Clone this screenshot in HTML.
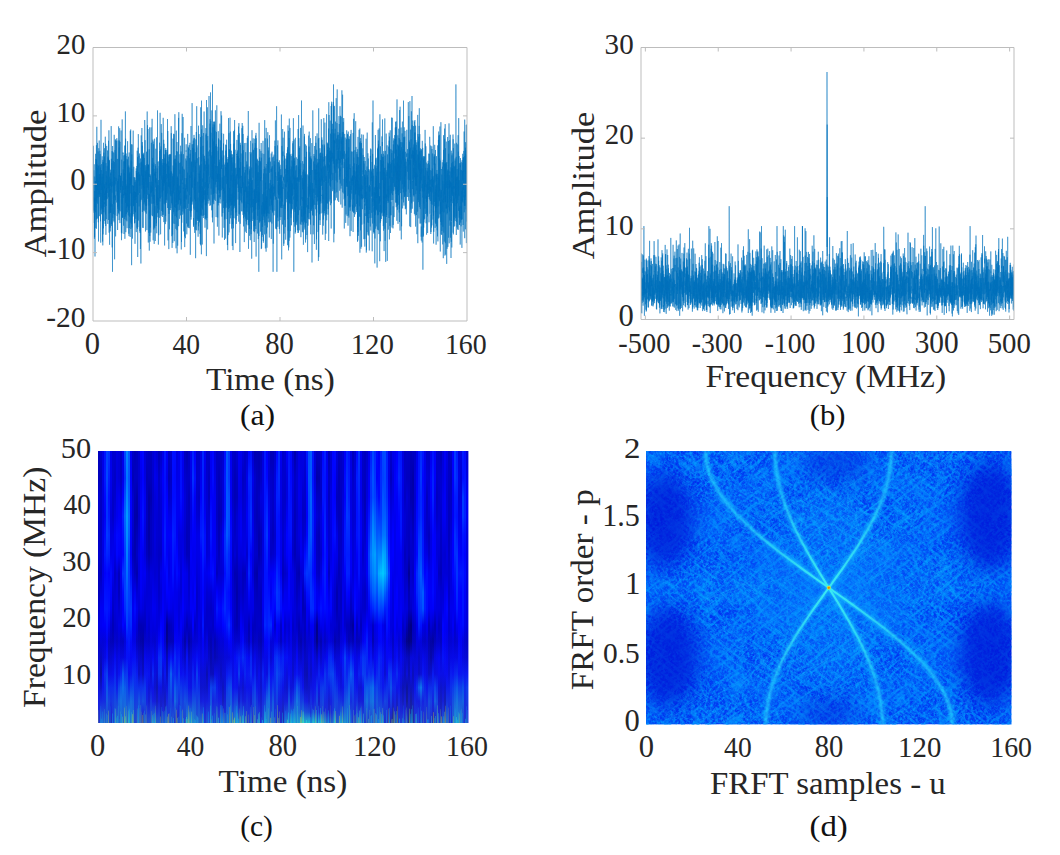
<!DOCTYPE html><html><head><meta charset="utf-8"><style>html,body{margin:0;padding:0;background:#fff;}svg{display:block;}</style></head><body><svg width="1060" height="855" viewBox="0 0 1060 855" style="font-family:&quot;Liberation Serif&quot;, serif">
<defs><linearGradient id="c0" x2="0" y2="1"><stop offset="0" stop-color="#0000bf"/><stop offset="0.04" stop-color="#0000be"/><stop offset="0.1" stop-color="#0000bd"/><stop offset="0.17" stop-color="#0000d2"/><stop offset="0.24" stop-color="#0000cf"/><stop offset="0.31" stop-color="#0000c8"/><stop offset="0.38" stop-color="#0000d2"/><stop offset="0.45" stop-color="#0000c1"/><stop offset="0.52" stop-color="#0000be"/><stop offset="0.58" stop-color="#0000ce"/><stop offset="0.64" stop-color="#0000e4"/><stop offset="0.7" stop-color="#0000cf"/><stop offset="0.76" stop-color="#0000d3"/><stop offset="0.82" stop-color="#0000e5"/><stop offset="0.87" stop-color="#0000f2"/><stop offset="0.92" stop-color="#0001ff"/><stop offset="0.96" stop-color="#0005ff"/><stop offset="1" stop-color="#000aff"/></linearGradient><linearGradient id="c1" x2="0" y2="1"><stop offset="0" stop-color="#0000d0"/><stop offset="0.04" stop-color="#0000c6"/><stop offset="0.1" stop-color="#0000b7"/><stop offset="0.17" stop-color="#0000c2"/><stop offset="0.24" stop-color="#0000be"/><stop offset="0.31" stop-color="#0000bf"/><stop offset="0.38" stop-color="#0000c5"/><stop offset="0.45" stop-color="#0000ba"/><stop offset="0.52" stop-color="#0000dc"/><stop offset="0.58" stop-color="#0000f3"/><stop offset="0.64" stop-color="#0000f2"/><stop offset="0.7" stop-color="#0000dd"/><stop offset="0.76" stop-color="#0000c4"/><stop offset="0.82" stop-color="#0000a5"/><stop offset="0.87" stop-color="#0000d7"/><stop offset="0.92" stop-color="#000dff"/><stop offset="0.96" stop-color="#0032ff"/><stop offset="1" stop-color="#0055ff"/></linearGradient><linearGradient id="c2" x2="0" y2="1"><stop offset="0" stop-color="#0000e5"/><stop offset="0.04" stop-color="#0000e5"/><stop offset="0.1" stop-color="#0000e4"/><stop offset="0.17" stop-color="#0000dc"/><stop offset="0.24" stop-color="#0000dd"/><stop offset="0.31" stop-color="#0000e5"/><stop offset="0.38" stop-color="#0000de"/><stop offset="0.45" stop-color="#0000e4"/><stop offset="0.52" stop-color="#0000e5"/><stop offset="0.58" stop-color="#0000f5"/><stop offset="0.64" stop-color="#0000f9"/><stop offset="0.7" stop-color="#0000da"/><stop offset="0.76" stop-color="#0000dc"/><stop offset="0.82" stop-color="#0001ff"/><stop offset="0.87" stop-color="#0005ff"/><stop offset="0.92" stop-color="#0011ff"/><stop offset="0.96" stop-color="#002fff"/><stop offset="1" stop-color="#004cff"/></linearGradient><linearGradient id="c3" x2="0" y2="1"><stop offset="0" stop-color="#0013ff"/><stop offset="0.04" stop-color="#0014ff"/><stop offset="0.1" stop-color="#0017ff"/><stop offset="0.17" stop-color="#0006ff"/><stop offset="0.24" stop-color="#0000f6"/><stop offset="0.31" stop-color="#000aff"/><stop offset="0.38" stop-color="#0015ff"/><stop offset="0.45" stop-color="#0000fb"/><stop offset="0.52" stop-color="#0010ff"/><stop offset="0.58" stop-color="#0017ff"/><stop offset="0.64" stop-color="#0000fc"/><stop offset="0.7" stop-color="#0000df"/><stop offset="0.76" stop-color="#0000ec"/><stop offset="0.82" stop-color="#0024ff"/><stop offset="0.87" stop-color="#0018ff"/><stop offset="0.92" stop-color="#0013ff"/><stop offset="0.96" stop-color="#002bff"/><stop offset="1" stop-color="#0043ff"/></linearGradient><linearGradient id="c4" x2="0" y2="1"><stop offset="0" stop-color="#003eff"/><stop offset="0.04" stop-color="#0042ff"/><stop offset="0.1" stop-color="#0046ff"/><stop offset="0.17" stop-color="#0036ff"/><stop offset="0.24" stop-color="#0031ff"/><stop offset="0.31" stop-color="#0039ff"/><stop offset="0.38" stop-color="#0025ff"/><stop offset="0.45" stop-color="#0007ff"/><stop offset="0.52" stop-color="#000eff"/><stop offset="0.58" stop-color="#0018ff"/><stop offset="0.64" stop-color="#000dff"/><stop offset="0.7" stop-color="#0000f6"/><stop offset="0.76" stop-color="#0008ff"/><stop offset="0.82" stop-color="#0034ff"/><stop offset="0.87" stop-color="#004bff"/><stop offset="0.92" stop-color="#004dff"/><stop offset="0.96" stop-color="#0038ff"/><stop offset="1" stop-color="#0023ff"/></linearGradient><linearGradient id="c5" x2="0" y2="1"><stop offset="0" stop-color="#0035ff"/><stop offset="0.04" stop-color="#002dff"/><stop offset="0.1" stop-color="#001eff"/><stop offset="0.17" stop-color="#000fff"/><stop offset="0.24" stop-color="#0018ff"/><stop offset="0.31" stop-color="#002cff"/><stop offset="0.38" stop-color="#001eff"/><stop offset="0.45" stop-color="#0000fb"/><stop offset="0.52" stop-color="#000cff"/><stop offset="0.58" stop-color="#0010ff"/><stop offset="0.64" stop-color="#0000f6"/><stop offset="0.7" stop-color="#0000ca"/><stop offset="0.76" stop-color="#0000d2"/><stop offset="0.82" stop-color="#0000f5"/><stop offset="0.87" stop-color="#001fff"/><stop offset="0.92" stop-color="#002dff"/><stop offset="0.96" stop-color="#0025ff"/><stop offset="1" stop-color="#001dff"/></linearGradient><linearGradient id="c6" x2="0" y2="1"><stop offset="0" stop-color="#0000e9"/><stop offset="0.04" stop-color="#0000ea"/><stop offset="0.1" stop-color="#0000ed"/><stop offset="0.17" stop-color="#0000e4"/><stop offset="0.24" stop-color="#0000d7"/><stop offset="0.31" stop-color="#0000df"/><stop offset="0.38" stop-color="#0000e9"/><stop offset="0.45" stop-color="#0009ff"/><stop offset="0.52" stop-color="#0003ff"/><stop offset="0.58" stop-color="#0000f3"/><stop offset="0.64" stop-color="#0000cf"/><stop offset="0.7" stop-color="#0000bc"/><stop offset="0.76" stop-color="#0000d6"/><stop offset="0.82" stop-color="#0000f4"/><stop offset="0.87" stop-color="#001cff"/><stop offset="0.92" stop-color="#001dff"/><stop offset="0.96" stop-color="#0000ff"/><stop offset="1" stop-color="#0000e2"/></linearGradient><linearGradient id="c7" x2="0" y2="1"><stop offset="0" stop-color="#0000cf"/><stop offset="0.04" stop-color="#0000cf"/><stop offset="0.1" stop-color="#0000cf"/><stop offset="0.17" stop-color="#0000c6"/><stop offset="0.24" stop-color="#0000c8"/><stop offset="0.31" stop-color="#0000e1"/><stop offset="0.38" stop-color="#0000ed"/><stop offset="0.45" stop-color="#0000ed"/><stop offset="0.52" stop-color="#0000d2"/><stop offset="0.58" stop-color="#0000c6"/><stop offset="0.64" stop-color="#0000b8"/><stop offset="0.7" stop-color="#0000b9"/><stop offset="0.76" stop-color="#0000df"/><stop offset="0.82" stop-color="#0000fb"/><stop offset="0.87" stop-color="#001dff"/><stop offset="0.92" stop-color="#0025ff"/><stop offset="0.96" stop-color="#001fff"/><stop offset="1" stop-color="#0018ff"/></linearGradient><linearGradient id="c8" x2="0" y2="1"><stop offset="0" stop-color="#0000d1"/><stop offset="0.04" stop-color="#0000cd"/><stop offset="0.1" stop-color="#0000c5"/><stop offset="0.17" stop-color="#0000cd"/><stop offset="0.24" stop-color="#0000df"/><stop offset="0.31" stop-color="#0000f6"/><stop offset="0.38" stop-color="#0000e6"/><stop offset="0.45" stop-color="#0000c7"/><stop offset="0.52" stop-color="#0000d3"/><stop offset="0.58" stop-color="#0000d8"/><stop offset="0.64" stop-color="#0000cc"/><stop offset="0.7" stop-color="#0000d0"/><stop offset="0.76" stop-color="#0000fb"/><stop offset="0.82" stop-color="#0019ff"/><stop offset="0.87" stop-color="#002cff"/><stop offset="0.92" stop-color="#0034ff"/><stop offset="0.96" stop-color="#0033ff"/><stop offset="1" stop-color="#0032ff"/></linearGradient><linearGradient id="c9" x2="0" y2="1"><stop offset="0" stop-color="#0000df"/><stop offset="0.04" stop-color="#0000df"/><stop offset="0.1" stop-color="#0000e0"/><stop offset="0.17" stop-color="#0000eb"/><stop offset="0.24" stop-color="#0000ee"/><stop offset="0.31" stop-color="#0008ff"/><stop offset="0.38" stop-color="#0005ff"/><stop offset="0.45" stop-color="#0000d9"/><stop offset="0.52" stop-color="#0000db"/><stop offset="0.58" stop-color="#0000de"/><stop offset="0.64" stop-color="#0000d5"/><stop offset="0.7" stop-color="#0000c8"/><stop offset="0.76" stop-color="#0000e3"/><stop offset="0.82" stop-color="#0000ee"/><stop offset="0.87" stop-color="#000bff"/><stop offset="0.92" stop-color="#002bff"/><stop offset="0.96" stop-color="#0041ff"/><stop offset="1" stop-color="#0056ff"/></linearGradient><linearGradient id="c10" x2="0" y2="1"><stop offset="0" stop-color="#0000da"/><stop offset="0.04" stop-color="#0000d9"/><stop offset="0.1" stop-color="#0000d8"/><stop offset="0.17" stop-color="#0000f0"/><stop offset="0.24" stop-color="#0000f8"/><stop offset="0.31" stop-color="#0005ff"/><stop offset="0.38" stop-color="#0000fa"/><stop offset="0.45" stop-color="#0000bd"/><stop offset="0.52" stop-color="#0000bd"/><stop offset="0.58" stop-color="#0000d0"/><stop offset="0.64" stop-color="#0000e4"/><stop offset="0.7" stop-color="#0000d4"/><stop offset="0.76" stop-color="#0000ee"/><stop offset="0.82" stop-color="#0006ff"/><stop offset="0.87" stop-color="#003aff"/><stop offset="0.92" stop-color="#0057ff"/><stop offset="0.96" stop-color="#0047ff"/><stop offset="1" stop-color="#0035ff"/></linearGradient><linearGradient id="c11" x2="0" y2="1"><stop offset="0" stop-color="#0000c4"/><stop offset="0.04" stop-color="#0000c3"/><stop offset="0.1" stop-color="#0000c4"/><stop offset="0.17" stop-color="#0000d8"/><stop offset="0.24" stop-color="#0000f1"/><stop offset="0.31" stop-color="#0000f9"/><stop offset="0.38" stop-color="#0000f3"/><stop offset="0.45" stop-color="#0000ed"/><stop offset="0.52" stop-color="#0000e6"/><stop offset="0.58" stop-color="#0000e5"/><stop offset="0.64" stop-color="#0000e0"/><stop offset="0.7" stop-color="#0000c5"/><stop offset="0.76" stop-color="#0000e2"/><stop offset="0.82" stop-color="#0018ff"/><stop offset="0.87" stop-color="#0052ff"/><stop offset="0.92" stop-color="#0068ff"/><stop offset="0.96" stop-color="#005dff"/><stop offset="1" stop-color="#0051ff"/></linearGradient><linearGradient id="c12" x2="0" y2="1"><stop offset="0" stop-color="#0000e9"/><stop offset="0.04" stop-color="#0000e8"/><stop offset="0.1" stop-color="#0000e6"/><stop offset="0.17" stop-color="#0002ff"/><stop offset="0.24" stop-color="#001fff"/><stop offset="0.31" stop-color="#000fff"/><stop offset="0.38" stop-color="#0002ff"/><stop offset="0.45" stop-color="#0037ff"/><stop offset="0.52" stop-color="#000aff"/><stop offset="0.58" stop-color="#0000fc"/><stop offset="0.64" stop-color="#0004ff"/><stop offset="0.7" stop-color="#0000c3"/><stop offset="0.76" stop-color="#0000e4"/><stop offset="0.82" stop-color="#0050ff"/><stop offset="0.87" stop-color="#0068ff"/><stop offset="0.92" stop-color="#0057ff"/><stop offset="0.96" stop-color="#0051ff"/><stop offset="1" stop-color="#004aff"/></linearGradient><linearGradient id="c13" x2="0" y2="1"><stop offset="0" stop-color="#0049ff"/><stop offset="0.04" stop-color="#003eff"/><stop offset="0.1" stop-color="#002cff"/><stop offset="0.17" stop-color="#004dff"/><stop offset="0.24" stop-color="#0067ff"/><stop offset="0.31" stop-color="#0051ff"/><stop offset="0.38" stop-color="#0038ff"/><stop offset="0.45" stop-color="#003dff"/><stop offset="0.52" stop-color="#003fff"/><stop offset="0.58" stop-color="#0028ff"/><stop offset="0.64" stop-color="#0000f8"/><stop offset="0.7" stop-color="#0000dc"/><stop offset="0.76" stop-color="#0000f1"/><stop offset="0.82" stop-color="#002aff"/><stop offset="0.87" stop-color="#0054ff"/><stop offset="0.92" stop-color="#005cff"/><stop offset="0.96" stop-color="#0063ff"/><stop offset="1" stop-color="#0069ff"/></linearGradient><linearGradient id="c14" x2="0" y2="1"><stop offset="0" stop-color="#0086ff"/><stop offset="0.04" stop-color="#0081ff"/><stop offset="0.1" stop-color="#0077ff"/><stop offset="0.17" stop-color="#008bff"/><stop offset="0.24" stop-color="#009aff"/><stop offset="0.31" stop-color="#008dff"/><stop offset="0.38" stop-color="#0081ff"/><stop offset="0.45" stop-color="#006fff"/><stop offset="0.52" stop-color="#0056ff"/><stop offset="0.58" stop-color="#0049ff"/><stop offset="0.64" stop-color="#003cff"/><stop offset="0.7" stop-color="#000cff"/><stop offset="0.76" stop-color="#000aff"/><stop offset="0.82" stop-color="#002eff"/><stop offset="0.87" stop-color="#0040ff"/><stop offset="0.92" stop-color="#0044ff"/><stop offset="0.96" stop-color="#0050ff"/><stop offset="1" stop-color="#005cff"/></linearGradient><linearGradient id="c15" x2="0" y2="1"><stop offset="0" stop-color="#005cff"/><stop offset="0.04" stop-color="#005aff"/><stop offset="0.1" stop-color="#0055ff"/><stop offset="0.17" stop-color="#005bff"/><stop offset="0.24" stop-color="#006bff"/><stop offset="0.31" stop-color="#005dff"/><stop offset="0.38" stop-color="#0041ff"/><stop offset="0.45" stop-color="#003eff"/><stop offset="0.52" stop-color="#003eff"/><stop offset="0.58" stop-color="#0036ff"/><stop offset="0.64" stop-color="#0022ff"/><stop offset="0.7" stop-color="#0016ff"/><stop offset="0.76" stop-color="#0008ff"/><stop offset="0.82" stop-color="#0000fc"/><stop offset="0.87" stop-color="#001eff"/><stop offset="0.92" stop-color="#0047ff"/><stop offset="0.96" stop-color="#0075ff"/><stop offset="1" stop-color="#00a3ff"/></linearGradient><linearGradient id="c16" x2="0" y2="1"><stop offset="0" stop-color="#0000ef"/><stop offset="0.04" stop-color="#0000f4"/><stop offset="0.1" stop-color="#0000fc"/><stop offset="0.17" stop-color="#0001ff"/><stop offset="0.24" stop-color="#0000fe"/><stop offset="0.31" stop-color="#0000fd"/><stop offset="0.38" stop-color="#0000fd"/><stop offset="0.45" stop-color="#000bff"/><stop offset="0.52" stop-color="#002bff"/><stop offset="0.58" stop-color="#0038ff"/><stop offset="0.64" stop-color="#002aff"/><stop offset="0.7" stop-color="#0007ff"/><stop offset="0.76" stop-color="#0000fc"/><stop offset="0.82" stop-color="#0008ff"/><stop offset="0.87" stop-color="#0038ff"/><stop offset="0.92" stop-color="#0062ff"/><stop offset="0.96" stop-color="#0062ff"/><stop offset="1" stop-color="#0061ff"/></linearGradient><linearGradient id="c17" x2="0" y2="1"><stop offset="0" stop-color="#0000c8"/><stop offset="0.04" stop-color="#0000c0"/><stop offset="0.1" stop-color="#0000b6"/><stop offset="0.17" stop-color="#0000cd"/><stop offset="0.24" stop-color="#0000cf"/><stop offset="0.31" stop-color="#0000c8"/><stop offset="0.38" stop-color="#0000ba"/><stop offset="0.45" stop-color="#0000d3"/><stop offset="0.52" stop-color="#0000e6"/><stop offset="0.58" stop-color="#0000f5"/><stop offset="0.64" stop-color="#0000ee"/><stop offset="0.7" stop-color="#0000ea"/><stop offset="0.76" stop-color="#0004ff"/><stop offset="0.82" stop-color="#001fff"/><stop offset="0.87" stop-color="#003dff"/><stop offset="0.92" stop-color="#0058ff"/><stop offset="0.96" stop-color="#005dff"/><stop offset="1" stop-color="#0063ff"/></linearGradient><linearGradient id="c18" x2="0" y2="1"><stop offset="0" stop-color="#0000b6"/><stop offset="0.04" stop-color="#0000bb"/><stop offset="0.1" stop-color="#0000c2"/><stop offset="0.17" stop-color="#0000b4"/><stop offset="0.24" stop-color="#0000a9"/><stop offset="0.31" stop-color="#0000ad"/><stop offset="0.38" stop-color="#0000af"/><stop offset="0.45" stop-color="#0000bd"/><stop offset="0.52" stop-color="#0000f1"/><stop offset="0.58" stop-color="#000bff"/><stop offset="0.64" stop-color="#0000ef"/><stop offset="0.7" stop-color="#0000e7"/><stop offset="0.76" stop-color="#0007ff"/><stop offset="0.82" stop-color="#001dff"/><stop offset="0.87" stop-color="#0024ff"/><stop offset="0.92" stop-color="#0026ff"/><stop offset="0.96" stop-color="#0025ff"/><stop offset="1" stop-color="#0023ff"/></linearGradient><linearGradient id="c19" x2="0" y2="1"><stop offset="0" stop-color="#0000be"/><stop offset="0.04" stop-color="#0000c0"/><stop offset="0.1" stop-color="#0000c2"/><stop offset="0.17" stop-color="#0000a9"/><stop offset="0.24" stop-color="#0000a6"/><stop offset="0.31" stop-color="#0000ba"/><stop offset="0.38" stop-color="#0000c5"/><stop offset="0.45" stop-color="#0000ae"/><stop offset="0.52" stop-color="#0000d3"/><stop offset="0.58" stop-color="#0000ec"/><stop offset="0.64" stop-color="#0000d9"/><stop offset="0.7" stop-color="#0000c1"/><stop offset="0.76" stop-color="#0000e6"/><stop offset="0.82" stop-color="#0010ff"/><stop offset="0.87" stop-color="#0023ff"/><stop offset="0.92" stop-color="#002aff"/><stop offset="0.96" stop-color="#002eff"/><stop offset="1" stop-color="#0032ff"/></linearGradient><linearGradient id="c20" x2="0" y2="1"><stop offset="0" stop-color="#0000d0"/><stop offset="0.04" stop-color="#0000d0"/><stop offset="0.1" stop-color="#0000d1"/><stop offset="0.17" stop-color="#0000d5"/><stop offset="0.24" stop-color="#0000cc"/><stop offset="0.31" stop-color="#0000d3"/><stop offset="0.38" stop-color="#0000e2"/><stop offset="0.45" stop-color="#0000de"/><stop offset="0.52" stop-color="#0000db"/><stop offset="0.58" stop-color="#0000d7"/><stop offset="0.64" stop-color="#0000b5"/><stop offset="0.7" stop-color="#0000b7"/><stop offset="0.76" stop-color="#0000d0"/><stop offset="0.82" stop-color="#0000d0"/><stop offset="0.87" stop-color="#001fff"/><stop offset="0.92" stop-color="#0048ff"/><stop offset="0.96" stop-color="#003eff"/><stop offset="1" stop-color="#0033ff"/></linearGradient><linearGradient id="c21" x2="0" y2="1"><stop offset="0" stop-color="#0000fe"/><stop offset="0.04" stop-color="#0000f7"/><stop offset="0.1" stop-color="#0000eb"/><stop offset="0.17" stop-color="#0000f5"/><stop offset="0.24" stop-color="#0000f9"/><stop offset="0.31" stop-color="#0000fa"/><stop offset="0.38" stop-color="#0000f8"/><stop offset="0.45" stop-color="#0000f9"/><stop offset="0.52" stop-color="#0000f5"/><stop offset="0.58" stop-color="#0000e5"/><stop offset="0.64" stop-color="#0000b6"/><stop offset="0.7" stop-color="#0000ab"/><stop offset="0.76" stop-color="#0000cc"/><stop offset="0.82" stop-color="#0000ea"/><stop offset="0.87" stop-color="#0021ff"/><stop offset="0.92" stop-color="#002dff"/><stop offset="0.96" stop-color="#0020ff"/><stop offset="1" stop-color="#0013ff"/></linearGradient><linearGradient id="c22" x2="0" y2="1"><stop offset="0" stop-color="#0007ff"/><stop offset="0.04" stop-color="#0004ff"/><stop offset="0.1" stop-color="#0001ff"/><stop offset="0.17" stop-color="#0009ff"/><stop offset="0.24" stop-color="#0013ff"/><stop offset="0.31" stop-color="#0008ff"/><stop offset="0.38" stop-color="#0000ef"/><stop offset="0.45" stop-color="#0000f1"/><stop offset="0.52" stop-color="#0000e9"/><stop offset="0.58" stop-color="#0000dc"/><stop offset="0.64" stop-color="#0000b9"/><stop offset="0.7" stop-color="#0000a5"/><stop offset="0.76" stop-color="#0000b9"/><stop offset="0.82" stop-color="#0000cb"/><stop offset="0.87" stop-color="#0023ff"/><stop offset="0.92" stop-color="#003dff"/><stop offset="0.96" stop-color="#0007ff"/><stop offset="1" stop-color="#0000d0"/></linearGradient><linearGradient id="c23" x2="0" y2="1"><stop offset="0" stop-color="#0000d7"/><stop offset="0.04" stop-color="#0000da"/><stop offset="0.1" stop-color="#0000e1"/><stop offset="0.17" stop-color="#0000f2"/><stop offset="0.24" stop-color="#0000ec"/><stop offset="0.31" stop-color="#0000dc"/><stop offset="0.38" stop-color="#0000dc"/><stop offset="0.45" stop-color="#0000f4"/><stop offset="0.52" stop-color="#0000dd"/><stop offset="0.58" stop-color="#0000d0"/><stop offset="0.64" stop-color="#0000bd"/><stop offset="0.7" stop-color="#0000cd"/><stop offset="0.76" stop-color="#0000f5"/><stop offset="0.82" stop-color="#0008ff"/><stop offset="0.87" stop-color="#002dff"/><stop offset="0.92" stop-color="#0034ff"/><stop offset="0.96" stop-color="#001eff"/><stop offset="1" stop-color="#0009ff"/></linearGradient><linearGradient id="c24" x2="0" y2="1"><stop offset="0" stop-color="#0000c9"/><stop offset="0.04" stop-color="#0000c2"/><stop offset="0.1" stop-color="#0000b6"/><stop offset="0.17" stop-color="#0000bb"/><stop offset="0.24" stop-color="#0000be"/><stop offset="0.31" stop-color="#0000b7"/><stop offset="0.38" stop-color="#0000bc"/><stop offset="0.45" stop-color="#0000d8"/><stop offset="0.52" stop-color="#0000d5"/><stop offset="0.58" stop-color="#0000dc"/><stop offset="0.64" stop-color="#0000da"/><stop offset="0.7" stop-color="#0000cd"/><stop offset="0.76" stop-color="#0000ec"/><stop offset="0.82" stop-color="#0009ff"/><stop offset="0.87" stop-color="#0008ff"/><stop offset="0.92" stop-color="#0008ff"/><stop offset="0.96" stop-color="#0019ff"/><stop offset="1" stop-color="#002aff"/></linearGradient><linearGradient id="c25" x2="0" y2="1"><stop offset="0" stop-color="#0000be"/><stop offset="0.04" stop-color="#0000bf"/><stop offset="0.1" stop-color="#0000bb"/><stop offset="0.17" stop-color="#0000a4"/><stop offset="0.24" stop-color="#0000a7"/><stop offset="0.31" stop-color="#0000a5"/><stop offset="0.38" stop-color="#0000ad"/><stop offset="0.45" stop-color="#0000cf"/><stop offset="0.52" stop-color="#0000d7"/><stop offset="0.58" stop-color="#0000dc"/><stop offset="0.64" stop-color="#0000ce"/><stop offset="0.7" stop-color="#0000c9"/><stop offset="0.76" stop-color="#0000eb"/><stop offset="0.82" stop-color="#0004ff"/><stop offset="0.87" stop-color="#0000ec"/><stop offset="0.92" stop-color="#0000eb"/><stop offset="0.96" stop-color="#0012ff"/><stop offset="1" stop-color="#0037ff"/></linearGradient><linearGradient id="c26" x2="0" y2="1"><stop offset="0" stop-color="#0000bd"/><stop offset="0.04" stop-color="#0000bd"/><stop offset="0.1" stop-color="#0000bb"/><stop offset="0.17" stop-color="#0000ae"/><stop offset="0.24" stop-color="#0000bd"/><stop offset="0.31" stop-color="#0000c0"/><stop offset="0.38" stop-color="#0000be"/><stop offset="0.45" stop-color="#0000de"/><stop offset="0.52" stop-color="#0000d8"/><stop offset="0.58" stop-color="#0000e0"/><stop offset="0.64" stop-color="#0000e2"/><stop offset="0.7" stop-color="#0000da"/><stop offset="0.76" stop-color="#0000ea"/><stop offset="0.82" stop-color="#0000de"/><stop offset="0.87" stop-color="#0000f8"/><stop offset="0.92" stop-color="#001fff"/><stop offset="0.96" stop-color="#002dff"/><stop offset="1" stop-color="#003aff"/></linearGradient><linearGradient id="c27" x2="0" y2="1"><stop offset="0" stop-color="#0000d3"/><stop offset="0.04" stop-color="#0000d1"/><stop offset="0.1" stop-color="#0000ce"/><stop offset="0.17" stop-color="#0000ca"/><stop offset="0.24" stop-color="#0000cb"/><stop offset="0.31" stop-color="#0000cc"/><stop offset="0.38" stop-color="#0000cc"/><stop offset="0.45" stop-color="#0000db"/><stop offset="0.52" stop-color="#0000ea"/><stop offset="0.58" stop-color="#0000f1"/><stop offset="0.64" stop-color="#0000df"/><stop offset="0.7" stop-color="#0000d3"/><stop offset="0.76" stop-color="#0000fc"/><stop offset="0.82" stop-color="#001fff"/><stop offset="0.87" stop-color="#0000f9"/><stop offset="0.92" stop-color="#0000fe"/><stop offset="0.96" stop-color="#0037ff"/><stop offset="1" stop-color="#006eff"/></linearGradient><linearGradient id="c28" x2="0" y2="1"><stop offset="0" stop-color="#0000de"/><stop offset="0.04" stop-color="#0000e4"/><stop offset="0.1" stop-color="#0000ec"/><stop offset="0.17" stop-color="#0000da"/><stop offset="0.24" stop-color="#0000d9"/><stop offset="0.31" stop-color="#0000de"/><stop offset="0.38" stop-color="#0000d6"/><stop offset="0.45" stop-color="#0000d2"/><stop offset="0.52" stop-color="#0000e4"/><stop offset="0.58" stop-color="#0000ef"/><stop offset="0.64" stop-color="#0000e4"/><stop offset="0.7" stop-color="#0000cf"/><stop offset="0.76" stop-color="#0000e5"/><stop offset="0.82" stop-color="#0000ed"/><stop offset="0.87" stop-color="#0000db"/><stop offset="0.92" stop-color="#0000f7"/><stop offset="0.96" stop-color="#0037ff"/><stop offset="1" stop-color="#0075ff"/></linearGradient><linearGradient id="c29" x2="0" y2="1"><stop offset="0" stop-color="#0000d1"/><stop offset="0.04" stop-color="#0000d8"/><stop offset="0.1" stop-color="#0000e5"/><stop offset="0.17" stop-color="#0000e0"/><stop offset="0.24" stop-color="#0000d5"/><stop offset="0.31" stop-color="#0000d1"/><stop offset="0.38" stop-color="#0000cd"/><stop offset="0.45" stop-color="#0000d6"/><stop offset="0.52" stop-color="#0000de"/><stop offset="0.58" stop-color="#0000e3"/><stop offset="0.64" stop-color="#0000dc"/><stop offset="0.7" stop-color="#0000e0"/><stop offset="0.76" stop-color="#0000f4"/><stop offset="0.82" stop-color="#0000df"/><stop offset="0.87" stop-color="#0000c3"/><stop offset="0.92" stop-color="#0000d5"/><stop offset="0.96" stop-color="#000eff"/><stop offset="1" stop-color="#0044ff"/></linearGradient><linearGradient id="c30" x2="0" y2="1"><stop offset="0" stop-color="#0000b8"/><stop offset="0.04" stop-color="#0000bd"/><stop offset="0.1" stop-color="#0000c6"/><stop offset="0.17" stop-color="#0000ca"/><stop offset="0.24" stop-color="#0000cc"/><stop offset="0.31" stop-color="#0000cd"/><stop offset="0.38" stop-color="#0000c4"/><stop offset="0.45" stop-color="#0000c7"/><stop offset="0.52" stop-color="#0000ca"/><stop offset="0.58" stop-color="#0000d5"/><stop offset="0.64" stop-color="#0000e2"/><stop offset="0.7" stop-color="#0000ff"/><stop offset="0.76" stop-color="#0028ff"/><stop offset="0.82" stop-color="#0027ff"/><stop offset="0.87" stop-color="#0000fb"/><stop offset="0.92" stop-color="#0000f9"/><stop offset="0.96" stop-color="#001fff"/><stop offset="1" stop-color="#0044ff"/></linearGradient><linearGradient id="c31" x2="0" y2="1"><stop offset="0" stop-color="#0000c5"/><stop offset="0.04" stop-color="#0000ce"/><stop offset="0.1" stop-color="#0000de"/><stop offset="0.17" stop-color="#0000d5"/><stop offset="0.24" stop-color="#0000d3"/><stop offset="0.31" stop-color="#0000ce"/><stop offset="0.38" stop-color="#0000c5"/><stop offset="0.45" stop-color="#0000e8"/><stop offset="0.52" stop-color="#0000d7"/><stop offset="0.58" stop-color="#0000e1"/><stop offset="0.64" stop-color="#0003ff"/><stop offset="0.7" stop-color="#000fff"/><stop offset="0.76" stop-color="#002eff"/><stop offset="0.82" stop-color="#002cff"/><stop offset="0.87" stop-color="#0000f6"/><stop offset="0.92" stop-color="#0000e0"/><stop offset="0.96" stop-color="#0000e5"/><stop offset="1" stop-color="#0000ea"/></linearGradient><linearGradient id="c32" x2="0" y2="1"><stop offset="0" stop-color="#0000e5"/><stop offset="0.04" stop-color="#0000ed"/><stop offset="0.1" stop-color="#0000fc"/><stop offset="0.17" stop-color="#0000f3"/><stop offset="0.24" stop-color="#0000f4"/><stop offset="0.31" stop-color="#0000f8"/><stop offset="0.38" stop-color="#0000f1"/><stop offset="0.45" stop-color="#0000f2"/><stop offset="0.52" stop-color="#0000f3"/><stop offset="0.58" stop-color="#0000f9"/><stop offset="0.64" stop-color="#0000fb"/><stop offset="0.7" stop-color="#0000fc"/><stop offset="0.76" stop-color="#0008ff"/><stop offset="0.82" stop-color="#0000e0"/><stop offset="0.87" stop-color="#0000db"/><stop offset="0.92" stop-color="#0000eb"/><stop offset="0.96" stop-color="#0008ff"/><stop offset="1" stop-color="#0023ff"/></linearGradient><linearGradient id="c33" x2="0" y2="1"><stop offset="0" stop-color="#0019ff"/><stop offset="0.04" stop-color="#0016ff"/><stop offset="0.1" stop-color="#0010ff"/><stop offset="0.17" stop-color="#000cff"/><stop offset="0.24" stop-color="#0014ff"/><stop offset="0.31" stop-color="#001fff"/><stop offset="0.38" stop-color="#0015ff"/><stop offset="0.45" stop-color="#0000fa"/><stop offset="0.52" stop-color="#0000ea"/><stop offset="0.58" stop-color="#0000ea"/><stop offset="0.64" stop-color="#0000dc"/><stop offset="0.7" stop-color="#0000cf"/><stop offset="0.76" stop-color="#0000f8"/><stop offset="0.82" stop-color="#0008ff"/><stop offset="0.87" stop-color="#0000e3"/><stop offset="0.92" stop-color="#0000d0"/><stop offset="0.96" stop-color="#0000eb"/><stop offset="1" stop-color="#0006ff"/></linearGradient><linearGradient id="c34" x2="0" y2="1"><stop offset="0" stop-color="#0000f6"/><stop offset="0.04" stop-color="#0000f0"/><stop offset="0.1" stop-color="#0000e8"/><stop offset="0.17" stop-color="#0000fe"/><stop offset="0.24" stop-color="#0000fc"/><stop offset="0.31" stop-color="#0000fa"/><stop offset="0.38" stop-color="#0000f8"/><stop offset="0.45" stop-color="#000aff"/><stop offset="0.52" stop-color="#0001ff"/><stop offset="0.58" stop-color="#0000e5"/><stop offset="0.64" stop-color="#000094"/><stop offset="0.7" stop-color="#00008c"/><stop offset="0.76" stop-color="#0000ba"/><stop offset="0.82" stop-color="#0000c7"/><stop offset="0.87" stop-color="#0000ee"/><stop offset="0.92" stop-color="#000aff"/><stop offset="0.96" stop-color="#0018ff"/><stop offset="1" stop-color="#0025ff"/></linearGradient><linearGradient id="c35" x2="0" y2="1"><stop offset="0" stop-color="#0000c4"/><stop offset="0.04" stop-color="#0000c0"/><stop offset="0.1" stop-color="#0000b9"/><stop offset="0.17" stop-color="#0000c8"/><stop offset="0.24" stop-color="#0000e9"/><stop offset="0.31" stop-color="#0000fa"/><stop offset="0.38" stop-color="#0000e8"/><stop offset="0.45" stop-color="#0000e4"/><stop offset="0.52" stop-color="#0000fc"/><stop offset="0.58" stop-color="#0000f5"/><stop offset="0.64" stop-color="#0000b6"/><stop offset="0.7" stop-color="#0000b5"/><stop offset="0.76" stop-color="#0000fa"/><stop offset="0.82" stop-color="#0022ff"/><stop offset="0.87" stop-color="#002cff"/><stop offset="0.92" stop-color="#0025ff"/><stop offset="0.96" stop-color="#0019ff"/><stop offset="1" stop-color="#000dff"/></linearGradient><linearGradient id="c36" x2="0" y2="1"><stop offset="0" stop-color="#0000d0"/><stop offset="0.04" stop-color="#0000cb"/><stop offset="0.1" stop-color="#0000c5"/><stop offset="0.17" stop-color="#0000d2"/><stop offset="0.24" stop-color="#0000e8"/><stop offset="0.31" stop-color="#0000fc"/><stop offset="0.38" stop-color="#0000f7"/><stop offset="0.45" stop-color="#0000f5"/><stop offset="0.52" stop-color="#0000f5"/><stop offset="0.58" stop-color="#0000ea"/><stop offset="0.64" stop-color="#0000c0"/><stop offset="0.7" stop-color="#0000b8"/><stop offset="0.76" stop-color="#000fff"/><stop offset="0.82" stop-color="#005bff"/><stop offset="0.87" stop-color="#0049ff"/><stop offset="0.92" stop-color="#002dff"/><stop offset="0.96" stop-color="#0027ff"/><stop offset="1" stop-color="#0021ff"/></linearGradient><linearGradient id="c37" x2="0" y2="1"><stop offset="0" stop-color="#000eff"/><stop offset="0.04" stop-color="#000eff"/><stop offset="0.1" stop-color="#000cff"/><stop offset="0.17" stop-color="#000bff"/><stop offset="0.24" stop-color="#0015ff"/><stop offset="0.31" stop-color="#0021ff"/><stop offset="0.38" stop-color="#0017ff"/><stop offset="0.45" stop-color="#0013ff"/><stop offset="0.52" stop-color="#0000f5"/><stop offset="0.58" stop-color="#0000e3"/><stop offset="0.64" stop-color="#0000cc"/><stop offset="0.7" stop-color="#0000ba"/><stop offset="0.76" stop-color="#0000fb"/><stop offset="0.82" stop-color="#0024ff"/><stop offset="0.87" stop-color="#001cff"/><stop offset="0.92" stop-color="#0013ff"/><stop offset="0.96" stop-color="#0029ff"/><stop offset="1" stop-color="#003eff"/></linearGradient><linearGradient id="c38" x2="0" y2="1"><stop offset="0" stop-color="#000cff"/><stop offset="0.04" stop-color="#000bff"/><stop offset="0.1" stop-color="#0008ff"/><stop offset="0.17" stop-color="#000dff"/><stop offset="0.24" stop-color="#0015ff"/><stop offset="0.31" stop-color="#0019ff"/><stop offset="0.38" stop-color="#000bff"/><stop offset="0.45" stop-color="#0000f3"/><stop offset="0.52" stop-color="#0000ec"/><stop offset="0.58" stop-color="#0000ec"/><stop offset="0.64" stop-color="#0000ea"/><stop offset="0.7" stop-color="#0000f9"/><stop offset="0.76" stop-color="#0027ff"/><stop offset="0.82" stop-color="#0024ff"/><stop offset="0.87" stop-color="#0053ff"/><stop offset="0.92" stop-color="#005eff"/><stop offset="0.96" stop-color="#002cff"/><stop offset="1" stop-color="#0000f8"/></linearGradient><linearGradient id="c39" x2="0" y2="1"><stop offset="0" stop-color="#0000df"/><stop offset="0.04" stop-color="#0000e1"/><stop offset="0.1" stop-color="#0000e7"/><stop offset="0.17" stop-color="#0000f1"/><stop offset="0.24" stop-color="#0000f2"/><stop offset="0.31" stop-color="#0000f3"/><stop offset="0.38" stop-color="#0004ff"/><stop offset="0.45" stop-color="#000bff"/><stop offset="0.52" stop-color="#0000eb"/><stop offset="0.58" stop-color="#0000e8"/><stop offset="0.64" stop-color="#0000f3"/><stop offset="0.7" stop-color="#0000f4"/><stop offset="0.76" stop-color="#000dff"/><stop offset="0.82" stop-color="#0012ff"/><stop offset="0.87" stop-color="#0037ff"/><stop offset="0.92" stop-color="#003aff"/><stop offset="0.96" stop-color="#000fff"/><stop offset="1" stop-color="#0000e2"/></linearGradient><linearGradient id="c40" x2="0" y2="1"><stop offset="0" stop-color="#0000ec"/><stop offset="0.04" stop-color="#0000eb"/><stop offset="0.1" stop-color="#0000ea"/><stop offset="0.17" stop-color="#0000f0"/><stop offset="0.24" stop-color="#0000f0"/><stop offset="0.31" stop-color="#0000de"/><stop offset="0.38" stop-color="#0000e0"/><stop offset="0.45" stop-color="#0000fb"/><stop offset="0.52" stop-color="#0000e1"/><stop offset="0.58" stop-color="#0000db"/><stop offset="0.64" stop-color="#0000dd"/><stop offset="0.7" stop-color="#0000f3"/><stop offset="0.76" stop-color="#0013ff"/><stop offset="0.82" stop-color="#0031ff"/><stop offset="0.87" stop-color="#0030ff"/><stop offset="0.92" stop-color="#001aff"/><stop offset="0.96" stop-color="#0005ff"/><stop offset="1" stop-color="#0000ef"/></linearGradient><linearGradient id="c41" x2="0" y2="1"><stop offset="0" stop-color="#000dff"/><stop offset="0.04" stop-color="#000eff"/><stop offset="0.1" stop-color="#0010ff"/><stop offset="0.17" stop-color="#000fff"/><stop offset="0.24" stop-color="#0000fe"/><stop offset="0.31" stop-color="#0000e2"/><stop offset="0.38" stop-color="#0000dd"/><stop offset="0.45" stop-color="#0000d8"/><stop offset="0.52" stop-color="#0000d6"/><stop offset="0.58" stop-color="#0000e9"/><stop offset="0.64" stop-color="#0000fb"/><stop offset="0.7" stop-color="#0000ef"/><stop offset="0.76" stop-color="#0000f3"/><stop offset="0.82" stop-color="#0001ff"/><stop offset="0.87" stop-color="#0029ff"/><stop offset="0.92" stop-color="#0039ff"/><stop offset="0.96" stop-color="#002eff"/><stop offset="1" stop-color="#0022ff"/></linearGradient><linearGradient id="c42" x2="0" y2="1"><stop offset="0" stop-color="#0000f1"/><stop offset="0.04" stop-color="#0000ee"/><stop offset="0.1" stop-color="#0000eb"/><stop offset="0.17" stop-color="#0000f4"/><stop offset="0.24" stop-color="#0000eb"/><stop offset="0.31" stop-color="#0000de"/><stop offset="0.38" stop-color="#0000e6"/><stop offset="0.45" stop-color="#0000f4"/><stop offset="0.52" stop-color="#0000f8"/><stop offset="0.58" stop-color="#0000fe"/><stop offset="0.64" stop-color="#0000eb"/><stop offset="0.7" stop-color="#0000c9"/><stop offset="0.76" stop-color="#0000de"/><stop offset="0.82" stop-color="#0007ff"/><stop offset="0.87" stop-color="#001eff"/><stop offset="0.92" stop-color="#002aff"/><stop offset="0.96" stop-color="#002cff"/><stop offset="1" stop-color="#002dff"/></linearGradient><linearGradient id="c43" x2="0" y2="1"><stop offset="0" stop-color="#0000bd"/><stop offset="0.04" stop-color="#0000c2"/><stop offset="0.1" stop-color="#0000ce"/><stop offset="0.17" stop-color="#0000d9"/><stop offset="0.24" stop-color="#0000d6"/><stop offset="0.31" stop-color="#0000ce"/><stop offset="0.38" stop-color="#0000cf"/><stop offset="0.45" stop-color="#0000ee"/><stop offset="0.52" stop-color="#0000e7"/><stop offset="0.58" stop-color="#0000ea"/><stop offset="0.64" stop-color="#0000d0"/><stop offset="0.7" stop-color="#0000aa"/><stop offset="0.76" stop-color="#0000ca"/><stop offset="0.82" stop-color="#0000f6"/><stop offset="0.87" stop-color="#0023ff"/><stop offset="0.92" stop-color="#0040ff"/><stop offset="0.96" stop-color="#002dff"/><stop offset="1" stop-color="#001aff"/></linearGradient><linearGradient id="c44" x2="0" y2="1"><stop offset="0" stop-color="#0000b2"/><stop offset="0.04" stop-color="#0000b9"/><stop offset="0.1" stop-color="#0000c6"/><stop offset="0.17" stop-color="#0000c6"/><stop offset="0.24" stop-color="#0000c1"/><stop offset="0.31" stop-color="#0000b9"/><stop offset="0.38" stop-color="#0000ba"/><stop offset="0.45" stop-color="#0000e6"/><stop offset="0.52" stop-color="#0000e6"/><stop offset="0.58" stop-color="#0000e1"/><stop offset="0.64" stop-color="#0000b7"/><stop offset="0.7" stop-color="#0000d4"/><stop offset="0.76" stop-color="#0009ff"/><stop offset="0.82" stop-color="#000bff"/><stop offset="0.87" stop-color="#001dff"/><stop offset="0.92" stop-color="#0038ff"/><stop offset="0.96" stop-color="#0057ff"/><stop offset="1" stop-color="#0076ff"/></linearGradient><linearGradient id="c45" x2="0" y2="1"><stop offset="0" stop-color="#0000c3"/><stop offset="0.04" stop-color="#0000c4"/><stop offset="0.1" stop-color="#0000c6"/><stop offset="0.17" stop-color="#0000b9"/><stop offset="0.24" stop-color="#0000bc"/><stop offset="0.31" stop-color="#0000bd"/><stop offset="0.38" stop-color="#0000bb"/><stop offset="0.45" stop-color="#0000cb"/><stop offset="0.52" stop-color="#0000d1"/><stop offset="0.58" stop-color="#0000dd"/><stop offset="0.64" stop-color="#0000cb"/><stop offset="0.7" stop-color="#0000a5"/><stop offset="0.76" stop-color="#0000c9"/><stop offset="0.82" stop-color="#0000f3"/><stop offset="0.87" stop-color="#0000fe"/><stop offset="0.92" stop-color="#001dff"/><stop offset="0.96" stop-color="#0053ff"/><stop offset="1" stop-color="#0087ff"/></linearGradient><linearGradient id="c46" x2="0" y2="1"><stop offset="0" stop-color="#0000f0"/><stop offset="0.04" stop-color="#0000ed"/><stop offset="0.1" stop-color="#0000e8"/><stop offset="0.17" stop-color="#0000e0"/><stop offset="0.24" stop-color="#0000e0"/><stop offset="0.31" stop-color="#0000ec"/><stop offset="0.38" stop-color="#0000fa"/><stop offset="0.45" stop-color="#0000ee"/><stop offset="0.52" stop-color="#0000f7"/><stop offset="0.58" stop-color="#0000f7"/><stop offset="0.64" stop-color="#0000cf"/><stop offset="0.7" stop-color="#0000bb"/><stop offset="0.76" stop-color="#0000da"/><stop offset="0.82" stop-color="#0000ea"/><stop offset="0.87" stop-color="#0000f7"/><stop offset="0.92" stop-color="#001aff"/><stop offset="0.96" stop-color="#004bff"/><stop offset="1" stop-color="#007cff"/></linearGradient><linearGradient id="c47" x2="0" y2="1"><stop offset="0" stop-color="#001eff"/><stop offset="0.04" stop-color="#0026ff"/><stop offset="0.1" stop-color="#0031ff"/><stop offset="0.17" stop-color="#0017ff"/><stop offset="0.24" stop-color="#0007ff"/><stop offset="0.31" stop-color="#0000f9"/><stop offset="0.38" stop-color="#0000ed"/><stop offset="0.45" stop-color="#0000f5"/><stop offset="0.52" stop-color="#0000e9"/><stop offset="0.58" stop-color="#0000f8"/><stop offset="0.64" stop-color="#0002ff"/><stop offset="0.7" stop-color="#0000d6"/><stop offset="0.76" stop-color="#0000f2"/><stop offset="0.82" stop-color="#0018ff"/><stop offset="0.87" stop-color="#0021ff"/><stop offset="0.92" stop-color="#003bff"/><stop offset="0.96" stop-color="#005dff"/><stop offset="1" stop-color="#007eff"/></linearGradient><linearGradient id="c48" x2="0" y2="1"><stop offset="0" stop-color="#0000fc"/><stop offset="0.04" stop-color="#0004ff"/><stop offset="0.1" stop-color="#000fff"/><stop offset="0.17" stop-color="#0000f6"/><stop offset="0.24" stop-color="#0000f3"/><stop offset="0.31" stop-color="#0000f7"/><stop offset="0.38" stop-color="#0000f0"/><stop offset="0.45" stop-color="#0000f0"/><stop offset="0.52" stop-color="#0002ff"/><stop offset="0.58" stop-color="#0000f5"/><stop offset="0.64" stop-color="#0000c4"/><stop offset="0.7" stop-color="#0000d5"/><stop offset="0.76" stop-color="#0000f6"/><stop offset="0.82" stop-color="#0000f5"/><stop offset="0.87" stop-color="#0017ff"/><stop offset="0.92" stop-color="#003dff"/><stop offset="0.96" stop-color="#0053ff"/><stop offset="1" stop-color="#0069ff"/></linearGradient><linearGradient id="c49" x2="0" y2="1"><stop offset="0" stop-color="#0000c8"/><stop offset="0.04" stop-color="#0000c9"/><stop offset="0.1" stop-color="#0000cc"/><stop offset="0.17" stop-color="#0000c9"/><stop offset="0.24" stop-color="#0000d3"/><stop offset="0.31" stop-color="#0000e7"/><stop offset="0.38" stop-color="#0000e6"/><stop offset="0.45" stop-color="#0000d9"/><stop offset="0.52" stop-color="#0000c9"/><stop offset="0.58" stop-color="#0000ca"/><stop offset="0.64" stop-color="#0000d4"/><stop offset="0.7" stop-color="#0000d8"/><stop offset="0.76" stop-color="#0007ff"/><stop offset="0.82" stop-color="#0035ff"/><stop offset="0.87" stop-color="#0029ff"/><stop offset="0.92" stop-color="#0026ff"/><stop offset="0.96" stop-color="#0030ff"/><stop offset="1" stop-color="#003aff"/></linearGradient><linearGradient id="c50" x2="0" y2="1"><stop offset="0" stop-color="#0000c7"/><stop offset="0.04" stop-color="#0000ca"/><stop offset="0.1" stop-color="#0000cf"/><stop offset="0.17" stop-color="#0000c1"/><stop offset="0.24" stop-color="#0000cf"/><stop offset="0.31" stop-color="#0000e9"/><stop offset="0.38" stop-color="#0000e7"/><stop offset="0.45" stop-color="#0000e1"/><stop offset="0.52" stop-color="#0000d9"/><stop offset="0.58" stop-color="#0000dc"/><stop offset="0.64" stop-color="#0000e9"/><stop offset="0.7" stop-color="#0000e5"/><stop offset="0.76" stop-color="#0000f8"/><stop offset="0.82" stop-color="#0006ff"/><stop offset="0.87" stop-color="#001cff"/><stop offset="0.92" stop-color="#0034ff"/><stop offset="0.96" stop-color="#003eff"/><stop offset="1" stop-color="#0049ff"/></linearGradient><linearGradient id="c51" x2="0" y2="1"><stop offset="0" stop-color="#0000e2"/><stop offset="0.04" stop-color="#0000e6"/><stop offset="0.1" stop-color="#0000ee"/><stop offset="0.17" stop-color="#0000fc"/><stop offset="0.24" stop-color="#0011ff"/><stop offset="0.31" stop-color="#001aff"/><stop offset="0.38" stop-color="#0000fc"/><stop offset="0.45" stop-color="#0000f1"/><stop offset="0.52" stop-color="#0000ef"/><stop offset="0.58" stop-color="#0000e7"/><stop offset="0.64" stop-color="#0000db"/><stop offset="0.7" stop-color="#0000de"/><stop offset="0.76" stop-color="#0000eb"/><stop offset="0.82" stop-color="#0000de"/><stop offset="0.87" stop-color="#0000db"/><stop offset="0.92" stop-color="#0000f7"/><stop offset="0.96" stop-color="#0028ff"/><stop offset="1" stop-color="#0057ff"/></linearGradient><linearGradient id="c52" x2="0" y2="1"><stop offset="0" stop-color="#0025ff"/><stop offset="0.04" stop-color="#0024ff"/><stop offset="0.1" stop-color="#0021ff"/><stop offset="0.17" stop-color="#001cff"/><stop offset="0.24" stop-color="#0019ff"/><stop offset="0.31" stop-color="#0023ff"/><stop offset="0.38" stop-color="#001fff"/><stop offset="0.45" stop-color="#000cff"/><stop offset="0.52" stop-color="#0002ff"/><stop offset="0.58" stop-color="#0007ff"/><stop offset="0.64" stop-color="#0015ff"/><stop offset="0.7" stop-color="#0000fb"/><stop offset="0.76" stop-color="#0000f7"/><stop offset="0.82" stop-color="#0000e1"/><stop offset="0.87" stop-color="#0000de"/><stop offset="0.92" stop-color="#0002ff"/><stop offset="0.96" stop-color="#002bff"/><stop offset="1" stop-color="#0054ff"/></linearGradient><linearGradient id="c53" x2="0" y2="1"><stop offset="0" stop-color="#0000f3"/><stop offset="0.04" stop-color="#0000ef"/><stop offset="0.1" stop-color="#0000e8"/><stop offset="0.17" stop-color="#0000e6"/><stop offset="0.24" stop-color="#0000f8"/><stop offset="0.31" stop-color="#000eff"/><stop offset="0.38" stop-color="#000bff"/><stop offset="0.45" stop-color="#0000ef"/><stop offset="0.52" stop-color="#0000e4"/><stop offset="0.58" stop-color="#0000da"/><stop offset="0.64" stop-color="#0000cb"/><stop offset="0.7" stop-color="#0000d3"/><stop offset="0.76" stop-color="#0000e7"/><stop offset="0.82" stop-color="#0000de"/><stop offset="0.87" stop-color="#0000da"/><stop offset="0.92" stop-color="#0000f8"/><stop offset="0.96" stop-color="#0005ff"/><stop offset="1" stop-color="#0010ff"/></linearGradient><linearGradient id="c54" x2="0" y2="1"><stop offset="0" stop-color="#0000c6"/><stop offset="0.04" stop-color="#0000c8"/><stop offset="0.1" stop-color="#0000cd"/><stop offset="0.17" stop-color="#0000d4"/><stop offset="0.24" stop-color="#0000d0"/><stop offset="0.31" stop-color="#0000d1"/><stop offset="0.38" stop-color="#0000d5"/><stop offset="0.45" stop-color="#0000ee"/><stop offset="0.52" stop-color="#0000d3"/><stop offset="0.58" stop-color="#0000c8"/><stop offset="0.64" stop-color="#0000cb"/><stop offset="0.7" stop-color="#0000e3"/><stop offset="0.76" stop-color="#0000e7"/><stop offset="0.82" stop-color="#0000b8"/><stop offset="0.87" stop-color="#0000d1"/><stop offset="0.92" stop-color="#0000fd"/><stop offset="0.96" stop-color="#001cff"/><stop offset="1" stop-color="#0039ff"/></linearGradient><linearGradient id="c55" x2="0" y2="1"><stop offset="0" stop-color="#0000c9"/><stop offset="0.04" stop-color="#0000c6"/><stop offset="0.1" stop-color="#0000bf"/><stop offset="0.17" stop-color="#0000bd"/><stop offset="0.24" stop-color="#0000cd"/><stop offset="0.31" stop-color="#0000d9"/><stop offset="0.38" stop-color="#0000da"/><stop offset="0.45" stop-color="#0000f4"/><stop offset="0.52" stop-color="#0000d7"/><stop offset="0.58" stop-color="#0000ca"/><stop offset="0.64" stop-color="#0000cd"/><stop offset="0.7" stop-color="#0000bc"/><stop offset="0.76" stop-color="#0000cc"/><stop offset="0.82" stop-color="#0000e8"/><stop offset="0.87" stop-color="#0002ff"/><stop offset="0.92" stop-color="#0008ff"/><stop offset="0.96" stop-color="#0019ff"/><stop offset="1" stop-color="#0029ff"/></linearGradient><linearGradient id="c56" x2="0" y2="1"><stop offset="0" stop-color="#0000f7"/><stop offset="0.04" stop-color="#0000f4"/><stop offset="0.1" stop-color="#0000f0"/><stop offset="0.17" stop-color="#0000fb"/><stop offset="0.24" stop-color="#000fff"/><stop offset="0.31" stop-color="#0016ff"/><stop offset="0.38" stop-color="#0005ff"/><stop offset="0.45" stop-color="#0006ff"/><stop offset="0.52" stop-color="#0000d5"/><stop offset="0.58" stop-color="#0000c4"/><stop offset="0.64" stop-color="#0000cf"/><stop offset="0.7" stop-color="#0000b4"/><stop offset="0.76" stop-color="#0000b2"/><stop offset="0.82" stop-color="#0000c4"/><stop offset="0.87" stop-color="#0039ff"/><stop offset="0.92" stop-color="#0044ff"/><stop offset="0.96" stop-color="#004cff"/><stop offset="1" stop-color="#0053ff"/></linearGradient><linearGradient id="c57" x2="0" y2="1"><stop offset="0" stop-color="#0004ff"/><stop offset="0.04" stop-color="#0007ff"/><stop offset="0.1" stop-color="#000cff"/><stop offset="0.17" stop-color="#0000f9"/><stop offset="0.24" stop-color="#0000f6"/><stop offset="0.31" stop-color="#0000f7"/><stop offset="0.38" stop-color="#0000f5"/><stop offset="0.45" stop-color="#000fff"/><stop offset="0.52" stop-color="#0000e5"/><stop offset="0.58" stop-color="#0000d0"/><stop offset="0.64" stop-color="#0000c5"/><stop offset="0.7" stop-color="#0000cc"/><stop offset="0.76" stop-color="#0000cb"/><stop offset="0.82" stop-color="#0000c2"/><stop offset="0.87" stop-color="#002cff"/><stop offset="0.92" stop-color="#0008ff"/><stop offset="0.96" stop-color="#0018ff"/><stop offset="1" stop-color="#0027ff"/></linearGradient><linearGradient id="c58" x2="0" y2="1"><stop offset="0" stop-color="#0000da"/><stop offset="0.04" stop-color="#0000de"/><stop offset="0.1" stop-color="#0000e6"/><stop offset="0.17" stop-color="#0000f2"/><stop offset="0.24" stop-color="#0000f1"/><stop offset="0.31" stop-color="#0000f3"/><stop offset="0.38" stop-color="#0000f3"/><stop offset="0.45" stop-color="#0000f4"/><stop offset="0.52" stop-color="#0000e4"/><stop offset="0.58" stop-color="#0000e8"/><stop offset="0.64" stop-color="#0000e5"/><stop offset="0.7" stop-color="#0000b4"/><stop offset="0.76" stop-color="#0000b7"/><stop offset="0.82" stop-color="#0000f1"/><stop offset="0.87" stop-color="#0033ff"/><stop offset="0.92" stop-color="#0013ff"/><stop offset="0.96" stop-color="#001aff"/><stop offset="1" stop-color="#0021ff"/></linearGradient><linearGradient id="c59" x2="0" y2="1"><stop offset="0" stop-color="#0000c3"/><stop offset="0.04" stop-color="#0000c3"/><stop offset="0.1" stop-color="#0000c3"/><stop offset="0.17" stop-color="#0000c3"/><stop offset="0.24" stop-color="#0000c2"/><stop offset="0.31" stop-color="#0000ca"/><stop offset="0.38" stop-color="#0000d1"/><stop offset="0.45" stop-color="#0000bc"/><stop offset="0.52" stop-color="#0000fb"/><stop offset="0.58" stop-color="#0018ff"/><stop offset="0.64" stop-color="#0000f3"/><stop offset="0.7" stop-color="#0000c8"/><stop offset="0.76" stop-color="#0000c3"/><stop offset="0.82" stop-color="#0000ec"/><stop offset="0.87" stop-color="#000cff"/><stop offset="0.92" stop-color="#000fff"/><stop offset="0.96" stop-color="#0027ff"/><stop offset="1" stop-color="#003dff"/></linearGradient><linearGradient id="c60" x2="0" y2="1"><stop offset="0" stop-color="#0000c8"/><stop offset="0.04" stop-color="#0000c1"/><stop offset="0.1" stop-color="#0000b7"/><stop offset="0.17" stop-color="#0000b7"/><stop offset="0.24" stop-color="#0000b1"/><stop offset="0.31" stop-color="#0000b6"/><stop offset="0.38" stop-color="#0000bc"/><stop offset="0.45" stop-color="#0000cf"/><stop offset="0.52" stop-color="#0000ec"/><stop offset="0.58" stop-color="#0007ff"/><stop offset="0.64" stop-color="#0000f3"/><stop offset="0.7" stop-color="#0000d4"/><stop offset="0.76" stop-color="#0000cd"/><stop offset="0.82" stop-color="#0000e2"/><stop offset="0.87" stop-color="#0000f3"/><stop offset="0.92" stop-color="#0001ff"/><stop offset="0.96" stop-color="#0011ff"/><stop offset="1" stop-color="#0021ff"/></linearGradient><linearGradient id="c61" x2="0" y2="1"><stop offset="0" stop-color="#0000c3"/><stop offset="0.04" stop-color="#0000c4"/><stop offset="0.1" stop-color="#0000c6"/><stop offset="0.17" stop-color="#0000bc"/><stop offset="0.24" stop-color="#0000b6"/><stop offset="0.31" stop-color="#0000cd"/><stop offset="0.38" stop-color="#0000d6"/><stop offset="0.45" stop-color="#0000cf"/><stop offset="0.52" stop-color="#0000e9"/><stop offset="0.58" stop-color="#0003ff"/><stop offset="0.64" stop-color="#0000ef"/><stop offset="0.7" stop-color="#0000db"/><stop offset="0.76" stop-color="#0000d1"/><stop offset="0.82" stop-color="#0000c8"/><stop offset="0.87" stop-color="#0000e2"/><stop offset="0.92" stop-color="#0002ff"/><stop offset="0.96" stop-color="#001bff"/><stop offset="1" stop-color="#0032ff"/></linearGradient><linearGradient id="c62" x2="0" y2="1"><stop offset="0" stop-color="#0000cf"/><stop offset="0.04" stop-color="#0000d1"/><stop offset="0.1" stop-color="#0000d5"/><stop offset="0.17" stop-color="#0000d5"/><stop offset="0.24" stop-color="#0000d7"/><stop offset="0.31" stop-color="#0000f2"/><stop offset="0.38" stop-color="#0000e7"/><stop offset="0.45" stop-color="#0000d5"/><stop offset="0.52" stop-color="#0000f9"/><stop offset="0.58" stop-color="#0016ff"/><stop offset="0.64" stop-color="#0004ff"/><stop offset="0.7" stop-color="#0000d9"/><stop offset="0.76" stop-color="#0000d5"/><stop offset="0.82" stop-color="#0000df"/><stop offset="0.87" stop-color="#0000ca"/><stop offset="0.92" stop-color="#0000d0"/><stop offset="0.96" stop-color="#0000fe"/><stop offset="1" stop-color="#002cff"/></linearGradient><linearGradient id="c63" x2="0" y2="1"><stop offset="0" stop-color="#000dff"/><stop offset="0.04" stop-color="#0011ff"/><stop offset="0.1" stop-color="#001aff"/><stop offset="0.17" stop-color="#0012ff"/><stop offset="0.24" stop-color="#0013ff"/><stop offset="0.31" stop-color="#002fff"/><stop offset="0.38" stop-color="#0027ff"/><stop offset="0.45" stop-color="#000bff"/><stop offset="0.52" stop-color="#0021ff"/><stop offset="0.58" stop-color="#002aff"/><stop offset="0.64" stop-color="#000bff"/><stop offset="0.7" stop-color="#0000ec"/><stop offset="0.76" stop-color="#0000e0"/><stop offset="0.82" stop-color="#0000e2"/><stop offset="0.87" stop-color="#0000e6"/><stop offset="0.92" stop-color="#0000f0"/><stop offset="0.96" stop-color="#0004ff"/><stop offset="1" stop-color="#0016ff"/></linearGradient><linearGradient id="c64" x2="0" y2="1"><stop offset="0" stop-color="#0056ff"/><stop offset="0.04" stop-color="#0055ff"/><stop offset="0.1" stop-color="#0054ff"/><stop offset="0.17" stop-color="#0057ff"/><stop offset="0.24" stop-color="#0059ff"/><stop offset="0.31" stop-color="#005bff"/><stop offset="0.38" stop-color="#0039ff"/><stop offset="0.45" stop-color="#0025ff"/><stop offset="0.52" stop-color="#0012ff"/><stop offset="0.58" stop-color="#0016ff"/><stop offset="0.64" stop-color="#001dff"/><stop offset="0.7" stop-color="#0000ee"/><stop offset="0.76" stop-color="#0000df"/><stop offset="0.82" stop-color="#000cff"/><stop offset="0.87" stop-color="#002cff"/><stop offset="0.92" stop-color="#003aff"/><stop offset="0.96" stop-color="#0041ff"/><stop offset="1" stop-color="#0048ff"/></linearGradient><linearGradient id="c65" x2="0" y2="1"><stop offset="0" stop-color="#003bff"/><stop offset="0.04" stop-color="#003bff"/><stop offset="0.1" stop-color="#003aff"/><stop offset="0.17" stop-color="#004cff"/><stop offset="0.24" stop-color="#004eff"/><stop offset="0.31" stop-color="#0044ff"/><stop offset="0.38" stop-color="#0025ff"/><stop offset="0.45" stop-color="#0020ff"/><stop offset="0.52" stop-color="#000aff"/><stop offset="0.58" stop-color="#0012ff"/><stop offset="0.64" stop-color="#0033ff"/><stop offset="0.7" stop-color="#0003ff"/><stop offset="0.76" stop-color="#0000e4"/><stop offset="0.82" stop-color="#0015ff"/><stop offset="0.87" stop-color="#003cff"/><stop offset="0.92" stop-color="#003cff"/><stop offset="0.96" stop-color="#002dff"/><stop offset="1" stop-color="#001eff"/></linearGradient><linearGradient id="c66" x2="0" y2="1"><stop offset="0" stop-color="#0000f0"/><stop offset="0.04" stop-color="#0000f2"/><stop offset="0.1" stop-color="#0000f4"/><stop offset="0.17" stop-color="#0000f3"/><stop offset="0.24" stop-color="#0000fe"/><stop offset="0.31" stop-color="#0009ff"/><stop offset="0.38" stop-color="#0007ff"/><stop offset="0.45" stop-color="#0000fb"/><stop offset="0.52" stop-color="#0000f6"/><stop offset="0.58" stop-color="#0000fc"/><stop offset="0.64" stop-color="#0010ff"/><stop offset="0.7" stop-color="#0000ff"/><stop offset="0.76" stop-color="#0000f3"/><stop offset="0.82" stop-color="#0016ff"/><stop offset="0.87" stop-color="#0040ff"/><stop offset="0.92" stop-color="#0051ff"/><stop offset="0.96" stop-color="#005bff"/><stop offset="1" stop-color="#0064ff"/></linearGradient><linearGradient id="c67" x2="0" y2="1"><stop offset="0" stop-color="#0000c9"/><stop offset="0.04" stop-color="#0000c9"/><stop offset="0.1" stop-color="#0000c6"/><stop offset="0.17" stop-color="#0000c4"/><stop offset="0.24" stop-color="#0000d2"/><stop offset="0.31" stop-color="#0000d1"/><stop offset="0.38" stop-color="#0000c6"/><stop offset="0.45" stop-color="#0000c9"/><stop offset="0.52" stop-color="#0000ce"/><stop offset="0.58" stop-color="#0000d3"/><stop offset="0.64" stop-color="#0000d6"/><stop offset="0.7" stop-color="#0000e1"/><stop offset="0.76" stop-color="#0000ef"/><stop offset="0.82" stop-color="#0000f0"/><stop offset="0.87" stop-color="#0000ff"/><stop offset="0.92" stop-color="#0018ff"/><stop offset="0.96" stop-color="#0036ff"/><stop offset="1" stop-color="#0053ff"/></linearGradient><linearGradient id="c68" x2="0" y2="1"><stop offset="0" stop-color="#0000c5"/><stop offset="0.04" stop-color="#0000c1"/><stop offset="0.1" stop-color="#0000b7"/><stop offset="0.17" stop-color="#0000b7"/><stop offset="0.24" stop-color="#0000be"/><stop offset="0.31" stop-color="#0000c7"/><stop offset="0.38" stop-color="#0000d5"/><stop offset="0.45" stop-color="#0000b2"/><stop offset="0.52" stop-color="#0000c0"/><stop offset="0.58" stop-color="#0000c6"/><stop offset="0.64" stop-color="#0000be"/><stop offset="0.7" stop-color="#0000d1"/><stop offset="0.76" stop-color="#0002ff"/><stop offset="0.82" stop-color="#0007ff"/><stop offset="0.87" stop-color="#0006ff"/><stop offset="0.92" stop-color="#002bff"/><stop offset="0.96" stop-color="#0055ff"/><stop offset="1" stop-color="#007fff"/></linearGradient><linearGradient id="c69" x2="0" y2="1"><stop offset="0" stop-color="#0000d3"/><stop offset="0.04" stop-color="#0000cd"/><stop offset="0.1" stop-color="#0000c1"/><stop offset="0.17" stop-color="#0000bb"/><stop offset="0.24" stop-color="#0000d0"/><stop offset="0.31" stop-color="#0000d2"/><stop offset="0.38" stop-color="#0000c4"/><stop offset="0.45" stop-color="#0000b4"/><stop offset="0.52" stop-color="#0000a9"/><stop offset="0.58" stop-color="#0000ae"/><stop offset="0.64" stop-color="#0000b4"/><stop offset="0.7" stop-color="#0000d4"/><stop offset="0.76" stop-color="#000eff"/><stop offset="0.82" stop-color="#0000fe"/><stop offset="0.87" stop-color="#0001ff"/><stop offset="0.92" stop-color="#0033ff"/><stop offset="0.96" stop-color="#005fff"/><stop offset="1" stop-color="#008aff"/></linearGradient><linearGradient id="c70" x2="0" y2="1"><stop offset="0" stop-color="#0000f2"/><stop offset="0.04" stop-color="#0000f2"/><stop offset="0.1" stop-color="#0000ef"/><stop offset="0.17" stop-color="#0000e4"/><stop offset="0.24" stop-color="#0000e5"/><stop offset="0.31" stop-color="#0000e5"/><stop offset="0.38" stop-color="#0000e0"/><stop offset="0.45" stop-color="#0000c8"/><stop offset="0.52" stop-color="#0000c1"/><stop offset="0.58" stop-color="#0000c4"/><stop offset="0.64" stop-color="#0000c4"/><stop offset="0.7" stop-color="#0000d2"/><stop offset="0.76" stop-color="#0019ff"/><stop offset="0.82" stop-color="#0036ff"/><stop offset="0.87" stop-color="#0000ea"/><stop offset="0.92" stop-color="#0000e3"/><stop offset="0.96" stop-color="#0024ff"/><stop offset="1" stop-color="#0062ff"/></linearGradient><linearGradient id="c71" x2="0" y2="1"><stop offset="0" stop-color="#0000ed"/><stop offset="0.04" stop-color="#0000eb"/><stop offset="0.1" stop-color="#0000e5"/><stop offset="0.17" stop-color="#0000e3"/><stop offset="0.24" stop-color="#0000f1"/><stop offset="0.31" stop-color="#0000f2"/><stop offset="0.38" stop-color="#0000dd"/><stop offset="0.45" stop-color="#0000cf"/><stop offset="0.52" stop-color="#0000cc"/><stop offset="0.58" stop-color="#0000dd"/><stop offset="0.64" stop-color="#0000f7"/><stop offset="0.7" stop-color="#0000f4"/><stop offset="0.76" stop-color="#0012ff"/><stop offset="0.82" stop-color="#0000fc"/><stop offset="0.87" stop-color="#0000ec"/><stop offset="0.92" stop-color="#0011ff"/><stop offset="0.96" stop-color="#003dff"/><stop offset="1" stop-color="#0069ff"/></linearGradient><linearGradient id="c72" x2="0" y2="1"><stop offset="0" stop-color="#0000da"/><stop offset="0.04" stop-color="#0000d1"/><stop offset="0.1" stop-color="#0000c1"/><stop offset="0.17" stop-color="#0000ca"/><stop offset="0.24" stop-color="#0000d3"/><stop offset="0.31" stop-color="#0000df"/><stop offset="0.38" stop-color="#0000e0"/><stop offset="0.45" stop-color="#0000bb"/><stop offset="0.52" stop-color="#0000c0"/><stop offset="0.58" stop-color="#0000d3"/><stop offset="0.64" stop-color="#0000e9"/><stop offset="0.7" stop-color="#0006ff"/><stop offset="0.76" stop-color="#0027ff"/><stop offset="0.82" stop-color="#0000f6"/><stop offset="0.87" stop-color="#0000da"/><stop offset="0.92" stop-color="#0000f5"/><stop offset="0.96" stop-color="#002dff"/><stop offset="1" stop-color="#0064ff"/></linearGradient><linearGradient id="c73" x2="0" y2="1"><stop offset="0" stop-color="#0000c7"/><stop offset="0.04" stop-color="#0000c6"/><stop offset="0.1" stop-color="#0000c7"/><stop offset="0.17" stop-color="#0000d1"/><stop offset="0.24" stop-color="#0000d5"/><stop offset="0.31" stop-color="#0000df"/><stop offset="0.38" stop-color="#0000e9"/><stop offset="0.45" stop-color="#0000bc"/><stop offset="0.52" stop-color="#0000d1"/><stop offset="0.58" stop-color="#0000dc"/><stop offset="0.64" stop-color="#0000d1"/><stop offset="0.7" stop-color="#0000dc"/><stop offset="0.76" stop-color="#0016ff"/><stop offset="0.82" stop-color="#0019ff"/><stop offset="0.87" stop-color="#0000f3"/><stop offset="0.92" stop-color="#0000fb"/><stop offset="0.96" stop-color="#001cff"/><stop offset="1" stop-color="#003bff"/></linearGradient><linearGradient id="c74" x2="0" y2="1"><stop offset="0" stop-color="#0000cd"/><stop offset="0.04" stop-color="#0000d7"/><stop offset="0.1" stop-color="#0000ea"/><stop offset="0.17" stop-color="#0000e7"/><stop offset="0.24" stop-color="#0000f5"/><stop offset="0.31" stop-color="#0000e9"/><stop offset="0.38" stop-color="#0000cd"/><stop offset="0.45" stop-color="#0000e4"/><stop offset="0.52" stop-color="#0000db"/><stop offset="0.58" stop-color="#0000da"/><stop offset="0.64" stop-color="#0000d3"/><stop offset="0.7" stop-color="#0000ce"/><stop offset="0.76" stop-color="#0006ff"/><stop offset="0.82" stop-color="#0009ff"/><stop offset="0.87" stop-color="#0000ff"/><stop offset="0.92" stop-color="#0012ff"/><stop offset="0.96" stop-color="#0016ff"/><stop offset="1" stop-color="#0019ff"/></linearGradient><linearGradient id="c75" x2="0" y2="1"><stop offset="0" stop-color="#0002ff"/><stop offset="0.04" stop-color="#0010ff"/><stop offset="0.1" stop-color="#0028ff"/><stop offset="0.17" stop-color="#001aff"/><stop offset="0.24" stop-color="#0019ff"/><stop offset="0.31" stop-color="#0015ff"/><stop offset="0.38" stop-color="#0014ff"/><stop offset="0.45" stop-color="#0029ff"/><stop offset="0.52" stop-color="#0006ff"/><stop offset="0.58" stop-color="#0000e5"/><stop offset="0.64" stop-color="#0000b7"/><stop offset="0.7" stop-color="#0000b5"/><stop offset="0.76" stop-color="#0000fa"/><stop offset="0.82" stop-color="#000eff"/><stop offset="0.87" stop-color="#0000fd"/><stop offset="0.92" stop-color="#0006ff"/><stop offset="0.96" stop-color="#0012ff"/><stop offset="1" stop-color="#001dff"/></linearGradient><linearGradient id="c76" x2="0" y2="1"><stop offset="0" stop-color="#000eff"/><stop offset="0.04" stop-color="#0016ff"/><stop offset="0.1" stop-color="#0025ff"/><stop offset="0.17" stop-color="#0027ff"/><stop offset="0.24" stop-color="#002fff"/><stop offset="0.31" stop-color="#0020ff"/><stop offset="0.38" stop-color="#0000fb"/><stop offset="0.45" stop-color="#0007ff"/><stop offset="0.52" stop-color="#0000ec"/><stop offset="0.58" stop-color="#0000e5"/><stop offset="0.64" stop-color="#0000e2"/><stop offset="0.7" stop-color="#0000e5"/><stop offset="0.76" stop-color="#001cff"/><stop offset="0.82" stop-color="#0024ff"/><stop offset="0.87" stop-color="#0000fc"/><stop offset="0.92" stop-color="#0000eb"/><stop offset="0.96" stop-color="#0008ff"/><stop offset="1" stop-color="#0023ff"/></linearGradient><linearGradient id="c77" x2="0" y2="1"><stop offset="0" stop-color="#0000cd"/><stop offset="0.04" stop-color="#0000d8"/><stop offset="0.1" stop-color="#0000eb"/><stop offset="0.17" stop-color="#0000dd"/><stop offset="0.24" stop-color="#0000e6"/><stop offset="0.31" stop-color="#0000ef"/><stop offset="0.38" stop-color="#0000e1"/><stop offset="0.45" stop-color="#0000d4"/><stop offset="0.52" stop-color="#0000eb"/><stop offset="0.58" stop-color="#0000e6"/><stop offset="0.64" stop-color="#0000c0"/><stop offset="0.7" stop-color="#0000b8"/><stop offset="0.76" stop-color="#0000e3"/><stop offset="0.82" stop-color="#0000fe"/><stop offset="0.87" stop-color="#0020ff"/><stop offset="0.92" stop-color="#002fff"/><stop offset="0.96" stop-color="#001aff"/><stop offset="1" stop-color="#0004ff"/></linearGradient><linearGradient id="c78" x2="0" y2="1"><stop offset="0" stop-color="#0000ad"/><stop offset="0.04" stop-color="#0000b8"/><stop offset="0.1" stop-color="#0000cc"/><stop offset="0.17" stop-color="#0000c6"/><stop offset="0.24" stop-color="#0000c1"/><stop offset="0.31" stop-color="#0000ca"/><stop offset="0.38" stop-color="#0000ca"/><stop offset="0.45" stop-color="#0000b0"/><stop offset="0.52" stop-color="#0000c0"/><stop offset="0.58" stop-color="#0000c7"/><stop offset="0.64" stop-color="#0000be"/><stop offset="0.7" stop-color="#0000c7"/><stop offset="0.76" stop-color="#0000f2"/><stop offset="0.82" stop-color="#0014ff"/><stop offset="0.87" stop-color="#0031ff"/><stop offset="0.92" stop-color="#003fff"/><stop offset="0.96" stop-color="#0046ff"/><stop offset="1" stop-color="#004dff"/></linearGradient><linearGradient id="c79" x2="0" y2="1"><stop offset="0" stop-color="#0000b2"/><stop offset="0.04" stop-color="#0000b6"/><stop offset="0.1" stop-color="#0000bc"/><stop offset="0.17" stop-color="#0000bc"/><stop offset="0.24" stop-color="#0000b6"/><stop offset="0.31" stop-color="#0000be"/><stop offset="0.38" stop-color="#0000c7"/><stop offset="0.45" stop-color="#0000a8"/><stop offset="0.52" stop-color="#0000b9"/><stop offset="0.58" stop-color="#0000c5"/><stop offset="0.64" stop-color="#0000c7"/><stop offset="0.7" stop-color="#0000ca"/><stop offset="0.76" stop-color="#0000e0"/><stop offset="0.82" stop-color="#0000e1"/><stop offset="0.87" stop-color="#0003ff"/><stop offset="0.92" stop-color="#0019ff"/><stop offset="0.96" stop-color="#001eff"/><stop offset="1" stop-color="#0022ff"/></linearGradient><linearGradient id="c80" x2="0" y2="1"><stop offset="0" stop-color="#0000b1"/><stop offset="0.04" stop-color="#0000b2"/><stop offset="0.1" stop-color="#0000b6"/><stop offset="0.17" stop-color="#0000c4"/><stop offset="0.24" stop-color="#0000be"/><stop offset="0.31" stop-color="#0000ad"/><stop offset="0.38" stop-color="#0000aa"/><stop offset="0.45" stop-color="#0000cc"/><stop offset="0.52" stop-color="#0000c1"/><stop offset="0.58" stop-color="#0000c3"/><stop offset="0.64" stop-color="#0000cb"/><stop offset="0.7" stop-color="#0000b8"/><stop offset="0.76" stop-color="#0000d6"/><stop offset="0.82" stop-color="#0000f9"/><stop offset="0.87" stop-color="#0000f5"/><stop offset="0.92" stop-color="#0000fb"/><stop offset="0.96" stop-color="#0018ff"/><stop offset="1" stop-color="#0033ff"/></linearGradient><linearGradient id="c81" x2="0" y2="1"><stop offset="0" stop-color="#0000bb"/><stop offset="0.04" stop-color="#0000be"/><stop offset="0.1" stop-color="#0000c4"/><stop offset="0.17" stop-color="#0000dd"/><stop offset="0.24" stop-color="#0000cf"/><stop offset="0.31" stop-color="#0000b8"/><stop offset="0.38" stop-color="#0000bb"/><stop offset="0.45" stop-color="#0000d0"/><stop offset="0.52" stop-color="#0000bd"/><stop offset="0.58" stop-color="#0000bb"/><stop offset="0.64" stop-color="#0000c4"/><stop offset="0.7" stop-color="#0000b2"/><stop offset="0.76" stop-color="#0000c8"/><stop offset="0.82" stop-color="#0000dd"/><stop offset="0.87" stop-color="#0000db"/><stop offset="0.92" stop-color="#0000e5"/><stop offset="0.96" stop-color="#0000f4"/><stop offset="1" stop-color="#0003ff"/></linearGradient><linearGradient id="c82" x2="0" y2="1"><stop offset="0" stop-color="#0000dc"/><stop offset="0.04" stop-color="#0000de"/><stop offset="0.1" stop-color="#0000e2"/><stop offset="0.17" stop-color="#0000e2"/><stop offset="0.24" stop-color="#0000de"/><stop offset="0.31" stop-color="#0000db"/><stop offset="0.38" stop-color="#0000dc"/><stop offset="0.45" stop-color="#0000d9"/><stop offset="0.52" stop-color="#0000eb"/><stop offset="0.58" stop-color="#0000ee"/><stop offset="0.64" stop-color="#0000e2"/><stop offset="0.7" stop-color="#0000cd"/><stop offset="0.76" stop-color="#0000e9"/><stop offset="0.82" stop-color="#0019ff"/><stop offset="0.87" stop-color="#000fff"/><stop offset="0.92" stop-color="#0012ff"/><stop offset="0.96" stop-color="#001fff"/><stop offset="1" stop-color="#002cff"/></linearGradient><linearGradient id="c83" x2="0" y2="1"><stop offset="0" stop-color="#0019ff"/><stop offset="0.04" stop-color="#0018ff"/><stop offset="0.1" stop-color="#0017ff"/><stop offset="0.17" stop-color="#0014ff"/><stop offset="0.24" stop-color="#001aff"/><stop offset="0.31" stop-color="#001eff"/><stop offset="0.38" stop-color="#0012ff"/><stop offset="0.45" stop-color="#0012ff"/><stop offset="0.52" stop-color="#0011ff"/><stop offset="0.58" stop-color="#0019ff"/><stop offset="0.64" stop-color="#0027ff"/><stop offset="0.7" stop-color="#0000fb"/><stop offset="0.76" stop-color="#0000ef"/><stop offset="0.82" stop-color="#0000f6"/><stop offset="0.87" stop-color="#0009ff"/><stop offset="0.92" stop-color="#0025ff"/><stop offset="0.96" stop-color="#0045ff"/><stop offset="1" stop-color="#0065ff"/></linearGradient><linearGradient id="c84" x2="0" y2="1"><stop offset="0" stop-color="#0000f9"/><stop offset="0.04" stop-color="#0000fc"/><stop offset="0.1" stop-color="#0006ff"/><stop offset="0.17" stop-color="#001dff"/><stop offset="0.24" stop-color="#002bff"/><stop offset="0.31" stop-color="#0036ff"/><stop offset="0.38" stop-color="#0025ff"/><stop offset="0.45" stop-color="#0013ff"/><stop offset="0.52" stop-color="#0013ff"/><stop offset="0.58" stop-color="#0018ff"/><stop offset="0.64" stop-color="#001dff"/><stop offset="0.7" stop-color="#0001ff"/><stop offset="0.76" stop-color="#0000ee"/><stop offset="0.82" stop-color="#0000ea"/><stop offset="0.87" stop-color="#0026ff"/><stop offset="0.92" stop-color="#005dff"/><stop offset="0.96" stop-color="#006eff"/><stop offset="1" stop-color="#007fff"/></linearGradient><linearGradient id="c85" x2="0" y2="1"><stop offset="0" stop-color="#0000dc"/><stop offset="0.04" stop-color="#0000d8"/><stop offset="0.1" stop-color="#0000d2"/><stop offset="0.17" stop-color="#0000e2"/><stop offset="0.24" stop-color="#0000f3"/><stop offset="0.31" stop-color="#0000fe"/><stop offset="0.38" stop-color="#0000f2"/><stop offset="0.45" stop-color="#0000f9"/><stop offset="0.52" stop-color="#000dff"/><stop offset="0.58" stop-color="#001eff"/><stop offset="0.64" stop-color="#0029ff"/><stop offset="0.7" stop-color="#000aff"/><stop offset="0.76" stop-color="#000dff"/><stop offset="0.82" stop-color="#0027ff"/><stop offset="0.87" stop-color="#004bff"/><stop offset="0.92" stop-color="#0068ff"/><stop offset="0.96" stop-color="#0063ff"/><stop offset="1" stop-color="#005eff"/></linearGradient><linearGradient id="c86" x2="0" y2="1"><stop offset="0" stop-color="#0000b4"/><stop offset="0.04" stop-color="#0000bb"/><stop offset="0.1" stop-color="#0000c9"/><stop offset="0.17" stop-color="#0000ce"/><stop offset="0.24" stop-color="#0000cd"/><stop offset="0.31" stop-color="#0000c5"/><stop offset="0.38" stop-color="#0000c5"/><stop offset="0.45" stop-color="#0000f8"/><stop offset="0.52" stop-color="#0000ed"/><stop offset="0.58" stop-color="#0002ff"/><stop offset="0.64" stop-color="#002cff"/><stop offset="0.7" stop-color="#0000dc"/><stop offset="0.76" stop-color="#0000d7"/><stop offset="0.82" stop-color="#0002ff"/><stop offset="0.87" stop-color="#0010ff"/><stop offset="0.92" stop-color="#001fff"/><stop offset="0.96" stop-color="#002cff"/><stop offset="1" stop-color="#0039ff"/></linearGradient><linearGradient id="c87" x2="0" y2="1"><stop offset="0" stop-color="#0000b7"/><stop offset="0.04" stop-color="#0000bc"/><stop offset="0.1" stop-color="#0000c5"/><stop offset="0.17" stop-color="#0000c8"/><stop offset="0.24" stop-color="#0000c3"/><stop offset="0.31" stop-color="#0000bb"/><stop offset="0.38" stop-color="#0000cc"/><stop offset="0.45" stop-color="#0000fc"/><stop offset="0.52" stop-color="#000aff"/><stop offset="0.58" stop-color="#0009ff"/><stop offset="0.64" stop-color="#0000fb"/><stop offset="0.7" stop-color="#0000dc"/><stop offset="0.76" stop-color="#0000ee"/><stop offset="0.82" stop-color="#0009ff"/><stop offset="0.87" stop-color="#002bff"/><stop offset="0.92" stop-color="#0049ff"/><stop offset="0.96" stop-color="#0057ff"/><stop offset="1" stop-color="#0065ff"/></linearGradient><linearGradient id="c88" x2="0" y2="1"><stop offset="0" stop-color="#0000c8"/><stop offset="0.04" stop-color="#0000cf"/><stop offset="0.1" stop-color="#0000dc"/><stop offset="0.17" stop-color="#0000df"/><stop offset="0.24" stop-color="#0000d7"/><stop offset="0.31" stop-color="#0000cb"/><stop offset="0.38" stop-color="#0000d5"/><stop offset="0.45" stop-color="#0006ff"/><stop offset="0.52" stop-color="#0016ff"/><stop offset="0.58" stop-color="#0001ff"/><stop offset="0.64" stop-color="#0000c8"/><stop offset="0.7" stop-color="#0000ee"/><stop offset="0.76" stop-color="#0025ff"/><stop offset="0.82" stop-color="#0024ff"/><stop offset="0.87" stop-color="#001dff"/><stop offset="0.92" stop-color="#0015ff"/><stop offset="0.96" stop-color="#0012ff"/><stop offset="1" stop-color="#0011ff"/></linearGradient><linearGradient id="c89" x2="0" y2="1"><stop offset="0" stop-color="#0004ff"/><stop offset="0.04" stop-color="#000cff"/><stop offset="0.1" stop-color="#001aff"/><stop offset="0.17" stop-color="#001fff"/><stop offset="0.24" stop-color="#0014ff"/><stop offset="0.31" stop-color="#000cff"/><stop offset="0.38" stop-color="#000cff"/><stop offset="0.45" stop-color="#0028ff"/><stop offset="0.52" stop-color="#0037ff"/><stop offset="0.58" stop-color="#002dff"/><stop offset="0.64" stop-color="#0000fc"/><stop offset="0.7" stop-color="#0000f3"/><stop offset="0.76" stop-color="#002fff"/><stop offset="0.82" stop-color="#0042ff"/><stop offset="0.87" stop-color="#003aff"/><stop offset="0.92" stop-color="#002bff"/><stop offset="0.96" stop-color="#0016ff"/><stop offset="1" stop-color="#0003ff"/></linearGradient><linearGradient id="c90" x2="0" y2="1"><stop offset="0" stop-color="#002cff"/><stop offset="0.04" stop-color="#002cff"/><stop offset="0.1" stop-color="#002cff"/><stop offset="0.17" stop-color="#0022ff"/><stop offset="0.24" stop-color="#000fff"/><stop offset="0.31" stop-color="#000eff"/><stop offset="0.38" stop-color="#000cff"/><stop offset="0.45" stop-color="#0015ff"/><stop offset="0.52" stop-color="#002bff"/><stop offset="0.58" stop-color="#0029ff"/><stop offset="0.64" stop-color="#0000f4"/><stop offset="0.7" stop-color="#0000dd"/><stop offset="0.76" stop-color="#0021ff"/><stop offset="0.82" stop-color="#0031ff"/><stop offset="0.87" stop-color="#001bff"/><stop offset="0.92" stop-color="#0004ff"/><stop offset="0.96" stop-color="#0000f9"/><stop offset="1" stop-color="#0000f4"/></linearGradient><linearGradient id="c91" x2="0" y2="1"><stop offset="0" stop-color="#0000f3"/><stop offset="0.04" stop-color="#0000ec"/><stop offset="0.1" stop-color="#0000e2"/><stop offset="0.17" stop-color="#0000e6"/><stop offset="0.24" stop-color="#0000e2"/><stop offset="0.31" stop-color="#0000eb"/><stop offset="0.38" stop-color="#0000ec"/><stop offset="0.45" stop-color="#0000f3"/><stop offset="0.52" stop-color="#0012ff"/><stop offset="0.58" stop-color="#000dff"/><stop offset="0.64" stop-color="#0000c9"/><stop offset="0.7" stop-color="#0000c2"/><stop offset="0.76" stop-color="#0011ff"/><stop offset="0.82" stop-color="#0023ff"/><stop offset="0.87" stop-color="#000fff"/><stop offset="0.92" stop-color="#0000fe"/><stop offset="0.96" stop-color="#0000f4"/><stop offset="1" stop-color="#0000f0"/></linearGradient><linearGradient id="c92" x2="0" y2="1"><stop offset="0" stop-color="#0000c8"/><stop offset="0.04" stop-color="#0000cb"/><stop offset="0.1" stop-color="#0000d0"/><stop offset="0.17" stop-color="#0000ca"/><stop offset="0.24" stop-color="#0000ca"/><stop offset="0.31" stop-color="#0000d0"/><stop offset="0.38" stop-color="#0000c8"/><stop offset="0.45" stop-color="#0000bc"/><stop offset="0.52" stop-color="#0000d8"/><stop offset="0.58" stop-color="#0000f9"/><stop offset="0.64" stop-color="#0000fe"/><stop offset="0.7" stop-color="#0000ea"/><stop offset="0.76" stop-color="#001dff"/><stop offset="0.82" stop-color="#0019ff"/><stop offset="0.87" stop-color="#0000f9"/><stop offset="0.92" stop-color="#0000e9"/><stop offset="0.96" stop-color="#0000dc"/><stop offset="1" stop-color="#0000d7"/></linearGradient><linearGradient id="c93" x2="0" y2="1"><stop offset="0" stop-color="#0000d1"/><stop offset="0.04" stop-color="#0000d0"/><stop offset="0.1" stop-color="#0000cd"/><stop offset="0.17" stop-color="#0000c8"/><stop offset="0.24" stop-color="#0000d1"/><stop offset="0.31" stop-color="#0000e0"/><stop offset="0.38" stop-color="#0000e3"/><stop offset="0.45" stop-color="#0000ca"/><stop offset="0.52" stop-color="#0000ee"/><stop offset="0.58" stop-color="#0000f6"/><stop offset="0.64" stop-color="#0000cc"/><stop offset="0.7" stop-color="#0000d6"/><stop offset="0.76" stop-color="#0006ff"/><stop offset="0.82" stop-color="#0000f5"/><stop offset="0.87" stop-color="#0000e4"/><stop offset="0.92" stop-color="#0000f9"/><stop offset="0.96" stop-color="#001cff"/><stop offset="1" stop-color="#0048ff"/></linearGradient><linearGradient id="c94" x2="0" y2="1"><stop offset="0" stop-color="#0000fa"/><stop offset="0.04" stop-color="#0000f0"/><stop offset="0.1" stop-color="#0000df"/><stop offset="0.17" stop-color="#0000e0"/><stop offset="0.24" stop-color="#0000f2"/><stop offset="0.31" stop-color="#0003ff"/><stop offset="0.38" stop-color="#0000fa"/><stop offset="0.45" stop-color="#0000d6"/><stop offset="0.52" stop-color="#0000ec"/><stop offset="0.58" stop-color="#0000f5"/><stop offset="0.64" stop-color="#0000de"/><stop offset="0.7" stop-color="#0000ea"/><stop offset="0.76" stop-color="#0008ff"/><stop offset="0.82" stop-color="#0000e9"/><stop offset="0.87" stop-color="#0000da"/><stop offset="0.92" stop-color="#0000fa"/><stop offset="0.96" stop-color="#0031ff"/><stop offset="1" stop-color="#0075ff"/></linearGradient><linearGradient id="c95" x2="0" y2="1"><stop offset="0" stop-color="#0015ff"/><stop offset="0.04" stop-color="#0018ff"/><stop offset="0.1" stop-color="#001cff"/><stop offset="0.17" stop-color="#0016ff"/><stop offset="0.24" stop-color="#0011ff"/><stop offset="0.31" stop-color="#000dff"/><stop offset="0.38" stop-color="#0004ff"/><stop offset="0.45" stop-color="#0002ff"/><stop offset="0.52" stop-color="#0003ff"/><stop offset="0.58" stop-color="#0000f8"/><stop offset="0.64" stop-color="#0000d4"/><stop offset="0.7" stop-color="#0000d8"/><stop offset="0.76" stop-color="#0000f8"/><stop offset="0.82" stop-color="#0000fe"/><stop offset="0.87" stop-color="#0017ff"/><stop offset="0.92" stop-color="#0045ff"/><stop offset="0.96" stop-color="#004cff"/><stop offset="1" stop-color="#0064ff"/></linearGradient><linearGradient id="c96" x2="0" y2="1"><stop offset="0" stop-color="#0009ff"/><stop offset="0.04" stop-color="#0007ff"/><stop offset="0.1" stop-color="#0006ff"/><stop offset="0.17" stop-color="#000dff"/><stop offset="0.24" stop-color="#0013ff"/><stop offset="0.31" stop-color="#0011ff"/><stop offset="0.38" stop-color="#0002ff"/><stop offset="0.45" stop-color="#0000ec"/><stop offset="0.52" stop-color="#0000ea"/><stop offset="0.58" stop-color="#0000f1"/><stop offset="0.64" stop-color="#0000f4"/><stop offset="0.7" stop-color="#0000ed"/><stop offset="0.76" stop-color="#0000f8"/><stop offset="0.82" stop-color="#0000f4"/><stop offset="0.87" stop-color="#0000e7"/><stop offset="0.92" stop-color="#0007ff"/><stop offset="0.96" stop-color="#0045ff"/><stop offset="1" stop-color="#009aff"/></linearGradient><linearGradient id="c97" x2="0" y2="1"><stop offset="0" stop-color="#0000cd"/><stop offset="0.04" stop-color="#0000d4"/><stop offset="0.1" stop-color="#0000e1"/><stop offset="0.17" stop-color="#0000d8"/><stop offset="0.24" stop-color="#0000d4"/><stop offset="0.31" stop-color="#0000cd"/><stop offset="0.38" stop-color="#0000c6"/><stop offset="0.45" stop-color="#0000e5"/><stop offset="0.52" stop-color="#0000e9"/><stop offset="0.58" stop-color="#0000e0"/><stop offset="0.64" stop-color="#0000c6"/><stop offset="0.7" stop-color="#0000cc"/><stop offset="0.76" stop-color="#0000d6"/><stop offset="0.82" stop-color="#0000d3"/><stop offset="0.87" stop-color="#0000ee"/><stop offset="0.92" stop-color="#001dff"/><stop offset="0.96" stop-color="#003cff"/><stop offset="1" stop-color="#0077ff"/></linearGradient><linearGradient id="c98" x2="0" y2="1"><stop offset="0" stop-color="#0000ab"/><stop offset="0.04" stop-color="#0000b5"/><stop offset="0.1" stop-color="#0000c6"/><stop offset="0.17" stop-color="#0000c0"/><stop offset="0.24" stop-color="#0000ba"/><stop offset="0.31" stop-color="#0000b8"/><stop offset="0.38" stop-color="#0000b5"/><stop offset="0.45" stop-color="#0000d4"/><stop offset="0.52" stop-color="#0000d1"/><stop offset="0.58" stop-color="#0000d9"/><stop offset="0.64" stop-color="#0000d7"/><stop offset="0.7" stop-color="#0000cb"/><stop offset="0.76" stop-color="#0000de"/><stop offset="0.82" stop-color="#0000f8"/><stop offset="0.87" stop-color="#001eff"/><stop offset="0.92" stop-color="#0046ff"/><stop offset="0.96" stop-color="#0064ff"/><stop offset="1" stop-color="#00a6ff"/></linearGradient><linearGradient id="c99" x2="0" y2="1"><stop offset="0" stop-color="#0000cd"/><stop offset="0.04" stop-color="#0000cf"/><stop offset="0.1" stop-color="#0000d2"/><stop offset="0.17" stop-color="#0000d1"/><stop offset="0.24" stop-color="#0000cc"/><stop offset="0.31" stop-color="#0000d1"/><stop offset="0.38" stop-color="#0000c9"/><stop offset="0.45" stop-color="#0000b7"/><stop offset="0.52" stop-color="#0000be"/><stop offset="0.58" stop-color="#0000cc"/><stop offset="0.64" stop-color="#0000c6"/><stop offset="0.7" stop-color="#0000e0"/><stop offset="0.76" stop-color="#0000ff"/><stop offset="0.82" stop-color="#0009ff"/><stop offset="0.87" stop-color="#004cff"/><stop offset="0.92" stop-color="#0070ff"/><stop offset="0.96" stop-color="#005fff"/><stop offset="1" stop-color="#0078ff"/></linearGradient><linearGradient id="c100" x2="0" y2="1"><stop offset="0" stop-color="#0000e5"/><stop offset="0.04" stop-color="#0000e7"/><stop offset="0.1" stop-color="#0000eb"/><stop offset="0.17" stop-color="#0000ed"/><stop offset="0.24" stop-color="#0000e1"/><stop offset="0.31" stop-color="#0000df"/><stop offset="0.38" stop-color="#0000cd"/><stop offset="0.45" stop-color="#0000b0"/><stop offset="0.52" stop-color="#0000ca"/><stop offset="0.58" stop-color="#0000d5"/><stop offset="0.64" stop-color="#0000b7"/><stop offset="0.7" stop-color="#0000b8"/><stop offset="0.76" stop-color="#0000d6"/><stop offset="0.82" stop-color="#0000f5"/><stop offset="0.87" stop-color="#0032ff"/><stop offset="0.92" stop-color="#0052ff"/><stop offset="0.96" stop-color="#005cff"/><stop offset="1" stop-color="#0099ff"/></linearGradient><linearGradient id="c101" x2="0" y2="1"><stop offset="0" stop-color="#0000dc"/><stop offset="0.04" stop-color="#0000de"/><stop offset="0.1" stop-color="#0000e2"/><stop offset="0.17" stop-color="#0000e6"/><stop offset="0.24" stop-color="#0000e2"/><stop offset="0.31" stop-color="#0000ec"/><stop offset="0.38" stop-color="#0000f0"/><stop offset="0.45" stop-color="#0000d3"/><stop offset="0.52" stop-color="#0000e2"/><stop offset="0.58" stop-color="#0000e5"/><stop offset="0.64" stop-color="#0000d0"/><stop offset="0.7" stop-color="#0000b0"/><stop offset="0.76" stop-color="#0000cc"/><stop offset="0.82" stop-color="#0001ff"/><stop offset="0.87" stop-color="#0013ff"/><stop offset="0.92" stop-color="#0025ff"/><stop offset="0.96" stop-color="#0044ff"/><stop offset="1" stop-color="#009dff"/></linearGradient><linearGradient id="c102" x2="0" y2="1"><stop offset="0" stop-color="#0000e1"/><stop offset="0.04" stop-color="#0000df"/><stop offset="0.1" stop-color="#0000db"/><stop offset="0.17" stop-color="#0000ca"/><stop offset="0.24" stop-color="#0000c3"/><stop offset="0.31" stop-color="#0000cd"/><stop offset="0.38" stop-color="#0000e1"/><stop offset="0.45" stop-color="#0000de"/><stop offset="0.52" stop-color="#0000b9"/><stop offset="0.58" stop-color="#0000b5"/><stop offset="0.64" stop-color="#0000ce"/><stop offset="0.7" stop-color="#0000cb"/><stop offset="0.76" stop-color="#0000e1"/><stop offset="0.82" stop-color="#0000e6"/><stop offset="0.87" stop-color="#0001ff"/><stop offset="0.92" stop-color="#002bff"/><stop offset="0.96" stop-color="#005cff"/><stop offset="1" stop-color="#00d0ff"/></linearGradient><linearGradient id="c103" x2="0" y2="1"><stop offset="0" stop-color="#0000db"/><stop offset="0.04" stop-color="#0000d5"/><stop offset="0.1" stop-color="#0000cc"/><stop offset="0.17" stop-color="#0000c9"/><stop offset="0.24" stop-color="#0000c3"/><stop offset="0.31" stop-color="#0000d5"/><stop offset="0.38" stop-color="#000aff"/><stop offset="0.45" stop-color="#0027ff"/><stop offset="0.52" stop-color="#0000e1"/><stop offset="0.58" stop-color="#0000bc"/><stop offset="0.64" stop-color="#0000c0"/><stop offset="0.7" stop-color="#0000b9"/><stop offset="0.76" stop-color="#0000c7"/><stop offset="0.82" stop-color="#0000c0"/><stop offset="0.87" stop-color="#0000d4"/><stop offset="0.92" stop-color="#0005ff"/><stop offset="0.96" stop-color="#0038ff"/><stop offset="1" stop-color="#00b6ff"/></linearGradient><linearGradient id="c104" x2="0" y2="1"><stop offset="0" stop-color="#0017ff"/><stop offset="0.04" stop-color="#0012ff"/><stop offset="0.1" stop-color="#0009ff"/><stop offset="0.17" stop-color="#0002ff"/><stop offset="0.24" stop-color="#0000fb"/><stop offset="0.31" stop-color="#0005ff"/><stop offset="0.38" stop-color="#001dff"/><stop offset="0.45" stop-color="#0037ff"/><stop offset="0.52" stop-color="#0010ff"/><stop offset="0.58" stop-color="#0000f6"/><stop offset="0.64" stop-color="#0000ec"/><stop offset="0.7" stop-color="#0000d2"/><stop offset="0.76" stop-color="#0000ce"/><stop offset="0.82" stop-color="#0000b9"/><stop offset="0.87" stop-color="#0000cf"/><stop offset="0.92" stop-color="#0000ff"/><stop offset="0.96" stop-color="#0032ff"/><stop offset="1" stop-color="#00b7ff"/></linearGradient><linearGradient id="c105" x2="0" y2="1"><stop offset="0" stop-color="#004eff"/><stop offset="0.04" stop-color="#0051ff"/><stop offset="0.1" stop-color="#0055ff"/><stop offset="0.17" stop-color="#004aff"/><stop offset="0.24" stop-color="#0042ff"/><stop offset="0.31" stop-color="#004aff"/><stop offset="0.38" stop-color="#004cff"/><stop offset="0.45" stop-color="#0030ff"/><stop offset="0.52" stop-color="#0015ff"/><stop offset="0.58" stop-color="#0000f9"/><stop offset="0.64" stop-color="#0000d1"/><stop offset="0.7" stop-color="#0000d2"/><stop offset="0.76" stop-color="#0000e6"/><stop offset="0.82" stop-color="#0000e4"/><stop offset="0.87" stop-color="#0000d8"/><stop offset="0.92" stop-color="#0000eb"/><stop offset="0.96" stop-color="#002dff"/><stop offset="1" stop-color="#00c8ff"/></linearGradient><linearGradient id="c106" x2="0" y2="1"><stop offset="0" stop-color="#005eff"/><stop offset="0.04" stop-color="#005cff"/><stop offset="0.1" stop-color="#0059ff"/><stop offset="0.17" stop-color="#0064ff"/><stop offset="0.24" stop-color="#005eff"/><stop offset="0.31" stop-color="#0057ff"/><stop offset="0.38" stop-color="#0041ff"/><stop offset="0.45" stop-color="#0030ff"/><stop offset="0.52" stop-color="#0033ff"/><stop offset="0.58" stop-color="#002aff"/><stop offset="0.64" stop-color="#0000f5"/><stop offset="0.7" stop-color="#0000db"/><stop offset="0.76" stop-color="#0000da"/><stop offset="0.82" stop-color="#0000ce"/><stop offset="0.87" stop-color="#0000f3"/><stop offset="0.92" stop-color="#0014ff"/><stop offset="0.96" stop-color="#000fff"/><stop offset="1" stop-color="#006bff"/></linearGradient><linearGradient id="c107" x2="0" y2="1"><stop offset="0" stop-color="#001aff"/><stop offset="0.04" stop-color="#0017ff"/><stop offset="0.1" stop-color="#0013ff"/><stop offset="0.17" stop-color="#001bff"/><stop offset="0.24" stop-color="#0023ff"/><stop offset="0.31" stop-color="#0022ff"/><stop offset="0.38" stop-color="#0017ff"/><stop offset="0.45" stop-color="#000bff"/><stop offset="0.52" stop-color="#0023ff"/><stop offset="0.58" stop-color="#002aff"/><stop offset="0.64" stop-color="#0000f5"/><stop offset="0.7" stop-color="#0000e8"/><stop offset="0.76" stop-color="#0000fa"/><stop offset="0.82" stop-color="#0000f2"/><stop offset="0.87" stop-color="#0000f7"/><stop offset="0.92" stop-color="#0000ff"/><stop offset="0.96" stop-color="#0016ff"/><stop offset="1" stop-color="#0093ff"/></linearGradient><linearGradient id="c108" x2="0" y2="1"><stop offset="0" stop-color="#0000d7"/><stop offset="0.04" stop-color="#0000d9"/><stop offset="0.1" stop-color="#0000dc"/><stop offset="0.17" stop-color="#0000ec"/><stop offset="0.24" stop-color="#0000ef"/><stop offset="0.31" stop-color="#0000e5"/><stop offset="0.38" stop-color="#0000f0"/><stop offset="0.45" stop-color="#0000f9"/><stop offset="0.52" stop-color="#000bff"/><stop offset="0.58" stop-color="#000cff"/><stop offset="0.64" stop-color="#0000c7"/><stop offset="0.7" stop-color="#0000b7"/><stop offset="0.76" stop-color="#0000de"/><stop offset="0.82" stop-color="#0000ee"/><stop offset="0.87" stop-color="#0002ff"/><stop offset="0.92" stop-color="#000fff"/><stop offset="0.96" stop-color="#0029ff"/><stop offset="1" stop-color="#00acff"/></linearGradient><linearGradient id="c109" x2="0" y2="1"><stop offset="0" stop-color="#0000c2"/><stop offset="0.04" stop-color="#0000b9"/><stop offset="0.1" stop-color="#0000a8"/><stop offset="0.17" stop-color="#0000c2"/><stop offset="0.24" stop-color="#0000d3"/><stop offset="0.31" stop-color="#0000be"/><stop offset="0.38" stop-color="#0000be"/><stop offset="0.45" stop-color="#0000c7"/><stop offset="0.52" stop-color="#0000ef"/><stop offset="0.58" stop-color="#0000ef"/><stop offset="0.64" stop-color="#000090"/><stop offset="0.7" stop-color="#000088"/><stop offset="0.76" stop-color="#0000c8"/><stop offset="0.82" stop-color="#0000f4"/><stop offset="0.87" stop-color="#0027ff"/><stop offset="0.92" stop-color="#0034ff"/><stop offset="0.96" stop-color="#0012ff"/><stop offset="1" stop-color="#005bff"/></linearGradient><linearGradient id="c110" x2="0" y2="1"><stop offset="0" stop-color="#0000c4"/><stop offset="0.04" stop-color="#0000bc"/><stop offset="0.1" stop-color="#0000ad"/><stop offset="0.17" stop-color="#0000c1"/><stop offset="0.24" stop-color="#0000c9"/><stop offset="0.31" stop-color="#0000b6"/><stop offset="0.38" stop-color="#0000b8"/><stop offset="0.45" stop-color="#0000c2"/><stop offset="0.52" stop-color="#0000e8"/><stop offset="0.58" stop-color="#0003ff"/><stop offset="0.64" stop-color="#0000d6"/><stop offset="0.7" stop-color="#0000c1"/><stop offset="0.76" stop-color="#0000f3"/><stop offset="0.82" stop-color="#0017ff"/><stop offset="0.87" stop-color="#0002ff"/><stop offset="0.92" stop-color="#0000e7"/><stop offset="0.96" stop-color="#000eff"/><stop offset="1" stop-color="#009fff"/></linearGradient><linearGradient id="c111" x2="0" y2="1"><stop offset="0" stop-color="#0000ca"/><stop offset="0.04" stop-color="#0000ca"/><stop offset="0.1" stop-color="#0000c8"/><stop offset="0.17" stop-color="#0000c3"/><stop offset="0.24" stop-color="#0000dd"/><stop offset="0.31" stop-color="#0000d9"/><stop offset="0.38" stop-color="#0000c7"/><stop offset="0.45" stop-color="#0000e1"/><stop offset="0.52" stop-color="#0000fc"/><stop offset="0.58" stop-color="#0011ff"/><stop offset="0.64" stop-color="#0000ec"/><stop offset="0.7" stop-color="#0000b2"/><stop offset="0.76" stop-color="#0000cf"/><stop offset="0.82" stop-color="#0004ff"/><stop offset="0.87" stop-color="#0027ff"/><stop offset="0.92" stop-color="#0028ff"/><stop offset="0.96" stop-color="#001dff"/><stop offset="1" stop-color="#007cff"/></linearGradient><linearGradient id="c112" x2="0" y2="1"><stop offset="0" stop-color="#0007ff"/><stop offset="0.04" stop-color="#000aff"/><stop offset="0.1" stop-color="#0012ff"/><stop offset="0.17" stop-color="#0015ff"/><stop offset="0.24" stop-color="#0005ff"/><stop offset="0.31" stop-color="#0000f9"/><stop offset="0.38" stop-color="#0000fa"/><stop offset="0.45" stop-color="#000dff"/><stop offset="0.52" stop-color="#0005ff"/><stop offset="0.58" stop-color="#0006ff"/><stop offset="0.64" stop-color="#0000ed"/><stop offset="0.7" stop-color="#0000d7"/><stop offset="0.76" stop-color="#0000eb"/><stop offset="0.82" stop-color="#0000ff"/><stop offset="0.87" stop-color="#002dff"/><stop offset="0.92" stop-color="#0033ff"/><stop offset="0.96" stop-color="#0029ff"/><stop offset="1" stop-color="#0085ff"/></linearGradient><linearGradient id="c113" x2="0" y2="1"><stop offset="0" stop-color="#0022ff"/><stop offset="0.04" stop-color="#001dff"/><stop offset="0.1" stop-color="#0015ff"/><stop offset="0.17" stop-color="#0015ff"/><stop offset="0.24" stop-color="#0020ff"/><stop offset="0.31" stop-color="#0025ff"/><stop offset="0.38" stop-color="#0019ff"/><stop offset="0.45" stop-color="#0020ff"/><stop offset="0.52" stop-color="#0018ff"/><stop offset="0.58" stop-color="#000cff"/><stop offset="0.64" stop-color="#0000e0"/><stop offset="0.7" stop-color="#0000c3"/><stop offset="0.76" stop-color="#0000ee"/><stop offset="0.82" stop-color="#002aff"/><stop offset="0.87" stop-color="#002bff"/><stop offset="0.92" stop-color="#0010ff"/><stop offset="0.96" stop-color="#0003ff"/><stop offset="1" stop-color="#0057ff"/></linearGradient><linearGradient id="c114" x2="0" y2="1"><stop offset="0" stop-color="#0000e9"/><stop offset="0.04" stop-color="#0000ed"/><stop offset="0.1" stop-color="#0000f3"/><stop offset="0.17" stop-color="#0000ec"/><stop offset="0.24" stop-color="#0000e4"/><stop offset="0.31" stop-color="#0000ee"/><stop offset="0.38" stop-color="#0001ff"/><stop offset="0.45" stop-color="#0000fe"/><stop offset="0.52" stop-color="#0001ff"/><stop offset="0.58" stop-color="#0007ff"/><stop offset="0.64" stop-color="#0000f2"/><stop offset="0.7" stop-color="#0000d5"/><stop offset="0.76" stop-color="#0000fc"/><stop offset="0.82" stop-color="#0016ff"/><stop offset="0.87" stop-color="#0018ff"/><stop offset="0.92" stop-color="#000bff"/><stop offset="0.96" stop-color="#0009ff"/><stop offset="1" stop-color="#0062ff"/></linearGradient><linearGradient id="c115" x2="0" y2="1"><stop offset="0" stop-color="#0000b7"/><stop offset="0.04" stop-color="#0000bb"/><stop offset="0.1" stop-color="#0000c4"/><stop offset="0.17" stop-color="#0000c0"/><stop offset="0.24" stop-color="#0000c9"/><stop offset="0.31" stop-color="#0000d0"/><stop offset="0.38" stop-color="#0000cf"/><stop offset="0.45" stop-color="#0000c1"/><stop offset="0.52" stop-color="#0000e3"/><stop offset="0.58" stop-color="#0000fb"/><stop offset="0.64" stop-color="#0000ed"/><stop offset="0.7" stop-color="#0000e4"/><stop offset="0.76" stop-color="#001fff"/><stop offset="0.82" stop-color="#0030ff"/><stop offset="0.87" stop-color="#000cff"/><stop offset="0.92" stop-color="#0000e9"/><stop offset="0.96" stop-color="#0000eb"/><stop offset="1" stop-color="#0041ff"/></linearGradient><linearGradient id="c116" x2="0" y2="1"><stop offset="0" stop-color="#0000d6"/><stop offset="0.04" stop-color="#0000d4"/><stop offset="0.1" stop-color="#0000d2"/><stop offset="0.17" stop-color="#0000e5"/><stop offset="0.24" stop-color="#0000e4"/><stop offset="0.31" stop-color="#0000e0"/><stop offset="0.38" stop-color="#0000e1"/><stop offset="0.45" stop-color="#0000f4"/><stop offset="0.52" stop-color="#0007ff"/><stop offset="0.58" stop-color="#0003ff"/><stop offset="0.64" stop-color="#0000d5"/><stop offset="0.7" stop-color="#0000de"/><stop offset="0.76" stop-color="#0024ff"/><stop offset="0.82" stop-color="#003aff"/><stop offset="0.87" stop-color="#001fff"/><stop offset="0.92" stop-color="#0004ff"/><stop offset="0.96" stop-color="#0004ff"/><stop offset="1" stop-color="#004eff"/></linearGradient><linearGradient id="c117" x2="0" y2="1"><stop offset="0" stop-color="#0003ff"/><stop offset="0.04" stop-color="#0004ff"/><stop offset="0.1" stop-color="#0005ff"/><stop offset="0.17" stop-color="#0002ff"/><stop offset="0.24" stop-color="#0003ff"/><stop offset="0.31" stop-color="#0007ff"/><stop offset="0.38" stop-color="#0000fa"/><stop offset="0.45" stop-color="#0000f2"/><stop offset="0.52" stop-color="#0000de"/><stop offset="0.58" stop-color="#0000db"/><stop offset="0.64" stop-color="#0000d5"/><stop offset="0.7" stop-color="#0000d2"/><stop offset="0.76" stop-color="#0012ff"/><stop offset="0.82" stop-color="#003eff"/><stop offset="0.87" stop-color="#0030ff"/><stop offset="0.92" stop-color="#001bff"/><stop offset="0.96" stop-color="#0016ff"/><stop offset="1" stop-color="#0054ff"/></linearGradient><linearGradient id="c118" x2="0" y2="1"><stop offset="0" stop-color="#000aff"/><stop offset="0.04" stop-color="#0007ff"/><stop offset="0.1" stop-color="#0000ff"/><stop offset="0.17" stop-color="#0000fb"/><stop offset="0.24" stop-color="#0008ff"/><stop offset="0.31" stop-color="#0010ff"/><stop offset="0.38" stop-color="#0000f0"/><stop offset="0.45" stop-color="#0000e0"/><stop offset="0.52" stop-color="#0000cd"/><stop offset="0.58" stop-color="#0000cc"/><stop offset="0.64" stop-color="#0000d2"/><stop offset="0.7" stop-color="#0000af"/><stop offset="0.76" stop-color="#0000dc"/><stop offset="0.82" stop-color="#001cff"/><stop offset="0.87" stop-color="#002eff"/><stop offset="0.92" stop-color="#0032ff"/><stop offset="0.96" stop-color="#0039ff"/><stop offset="1" stop-color="#007aff"/></linearGradient><linearGradient id="c119" x2="0" y2="1"><stop offset="0" stop-color="#0000da"/><stop offset="0.04" stop-color="#0000d6"/><stop offset="0.1" stop-color="#0000cd"/><stop offset="0.17" stop-color="#0000bb"/><stop offset="0.24" stop-color="#0000c6"/><stop offset="0.31" stop-color="#0000e6"/><stop offset="0.38" stop-color="#0000ea"/><stop offset="0.45" stop-color="#0000cf"/><stop offset="0.52" stop-color="#0000b0"/><stop offset="0.58" stop-color="#0000b1"/><stop offset="0.64" stop-color="#0000c8"/><stop offset="0.7" stop-color="#0000bd"/><stop offset="0.76" stop-color="#0000de"/><stop offset="0.82" stop-color="#0000f5"/><stop offset="0.87" stop-color="#001eff"/><stop offset="0.92" stop-color="#0030ff"/><stop offset="0.96" stop-color="#0022ff"/><stop offset="1" stop-color="#0045ff"/></linearGradient><linearGradient id="c120" x2="0" y2="1"><stop offset="0" stop-color="#0000c2"/><stop offset="0.04" stop-color="#0000bd"/><stop offset="0.1" stop-color="#0000b5"/><stop offset="0.17" stop-color="#0000b8"/><stop offset="0.24" stop-color="#0000ba"/><stop offset="0.31" stop-color="#0000c4"/><stop offset="0.38" stop-color="#0000c0"/><stop offset="0.45" stop-color="#0000b8"/><stop offset="0.52" stop-color="#0000c9"/><stop offset="0.58" stop-color="#0000ca"/><stop offset="0.64" stop-color="#0000ba"/><stop offset="0.7" stop-color="#0000b8"/><stop offset="0.76" stop-color="#0000e0"/><stop offset="0.82" stop-color="#0000ef"/><stop offset="0.87" stop-color="#0004ff"/><stop offset="0.92" stop-color="#001cff"/><stop offset="0.96" stop-color="#0023ff"/><stop offset="1" stop-color="#0055ff"/></linearGradient><linearGradient id="c121" x2="0" y2="1"><stop offset="0" stop-color="#0000c2"/><stop offset="0.04" stop-color="#0000c2"/><stop offset="0.1" stop-color="#0000c2"/><stop offset="0.17" stop-color="#0000c0"/><stop offset="0.24" stop-color="#0000bc"/><stop offset="0.31" stop-color="#0000c1"/><stop offset="0.38" stop-color="#0000c7"/><stop offset="0.45" stop-color="#0000c8"/><stop offset="0.52" stop-color="#0000be"/><stop offset="0.58" stop-color="#0000c3"/><stop offset="0.64" stop-color="#0000cf"/><stop offset="0.7" stop-color="#0000dc"/><stop offset="0.76" stop-color="#0000fc"/><stop offset="0.82" stop-color="#0000e1"/><stop offset="0.87" stop-color="#0000ec"/><stop offset="0.92" stop-color="#0017ff"/><stop offset="0.96" stop-color="#0048ff"/><stop offset="1" stop-color="#009cff"/></linearGradient><linearGradient id="c122" x2="0" y2="1"><stop offset="0" stop-color="#0000d3"/><stop offset="0.04" stop-color="#0000ce"/><stop offset="0.1" stop-color="#0000c7"/><stop offset="0.17" stop-color="#0000d7"/><stop offset="0.24" stop-color="#0000db"/><stop offset="0.31" stop-color="#0000da"/><stop offset="0.38" stop-color="#0000db"/><stop offset="0.45" stop-color="#0000e4"/><stop offset="0.52" stop-color="#0000e9"/><stop offset="0.58" stop-color="#0000ec"/><stop offset="0.64" stop-color="#0000e8"/><stop offset="0.7" stop-color="#0000e3"/><stop offset="0.76" stop-color="#0010ff"/><stop offset="0.82" stop-color="#000cff"/><stop offset="0.87" stop-color="#0000f9"/><stop offset="0.92" stop-color="#000fff"/><stop offset="0.96" stop-color="#0036ff"/><stop offset="1" stop-color="#0079ff"/></linearGradient><linearGradient id="c123" x2="0" y2="1"><stop offset="0" stop-color="#0000f4"/><stop offset="0.04" stop-color="#0000fc"/><stop offset="0.1" stop-color="#0009ff"/><stop offset="0.17" stop-color="#0000fc"/><stop offset="0.24" stop-color="#000eff"/><stop offset="0.31" stop-color="#0018ff"/><stop offset="0.38" stop-color="#0014ff"/><stop offset="0.45" stop-color="#0000fb"/><stop offset="0.52" stop-color="#0000db"/><stop offset="0.58" stop-color="#0000ce"/><stop offset="0.64" stop-color="#0000ca"/><stop offset="0.7" stop-color="#0000f6"/><stop offset="0.76" stop-color="#003dff"/><stop offset="0.82" stop-color="#002eff"/><stop offset="0.87" stop-color="#002bff"/><stop offset="0.92" stop-color="#0041ff"/><stop offset="0.96" stop-color="#005bff"/><stop offset="1" stop-color="#008cff"/></linearGradient><linearGradient id="c124" x2="0" y2="1"><stop offset="0" stop-color="#0020ff"/><stop offset="0.04" stop-color="#0024ff"/><stop offset="0.1" stop-color="#002aff"/><stop offset="0.17" stop-color="#0035ff"/><stop offset="0.24" stop-color="#0038ff"/><stop offset="0.31" stop-color="#0029ff"/><stop offset="0.38" stop-color="#001dff"/><stop offset="0.45" stop-color="#0022ff"/><stop offset="0.52" stop-color="#0006ff"/><stop offset="0.58" stop-color="#0000e5"/><stop offset="0.64" stop-color="#0000bd"/><stop offset="0.7" stop-color="#0000ca"/><stop offset="0.76" stop-color="#0012ff"/><stop offset="0.82" stop-color="#0017ff"/><stop offset="0.87" stop-color="#0030ff"/><stop offset="0.92" stop-color="#0050ff"/><stop offset="0.96" stop-color="#005aff"/><stop offset="1" stop-color="#0075ff"/></linearGradient><linearGradient id="c125" x2="0" y2="1"><stop offset="0" stop-color="#0012ff"/><stop offset="0.04" stop-color="#0015ff"/><stop offset="0.1" stop-color="#0019ff"/><stop offset="0.17" stop-color="#001dff"/><stop offset="0.24" stop-color="#002eff"/><stop offset="0.31" stop-color="#0028ff"/><stop offset="0.38" stop-color="#001cff"/><stop offset="0.45" stop-color="#001fff"/><stop offset="0.52" stop-color="#0000ff"/><stop offset="0.58" stop-color="#0000e1"/><stop offset="0.64" stop-color="#0000bd"/><stop offset="0.7" stop-color="#0000b4"/><stop offset="0.76" stop-color="#0008ff"/><stop offset="0.82" stop-color="#0034ff"/><stop offset="0.87" stop-color="#0050ff"/><stop offset="0.92" stop-color="#0064ff"/><stop offset="0.96" stop-color="#0051ff"/><stop offset="1" stop-color="#004dff"/></linearGradient><linearGradient id="c126" x2="0" y2="1"><stop offset="0" stop-color="#0000dd"/><stop offset="0.04" stop-color="#0000e1"/><stop offset="0.1" stop-color="#0000e6"/><stop offset="0.17" stop-color="#0000df"/><stop offset="0.24" stop-color="#0000e5"/><stop offset="0.31" stop-color="#0000ec"/><stop offset="0.38" stop-color="#0000f6"/><stop offset="0.45" stop-color="#0000f4"/><stop offset="0.52" stop-color="#0000d1"/><stop offset="0.58" stop-color="#0000be"/><stop offset="0.64" stop-color="#0000ab"/><stop offset="0.7" stop-color="#0000c3"/><stop offset="0.76" stop-color="#0022ff"/><stop offset="0.82" stop-color="#0056ff"/><stop offset="0.87" stop-color="#002fff"/><stop offset="0.92" stop-color="#0013ff"/><stop offset="0.96" stop-color="#0025ff"/><stop offset="1" stop-color="#0041ff"/></linearGradient><linearGradient id="c127" x2="0" y2="1"><stop offset="0" stop-color="#0000ba"/><stop offset="0.04" stop-color="#0000be"/><stop offset="0.1" stop-color="#0000c8"/><stop offset="0.17" stop-color="#0000d1"/><stop offset="0.24" stop-color="#0000d0"/><stop offset="0.31" stop-color="#0000d5"/><stop offset="0.38" stop-color="#0000d7"/><stop offset="0.45" stop-color="#0000d6"/><stop offset="0.52" stop-color="#0000e5"/><stop offset="0.58" stop-color="#0000d5"/><stop offset="0.64" stop-color="#000099"/><stop offset="0.7" stop-color="#0000b4"/><stop offset="0.76" stop-color="#000aff"/><stop offset="0.82" stop-color="#003eff"/><stop offset="0.87" stop-color="#0038ff"/><stop offset="0.92" stop-color="#0027ff"/><stop offset="0.96" stop-color="#001aff"/><stop offset="1" stop-color="#0015ff"/></linearGradient><linearGradient id="c128" x2="0" y2="1"><stop offset="0" stop-color="#0000cf"/><stop offset="0.04" stop-color="#0000d1"/><stop offset="0.1" stop-color="#0000d7"/><stop offset="0.17" stop-color="#0000d8"/><stop offset="0.24" stop-color="#0000d4"/><stop offset="0.31" stop-color="#0000df"/><stop offset="0.38" stop-color="#0000e3"/><stop offset="0.45" stop-color="#0000ef"/><stop offset="0.52" stop-color="#0002ff"/><stop offset="0.58" stop-color="#0009ff"/><stop offset="0.64" stop-color="#0000f1"/><stop offset="0.7" stop-color="#0000d7"/><stop offset="0.76" stop-color="#0000f2"/><stop offset="0.82" stop-color="#0000fd"/><stop offset="0.87" stop-color="#000cff"/><stop offset="0.92" stop-color="#000dff"/><stop offset="0.96" stop-color="#0007ff"/><stop offset="1" stop-color="#0006ff"/></linearGradient><linearGradient id="c129" x2="0" y2="1"><stop offset="0" stop-color="#0008ff"/><stop offset="0.04" stop-color="#000fff"/><stop offset="0.1" stop-color="#001cff"/><stop offset="0.17" stop-color="#0011ff"/><stop offset="0.24" stop-color="#000fff"/><stop offset="0.31" stop-color="#0010ff"/><stop offset="0.38" stop-color="#0000f9"/><stop offset="0.45" stop-color="#0000e9"/><stop offset="0.52" stop-color="#0000f7"/><stop offset="0.58" stop-color="#0000ed"/><stop offset="0.64" stop-color="#0000be"/><stop offset="0.7" stop-color="#0000ba"/><stop offset="0.76" stop-color="#0000ea"/><stop offset="0.82" stop-color="#0000f5"/><stop offset="0.87" stop-color="#0000fe"/><stop offset="0.92" stop-color="#0018ff"/><stop offset="0.96" stop-color="#003dff"/><stop offset="1" stop-color="#0065ff"/></linearGradient><linearGradient id="c130" x2="0" y2="1"><stop offset="0" stop-color="#0035ff"/><stop offset="0.04" stop-color="#0032ff"/><stop offset="0.1" stop-color="#002bff"/><stop offset="0.17" stop-color="#0026ff"/><stop offset="0.24" stop-color="#001cff"/><stop offset="0.31" stop-color="#001bff"/><stop offset="0.38" stop-color="#0013ff"/><stop offset="0.45" stop-color="#0012ff"/><stop offset="0.52" stop-color="#0000ef"/><stop offset="0.58" stop-color="#0000e6"/><stop offset="0.64" stop-color="#0000e4"/><stop offset="0.7" stop-color="#0000bc"/><stop offset="0.76" stop-color="#0000f2"/><stop offset="0.82" stop-color="#0016ff"/><stop offset="0.87" stop-color="#0000ea"/><stop offset="0.92" stop-color="#0000ed"/><stop offset="0.96" stop-color="#001bff"/><stop offset="1" stop-color="#004bff"/></linearGradient><linearGradient id="c131" x2="0" y2="1"><stop offset="0" stop-color="#0000f2"/><stop offset="0.04" stop-color="#0000f0"/><stop offset="0.1" stop-color="#0000ee"/><stop offset="0.17" stop-color="#0000ec"/><stop offset="0.24" stop-color="#0000f4"/><stop offset="0.31" stop-color="#0000fa"/><stop offset="0.38" stop-color="#0000ef"/><stop offset="0.45" stop-color="#0000e3"/><stop offset="0.52" stop-color="#0000e2"/><stop offset="0.58" stop-color="#0000d4"/><stop offset="0.64" stop-color="#0000bb"/><stop offset="0.7" stop-color="#0000cf"/><stop offset="0.76" stop-color="#0018ff"/><stop offset="0.82" stop-color="#0011ff"/><stop offset="0.87" stop-color="#0000e2"/><stop offset="0.92" stop-color="#0000f5"/><stop offset="0.96" stop-color="#002eff"/><stop offset="1" stop-color="#0067ff"/></linearGradient><linearGradient id="c132" x2="0" y2="1"><stop offset="0" stop-color="#0000c9"/><stop offset="0.04" stop-color="#0000c7"/><stop offset="0.1" stop-color="#0000c4"/><stop offset="0.17" stop-color="#0000c5"/><stop offset="0.24" stop-color="#0000d0"/><stop offset="0.31" stop-color="#0000d1"/><stop offset="0.38" stop-color="#0000c7"/><stop offset="0.45" stop-color="#0000dc"/><stop offset="0.52" stop-color="#0000cb"/><stop offset="0.58" stop-color="#0000cd"/><stop offset="0.64" stop-color="#0000e2"/><stop offset="0.7" stop-color="#0000f2"/><stop offset="0.76" stop-color="#002eff"/><stop offset="0.82" stop-color="#0036ff"/><stop offset="0.87" stop-color="#0000fe"/><stop offset="0.92" stop-color="#0000f4"/><stop offset="0.96" stop-color="#0017ff"/><stop offset="1" stop-color="#003aff"/></linearGradient><linearGradient id="c133" x2="0" y2="1"><stop offset="0" stop-color="#0000be"/><stop offset="0.04" stop-color="#0000bf"/><stop offset="0.1" stop-color="#0000c0"/><stop offset="0.17" stop-color="#0000b6"/><stop offset="0.24" stop-color="#0000ba"/><stop offset="0.31" stop-color="#0000c8"/><stop offset="0.38" stop-color="#0000db"/><stop offset="0.45" stop-color="#0000da"/><stop offset="0.52" stop-color="#0000c4"/><stop offset="0.58" stop-color="#0000c9"/><stop offset="0.64" stop-color="#0000e8"/><stop offset="0.7" stop-color="#0003ff"/><stop offset="0.76" stop-color="#0029ff"/><stop offset="0.82" stop-color="#0032ff"/><stop offset="0.87" stop-color="#0047ff"/><stop offset="0.92" stop-color="#0051ff"/><stop offset="0.96" stop-color="#0031ff"/><stop offset="1" stop-color="#0012ff"/></linearGradient><linearGradient id="c134" x2="0" y2="1"><stop offset="0" stop-color="#0000cb"/><stop offset="0.04" stop-color="#0000cf"/><stop offset="0.1" stop-color="#0000d7"/><stop offset="0.17" stop-color="#0000dc"/><stop offset="0.24" stop-color="#0000eb"/><stop offset="0.31" stop-color="#0000f1"/><stop offset="0.38" stop-color="#0000f2"/><stop offset="0.45" stop-color="#0000f6"/><stop offset="0.52" stop-color="#0000db"/><stop offset="0.58" stop-color="#0000dd"/><stop offset="0.64" stop-color="#0000ff"/><stop offset="0.7" stop-color="#001eff"/><stop offset="0.76" stop-color="#0021ff"/><stop offset="0.82" stop-color="#0015ff"/><stop offset="0.87" stop-color="#0051ff"/><stop offset="0.92" stop-color="#0068ff"/><stop offset="0.96" stop-color="#004dff"/><stop offset="1" stop-color="#0032ff"/></linearGradient><linearGradient id="c135" x2="0" y2="1"><stop offset="0" stop-color="#0000ea"/><stop offset="0.04" stop-color="#0000ef"/><stop offset="0.1" stop-color="#0000f7"/><stop offset="0.17" stop-color="#0000fc"/><stop offset="0.24" stop-color="#0013ff"/><stop offset="0.31" stop-color="#002aff"/><stop offset="0.38" stop-color="#0040ff"/><stop offset="0.45" stop-color="#0035ff"/><stop offset="0.52" stop-color="#0013ff"/><stop offset="0.58" stop-color="#0000f8"/><stop offset="0.64" stop-color="#0000e4"/><stop offset="0.7" stop-color="#0000ea"/><stop offset="0.76" stop-color="#0000ff"/><stop offset="0.82" stop-color="#0028ff"/><stop offset="0.87" stop-color="#004eff"/><stop offset="0.92" stop-color="#0049ff"/><stop offset="0.96" stop-color="#002cff"/><stop offset="1" stop-color="#0010ff"/></linearGradient><linearGradient id="c136" x2="0" y2="1"><stop offset="0" stop-color="#001bff"/><stop offset="0.04" stop-color="#0023ff"/><stop offset="0.1" stop-color="#0032ff"/><stop offset="0.17" stop-color="#0030ff"/><stop offset="0.24" stop-color="#0047ff"/><stop offset="0.31" stop-color="#0060ff"/><stop offset="0.38" stop-color="#007dff"/><stop offset="0.45" stop-color="#006cff"/><stop offset="0.52" stop-color="#0042ff"/><stop offset="0.58" stop-color="#0018ff"/><stop offset="0.64" stop-color="#0000e0"/><stop offset="0.7" stop-color="#0000f0"/><stop offset="0.76" stop-color="#000dff"/><stop offset="0.82" stop-color="#001fff"/><stop offset="0.87" stop-color="#005eff"/><stop offset="0.92" stop-color="#0065ff"/><stop offset="0.96" stop-color="#0043ff"/><stop offset="1" stop-color="#0022ff"/></linearGradient><linearGradient id="c137" x2="0" y2="1"><stop offset="0" stop-color="#0045ff"/><stop offset="0.04" stop-color="#004aff"/><stop offset="0.1" stop-color="#0051ff"/><stop offset="0.17" stop-color="#004dff"/><stop offset="0.24" stop-color="#0077ff"/><stop offset="0.31" stop-color="#008fff"/><stop offset="0.38" stop-color="#0096ff"/><stop offset="0.45" stop-color="#0080ff"/><stop offset="0.52" stop-color="#005cff"/><stop offset="0.58" stop-color="#0026ff"/><stop offset="0.64" stop-color="#0000c3"/><stop offset="0.7" stop-color="#0000b4"/><stop offset="0.76" stop-color="#0000e7"/><stop offset="0.82" stop-color="#002cff"/><stop offset="0.87" stop-color="#006bff"/><stop offset="0.92" stop-color="#006dff"/><stop offset="0.96" stop-color="#0053ff"/><stop offset="1" stop-color="#0039ff"/></linearGradient><linearGradient id="c138" x2="0" y2="1"><stop offset="0" stop-color="#0029ff"/><stop offset="0.04" stop-color="#002dff"/><stop offset="0.1" stop-color="#0036ff"/><stop offset="0.17" stop-color="#0040ff"/><stop offset="0.24" stop-color="#005eff"/><stop offset="0.31" stop-color="#007cff"/><stop offset="0.38" stop-color="#00a0ff"/><stop offset="0.45" stop-color="#008fff"/><stop offset="0.52" stop-color="#0067ff"/><stop offset="0.58" stop-color="#0038ff"/><stop offset="0.64" stop-color="#0000e6"/><stop offset="0.7" stop-color="#0000de"/><stop offset="0.76" stop-color="#0000f9"/><stop offset="0.82" stop-color="#0001ff"/><stop offset="0.87" stop-color="#002fff"/><stop offset="0.92" stop-color="#0030ff"/><stop offset="0.96" stop-color="#001fff"/><stop offset="1" stop-color="#000dff"/></linearGradient><linearGradient id="c139" x2="0" y2="1"><stop offset="0" stop-color="#000aff"/><stop offset="0.04" stop-color="#0004ff"/><stop offset="0.1" stop-color="#0000fb"/><stop offset="0.17" stop-color="#001cff"/><stop offset="0.24" stop-color="#003eff"/><stop offset="0.31" stop-color="#0058ff"/><stop offset="0.38" stop-color="#0079ff"/><stop offset="0.45" stop-color="#007aff"/><stop offset="0.52" stop-color="#004fff"/><stop offset="0.58" stop-color="#0029ff"/><stop offset="0.64" stop-color="#0000f1"/><stop offset="0.7" stop-color="#0000e5"/><stop offset="0.76" stop-color="#0006ff"/><stop offset="0.82" stop-color="#001aff"/><stop offset="0.87" stop-color="#003aff"/><stop offset="0.92" stop-color="#0047ff"/><stop offset="0.96" stop-color="#0040ff"/><stop offset="1" stop-color="#0039ff"/></linearGradient><linearGradient id="c140" x2="0" y2="1"><stop offset="0" stop-color="#0000f3"/><stop offset="0.04" stop-color="#0000f8"/><stop offset="0.1" stop-color="#0003ff"/><stop offset="0.17" stop-color="#0008ff"/><stop offset="0.24" stop-color="#0034ff"/><stop offset="0.31" stop-color="#005eff"/><stop offset="0.38" stop-color="#0086ff"/><stop offset="0.45" stop-color="#00adff"/><stop offset="0.52" stop-color="#007bff"/><stop offset="0.58" stop-color="#0048ff"/><stop offset="0.64" stop-color="#0006ff"/><stop offset="0.7" stop-color="#0001ff"/><stop offset="0.76" stop-color="#0020ff"/><stop offset="0.82" stop-color="#0029ff"/><stop offset="0.87" stop-color="#0025ff"/><stop offset="0.92" stop-color="#002eff"/><stop offset="0.96" stop-color="#0038ff"/><stop offset="1" stop-color="#0041ff"/></linearGradient><linearGradient id="c141" x2="0" y2="1"><stop offset="0" stop-color="#001dff"/><stop offset="0.04" stop-color="#0022ff"/><stop offset="0.1" stop-color="#0029ff"/><stop offset="0.17" stop-color="#0027ff"/><stop offset="0.24" stop-color="#0037ff"/><stop offset="0.31" stop-color="#0054ff"/><stop offset="0.38" stop-color="#0085ff"/><stop offset="0.45" stop-color="#00beff"/><stop offset="0.52" stop-color="#0075ff"/><stop offset="0.58" stop-color="#003eff"/><stop offset="0.64" stop-color="#000aff"/><stop offset="0.7" stop-color="#0004ff"/><stop offset="0.76" stop-color="#0017ff"/><stop offset="0.82" stop-color="#0011ff"/><stop offset="0.87" stop-color="#0017ff"/><stop offset="0.92" stop-color="#002dff"/><stop offset="0.96" stop-color="#0036ff"/><stop offset="1" stop-color="#003fff"/></linearGradient><linearGradient id="c142" x2="0" y2="1"><stop offset="0" stop-color="#0048ff"/><stop offset="0.04" stop-color="#0044ff"/><stop offset="0.1" stop-color="#003fff"/><stop offset="0.17" stop-color="#0054ff"/><stop offset="0.24" stop-color="#005cff"/><stop offset="0.31" stop-color="#0075ff"/><stop offset="0.38" stop-color="#00aaff"/><stop offset="0.45" stop-color="#00c8ff"/><stop offset="0.52" stop-color="#0086ff"/><stop offset="0.58" stop-color="#0040ff"/><stop offset="0.64" stop-color="#0000ec"/><stop offset="0.7" stop-color="#0000f2"/><stop offset="0.76" stop-color="#0008ff"/><stop offset="0.82" stop-color="#0005ff"/><stop offset="0.87" stop-color="#0006ff"/><stop offset="0.92" stop-color="#0015ff"/><stop offset="0.96" stop-color="#002dff"/><stop offset="1" stop-color="#0045ff"/></linearGradient><linearGradient id="c143" x2="0" y2="1"><stop offset="0" stop-color="#004aff"/><stop offset="0.04" stop-color="#004aff"/><stop offset="0.1" stop-color="#0048ff"/><stop offset="0.17" stop-color="#004aff"/><stop offset="0.24" stop-color="#005eff"/><stop offset="0.31" stop-color="#0077ff"/><stop offset="0.38" stop-color="#00a1ff"/><stop offset="0.45" stop-color="#00b3ff"/><stop offset="0.52" stop-color="#005fff"/><stop offset="0.58" stop-color="#001cff"/><stop offset="0.64" stop-color="#0000de"/><stop offset="0.7" stop-color="#0000e1"/><stop offset="0.76" stop-color="#0000e7"/><stop offset="0.82" stop-color="#0000dc"/><stop offset="0.87" stop-color="#0012ff"/><stop offset="0.92" stop-color="#0031ff"/><stop offset="0.96" stop-color="#0014ff"/><stop offset="1" stop-color="#0000f6"/></linearGradient><linearGradient id="c144" x2="0" y2="1"><stop offset="0" stop-color="#001fff"/><stop offset="0.04" stop-color="#0022ff"/><stop offset="0.1" stop-color="#0024ff"/><stop offset="0.17" stop-color="#002fff"/><stop offset="0.24" stop-color="#0042ff"/><stop offset="0.31" stop-color="#004fff"/><stop offset="0.38" stop-color="#0070ff"/><stop offset="0.45" stop-color="#0089ff"/><stop offset="0.52" stop-color="#0044ff"/><stop offset="0.58" stop-color="#0022ff"/><stop offset="0.64" stop-color="#0015ff"/><stop offset="0.7" stop-color="#0000ff"/><stop offset="0.76" stop-color="#0000fc"/><stop offset="0.82" stop-color="#0000fe"/><stop offset="0.87" stop-color="#0020ff"/><stop offset="0.92" stop-color="#0028ff"/><stop offset="0.96" stop-color="#0018ff"/><stop offset="1" stop-color="#0007ff"/></linearGradient><linearGradient id="c145" x2="0" y2="1"><stop offset="0" stop-color="#0000e7"/><stop offset="0.04" stop-color="#0000e6"/><stop offset="0.1" stop-color="#0000e5"/><stop offset="0.17" stop-color="#0000f7"/><stop offset="0.24" stop-color="#000cff"/><stop offset="0.31" stop-color="#0010ff"/><stop offset="0.38" stop-color="#0020ff"/><stop offset="0.45" stop-color="#0049ff"/><stop offset="0.52" stop-color="#001eff"/><stop offset="0.58" stop-color="#0009ff"/><stop offset="0.64" stop-color="#0004ff"/><stop offset="0.7" stop-color="#0000ef"/><stop offset="0.76" stop-color="#0002ff"/><stop offset="0.82" stop-color="#0032ff"/><stop offset="0.87" stop-color="#0023ff"/><stop offset="0.92" stop-color="#0000f9"/><stop offset="0.96" stop-color="#0000eb"/><stop offset="1" stop-color="#0000dd"/></linearGradient><linearGradient id="c146" x2="0" y2="1"><stop offset="0" stop-color="#0000cc"/><stop offset="0.04" stop-color="#0000c6"/><stop offset="0.1" stop-color="#0000bd"/><stop offset="0.17" stop-color="#0000d3"/><stop offset="0.24" stop-color="#0000e4"/><stop offset="0.31" stop-color="#0000ee"/><stop offset="0.38" stop-color="#0000fb"/><stop offset="0.45" stop-color="#0000fb"/><stop offset="0.52" stop-color="#0000f7"/><stop offset="0.58" stop-color="#0000ee"/><stop offset="0.64" stop-color="#0000df"/><stop offset="0.7" stop-color="#0000e5"/><stop offset="0.76" stop-color="#0001ff"/><stop offset="0.82" stop-color="#0030ff"/><stop offset="0.87" stop-color="#0047ff"/><stop offset="0.92" stop-color="#0028ff"/><stop offset="0.96" stop-color="#0000fa"/><stop offset="1" stop-color="#0000cc"/></linearGradient><linearGradient id="c147" x2="0" y2="1"><stop offset="0" stop-color="#0000e7"/><stop offset="0.04" stop-color="#0000e3"/><stop offset="0.1" stop-color="#0000da"/><stop offset="0.17" stop-color="#0000de"/><stop offset="0.24" stop-color="#0000f0"/><stop offset="0.31" stop-color="#0000ff"/><stop offset="0.38" stop-color="#0000ff"/><stop offset="0.45" stop-color="#0000ef"/><stop offset="0.52" stop-color="#0000e0"/><stop offset="0.58" stop-color="#0000dc"/><stop offset="0.64" stop-color="#0000dd"/><stop offset="0.7" stop-color="#0000c7"/><stop offset="0.76" stop-color="#0000d5"/><stop offset="0.82" stop-color="#0008ff"/><stop offset="0.87" stop-color="#0018ff"/><stop offset="0.92" stop-color="#0000f0"/><stop offset="0.96" stop-color="#0000c6"/><stop offset="1" stop-color="#00009d"/></linearGradient><linearGradient id="c148" x2="0" y2="1"><stop offset="0" stop-color="#0000ec"/><stop offset="0.04" stop-color="#0000f0"/><stop offset="0.1" stop-color="#0000f9"/><stop offset="0.17" stop-color="#0000f9"/><stop offset="0.24" stop-color="#0000ee"/><stop offset="0.31" stop-color="#0000eb"/><stop offset="0.38" stop-color="#0000ec"/><stop offset="0.45" stop-color="#0000eb"/><stop offset="0.52" stop-color="#0000f6"/><stop offset="0.58" stop-color="#0000fc"/><stop offset="0.64" stop-color="#0000fc"/><stop offset="0.7" stop-color="#0000ed"/><stop offset="0.76" stop-color="#0000f3"/><stop offset="0.82" stop-color="#000bff"/><stop offset="0.87" stop-color="#0017ff"/><stop offset="0.92" stop-color="#0006ff"/><stop offset="0.96" stop-color="#0000f6"/><stop offset="1" stop-color="#0000e6"/></linearGradient><linearGradient id="c149" x2="0" y2="1"><stop offset="0" stop-color="#0000fb"/><stop offset="0.04" stop-color="#0000ff"/><stop offset="0.1" stop-color="#0008ff"/><stop offset="0.17" stop-color="#0000f6"/><stop offset="0.24" stop-color="#0000f8"/><stop offset="0.31" stop-color="#0000fd"/><stop offset="0.38" stop-color="#0000f3"/><stop offset="0.45" stop-color="#0000ef"/><stop offset="0.52" stop-color="#0001ff"/><stop offset="0.58" stop-color="#0000fb"/><stop offset="0.64" stop-color="#0000e2"/><stop offset="0.7" stop-color="#0000eb"/><stop offset="0.76" stop-color="#0005ff"/><stop offset="0.82" stop-color="#0022ff"/><stop offset="0.87" stop-color="#0000ff"/><stop offset="0.92" stop-color="#0000db"/><stop offset="0.96" stop-color="#0000cd"/><stop offset="1" stop-color="#0000bf"/></linearGradient><linearGradient id="c150" x2="0" y2="1"><stop offset="0" stop-color="#0019ff"/><stop offset="0.04" stop-color="#001eff"/><stop offset="0.1" stop-color="#0027ff"/><stop offset="0.17" stop-color="#0012ff"/><stop offset="0.24" stop-color="#0003ff"/><stop offset="0.31" stop-color="#0000fd"/><stop offset="0.38" stop-color="#0000f3"/><stop offset="0.45" stop-color="#0000f3"/><stop offset="0.52" stop-color="#0000ea"/><stop offset="0.58" stop-color="#0000ed"/><stop offset="0.64" stop-color="#0000f0"/><stop offset="0.7" stop-color="#0000d3"/><stop offset="0.76" stop-color="#0000e0"/><stop offset="0.82" stop-color="#0005ff"/><stop offset="0.87" stop-color="#0002ff"/><stop offset="0.92" stop-color="#000cff"/><stop offset="0.96" stop-color="#000dff"/><stop offset="1" stop-color="#000dff"/></linearGradient><linearGradient id="c151" x2="0" y2="1"><stop offset="0" stop-color="#0016ff"/><stop offset="0.04" stop-color="#0018ff"/><stop offset="0.1" stop-color="#001bff"/><stop offset="0.17" stop-color="#0014ff"/><stop offset="0.24" stop-color="#0018ff"/><stop offset="0.31" stop-color="#0011ff"/><stop offset="0.38" stop-color="#0000f5"/><stop offset="0.45" stop-color="#0000f3"/><stop offset="0.52" stop-color="#0000f0"/><stop offset="0.58" stop-color="#0000f6"/><stop offset="0.64" stop-color="#0000f4"/><stop offset="0.7" stop-color="#0000e9"/><stop offset="0.76" stop-color="#0000fc"/><stop offset="0.82" stop-color="#0000f4"/><stop offset="0.87" stop-color="#0000de"/><stop offset="0.92" stop-color="#0000e6"/><stop offset="0.96" stop-color="#0000fe"/><stop offset="1" stop-color="#0017ff"/></linearGradient><linearGradient id="c152" x2="0" y2="1"><stop offset="0" stop-color="#0000de"/><stop offset="0.04" stop-color="#0000e1"/><stop offset="0.1" stop-color="#0000e6"/><stop offset="0.17" stop-color="#0000e2"/><stop offset="0.24" stop-color="#0000e1"/><stop offset="0.31" stop-color="#0000e0"/><stop offset="0.38" stop-color="#0000de"/><stop offset="0.45" stop-color="#0000de"/><stop offset="0.52" stop-color="#0000ed"/><stop offset="0.58" stop-color="#0000eb"/><stop offset="0.64" stop-color="#0000c5"/><stop offset="0.7" stop-color="#0000bf"/><stop offset="0.76" stop-color="#0000e6"/><stop offset="0.82" stop-color="#0000df"/><stop offset="0.87" stop-color="#0000be"/><stop offset="0.92" stop-color="#0000cd"/><stop offset="0.96" stop-color="#0000ff"/><stop offset="1" stop-color="#0032ff"/></linearGradient><linearGradient id="c153" x2="0" y2="1"><stop offset="0" stop-color="#0000c0"/><stop offset="0.04" stop-color="#0000c4"/><stop offset="0.1" stop-color="#0000c9"/><stop offset="0.17" stop-color="#0000c2"/><stop offset="0.24" stop-color="#0000d4"/><stop offset="0.31" stop-color="#0000d0"/><stop offset="0.38" stop-color="#0000bc"/><stop offset="0.45" stop-color="#0000c9"/><stop offset="0.52" stop-color="#0000ce"/><stop offset="0.58" stop-color="#0000de"/><stop offset="0.64" stop-color="#0000d6"/><stop offset="0.7" stop-color="#0000b2"/><stop offset="0.76" stop-color="#0000d3"/><stop offset="0.82" stop-color="#0000c2"/><stop offset="0.87" stop-color="#0000c9"/><stop offset="0.92" stop-color="#0000f0"/><stop offset="0.96" stop-color="#0000fb"/><stop offset="1" stop-color="#0006ff"/></linearGradient><linearGradient id="c154" x2="0" y2="1"><stop offset="0" stop-color="#0000c7"/><stop offset="0.04" stop-color="#0000c4"/><stop offset="0.1" stop-color="#0000bf"/><stop offset="0.17" stop-color="#0000d3"/><stop offset="0.24" stop-color="#0000ca"/><stop offset="0.31" stop-color="#0000c4"/><stop offset="0.38" stop-color="#0000cb"/><stop offset="0.45" stop-color="#0000c0"/><stop offset="0.52" stop-color="#0000d7"/><stop offset="0.58" stop-color="#0000de"/><stop offset="0.64" stop-color="#0000b6"/><stop offset="0.7" stop-color="#00008a"/><stop offset="0.76" stop-color="#0000c8"/><stop offset="0.82" stop-color="#0000e6"/><stop offset="0.87" stop-color="#0000a8"/><stop offset="0.92" stop-color="#0000a1"/><stop offset="0.96" stop-color="#0000e5"/><stop offset="1" stop-color="#0028ff"/></linearGradient><linearGradient id="c155" x2="0" y2="1"><stop offset="0" stop-color="#0000c3"/><stop offset="0.04" stop-color="#0000c1"/><stop offset="0.1" stop-color="#0000be"/><stop offset="0.17" stop-color="#0000c7"/><stop offset="0.24" stop-color="#0000c2"/><stop offset="0.31" stop-color="#0000bf"/><stop offset="0.38" stop-color="#0000ba"/><stop offset="0.45" stop-color="#000096"/><stop offset="0.52" stop-color="#0000b5"/><stop offset="0.58" stop-color="#0000be"/><stop offset="0.64" stop-color="#000090"/><stop offset="0.7" stop-color="#00007f"/><stop offset="0.76" stop-color="#0000be"/><stop offset="0.82" stop-color="#0000ba"/><stop offset="0.87" stop-color="#0000cf"/><stop offset="0.92" stop-color="#0000e2"/><stop offset="0.96" stop-color="#0000c3"/><stop offset="1" stop-color="#0000a4"/></linearGradient><linearGradient id="c156" x2="0" y2="1"><stop offset="0" stop-color="#0000b9"/><stop offset="0.04" stop-color="#0000b7"/><stop offset="0.1" stop-color="#0000b3"/><stop offset="0.17" stop-color="#0000ad"/><stop offset="0.24" stop-color="#0000c2"/><stop offset="0.31" stop-color="#0000d0"/><stop offset="0.38" stop-color="#0000c8"/><stop offset="0.45" stop-color="#0000cd"/><stop offset="0.52" stop-color="#0000d5"/><stop offset="0.58" stop-color="#0000c6"/><stop offset="0.64" stop-color="#000083"/><stop offset="0.7" stop-color="#000089"/><stop offset="0.76" stop-color="#0000e3"/><stop offset="0.82" stop-color="#0000f0"/><stop offset="0.87" stop-color="#0000ca"/><stop offset="0.92" stop-color="#0000b0"/><stop offset="0.96" stop-color="#0000b9"/><stop offset="1" stop-color="#0000c1"/></linearGradient><linearGradient id="c157" x2="0" y2="1"><stop offset="0" stop-color="#0000c3"/><stop offset="0.04" stop-color="#0000b8"/><stop offset="0.1" stop-color="#0000a7"/><stop offset="0.17" stop-color="#0000ac"/><stop offset="0.24" stop-color="#0000b2"/><stop offset="0.31" stop-color="#0000c1"/><stop offset="0.38" stop-color="#0000cb"/><stop offset="0.45" stop-color="#0000c0"/><stop offset="0.52" stop-color="#0000d6"/><stop offset="0.58" stop-color="#0000da"/><stop offset="0.64" stop-color="#0000bb"/><stop offset="0.7" stop-color="#0000bd"/><stop offset="0.76" stop-color="#0000e4"/><stop offset="0.82" stop-color="#0000c3"/><stop offset="0.87" stop-color="#0000d3"/><stop offset="0.92" stop-color="#0000d8"/><stop offset="0.96" stop-color="#0000c9"/><stop offset="1" stop-color="#0000b9"/></linearGradient><linearGradient id="c158" x2="0" y2="1"><stop offset="0" stop-color="#0000c3"/><stop offset="0.04" stop-color="#0000ca"/><stop offset="0.1" stop-color="#0000d5"/><stop offset="0.17" stop-color="#0000cc"/><stop offset="0.24" stop-color="#0000d4"/><stop offset="0.31" stop-color="#0000e1"/><stop offset="0.38" stop-color="#0000e7"/><stop offset="0.45" stop-color="#0000fd"/><stop offset="0.52" stop-color="#0000f4"/><stop offset="0.58" stop-color="#0000e6"/><stop offset="0.64" stop-color="#0000ca"/><stop offset="0.7" stop-color="#0000c1"/><stop offset="0.76" stop-color="#0000dd"/><stop offset="0.82" stop-color="#0000e6"/><stop offset="0.87" stop-color="#0002ff"/><stop offset="0.92" stop-color="#0008ff"/><stop offset="0.96" stop-color="#000cff"/><stop offset="1" stop-color="#000fff"/></linearGradient><linearGradient id="c159" x2="0" y2="1"><stop offset="0" stop-color="#0000e7"/><stop offset="0.04" stop-color="#0000eb"/><stop offset="0.1" stop-color="#0000f3"/><stop offset="0.17" stop-color="#0000ff"/><stop offset="0.24" stop-color="#0009ff"/><stop offset="0.31" stop-color="#000cff"/><stop offset="0.38" stop-color="#0006ff"/><stop offset="0.45" stop-color="#002aff"/><stop offset="0.52" stop-color="#0026ff"/><stop offset="0.58" stop-color="#000dff"/><stop offset="0.64" stop-color="#0000e9"/><stop offset="0.7" stop-color="#0000e2"/><stop offset="0.76" stop-color="#0000e1"/><stop offset="0.82" stop-color="#0000e8"/><stop offset="0.87" stop-color="#0021ff"/><stop offset="0.92" stop-color="#0000fd"/><stop offset="0.96" stop-color="#000fff"/><stop offset="1" stop-color="#001fff"/></linearGradient><linearGradient id="c160" x2="0" y2="1"><stop offset="0" stop-color="#0015ff"/><stop offset="0.04" stop-color="#0016ff"/><stop offset="0.1" stop-color="#0017ff"/><stop offset="0.17" stop-color="#001cff"/><stop offset="0.24" stop-color="#001dff"/><stop offset="0.31" stop-color="#0032ff"/><stop offset="0.38" stop-color="#0046ff"/><stop offset="0.45" stop-color="#004aff"/><stop offset="0.52" stop-color="#003bff"/><stop offset="0.58" stop-color="#0033ff"/><stop offset="0.64" stop-color="#0023ff"/><stop offset="0.7" stop-color="#0000e5"/><stop offset="0.76" stop-color="#0000cd"/><stop offset="0.82" stop-color="#0000cf"/><stop offset="0.87" stop-color="#0053ff"/><stop offset="0.92" stop-color="#0000fe"/><stop offset="0.96" stop-color="#0000fc"/><stop offset="1" stop-color="#0000fc"/></linearGradient><linearGradient id="c161" x2="0" y2="1"><stop offset="0" stop-color="#0028ff"/><stop offset="0.04" stop-color="#002eff"/><stop offset="0.1" stop-color="#0036ff"/><stop offset="0.17" stop-color="#0027ff"/><stop offset="0.24" stop-color="#002cff"/><stop offset="0.31" stop-color="#003dff"/><stop offset="0.38" stop-color="#0043ff"/><stop offset="0.45" stop-color="#005bff"/><stop offset="0.52" stop-color="#004cff"/><stop offset="0.58" stop-color="#003dff"/><stop offset="0.64" stop-color="#0012ff"/><stop offset="0.7" stop-color="#0000e0"/><stop offset="0.76" stop-color="#0000e1"/><stop offset="0.82" stop-color="#0000e4"/><stop offset="0.87" stop-color="#0073ff"/><stop offset="0.92" stop-color="#0021ff"/><stop offset="0.96" stop-color="#0007ff"/><stop offset="1" stop-color="#0000ec"/></linearGradient><linearGradient id="c162" x2="0" y2="1"><stop offset="0" stop-color="#0016ff"/><stop offset="0.04" stop-color="#0010ff"/><stop offset="0.1" stop-color="#0005ff"/><stop offset="0.17" stop-color="#000dff"/><stop offset="0.24" stop-color="#0010ff"/><stop offset="0.31" stop-color="#0017ff"/><stop offset="0.38" stop-color="#001aff"/><stop offset="0.45" stop-color="#0029ff"/><stop offset="0.52" stop-color="#005eff"/><stop offset="0.58" stop-color="#0053ff"/><stop offset="0.64" stop-color="#0000e9"/><stop offset="0.7" stop-color="#0000ca"/><stop offset="0.76" stop-color="#0000f3"/><stop offset="0.82" stop-color="#000bff"/><stop offset="0.87" stop-color="#0033ff"/><stop offset="0.92" stop-color="#0006ff"/><stop offset="0.96" stop-color="#000cff"/><stop offset="1" stop-color="#0011ff"/></linearGradient><linearGradient id="c163" x2="0" y2="1"><stop offset="0" stop-color="#0000e9"/><stop offset="0.04" stop-color="#0000eb"/><stop offset="0.1" stop-color="#0000ee"/><stop offset="0.17" stop-color="#0000e8"/><stop offset="0.24" stop-color="#0000dc"/><stop offset="0.31" stop-color="#0000da"/><stop offset="0.38" stop-color="#0000ea"/><stop offset="0.45" stop-color="#0002ff"/><stop offset="0.52" stop-color="#001fff"/><stop offset="0.58" stop-color="#001fff"/><stop offset="0.64" stop-color="#0000df"/><stop offset="0.7" stop-color="#0000c6"/><stop offset="0.76" stop-color="#0000e9"/><stop offset="0.82" stop-color="#0000f6"/><stop offset="0.87" stop-color="#0016ff"/><stop offset="0.92" stop-color="#001aff"/><stop offset="0.96" stop-color="#0011ff"/><stop offset="1" stop-color="#0007ff"/></linearGradient><linearGradient id="c164" x2="0" y2="1"><stop offset="0" stop-color="#0000c5"/><stop offset="0.04" stop-color="#0000cc"/><stop offset="0.1" stop-color="#0000d6"/><stop offset="0.17" stop-color="#0000be"/><stop offset="0.24" stop-color="#0000c5"/><stop offset="0.31" stop-color="#0000cb"/><stop offset="0.38" stop-color="#0000e2"/><stop offset="0.45" stop-color="#000bff"/><stop offset="0.52" stop-color="#000cff"/><stop offset="0.58" stop-color="#000cff"/><stop offset="0.64" stop-color="#0000ee"/><stop offset="0.7" stop-color="#0000d2"/><stop offset="0.76" stop-color="#0000df"/><stop offset="0.82" stop-color="#0000e9"/><stop offset="0.87" stop-color="#0005ff"/><stop offset="0.92" stop-color="#000eff"/><stop offset="0.96" stop-color="#0016ff"/><stop offset="1" stop-color="#001eff"/></linearGradient><linearGradient id="c165" x2="0" y2="1"><stop offset="0" stop-color="#0000c6"/><stop offset="0.04" stop-color="#0000c9"/><stop offset="0.1" stop-color="#0000d1"/><stop offset="0.17" stop-color="#0000d8"/><stop offset="0.24" stop-color="#0000d0"/><stop offset="0.31" stop-color="#0000bd"/><stop offset="0.38" stop-color="#0000c9"/><stop offset="0.45" stop-color="#0000f0"/><stop offset="0.52" stop-color="#0000ff"/><stop offset="0.58" stop-color="#0000f1"/><stop offset="0.64" stop-color="#0000b6"/><stop offset="0.7" stop-color="#0000b5"/><stop offset="0.76" stop-color="#0000c0"/><stop offset="0.82" stop-color="#0000d0"/><stop offset="0.87" stop-color="#001cff"/><stop offset="0.92" stop-color="#0039ff"/><stop offset="0.96" stop-color="#0029ff"/><stop offset="1" stop-color="#0019ff"/></linearGradient><linearGradient id="c166" x2="0" y2="1"><stop offset="0" stop-color="#0000ec"/><stop offset="0.04" stop-color="#0000f4"/><stop offset="0.1" stop-color="#0003ff"/><stop offset="0.17" stop-color="#0000fe"/><stop offset="0.24" stop-color="#0000f3"/><stop offset="0.31" stop-color="#0000e2"/><stop offset="0.38" stop-color="#0000e5"/><stop offset="0.45" stop-color="#0000f1"/><stop offset="0.52" stop-color="#0000fa"/><stop offset="0.58" stop-color="#0000f8"/><stop offset="0.64" stop-color="#0000d8"/><stop offset="0.7" stop-color="#0000a8"/><stop offset="0.76" stop-color="#0000ab"/><stop offset="0.82" stop-color="#0000db"/><stop offset="0.87" stop-color="#001dff"/><stop offset="0.92" stop-color="#002cff"/><stop offset="0.96" stop-color="#0014ff"/><stop offset="1" stop-color="#0000fb"/></linearGradient><linearGradient id="c167" x2="0" y2="1"><stop offset="0" stop-color="#0011ff"/><stop offset="0.04" stop-color="#0016ff"/><stop offset="0.1" stop-color="#0020ff"/><stop offset="0.17" stop-color="#0023ff"/><stop offset="0.24" stop-color="#0010ff"/><stop offset="0.31" stop-color="#0002ff"/><stop offset="0.38" stop-color="#0000fe"/><stop offset="0.45" stop-color="#0006ff"/><stop offset="0.52" stop-color="#0009ff"/><stop offset="0.58" stop-color="#0000fb"/><stop offset="0.64" stop-color="#0000c9"/><stop offset="0.7" stop-color="#0000a0"/><stop offset="0.76" stop-color="#0000c6"/><stop offset="0.82" stop-color="#000eff"/><stop offset="0.87" stop-color="#001cff"/><stop offset="0.92" stop-color="#0009ff"/><stop offset="0.96" stop-color="#0000f1"/><stop offset="1" stop-color="#0000d9"/></linearGradient><linearGradient id="c168" x2="0" y2="1"><stop offset="0" stop-color="#0000fc"/><stop offset="0.04" stop-color="#0000fc"/><stop offset="0.1" stop-color="#0000fb"/><stop offset="0.17" stop-color="#0000ec"/><stop offset="0.24" stop-color="#0000e8"/><stop offset="0.31" stop-color="#0000f8"/><stop offset="0.38" stop-color="#0000fb"/><stop offset="0.45" stop-color="#0000f2"/><stop offset="0.52" stop-color="#0000f3"/><stop offset="0.58" stop-color="#0000e6"/><stop offset="0.64" stop-color="#0000b1"/><stop offset="0.7" stop-color="#0000bc"/><stop offset="0.76" stop-color="#0000e9"/><stop offset="0.82" stop-color="#0000ed"/><stop offset="0.87" stop-color="#003aff"/><stop offset="0.92" stop-color="#0052ff"/><stop offset="0.96" stop-color="#0013ff"/><stop offset="1" stop-color="#0000d3"/></linearGradient><linearGradient id="c169" x2="0" y2="1"><stop offset="0" stop-color="#0000c9"/><stop offset="0.04" stop-color="#0000c8"/><stop offset="0.1" stop-color="#0000c7"/><stop offset="0.17" stop-color="#0000bf"/><stop offset="0.24" stop-color="#0000c8"/><stop offset="0.31" stop-color="#0000dc"/><stop offset="0.38" stop-color="#0000d9"/><stop offset="0.45" stop-color="#0000ec"/><stop offset="0.52" stop-color="#0000dd"/><stop offset="0.58" stop-color="#0000e1"/><stop offset="0.64" stop-color="#0000d8"/><stop offset="0.7" stop-color="#0000cd"/><stop offset="0.76" stop-color="#0000f4"/><stop offset="0.82" stop-color="#0000f2"/><stop offset="0.87" stop-color="#0020ff"/><stop offset="0.92" stop-color="#0036ff"/><stop offset="0.96" stop-color="#0027ff"/><stop offset="1" stop-color="#0018ff"/></linearGradient><linearGradient id="c170" x2="0" y2="1"><stop offset="0" stop-color="#0000c1"/><stop offset="0.04" stop-color="#0000c6"/><stop offset="0.1" stop-color="#0000cd"/><stop offset="0.17" stop-color="#0000c9"/><stop offset="0.24" stop-color="#0000d0"/><stop offset="0.31" stop-color="#0000dc"/><stop offset="0.38" stop-color="#0000d4"/><stop offset="0.45" stop-color="#0000c0"/><stop offset="0.52" stop-color="#0000dd"/><stop offset="0.58" stop-color="#0000e0"/><stop offset="0.64" stop-color="#0000be"/><stop offset="0.7" stop-color="#0000cc"/><stop offset="0.76" stop-color="#0000fc"/><stop offset="0.82" stop-color="#0000fc"/><stop offset="0.87" stop-color="#0000ea"/><stop offset="0.92" stop-color="#0000e3"/><stop offset="0.96" stop-color="#0000fb"/><stop offset="1" stop-color="#0013ff"/></linearGradient><linearGradient id="c171" x2="0" y2="1"><stop offset="0" stop-color="#0000b7"/><stop offset="0.04" stop-color="#0000c0"/><stop offset="0.1" stop-color="#0000cf"/><stop offset="0.17" stop-color="#0000d2"/><stop offset="0.24" stop-color="#0000cb"/><stop offset="0.31" stop-color="#0000c5"/><stop offset="0.38" stop-color="#0000c3"/><stop offset="0.45" stop-color="#0000b9"/><stop offset="0.52" stop-color="#0000d2"/><stop offset="0.58" stop-color="#0000d8"/><stop offset="0.64" stop-color="#0000c7"/><stop offset="0.7" stop-color="#0000c3"/><stop offset="0.76" stop-color="#0000e7"/><stop offset="0.82" stop-color="#0000f3"/><stop offset="0.87" stop-color="#0000d7"/><stop offset="0.92" stop-color="#0000d0"/><stop offset="0.96" stop-color="#0000de"/><stop offset="1" stop-color="#0000eb"/></linearGradient><linearGradient id="c172" x2="0" y2="1"><stop offset="0" stop-color="#0000da"/><stop offset="0.04" stop-color="#0000dc"/><stop offset="0.1" stop-color="#0000e0"/><stop offset="0.17" stop-color="#0000ec"/><stop offset="0.24" stop-color="#0000ee"/><stop offset="0.31" stop-color="#0000e1"/><stop offset="0.38" stop-color="#0000d5"/><stop offset="0.45" stop-color="#0000d9"/><stop offset="0.52" stop-color="#0000d2"/><stop offset="0.58" stop-color="#0000e2"/><stop offset="0.64" stop-color="#0004ff"/><stop offset="0.7" stop-color="#0000ff"/><stop offset="0.76" stop-color="#000bff"/><stop offset="0.82" stop-color="#0000f3"/><stop offset="0.87" stop-color="#0000e4"/><stop offset="0.92" stop-color="#0000f4"/><stop offset="0.96" stop-color="#001bff"/><stop offset="1" stop-color="#0040ff"/></linearGradient><linearGradient id="c173" x2="0" y2="1"><stop offset="0" stop-color="#0000f6"/><stop offset="0.04" stop-color="#0000f5"/><stop offset="0.1" stop-color="#0000f2"/><stop offset="0.17" stop-color="#0000f8"/><stop offset="0.24" stop-color="#0000f4"/><stop offset="0.31" stop-color="#0000e2"/><stop offset="0.38" stop-color="#0000d1"/><stop offset="0.45" stop-color="#0000d8"/><stop offset="0.52" stop-color="#0000ec"/><stop offset="0.58" stop-color="#0000f8"/><stop offset="0.64" stop-color="#0000f7"/><stop offset="0.7" stop-color="#0000f3"/><stop offset="0.76" stop-color="#0003ff"/><stop offset="0.82" stop-color="#0000fc"/><stop offset="0.87" stop-color="#0000d9"/><stop offset="0.92" stop-color="#0000ca"/><stop offset="0.96" stop-color="#0000dd"/><stop offset="1" stop-color="#0000f0"/></linearGradient><linearGradient id="c174" x2="0" y2="1"><stop offset="0" stop-color="#0000e3"/><stop offset="0.04" stop-color="#0000df"/><stop offset="0.1" stop-color="#0000d7"/><stop offset="0.17" stop-color="#0000d3"/><stop offset="0.24" stop-color="#0000d9"/><stop offset="0.31" stop-color="#0000da"/><stop offset="0.38" stop-color="#0000df"/><stop offset="0.45" stop-color="#0000d6"/><stop offset="0.52" stop-color="#0000f6"/><stop offset="0.58" stop-color="#0005ff"/><stop offset="0.64" stop-color="#0000f2"/><stop offset="0.7" stop-color="#0000eb"/><stop offset="0.76" stop-color="#0000f8"/><stop offset="0.82" stop-color="#0000fc"/><stop offset="0.87" stop-color="#0009ff"/><stop offset="0.92" stop-color="#001aff"/><stop offset="0.96" stop-color="#003bff"/><stop offset="1" stop-color="#005cff"/></linearGradient><linearGradient id="c175" x2="0" y2="1"><stop offset="0" stop-color="#0000be"/><stop offset="0.04" stop-color="#0000c1"/><stop offset="0.1" stop-color="#0000c4"/><stop offset="0.17" stop-color="#0000bd"/><stop offset="0.24" stop-color="#0000be"/><stop offset="0.31" stop-color="#0000be"/><stop offset="0.38" stop-color="#0000c4"/><stop offset="0.45" stop-color="#0000ce"/><stop offset="0.52" stop-color="#0000c9"/><stop offset="0.58" stop-color="#0000d4"/><stop offset="0.64" stop-color="#0000d1"/><stop offset="0.7" stop-color="#0000d4"/><stop offset="0.76" stop-color="#0000e1"/><stop offset="0.82" stop-color="#0000e7"/><stop offset="0.87" stop-color="#0009ff"/><stop offset="0.92" stop-color="#0016ff"/><stop offset="0.96" stop-color="#000fff"/><stop offset="1" stop-color="#0008ff"/></linearGradient><linearGradient id="c176" x2="0" y2="1"><stop offset="0" stop-color="#0000ce"/><stop offset="0.04" stop-color="#0000c6"/><stop offset="0.1" stop-color="#0000b9"/><stop offset="0.17" stop-color="#0000c3"/><stop offset="0.24" stop-color="#0000c8"/><stop offset="0.31" stop-color="#0000d7"/><stop offset="0.38" stop-color="#0000e5"/><stop offset="0.45" stop-color="#0000db"/><stop offset="0.52" stop-color="#0000e2"/><stop offset="0.58" stop-color="#0000ed"/><stop offset="0.64" stop-color="#0000df"/><stop offset="0.7" stop-color="#0000d5"/><stop offset="0.76" stop-color="#0000ec"/><stop offset="0.82" stop-color="#0010ff"/><stop offset="0.87" stop-color="#0020ff"/><stop offset="0.92" stop-color="#001cff"/><stop offset="0.96" stop-color="#000eff"/><stop offset="1" stop-color="#0000fe"/></linearGradient><linearGradient id="c177" x2="0" y2="1"><stop offset="0" stop-color="#0001ff"/><stop offset="0.04" stop-color="#0000ff"/><stop offset="0.1" stop-color="#0000fc"/><stop offset="0.17" stop-color="#0000f5"/><stop offset="0.24" stop-color="#0000f4"/><stop offset="0.31" stop-color="#0000fe"/><stop offset="0.38" stop-color="#0000fd"/><stop offset="0.45" stop-color="#0006ff"/><stop offset="0.52" stop-color="#0000e9"/><stop offset="0.58" stop-color="#0000ee"/><stop offset="0.64" stop-color="#0000f5"/><stop offset="0.7" stop-color="#0000df"/><stop offset="0.76" stop-color="#0000ee"/><stop offset="0.82" stop-color="#0009ff"/><stop offset="0.87" stop-color="#002dff"/><stop offset="0.92" stop-color="#003dff"/><stop offset="0.96" stop-color="#0042ff"/><stop offset="1" stop-color="#0047ff"/></linearGradient><linearGradient id="c178" x2="0" y2="1"><stop offset="0" stop-color="#003aff"/><stop offset="0.04" stop-color="#0039ff"/><stop offset="0.1" stop-color="#0036ff"/><stop offset="0.17" stop-color="#001bff"/><stop offset="0.24" stop-color="#0019ff"/><stop offset="0.31" stop-color="#0030ff"/><stop offset="0.38" stop-color="#002dff"/><stop offset="0.45" stop-color="#0012ff"/><stop offset="0.52" stop-color="#0003ff"/><stop offset="0.58" stop-color="#0000f6"/><stop offset="0.64" stop-color="#0000d4"/><stop offset="0.7" stop-color="#0000cd"/><stop offset="0.76" stop-color="#0000ee"/><stop offset="0.82" stop-color="#001aff"/><stop offset="0.87" stop-color="#0042ff"/><stop offset="0.92" stop-color="#0058ff"/><stop offset="0.96" stop-color="#006fff"/><stop offset="1" stop-color="#0086ff"/></linearGradient><linearGradient id="c179" x2="0" y2="1"><stop offset="0" stop-color="#001bff"/><stop offset="0.04" stop-color="#0020ff"/><stop offset="0.1" stop-color="#0027ff"/><stop offset="0.17" stop-color="#001cff"/><stop offset="0.24" stop-color="#0011ff"/><stop offset="0.31" stop-color="#001fff"/><stop offset="0.38" stop-color="#0032ff"/><stop offset="0.45" stop-color="#0033ff"/><stop offset="0.52" stop-color="#002aff"/><stop offset="0.58" stop-color="#001bff"/><stop offset="0.64" stop-color="#0000f2"/><stop offset="0.7" stop-color="#0000d4"/><stop offset="0.76" stop-color="#0000ec"/><stop offset="0.82" stop-color="#0020ff"/><stop offset="0.87" stop-color="#0051ff"/><stop offset="0.92" stop-color="#006aff"/><stop offset="0.96" stop-color="#006eff"/><stop offset="1" stop-color="#0072ff"/></linearGradient><linearGradient id="c180" x2="0" y2="1"><stop offset="0" stop-color="#0000d9"/><stop offset="0.04" stop-color="#0000de"/><stop offset="0.1" stop-color="#0000e7"/><stop offset="0.17" stop-color="#0000d8"/><stop offset="0.24" stop-color="#0000e4"/><stop offset="0.31" stop-color="#0000f1"/><stop offset="0.38" stop-color="#0002ff"/><stop offset="0.45" stop-color="#0011ff"/><stop offset="0.52" stop-color="#0004ff"/><stop offset="0.58" stop-color="#0003ff"/><stop offset="0.64" stop-color="#0000fc"/><stop offset="0.7" stop-color="#0000fb"/><stop offset="0.76" stop-color="#0007ff"/><stop offset="0.82" stop-color="#0007ff"/><stop offset="0.87" stop-color="#0034ff"/><stop offset="0.92" stop-color="#004fff"/><stop offset="0.96" stop-color="#0061ff"/><stop offset="1" stop-color="#0072ff"/></linearGradient><linearGradient id="c181" x2="0" y2="1"><stop offset="0" stop-color="#0000e3"/><stop offset="0.04" stop-color="#0000dd"/><stop offset="0.1" stop-color="#0000d4"/><stop offset="0.17" stop-color="#0000e3"/><stop offset="0.24" stop-color="#0000f3"/><stop offset="0.31" stop-color="#0000ef"/><stop offset="0.38" stop-color="#0000fa"/><stop offset="0.45" stop-color="#0017ff"/><stop offset="0.52" stop-color="#0001ff"/><stop offset="0.58" stop-color="#0000ff"/><stop offset="0.64" stop-color="#0005ff"/><stop offset="0.7" stop-color="#0000f7"/><stop offset="0.76" stop-color="#0000fd"/><stop offset="0.82" stop-color="#0008ff"/><stop offset="0.87" stop-color="#0032ff"/><stop offset="0.92" stop-color="#004bff"/><stop offset="0.96" stop-color="#0054ff"/><stop offset="1" stop-color="#005dff"/></linearGradient><linearGradient id="c182" x2="0" y2="1"><stop offset="0" stop-color="#0019ff"/><stop offset="0.04" stop-color="#0013ff"/><stop offset="0.1" stop-color="#000dff"/><stop offset="0.17" stop-color="#003bff"/><stop offset="0.24" stop-color="#0036ff"/><stop offset="0.31" stop-color="#0013ff"/><stop offset="0.38" stop-color="#000aff"/><stop offset="0.45" stop-color="#0016ff"/><stop offset="0.52" stop-color="#0012ff"/><stop offset="0.58" stop-color="#0012ff"/><stop offset="0.64" stop-color="#000cff"/><stop offset="0.7" stop-color="#0000e3"/><stop offset="0.76" stop-color="#0000e8"/><stop offset="0.82" stop-color="#000eff"/><stop offset="0.87" stop-color="#0044ff"/><stop offset="0.92" stop-color="#0057ff"/><stop offset="0.96" stop-color="#003dff"/><stop offset="1" stop-color="#0023ff"/></linearGradient><linearGradient id="c183" x2="0" y2="1"><stop offset="0" stop-color="#0006ff"/><stop offset="0.04" stop-color="#000aff"/><stop offset="0.1" stop-color="#0012ff"/><stop offset="0.17" stop-color="#001cff"/><stop offset="0.24" stop-color="#0021ff"/><stop offset="0.31" stop-color="#000bff"/><stop offset="0.38" stop-color="#0000fe"/><stop offset="0.45" stop-color="#0008ff"/><stop offset="0.52" stop-color="#0000f9"/><stop offset="0.58" stop-color="#0000f3"/><stop offset="0.64" stop-color="#0000ea"/><stop offset="0.7" stop-color="#0000d1"/><stop offset="0.76" stop-color="#0000de"/><stop offset="0.82" stop-color="#0009ff"/><stop offset="0.87" stop-color="#001cff"/><stop offset="0.92" stop-color="#0011ff"/><stop offset="0.96" stop-color="#000cff"/><stop offset="1" stop-color="#0007ff"/></linearGradient><linearGradient id="c184" x2="0" y2="1"><stop offset="0" stop-color="#0000ce"/><stop offset="0.04" stop-color="#0000d5"/><stop offset="0.1" stop-color="#0000e4"/><stop offset="0.17" stop-color="#0000f5"/><stop offset="0.24" stop-color="#0000f3"/><stop offset="0.31" stop-color="#0000dd"/><stop offset="0.38" stop-color="#0000de"/><stop offset="0.45" stop-color="#0000dc"/><stop offset="0.52" stop-color="#0000d8"/><stop offset="0.58" stop-color="#0000db"/><stop offset="0.64" stop-color="#0000dc"/><stop offset="0.7" stop-color="#0000c8"/><stop offset="0.76" stop-color="#0000d8"/><stop offset="0.82" stop-color="#000cff"/><stop offset="0.87" stop-color="#002eff"/><stop offset="0.92" stop-color="#0022ff"/><stop offset="0.96" stop-color="#0009ff"/><stop offset="1" stop-color="#0000ee"/></linearGradient><linearGradient id="mud" x1="0" y1="0" x2="0" y2="1"><stop offset="0" stop-color="#609070" stop-opacity="0"/><stop offset="0.6" stop-color="#609070" stop-opacity="0.13"/><stop offset="1" stop-color="#70a060" stop-opacity="0.3"/></linearGradient><linearGradient id="fug" x1="0" y1="0" x2="0" y2="1"><stop offset="0" stop-color="#fff" stop-opacity="0"/><stop offset="0.6" stop-color="#fff" stop-opacity="0.5"/><stop offset="1" stop-color="#fff" stop-opacity="1"/></linearGradient><mask id="fadeup" maskUnits="userSpaceOnUse" x="98" y="685" width="370" height="38"><rect x="98" y="685" width="370" height="38" fill="url(#fug)"/></mask><radialGradient id="rg" gradientUnits="userSpaceOnUse" cx="828.75" cy="587.75" r="110"><stop offset="0" stop-color="#fff"/><stop offset="0.35" stop-color="#fff" stop-opacity="0.7"/><stop offset="1" stop-color="#fff" stop-opacity="0"/></radialGradient><mask id="rmask" maskUnits="userSpaceOnUse" x="646" y="451" width="366" height="274"><rect x="646" y="451" width="366" height="274" fill="url(#rg)"/></mask><clipPath id="ca"><rect x="93" y="47.5" width="374" height="273.5"/></clipPath><clipPath id="cb"><rect x="641" y="47.5" width="373" height="272"/></clipPath><clipPath id="cd"><rect x="646" y="451" width="365.5" height="273.5"/></clipPath><filter id="bl05" color-interpolation-filters="sRGB" x="-20%" y="-20%" width="140%" height="140%"><feGaussianBlur stdDeviation="0.6"/></filter><filter id="bl1" color-interpolation-filters="sRGB" x="-5%" y="-5%" width="110%" height="110%"><feGaussianBlur stdDeviation="1.2"/></filter><filter id="bl8" color-interpolation-filters="sRGB" x="-50%" y="-50%" width="200%" height="200%"><feGaussianBlur stdDeviation="16"/></filter><filter id="bl2" color-interpolation-filters="sRGB" x="-10%" y="-10%" width="120%" height="120%"><feGaussianBlur stdDeviation="2"/></filter><filter id="bl4" color-interpolation-filters="sRGB" x="-20%" y="-20%" width="140%" height="140%"><feGaussianBlur stdDeviation="10"/></filter><filter id="str1" x="0" y="0" width="100%" height="100%" color-interpolation-filters="sRGB"><feTurbulence type="fractalNoise" baseFrequency="0.035 0.3" numOctaves="2" seed="11"/><feColorMatrix type="matrix" values="0 0 0 0 0.02  0 0 0 0 0.62  0 0 0 0 1  5.5 0 0 0 -2.9"/></filter><filter id="noise" x="0" y="0" width="100%" height="100%" color-interpolation-filters="sRGB"><feTurbulence type="fractalNoise" baseFrequency="0.38" numOctaves="2" seed="3"/><feColorMatrix type="matrix" values="0 0 0 0 0.0  0 0 0 0 0.55  0 0 0 0 1  0 0 0 2.6 -1.1"/></filter></defs>
<rect width="1060" height="855" fill="#fff"/>
<g clip-path="url(#ca)"><polyline points="93.0,184.2 93.1,175.7 93.2,192.1 93.2,209.8 93.3,197.3 93.4,212.7 93.5,182.5 93.5,145.8 93.6,198.4 93.7,202.1 93.8,170.2 93.9,174.0 93.9,181.2 94.0,211.0 94.1,185.1 94.2,164.3 94.2,222.9 94.3,197.4 94.4,238.8 94.5,221.3 94.6,237.1 94.6,191.0 94.7,220.6 94.8,176.5 94.9,179.7 94.9,189.6 95.0,256.5 95.1,199.7 95.2,185.6 95.3,181.0 95.3,228.2 95.4,198.0 95.5,212.4 95.6,207.5 95.6,153.8 95.7,207.4 95.8,185.2 95.9,158.9 96.0,201.0 96.0,187.5 96.1,181.1 96.2,182.4 96.3,219.4 96.4,182.1 96.4,145.2 96.5,228.7 96.6,159.6 96.7,180.8 96.7,202.7 96.8,126.8 96.9,162.4 97.0,218.7 97.1,182.1 97.1,167.7 97.2,189.7 97.3,164.6 97.4,186.2 97.4,165.1 97.5,142.9 97.6,203.7 97.7,178.4 97.8,197.6 97.8,180.6 97.9,218.3 98.0,200.9 98.1,189.9 98.1,158.4 98.2,151.4 98.3,222.3 98.4,207.1 98.5,165.7 98.5,241.5 98.6,197.6 98.7,187.0 98.8,148.2 98.8,164.5 98.9,193.6 99.0,194.8 99.1,191.4 99.2,140.5 99.2,196.5 99.3,193.0 99.4,174.1 99.5,187.7 99.5,189.9 99.6,216.2 99.7,184.6 99.8,197.0 99.9,150.8 99.9,165.5 100.0,184.9 100.1,165.1 100.2,194.0 100.2,154.0 100.3,184.4 100.4,167.5 100.5,221.3 100.6,174.3 100.6,232.7 100.7,242.7 100.8,193.0 100.9,210.1 100.9,179.5 101.0,119.8 101.1,208.1 101.2,202.2 101.3,178.4 101.3,170.1 101.4,189.3 101.5,190.2 101.6,164.1 101.7,169.3 101.7,213.9 101.8,186.5 101.9,183.2 102.0,214.5 102.0,176.8 102.1,208.9 102.2,156.3 102.3,178.7 102.4,181.7 102.4,201.2 102.5,187.7 102.6,241.6 102.7,216.7 102.7,173.8 102.8,245.4 102.9,159.9 103.0,234.4 103.1,162.5 103.1,208.5 103.2,161.9 103.3,180.5 103.4,228.4 103.4,148.4 103.5,142.8 103.6,186.1 103.7,192.1 103.8,188.8 103.8,212.3 103.9,152.7 104.0,199.8 104.1,185.7 104.1,207.0 104.2,202.2 104.3,220.9 104.4,148.2 104.5,188.7 104.5,156.5 104.6,183.9 104.7,204.2 104.8,193.6 104.8,200.3 104.9,184.0 105.0,195.0 105.1,192.9 105.2,223.8 105.2,207.4 105.3,136.7 105.4,203.5 105.5,214.5 105.5,174.6 105.6,143.8 105.7,226.0 105.8,190.2 105.9,202.4 105.9,234.8 106.0,163.1 106.1,184.9 106.2,182.2 106.2,205.9 106.3,171.2 106.4,199.7 106.5,188.4 106.6,216.1 106.6,219.2 106.7,145.9 106.8,198.8 106.9,175.9 106.9,185.2 107.0,196.9 107.1,198.8 107.2,166.2 107.3,192.9 107.3,188.6 107.4,183.6 107.5,150.5 107.6,164.7 107.7,173.3 107.7,200.4 107.8,223.9 107.9,157.0 108.0,156.5 108.0,188.3 108.1,168.7 108.2,161.8 108.3,160.4 108.4,157.8 108.4,197.3 108.5,140.7 108.6,220.0 108.7,159.5 108.7,170.1 108.8,159.2 108.9,130.3 109.0,141.6 109.1,217.1 109.1,232.7 109.2,160.8 109.3,213.4 109.4,184.6 109.4,160.1 109.5,231.5 109.6,244.8 109.7,176.8 109.8,183.0 109.8,191.3 109.9,183.1 110.0,209.0 110.1,227.7 110.1,189.0 110.2,212.2 110.3,231.4 110.4,169.7 110.5,186.0 110.5,172.6 110.6,212.7 110.7,203.1 110.8,212.9 110.8,209.7 110.9,178.6 111.0,206.7 111.1,174.0 111.2,174.5 111.2,126.1 111.3,224.2 111.4,158.8 111.5,186.8 111.5,184.7 111.6,225.9 111.7,197.5 111.8,162.9 111.9,186.6 111.9,181.9 112.0,192.6 112.1,151.1 112.2,184.9 112.2,247.4 112.3,204.1 112.4,240.8 112.5,271.8 112.6,199.5 112.6,146.0 112.7,182.9 112.8,217.9 112.9,211.3 113.0,151.8 113.0,179.7 113.1,182.9 113.2,185.8 113.3,183.1 113.3,161.1 113.4,168.4 113.5,178.1 113.6,214.2 113.7,169.6 113.7,203.9 113.8,152.8 113.9,220.8 114.0,188.2 114.0,184.5 114.1,222.3 114.2,134.8 114.3,142.3 114.4,197.6 114.4,162.1 114.5,173.4 114.6,259.3 114.7,177.1 114.7,186.0 114.8,181.9 114.9,215.2 115.0,192.0 115.1,189.4 115.1,150.1 115.2,174.6 115.3,184.4 115.4,140.3 115.4,200.2 115.5,195.4 115.6,236.4 115.7,139.2 115.8,156.6 115.8,157.9 115.9,165.0 116.0,181.1 116.1,178.1 116.1,191.5 116.2,190.1 116.3,182.7 116.4,140.8 116.5,168.3 116.5,185.9 116.6,200.9 116.7,202.5 116.8,138.2 116.8,169.7 116.9,182.3 117.0,194.2 117.1,216.1 117.2,186.2 117.2,159.2 117.3,195.5 117.4,190.8 117.5,190.6 117.5,181.1 117.6,230.0 117.7,191.0 117.8,208.8 117.9,158.8 117.9,206.4 118.0,167.7 118.1,140.5 118.2,193.3 118.3,201.5 118.3,178.8 118.4,184.3 118.5,212.8 118.6,171.0 118.6,126.4 118.7,191.7 118.8,190.1 118.9,214.3 119.0,175.1 119.0,220.1 119.1,216.0 119.2,147.5 119.3,210.3 119.3,153.2 119.4,140.5 119.5,176.8 119.6,168.4 119.7,128.2 119.7,189.9 119.8,201.3 119.9,223.1 120.0,183.1 120.0,141.8 120.1,156.7 120.2,211.3 120.3,208.8 120.4,198.7 120.4,175.9 120.5,190.1 120.6,178.1 120.7,175.7 120.7,192.8 120.8,185.4 120.9,178.3 121.0,186.7 121.1,169.8 121.1,130.5 121.2,167.3 121.3,182.6 121.4,232.7 121.4,173.1 121.5,240.2 121.6,224.7 121.7,159.7 121.8,164.0 121.8,188.6 121.9,233.4 122.0,194.9 122.1,203.7 122.1,166.0 122.2,119.4 122.3,178.0 122.4,206.6 122.5,217.9 122.5,185.9 122.6,189.3 122.7,217.3 122.8,180.9 122.8,217.3 122.9,152.3 123.0,153.7 123.1,153.1 123.2,197.9 123.2,169.5 123.3,188.0 123.4,195.4 123.5,194.0 123.5,221.6 123.6,225.7 123.7,161.4 123.8,189.7 123.9,178.0 123.9,155.5 124.0,234.0 124.1,206.8 124.2,179.2 124.3,173.0 124.3,195.1 124.4,154.7 124.5,178.2 124.6,219.1 124.6,211.0 124.7,161.1 124.8,170.9 124.9,238.8 125.0,145.5 125.0,167.1 125.1,145.7 125.2,195.3 125.3,192.7 125.3,216.6 125.4,111.4 125.5,189.3 125.6,138.7 125.7,202.8 125.7,179.5 125.8,232.2 125.9,195.2 126.0,156.0 126.0,220.2 126.1,153.5 126.2,174.6 126.3,214.2 126.4,198.7 126.4,197.4 126.5,185.7 126.6,199.6 126.7,208.0 126.7,193.0 126.8,213.7 126.9,221.3 127.0,185.6 127.1,158.9 127.1,228.2 127.2,184.1 127.3,202.9 127.4,212.3 127.4,159.7 127.5,199.1 127.6,141.2 127.7,206.6 127.8,173.2 127.8,190.8 127.9,205.9 128.0,167.4 128.1,188.7 128.1,166.9 128.2,185.6 128.3,215.4 128.4,187.2 128.5,182.8 128.5,156.7 128.6,210.3 128.7,185.4 128.8,233.7 128.8,165.5 128.9,215.3 129.0,236.1 129.1,186.0 129.2,152.5 129.2,228.0 129.3,215.5 129.4,205.6 129.5,216.7 129.6,173.4 129.6,207.4 129.7,205.0 129.8,167.5 129.9,205.9 129.9,171.8 130.0,212.1 130.1,219.1 130.2,237.0 130.3,130.8 130.3,193.4 130.4,177.2 130.5,185.1 130.6,179.7 130.6,182.8 130.7,129.5 130.8,214.1 130.9,229.0 131.0,213.3 131.0,222.6 131.1,162.8 131.2,160.7 131.3,211.9 131.3,224.2 131.4,194.4 131.5,144.3 131.6,265.2 131.7,169.1 131.7,215.1 131.8,154.4 131.9,215.2 132.0,192.4 132.0,227.5 132.1,212.3 132.2,144.5 132.3,160.7 132.4,195.8 132.4,209.2 132.5,238.6 132.6,195.6 132.7,185.1 132.7,186.7 132.8,186.9 132.9,216.5 133.0,186.2 133.1,185.4 133.1,147.2 133.2,130.6 133.3,188.2 133.4,206.3 133.4,186.1 133.5,201.7 133.6,205.6 133.7,185.9 133.8,214.2 133.8,166.8 133.9,187.2 134.0,177.1 134.1,189.5 134.1,205.1 134.2,211.5 134.3,191.1 134.4,200.0 134.5,177.5 134.5,184.4 134.6,223.4 134.7,182.3 134.8,222.8 134.8,202.0 134.9,192.7 135.0,243.8 135.1,181.6 135.2,179.9 135.2,188.8 135.3,196.4 135.4,195.0 135.5,212.3 135.6,192.0 135.6,200.1 135.7,181.6 135.8,218.8 135.9,177.5 135.9,180.1 136.0,188.3 136.1,196.9 136.2,168.4 136.3,232.1 136.3,171.0 136.4,177.3 136.5,176.1 136.6,173.2 136.6,203.0 136.7,191.7 136.8,166.0 136.9,171.9 137.0,178.3 137.0,227.7 137.1,168.8 137.2,150.7 137.3,155.3 137.3,177.5 137.4,229.0 137.5,157.2 137.6,188.5 137.7,257.0 137.7,173.4 137.8,227.1 137.9,221.5 138.0,202.5 138.0,147.7 138.1,194.9 138.2,176.5 138.3,134.1 138.4,138.5 138.4,187.2 138.5,191.2 138.6,220.5 138.7,204.2 138.7,172.0 138.8,172.9 138.9,181.1 139.0,155.7 139.1,206.4 139.1,185.9 139.2,163.3 139.3,167.5 139.4,153.5 139.4,172.8 139.5,193.1 139.6,173.8 139.7,213.0 139.8,231.3 139.8,167.6 139.9,185.8 140.0,175.4 140.1,233.0 140.1,194.7 140.2,201.5 140.3,209.1 140.4,249.0 140.5,193.9 140.5,158.5 140.6,173.3 140.7,201.5 140.8,184.7 140.9,162.5 140.9,263.5 141.0,187.8 141.1,168.7 141.2,164.7 141.2,135.4 141.3,151.7 141.4,175.3 141.5,175.6 141.6,161.7 141.6,199.7 141.7,185.4 141.8,158.2 141.9,128.0 141.9,188.8 142.0,185.6 142.1,178.6 142.2,145.7 142.3,185.1 142.3,142.1 142.4,212.0 142.5,189.6 142.6,189.9 142.6,161.7 142.7,154.2 142.8,227.6 142.9,210.5 143.0,174.6 143.0,203.2 143.1,228.0 143.2,154.4 143.3,170.1 143.3,170.1 143.4,197.9 143.5,154.7 143.6,191.1 143.7,152.8 143.7,210.4 143.8,208.8 143.9,178.4 144.0,204.4 144.0,164.9 144.1,176.8 144.2,210.8 144.3,182.2 144.4,194.3 144.4,157.9 144.5,202.4 144.6,196.9 144.7,149.5 144.7,120.0 144.8,126.8 144.9,182.4 145.0,178.0 145.1,140.2 145.1,187.8 145.2,212.3 145.3,180.9 145.4,171.3 145.4,208.1 145.5,231.5 145.6,225.5 145.7,165.1 145.8,206.0 145.8,188.3 145.9,178.1 146.0,166.5 146.1,193.9 146.2,169.9 146.2,209.8 146.3,194.6 146.4,213.7 146.5,151.7 146.5,185.0 146.6,205.5 146.7,194.4 146.8,190.6 146.9,164.1 146.9,230.1 147.0,214.0 147.1,195.1 147.2,111.5 147.2,156.8 147.3,187.5 147.4,163.8 147.5,125.2 147.6,191.0 147.6,194.8 147.7,149.4 147.8,170.1 147.9,165.0 147.9,198.8 148.0,129.0 148.1,135.2 148.2,168.0 148.3,164.6 148.3,242.5 148.4,165.9 148.5,189.8 148.6,171.8 148.6,164.7 148.7,194.1 148.8,232.8 148.9,173.7 149.0,205.5 149.0,193.7 149.1,201.6 149.2,194.1 149.3,250.6 149.3,149.3 149.4,177.0 149.5,152.3 149.6,127.4 149.7,183.6 149.7,236.0 149.8,209.9 149.9,218.9 150.0,198.7 150.0,182.0 150.1,241.7 150.2,174.4 150.3,227.6 150.4,175.7 150.4,187.4 150.5,193.3 150.6,186.3 150.7,199.8 150.7,201.8 150.8,232.6 150.9,185.1 151.0,131.3 151.1,127.4 151.1,146.3 151.2,164.0 151.3,203.7 151.4,142.8 151.4,185.9 151.5,186.2 151.6,192.6 151.7,181.6 151.8,196.7 151.8,186.7 151.9,215.4 152.0,195.0 152.1,118.8 152.2,186.2 152.2,191.1 152.3,169.0 152.4,163.9 152.5,216.2 152.5,190.2 152.6,157.9 152.7,176.5 152.8,180.7 152.9,139.6 152.9,203.7 153.0,181.9 153.1,199.2 153.2,141.5 153.2,240.3 153.3,203.5 153.4,199.4 153.5,165.2 153.6,166.8 153.6,144.2 153.7,229.5 153.8,162.7 153.9,192.7 153.9,203.4 154.0,168.8 154.1,210.7 154.2,243.9 154.3,194.9 154.3,227.3 154.4,202.9 154.5,173.6 154.6,175.3 154.6,138.7 154.7,190.0 154.8,228.3 154.9,206.0 155.0,210.7 155.0,219.2 155.1,171.7 155.2,202.8 155.3,241.0 155.3,164.2 155.4,187.4 155.5,174.0 155.6,181.2 155.7,166.1 155.7,183.2 155.8,148.7 155.9,172.0 156.0,173.0 156.0,172.5 156.1,226.1 156.2,189.0 156.3,191.7 156.4,178.3 156.4,223.3 156.5,137.3 156.6,181.3 156.7,219.0 156.7,233.3 156.8,192.3 156.9,186.8 157.0,204.9 157.1,181.6 157.1,202.7 157.2,168.4 157.3,205.1 157.4,185.4 157.5,156.1 157.5,110.4 157.6,213.2 157.7,197.6 157.8,208.4 157.8,161.7 157.9,217.2 158.0,198.2 158.1,185.1 158.2,212.4 158.2,211.7 158.3,197.9 158.4,244.6 158.5,225.8 158.5,196.1 158.6,180.0 158.7,189.6 158.8,235.2 158.9,197.6 158.9,161.3 159.0,168.3 159.1,186.5 159.2,209.7 159.2,166.1 159.3,200.9 159.4,217.8 159.5,207.3 159.6,142.7 159.6,177.9 159.7,151.0 159.8,198.0 159.9,157.3 159.9,201.5 160.0,188.8 160.1,112.8 160.2,162.2 160.3,198.6 160.3,186.7 160.4,174.9 160.5,149.5 160.6,198.3 160.6,234.3 160.7,192.3 160.8,183.8 160.9,181.1 161.0,146.4 161.0,175.2 161.1,160.9 161.2,215.9 161.3,159.3 161.3,124.1 161.4,162.1 161.5,177.0 161.6,179.8 161.7,132.9 161.7,210.9 161.8,187.4 161.9,171.0 162.0,162.9 162.0,196.8 162.1,175.4 162.2,192.2 162.3,180.8 162.4,188.0 162.4,217.0 162.5,184.9 162.6,159.1 162.7,212.0 162.7,191.2 162.8,165.2 162.9,215.0 163.0,179.0 163.1,214.7 163.1,151.7 163.2,117.8 163.3,126.2 163.4,190.5 163.5,163.0 163.5,180.8 163.6,181.3 163.7,139.8 163.8,222.1 163.8,153.9 163.9,185.7 164.0,143.8 164.1,178.9 164.2,203.6 164.2,176.3 164.3,163.1 164.4,183.2 164.5,170.2 164.5,199.2 164.6,245.5 164.7,158.4 164.8,164.2 164.9,180.0 164.9,182.3 165.0,154.5 165.1,197.4 165.2,204.5 165.2,189.7 165.3,150.1 165.4,224.1 165.5,150.0 165.6,202.6 165.6,215.9 165.7,148.1 165.8,187.0 165.9,221.6 165.9,194.6 166.0,157.5 166.1,150.0 166.2,196.5 166.3,172.6 166.3,163.7 166.4,202.8 166.5,174.1 166.6,185.2 166.6,199.6 166.7,198.4 166.8,182.3 166.9,183.4 167.0,200.5 167.0,196.5 167.1,152.3 167.2,178.1 167.3,158.8 167.3,149.7 167.4,167.3 167.5,119.0 167.6,208.0 167.7,161.0 167.7,193.4 167.8,131.0 167.9,135.4 168.0,240.4 168.0,212.1 168.1,165.2 168.2,161.6 168.3,163.1 168.4,186.3 168.4,171.2 168.5,165.5 168.6,186.5 168.7,154.7 168.8,249.1 168.8,166.0 168.9,213.9 169.0,156.7 169.1,190.8 169.1,209.8 169.2,173.5 169.3,210.4 169.4,210.5 169.5,229.3 169.5,185.0 169.6,170.0 169.7,154.9 169.8,188.3 169.8,154.2 169.9,183.7 170.0,186.9 170.1,167.8 170.2,153.9 170.2,194.1 170.3,191.3 170.4,188.9 170.5,181.9 170.5,210.1 170.6,154.7 170.7,195.7 170.8,171.0 170.9,208.0 170.9,173.9 171.0,173.0 171.1,196.3 171.2,126.2 171.2,173.6 171.3,133.2 171.4,156.7 171.5,203.3 171.6,195.2 171.6,171.7 171.7,182.5 171.8,182.8 171.9,192.5 171.9,236.2 172.0,190.7 172.1,247.9 172.2,173.6 172.3,205.1 172.3,204.8 172.4,190.5 172.5,176.4 172.6,225.4 172.6,234.5 172.7,214.9 172.8,242.9 172.9,212.0 173.0,138.6 173.0,214.6 173.1,165.5 173.2,223.6 173.3,175.7 173.3,193.4 173.4,186.0 173.5,167.9 173.6,133.8 173.7,178.7 173.7,180.7 173.8,212.2 173.9,167.5 174.0,191.3 174.1,160.4 174.1,185.5 174.2,134.3 174.3,241.2 174.4,192.8 174.4,158.9 174.5,194.3 174.6,207.0 174.7,191.9 174.8,223.9 174.8,180.8 174.9,114.2 175.0,151.4 175.1,216.1 175.1,209.3 175.2,195.9 175.3,155.4 175.4,207.8 175.5,204.1 175.5,158.8 175.6,159.4 175.7,195.0 175.8,216.3 175.8,228.8 175.9,204.3 176.0,248.3 176.1,162.7 176.2,202.3 176.2,170.4 176.3,130.6 176.4,150.6 176.5,217.3 176.5,159.3 176.6,151.0 176.7,205.7 176.8,211.6 176.9,187.4 176.9,230.2 177.0,142.0 177.1,253.3 177.2,216.0 177.2,192.0 177.3,190.8 177.4,179.5 177.5,176.5 177.6,190.4 177.6,151.6 177.7,245.7 177.8,184.3 177.9,204.8 177.9,180.4 178.0,177.9 178.1,210.4 178.2,202.7 178.3,161.5 178.3,174.2 178.4,203.8 178.5,125.7 178.6,117.9 178.6,226.2 178.7,175.6 178.8,112.2 178.9,161.7 179.0,177.9 179.0,190.2 179.1,199.8 179.2,190.4 179.3,200.1 179.3,162.9 179.4,195.7 179.5,196.9 179.6,218.8 179.7,185.7 179.7,209.9 179.8,189.4 179.9,154.3 180.0,173.7 180.1,169.8 180.1,174.0 180.2,182.6 180.3,187.9 180.4,193.1 180.4,162.5 180.5,215.4 180.6,145.7 180.7,183.3 180.8,205.8 180.8,198.3 180.9,203.7 181.0,179.6 181.1,204.9 181.1,151.5 181.2,206.7 181.3,249.5 181.4,205.2 181.5,241.9 181.5,185.4 181.6,153.8 181.7,165.6 181.8,222.7 181.8,206.1 181.9,133.2 182.0,175.1 182.1,184.1 182.2,153.9 182.2,113.8 182.3,147.0 182.4,180.2 182.5,174.1 182.5,166.5 182.6,201.8 182.7,214.7 182.8,182.7 182.9,211.5 182.9,186.0 183.0,181.5 183.1,117.0 183.2,208.7 183.2,187.7 183.3,189.0 183.4,171.7 183.5,154.2 183.6,198.3 183.6,207.8 183.7,231.4 183.8,210.8 183.9,168.8 183.9,182.9 184.0,213.4 184.1,195.0 184.2,183.3 184.3,169.8 184.3,201.3 184.4,191.4 184.5,236.5 184.6,217.3 184.6,137.8 184.7,247.1 184.8,194.0 184.9,178.0 185.0,195.0 185.0,207.5 185.1,186.0 185.2,184.4 185.3,186.6 185.4,238.2 185.4,188.5 185.5,208.8 185.6,200.0 185.7,177.7 185.7,165.8 185.8,158.5 185.9,198.5 186.0,157.7 186.1,150.5 186.1,151.6 186.2,144.3 186.3,188.4 186.4,189.2 186.4,160.6 186.5,223.5 186.6,178.2 186.7,199.5 186.8,194.8 186.8,234.3 186.9,209.8 187.0,184.8 187.1,158.7 187.1,155.8 187.2,186.6 187.3,189.7 187.4,208.1 187.5,172.7 187.5,191.4 187.6,166.8 187.7,133.9 187.8,185.2 187.8,227.2 187.9,209.0 188.0,226.1 188.1,218.6 188.2,146.8 188.2,177.7 188.3,227.9 188.4,165.5 188.5,148.0 188.5,194.6 188.6,203.7 188.7,193.9 188.8,176.1 188.9,165.9 188.9,150.3 189.0,149.4 189.1,150.2 189.2,145.1 189.2,165.2 189.3,228.2 189.4,188.0 189.5,175.2 189.6,195.2 189.6,158.1 189.7,194.6 189.8,210.8 189.9,142.8 189.9,165.1 190.0,177.9 190.1,157.6 190.2,153.7 190.3,174.4 190.3,254.8 190.4,203.6 190.5,197.3 190.6,212.5 190.6,178.5 190.7,150.0 190.8,198.1 190.9,216.8 191.0,126.0 191.0,197.2 191.1,219.6 191.2,177.4 191.3,172.0 191.4,204.5 191.4,161.5 191.5,198.2 191.6,210.7 191.7,179.1 191.7,162.1 191.8,202.4 191.9,174.7 192.0,186.9 192.1,103.1 192.1,204.5 192.2,144.4 192.3,185.7 192.4,187.8 192.4,163.5 192.5,158.5 192.6,147.8 192.7,174.7 192.8,201.4 192.8,199.6 192.9,169.5 193.0,167.5 193.1,144.0 193.1,172.1 193.2,153.7 193.3,140.6 193.4,179.4 193.5,226.8 193.5,218.0 193.6,225.4 193.7,138.4 193.8,208.5 193.8,148.7 193.9,167.3 194.0,134.9 194.1,155.3 194.2,187.0 194.2,189.8 194.3,181.6 194.4,179.1 194.5,199.3 194.5,185.0 194.6,137.9 194.7,232.9 194.8,176.6 194.9,210.1 194.9,178.7 195.0,159.9 195.1,185.7 195.2,161.8 195.2,229.7 195.3,152.2 195.4,201.3 195.5,166.1 195.6,178.7 195.6,258.2 195.7,205.7 195.8,177.6 195.9,139.3 195.9,175.7 196.0,176.5 196.1,224.5 196.2,142.8 196.3,132.0 196.3,183.0 196.4,190.2 196.5,230.3 196.6,158.5 196.7,106.2 196.7,163.2 196.8,147.5 196.9,168.2 197.0,212.0 197.0,145.4 197.1,219.2 197.2,189.8 197.3,175.7 197.4,158.3 197.4,171.7 197.5,172.5 197.6,205.5 197.7,220.6 197.7,181.8 197.8,203.9 197.9,221.1 198.0,219.9 198.1,197.6 198.1,236.7 198.2,222.1 198.3,230.4 198.4,178.2 198.4,171.7 198.5,125.7 198.6,226.3 198.7,202.8 198.8,157.1 198.8,189.5 198.9,192.6 199.0,134.1 199.1,192.9 199.1,216.3 199.2,220.9 199.3,173.4 199.4,174.3 199.5,222.4 199.5,211.3 199.6,167.6 199.7,166.3 199.8,201.3 199.8,164.9 199.9,166.3 200.0,233.9 200.1,191.7 200.2,170.7 200.2,199.1 200.3,244.0 200.4,190.7 200.5,160.9 200.5,137.1 200.6,245.3 200.7,107.3 200.8,214.7 200.9,154.8 200.9,146.8 201.0,153.9 201.1,177.8 201.2,215.4 201.2,164.0 201.3,202.5 201.4,254.3 201.5,100.6 201.6,161.4 201.6,129.5 201.7,207.8 201.8,139.4 201.9,135.9 202.0,136.8 202.0,182.0 202.1,215.9 202.2,186.4 202.3,244.5 202.3,230.0 202.4,178.4 202.5,209.5 202.6,185.7 202.7,184.0 202.7,125.3 202.8,143.5 202.9,181.9 203.0,145.9 203.0,202.9 203.1,190.1 203.2,154.2 203.3,215.9 203.4,188.2 203.4,218.0 203.5,176.6 203.6,133.0 203.7,201.4 203.7,173.3 203.8,205.4 203.9,212.6 204.0,215.0 204.1,137.6 204.1,111.5 204.2,165.3 204.3,199.7 204.4,158.8 204.4,188.5 204.5,155.8 204.6,170.4 204.7,170.6 204.8,161.1 204.8,195.1 204.9,190.0 205.0,227.7 205.1,190.8 205.1,218.9 205.2,182.1 205.3,205.3 205.4,174.8 205.5,164.6 205.5,218.3 205.6,200.7 205.7,204.4 205.8,155.7 205.8,128.1 205.9,152.5 206.0,186.9 206.1,134.7 206.2,220.1 206.2,133.4 206.3,195.2 206.4,256.1 206.5,100.0 206.5,130.7 206.6,205.5 206.7,170.9 206.8,181.8 206.9,172.6 206.9,218.0 207.0,194.9 207.1,161.8 207.2,168.7 207.2,140.5 207.3,172.5 207.4,107.3 207.5,195.1 207.6,167.0 207.6,229.4 207.7,210.2 207.8,136.0 207.9,201.1 208.0,158.6 208.0,175.5 208.1,203.6 208.2,183.5 208.3,188.1 208.3,187.2 208.4,151.5 208.5,154.3 208.6,189.5 208.7,198.8 208.7,164.5 208.8,175.4 208.9,142.9 209.0,96.0 209.0,148.0 209.1,173.0 209.2,176.9 209.3,196.4 209.4,197.7 209.4,200.4 209.5,182.8 209.6,183.6 209.7,149.9 209.7,182.6 209.8,176.7 209.9,205.9 210.0,123.6 210.1,156.1 210.1,119.2 210.2,147.6 210.3,127.6 210.4,177.4 210.4,149.6 210.5,92.4 210.6,205.1 210.7,136.1 210.8,121.0 210.8,157.6 210.9,147.6 211.0,132.7 211.1,188.6 211.1,157.3 211.2,194.7 211.3,189.0 211.4,187.1 211.5,173.1 211.5,164.5 211.6,155.5 211.7,210.3 211.8,110.4 211.8,134.5 211.9,147.1 212.0,178.9 212.1,170.9 212.2,152.1 212.2,156.1 212.3,217.5 212.4,146.2 212.5,84.4 212.5,222.3 212.6,138.6 212.7,156.9 212.8,171.0 212.9,127.3 212.9,202.5 213.0,162.8 213.1,124.4 213.2,173.3 213.3,179.8 213.3,164.1 213.4,180.5 213.5,121.7 213.6,194.1 213.6,141.6 213.7,204.2 213.8,147.5 213.9,170.3 214.0,243.5 214.0,167.4 214.1,198.7 214.2,180.3 214.3,121.8 214.3,200.1 214.4,198.5 214.5,124.6 214.6,163.7 214.7,121.6 214.7,157.6 214.8,193.2 214.9,169.1 215.0,130.9 215.0,139.4 215.1,167.2 215.2,165.8 215.3,170.6 215.4,184.4 215.4,110.3 215.5,167.1 215.6,200.8 215.7,181.5 215.7,146.0 215.8,148.5 215.9,171.6 216.0,187.3 216.1,166.9 216.1,217.1 216.2,206.1 216.3,144.1 216.4,181.9 216.4,156.8 216.5,131.9 216.6,148.8 216.7,167.4 216.8,105.3 216.8,148.4 216.9,178.7 217.0,146.7 217.1,156.3 217.1,193.7 217.2,166.3 217.3,173.4 217.4,226.7 217.5,173.8 217.5,177.2 217.6,181.8 217.7,217.5 217.8,179.5 217.8,170.3 217.9,166.2 218.0,202.9 218.1,150.8 218.2,205.4 218.2,176.2 218.3,131.2 218.4,190.3 218.5,185.0 218.5,138.3 218.6,181.5 218.7,179.0 218.8,163.8 218.9,139.5 218.9,235.6 219.0,195.1 219.1,200.5 219.2,202.9 219.3,196.2 219.3,195.8 219.4,162.3 219.5,197.5 219.6,167.8 219.6,159.7 219.7,193.1 219.8,167.9 219.9,123.7 220.0,162.5 220.0,190.9 220.1,174.2 220.2,199.3 220.3,164.5 220.3,147.3 220.4,196.8 220.5,179.0 220.6,140.3 220.7,187.7 220.7,167.7 220.8,203.4 220.9,197.5 221.0,188.6 221.0,111.2 221.1,185.6 221.2,189.2 221.3,190.2 221.4,178.9 221.4,155.5 221.5,169.0 221.6,115.5 221.7,168.5 221.7,133.2 221.8,167.0 221.9,157.7 222.0,216.6 222.1,178.9 222.1,177.4 222.2,182.5 222.3,237.5 222.4,150.5 222.4,187.0 222.5,188.6 222.6,183.4 222.7,182.8 222.8,164.7 222.8,213.0 222.9,203.3 223.0,168.3 223.1,172.6 223.1,187.7 223.2,193.5 223.3,201.1 223.4,178.9 223.5,143.5 223.5,207.9 223.6,133.8 223.7,153.5 223.8,190.8 223.8,155.4 223.9,220.1 224.0,227.8 224.1,215.3 224.2,190.1 224.2,187.8 224.3,193.3 224.4,175.8 224.5,240.0 224.6,164.6 224.6,219.7 224.7,198.0 224.8,191.0 224.9,212.4 224.9,218.7 225.0,208.3 225.1,179.8 225.2,162.6 225.3,163.4 225.3,208.3 225.4,202.6 225.5,206.4 225.6,167.1 225.6,238.6 225.7,144.6 225.8,194.2 225.9,202.8 226.0,170.7 226.0,150.8 226.1,170.7 226.2,150.4 226.3,176.9 226.3,145.5 226.4,145.1 226.5,183.8 226.6,139.7 226.7,176.3 226.7,178.6 226.8,207.7 226.9,189.6 227.0,159.0 227.0,219.1 227.1,162.8 227.2,171.5 227.3,173.6 227.4,245.0 227.4,184.7 227.5,163.2 227.6,203.7 227.7,179.3 227.7,250.2 227.8,162.7 227.9,201.1 228.0,157.1 228.1,235.1 228.1,162.3 228.2,189.1 228.3,159.1 228.4,209.0 228.4,200.2 228.5,118.1 228.6,206.3 228.7,202.8 228.8,190.5 228.8,212.0 228.9,148.5 229.0,133.2 229.1,203.0 229.1,232.4 229.2,149.2 229.3,151.1 229.4,159.3 229.5,149.8 229.5,207.9 229.6,187.9 229.7,222.8 229.8,223.8 229.9,155.0 229.9,202.5 230.0,117.7 230.1,181.1 230.2,201.7 230.2,160.4 230.3,131.6 230.4,169.4 230.5,218.3 230.6,172.8 230.6,143.9 230.7,197.6 230.8,205.7 230.9,154.3 230.9,179.5 231.0,215.2 231.1,194.5 231.2,205.3 231.3,175.1 231.3,180.5 231.4,150.7 231.5,163.3 231.6,228.6 231.6,172.1 231.7,158.0 231.8,170.7 231.9,154.2 232.0,199.6 232.0,211.2 232.1,157.2 232.2,214.5 232.3,245.9 232.3,154.5 232.4,204.8 232.5,192.8 232.6,224.1 232.7,222.1 232.7,217.2 232.8,194.4 232.9,173.4 233.0,250.1 233.0,162.5 233.1,218.0 233.2,214.7 233.3,164.7 233.4,186.3 233.4,228.3 233.5,131.2 233.6,208.9 233.7,177.1 233.7,178.5 233.8,143.7 233.9,197.3 234.0,155.3 234.1,205.6 234.1,152.1 234.2,206.2 234.3,194.7 234.4,129.9 234.4,175.2 234.5,181.2 234.6,120.0 234.7,174.0 234.8,207.8 234.8,163.3 234.9,218.3 235.0,152.0 235.1,149.8 235.1,200.9 235.2,202.5 235.3,179.4 235.4,184.1 235.5,212.6 235.5,168.2 235.6,243.1 235.7,196.9 235.8,196.1 235.9,192.4 235.9,175.7 236.0,219.8 236.1,167.7 236.2,189.8 236.2,203.3 236.3,223.9 236.4,218.6 236.5,174.3 236.6,212.3 236.6,182.8 236.7,154.2 236.8,155.0 236.9,139.9 236.9,193.2 237.0,215.9 237.1,155.4 237.2,175.8 237.3,152.5 237.3,184.4 237.4,150.4 237.5,160.5 237.6,164.2 237.6,170.3 237.7,173.4 237.8,178.1 237.9,178.4 238.0,156.4 238.0,199.6 238.1,135.0 238.2,188.0 238.3,156.6 238.3,187.5 238.4,192.0 238.5,126.6 238.6,193.9 238.7,221.7 238.7,205.5 238.8,194.1 238.9,123.1 239.0,179.1 239.0,158.2 239.1,213.8 239.2,175.0 239.3,165.8 239.4,133.4 239.4,205.1 239.5,167.8 239.6,176.5 239.7,214.5 239.7,185.8 239.8,192.8 239.9,252.0 240.0,168.1 240.1,169.8 240.1,197.9 240.2,223.8 240.3,142.8 240.4,177.7 240.4,156.2 240.5,144.9 240.6,200.4 240.7,162.1 240.8,192.4 240.8,187.3 240.9,187.9 241.0,185.5 241.1,153.5 241.2,182.0 241.2,190.0 241.3,193.5 241.4,175.8 241.5,211.3 241.5,200.1 241.6,187.2 241.7,201.9 241.8,189.1 241.9,203.3 241.9,128.2 242.0,147.6 242.1,172.9 242.2,187.4 242.2,123.0 242.3,176.6 242.4,188.4 242.5,177.2 242.6,177.2 242.6,145.5 242.7,186.6 242.8,125.8 242.9,211.4 242.9,166.2 243.0,214.9 243.1,134.0 243.2,195.7 243.3,187.9 243.3,159.7 243.4,150.2 243.5,218.2 243.6,196.3 243.6,226.4 243.7,182.4 243.8,189.3 243.9,196.5 244.0,206.1 244.0,197.6 244.1,208.0 244.2,171.4 244.3,143.1 244.3,242.1 244.4,190.0 244.5,198.7 244.6,172.6 244.7,214.1 244.7,191.0 244.8,216.7 244.9,166.9 245.0,184.0 245.0,191.6 245.1,176.3 245.2,194.1 245.3,231.7 245.4,170.0 245.4,178.8 245.5,191.6 245.6,158.9 245.7,152.2 245.7,218.6 245.8,209.7 245.9,142.9 246.0,146.6 246.1,208.6 246.1,221.3 246.2,205.8 246.3,201.8 246.4,233.0 246.4,186.7 246.5,224.4 246.6,222.4 246.7,161.4 246.8,207.4 246.8,189.8 246.9,169.8 247.0,164.5 247.1,197.6 247.2,186.7 247.2,211.7 247.3,137.9 247.4,169.4 247.5,219.8 247.5,188.1 247.6,167.7 247.7,174.5 247.8,135.8 247.9,148.9 247.9,203.9 248.0,191.0 248.1,225.3 248.2,181.4 248.2,184.2 248.3,111.0 248.4,185.8 248.5,248.8 248.6,208.0 248.6,185.6 248.7,224.9 248.8,213.8 248.9,199.4 248.9,179.2 249.0,193.8 249.1,214.6 249.2,166.5 249.3,204.7 249.3,203.5 249.4,228.9 249.5,211.9 249.6,170.6 249.6,235.8 249.7,191.5 249.8,168.9 249.9,200.4 250.0,182.7 250.0,221.7 250.1,152.1 250.2,158.1 250.3,183.0 250.3,240.2 250.4,219.9 250.5,161.9 250.6,140.8 250.7,181.5 250.7,154.2 250.8,207.6 250.9,195.6 251.0,190.2 251.0,178.1 251.1,234.2 251.2,163.3 251.3,152.4 251.4,223.4 251.4,229.4 251.5,180.5 251.6,209.4 251.7,258.7 251.7,167.5 251.8,186.3 251.9,204.5 252.0,130.2 252.1,186.9 252.1,212.6 252.2,188.1 252.3,220.9 252.4,213.0 252.5,180.0 252.5,207.1 252.6,204.2 252.7,143.4 252.8,166.6 252.8,168.3 252.9,176.2 253.0,177.6 253.1,149.7 253.2,192.1 253.2,138.3 253.3,219.0 253.4,199.0 253.5,231.3 253.5,201.7 253.6,177.0 253.7,150.2 253.8,211.0 253.9,191.8 253.9,202.3 254.0,213.3 254.1,226.3 254.2,190.4 254.2,242.0 254.3,189.1 254.4,191.7 254.5,211.2 254.6,221.4 254.6,232.2 254.7,138.7 254.8,231.1 254.9,147.8 254.9,175.4 255.0,203.1 255.1,225.9 255.2,162.8 255.3,143.1 255.3,219.6 255.4,201.4 255.5,162.7 255.6,183.3 255.6,135.5 255.7,209.4 255.8,177.5 255.9,229.0 256.0,132.9 256.0,214.1 256.1,256.6 256.2,196.8 256.3,197.3 256.3,138.3 256.4,203.1 256.5,193.7 256.6,176.4 256.7,147.9 256.7,195.3 256.8,163.7 256.9,178.7 257.0,202.1 257.0,191.4 257.1,192.8 257.2,220.0 257.3,158.8 257.4,233.5 257.4,160.1 257.5,166.4 257.6,196.5 257.7,215.8 257.8,200.4 257.8,180.3 257.9,172.6 258.0,185.7 258.1,165.5 258.1,210.0 258.2,187.3 258.3,239.1 258.4,172.1 258.5,189.7 258.5,206.0 258.6,160.8 258.7,174.3 258.8,271.8 258.8,193.1 258.9,236.0 259.0,163.6 259.1,122.8 259.2,209.2 259.2,192.1 259.3,201.5 259.4,184.2 259.5,175.8 259.5,157.4 259.6,222.7 259.7,149.2 259.8,221.1 259.9,186.4 259.9,161.1 260.0,173.9 260.1,221.4 260.2,214.6 260.2,207.7 260.3,195.9 260.4,161.5 260.5,231.6 260.6,181.1 260.6,177.0 260.7,178.5 260.8,181.1 260.9,150.9 260.9,180.5 261.0,169.9 261.1,178.3 261.2,143.0 261.3,249.1 261.3,157.7 261.4,202.0 261.5,202.6 261.6,222.3 261.6,248.2 261.7,205.5 261.8,214.2 261.9,180.3 262.0,236.8 262.0,153.4 262.1,186.7 262.2,201.6 262.3,214.8 262.3,217.1 262.4,226.9 262.5,210.1 262.6,194.2 262.7,199.5 262.7,235.0 262.8,202.0 262.9,220.0 263.0,189.8 263.0,140.8 263.1,176.4 263.2,203.3 263.3,241.0 263.4,234.9 263.4,242.7 263.5,173.4 263.6,216.2 263.7,192.4 263.8,212.1 263.8,191.6 263.9,153.9 264.0,213.8 264.1,203.9 264.1,217.3 264.2,169.0 264.3,223.5 264.4,226.6 264.5,233.9 264.5,234.4 264.6,180.4 264.7,120.1 264.8,222.5 264.8,166.5 264.9,186.6 265.0,225.5 265.1,201.7 265.2,200.4 265.2,213.6 265.3,138.3 265.4,248.4 265.5,182.7 265.5,184.1 265.6,210.2 265.7,189.3 265.8,168.3 265.9,189.1 265.9,181.5 266.0,173.5 266.1,251.7 266.2,150.9 266.2,127.9 266.3,165.1 266.4,164.1 266.5,233.6 266.6,196.6 266.6,216.4 266.7,210.0 266.8,165.3 266.9,216.1 266.9,196.7 267.0,247.7 267.1,197.4 267.2,190.3 267.3,213.1 267.3,213.4 267.4,138.6 267.5,227.4 267.6,222.8 267.6,215.8 267.7,158.1 267.8,132.2 267.9,182.9 268.0,213.0 268.0,204.7 268.1,161.8 268.2,218.5 268.3,150.5 268.3,151.5 268.4,190.2 268.5,173.6 268.6,170.6 268.7,147.4 268.7,222.2 268.8,158.0 268.9,202.7 269.0,213.9 269.1,188.9 269.1,197.9 269.2,220.1 269.3,237.5 269.4,218.7 269.4,149.9 269.5,135.2 269.6,172.8 269.7,157.4 269.8,206.2 269.8,193.6 269.9,183.2 270.0,222.3 270.1,219.6 270.1,188.4 270.2,200.3 270.3,221.6 270.4,179.9 270.5,198.5 270.5,161.6 270.6,191.0 270.7,199.4 270.8,187.1 270.8,195.6 270.9,209.8 271.0,202.2 271.1,169.0 271.2,171.9 271.2,153.5 271.3,239.0 271.4,201.7 271.5,202.2 271.5,185.3 271.6,203.2 271.7,204.9 271.8,167.6 271.9,185.0 271.9,223.5 272.0,151.7 272.1,161.3 272.2,206.4 272.2,166.0 272.3,210.9 272.4,157.4 272.5,195.9 272.6,212.7 272.6,200.3 272.7,211.5 272.8,184.0 272.9,184.4 272.9,188.4 273.0,205.3 273.1,271.8 273.2,186.6 273.3,243.7 273.3,182.2 273.4,156.6 273.5,181.2 273.6,200.2 273.6,194.2 273.7,192.8 273.8,204.7 273.9,205.6 274.0,215.3 274.0,154.6 274.1,189.2 274.2,161.2 274.3,195.8 274.3,186.5 274.4,193.4 274.5,175.2 274.6,164.7 274.7,181.5 274.7,207.7 274.8,210.7 274.9,140.6 275.0,196.3 275.1,196.6 275.1,146.1 275.2,156.9 275.3,172.7 275.4,199.5 275.4,120.4 275.5,176.7 275.6,172.2 275.7,192.8 275.8,228.4 275.8,226.1 275.9,176.1 276.0,176.5 276.1,194.6 276.1,221.3 276.2,229.0 276.3,197.0 276.4,229.3 276.5,161.7 276.5,154.3 276.6,106.2 276.7,162.1 276.8,204.4 276.8,212.3 276.9,271.8 277.0,204.3 277.1,192.3 277.2,159.4 277.2,169.6 277.3,170.2 277.4,180.9 277.5,168.0 277.5,145.4 277.6,217.5 277.7,200.1 277.8,226.8 277.9,140.4 277.9,149.6 278.0,165.2 278.1,221.2 278.2,181.8 278.2,193.4 278.3,184.3 278.4,192.0 278.5,171.7 278.6,197.9 278.6,162.0 278.7,179.6 278.8,194.9 278.9,189.7 278.9,199.1 279.0,163.0 279.1,194.2 279.2,177.9 279.3,197.6 279.3,229.0 279.4,160.3 279.5,216.6 279.6,166.7 279.6,174.1 279.7,233.7 279.8,213.3 279.9,200.9 280.0,209.7 280.0,220.0 280.1,164.8 280.2,192.9 280.3,175.0 280.4,198.4 280.4,177.2 280.5,207.5 280.6,186.7 280.7,169.2 280.7,184.6 280.8,199.0 280.9,217.1 281.0,181.0 281.1,175.9 281.1,193.2 281.2,207.9 281.3,170.2 281.4,114.5 281.4,194.4 281.5,176.1 281.6,174.9 281.7,259.4 281.8,182.1 281.8,206.0 281.9,145.9 282.0,192.9 282.1,208.0 282.1,191.9 282.2,180.8 282.3,201.7 282.4,187.1 282.5,224.5 282.5,192.0 282.6,163.3 282.7,129.0 282.8,165.3 282.8,177.7 282.9,151.5 283.0,156.2 283.1,137.7 283.2,154.4 283.2,188.9 283.3,178.1 283.4,180.3 283.5,176.8 283.5,179.7 283.6,207.9 283.7,245.9 283.8,204.7 283.9,243.6 283.9,183.5 284.0,185.3 284.1,233.5 284.2,165.7 284.2,160.5 284.3,182.7 284.4,137.5 284.5,131.7 284.6,220.1 284.6,155.6 284.7,172.8 284.8,173.4 284.9,158.6 284.9,206.1 285.0,202.4 285.1,209.2 285.2,207.1 285.3,188.3 285.3,227.1 285.4,215.5 285.5,168.8 285.6,187.5 285.7,174.4 285.7,239.7 285.8,208.0 285.9,201.4 286.0,184.5 286.0,202.3 286.1,158.7 286.2,187.2 286.3,185.0 286.4,185.1 286.4,165.2 286.5,199.1 286.6,153.3 286.7,172.3 286.7,181.1 286.8,184.3 286.9,170.6 287.0,156.4 287.1,158.4 287.1,174.8 287.2,160.4 287.3,182.2 287.4,149.7 287.4,186.4 287.5,245.2 287.6,147.2 287.7,182.6 287.8,219.3 287.8,191.4 287.9,211.1 288.0,125.4 288.1,171.5 288.1,230.8 288.2,170.1 288.3,197.2 288.4,130.8 288.5,216.1 288.5,250.4 288.6,184.0 288.7,195.9 288.8,197.9 288.8,247.4 288.9,173.7 289.0,137.9 289.1,240.8 289.2,152.4 289.2,202.4 289.3,118.6 289.4,173.5 289.5,191.5 289.5,154.4 289.6,171.0 289.7,203.2 289.8,165.8 289.9,200.9 289.9,237.6 290.0,127.9 290.1,196.3 290.2,203.8 290.2,176.6 290.3,231.1 290.4,225.3 290.5,200.8 290.6,201.4 290.6,184.4 290.7,154.3 290.8,200.1 290.9,172.4 290.9,169.3 291.0,217.7 291.1,180.1 291.2,213.7 291.3,156.1 291.3,173.7 291.4,186.3 291.5,225.3 291.6,183.5 291.7,208.9 291.7,166.6 291.8,190.3 291.9,210.3 292.0,160.4 292.0,166.3 292.1,204.1 292.2,153.7 292.3,195.7 292.4,196.0 292.4,183.6 292.5,208.8 292.6,199.9 292.7,191.9 292.7,143.4 292.8,144.3 292.9,194.8 293.0,141.2 293.1,188.7 293.1,176.6 293.2,162.1 293.3,179.2 293.4,118.2 293.4,180.6 293.5,222.1 293.6,150.2 293.7,199.6 293.8,196.5 293.8,271.8 293.9,159.1 294.0,164.4 294.1,165.0 294.1,159.9 294.2,139.4 294.3,189.4 294.4,161.1 294.5,209.5 294.5,198.3 294.6,157.8 294.7,177.0 294.8,226.6 294.8,177.9 294.9,193.6 295.0,211.9 295.1,175.9 295.2,200.1 295.2,233.6 295.3,220.4 295.4,137.8 295.5,232.1 295.5,182.2 295.6,171.2 295.7,170.4 295.8,223.9 295.9,198.0 295.9,184.8 296.0,165.9 296.1,207.4 296.2,222.4 296.2,160.2 296.3,157.3 296.4,178.4 296.5,206.6 296.6,177.5 296.6,186.0 296.7,165.2 296.8,225.1 296.9,185.9 297.0,193.9 297.0,221.2 297.1,183.2 297.2,188.4 297.3,201.2 297.3,178.1 297.4,230.3 297.5,191.1 297.6,177.2 297.7,181.5 297.7,158.8 297.8,224.2 297.9,233.0 298.0,182.9 298.0,176.7 298.1,129.0 298.2,172.2 298.3,215.0 298.4,166.8 298.4,214.3 298.5,232.7 298.6,115.1 298.7,180.7 298.7,169.6 298.8,173.9 298.9,138.1 299.0,182.0 299.1,155.3 299.1,219.8 299.2,230.3 299.3,149.3 299.4,148.0 299.4,175.7 299.5,183.9 299.6,185.6 299.7,210.2 299.8,146.3 299.8,171.6 299.9,176.0 300.0,179.7 300.1,160.5 300.1,176.1 300.2,169.2 300.3,224.2 300.4,176.0 300.5,127.9 300.5,205.6 300.6,194.4 300.7,165.1 300.8,163.3 300.8,172.8 300.9,237.2 301.0,176.4 301.1,224.8 301.2,214.5 301.2,175.1 301.3,199.4 301.4,167.6 301.5,100.5 301.5,168.6 301.6,170.2 301.7,216.7 301.8,209.4 301.9,221.5 301.9,206.3 302.0,222.3 302.1,209.9 302.2,197.0 302.2,219.8 302.3,231.8 302.4,230.1 302.5,178.0 302.6,189.3 302.6,161.6 302.7,161.1 302.8,200.8 302.9,171.8 303.0,232.4 303.0,125.5 303.1,156.7 303.2,197.3 303.3,224.5 303.3,180.2 303.4,244.8 303.5,213.5 303.6,169.6 303.7,188.9 303.7,205.2 303.8,163.8 303.9,220.9 304.0,182.9 304.0,205.4 304.1,215.4 304.2,177.7 304.3,219.5 304.4,136.4 304.4,207.8 304.5,133.9 304.6,222.4 304.7,173.6 304.7,225.4 304.8,229.5 304.9,186.4 305.0,171.5 305.1,227.5 305.1,156.9 305.2,213.8 305.3,187.1 305.4,180.0 305.4,173.8 305.5,242.5 305.6,144.3 305.7,174.7 305.8,203.0 305.8,220.2 305.9,239.4 306.0,229.8 306.1,175.1 306.1,200.5 306.2,223.2 306.3,205.8 306.4,145.7 306.5,200.1 306.5,207.3 306.6,151.8 306.7,177.3 306.8,189.2 306.8,207.9 306.9,235.0 307.0,224.0 307.1,204.2 307.2,196.7 307.2,180.1 307.3,174.5 307.4,183.9 307.5,183.9 307.5,219.1 307.6,252.1 307.7,205.1 307.8,217.5 307.9,208.8 307.9,197.9 308.0,225.7 308.1,221.9 308.2,192.8 308.3,186.6 308.3,208.7 308.4,175.5 308.5,196.1 308.6,219.1 308.6,188.6 308.7,135.6 308.8,209.0 308.9,156.1 309.0,150.0 309.0,146.5 309.1,213.1 309.2,131.6 309.3,186.1 309.3,196.7 309.4,196.0 309.5,172.0 309.6,187.8 309.7,194.3 309.7,152.3 309.8,209.9 309.9,219.1 310.0,166.3 310.0,168.8 310.1,157.6 310.2,219.7 310.3,157.8 310.4,175.0 310.4,138.2 310.5,224.6 310.6,182.5 310.7,196.6 310.7,234.3 310.8,209.1 310.9,156.2 311.0,202.0 311.1,209.2 311.1,163.5 311.2,160.0 311.3,160.0 311.4,210.9 311.4,189.9 311.5,158.6 311.6,207.0 311.7,209.6 311.8,164.2 311.8,143.1 311.9,221.0 312.0,262.5 312.1,229.5 312.1,216.9 312.2,191.7 312.3,170.0 312.4,191.8 312.5,207.7 312.5,183.1 312.6,215.1 312.7,188.8 312.8,205.8 312.8,110.4 312.9,163.8 313.0,211.2 313.1,215.8 313.2,199.7 313.2,234.3 313.3,208.0 313.4,208.2 313.5,161.5 313.6,199.1 313.6,209.5 313.7,225.3 313.8,220.5 313.9,188.6 313.9,192.8 314.0,154.0 314.1,204.6 314.2,156.0 314.3,179.0 314.3,186.5 314.4,244.0 314.5,223.3 314.6,164.9 314.6,146.0 314.7,180.1 314.8,164.1 314.9,197.7 315.0,196.6 315.0,204.9 315.1,157.8 315.2,175.9 315.3,192.4 315.3,195.1 315.4,169.6 315.5,176.2 315.6,209.3 315.7,136.1 315.7,178.0 315.8,185.0 315.9,142.8 316.0,155.8 316.0,187.6 316.1,169.7 316.2,215.7 316.3,203.3 316.4,249.8 316.4,149.8 316.5,239.3 316.6,165.1 316.7,208.5 316.7,212.7 316.8,190.1 316.9,176.8 317.0,166.8 317.1,133.4 317.1,173.9 317.2,158.9 317.3,201.3 317.4,163.5 317.4,179.6 317.5,197.2 317.6,186.6 317.7,185.6 317.8,178.2 317.8,172.1 317.9,198.2 318.0,204.8 318.1,162.0 318.1,232.1 318.2,201.1 318.3,138.6 318.4,260.9 318.5,203.0 318.5,163.3 318.6,230.3 318.7,108.3 318.8,257.1 318.8,141.5 318.9,137.9 319.0,156.3 319.1,188.9 319.2,172.2 319.2,208.1 319.3,159.0 319.4,214.4 319.5,190.0 319.6,153.4 319.6,214.0 319.7,192.3 319.8,177.1 319.9,220.2 319.9,148.2 320.0,171.8 320.1,225.0 320.2,182.7 320.3,203.6 320.3,200.1 320.4,178.9 320.5,201.4 320.6,153.2 320.6,201.1 320.7,152.6 320.8,181.9 320.9,156.0 321.0,196.0 321.0,194.9 321.1,213.4 321.2,163.6 321.3,153.2 321.3,119.2 321.4,142.9 321.5,172.7 321.6,185.8 321.7,168.5 321.7,180.3 321.8,137.4 321.9,152.2 322.0,203.3 322.0,198.9 322.1,139.8 322.2,170.1 322.3,185.5 322.4,144.7 322.4,189.8 322.5,186.6 322.6,191.7 322.7,234.6 322.7,153.4 322.8,212.8 322.9,194.3 323.0,199.2 323.1,156.9 323.1,179.6 323.2,177.1 323.3,225.7 323.4,179.8 323.4,219.6 323.5,168.3 323.6,166.4 323.7,177.3 323.8,118.1 323.8,161.5 323.9,159.4 324.0,172.3 324.1,181.8 324.1,148.4 324.2,144.4 324.3,213.3 324.4,145.5 324.5,160.9 324.5,147.9 324.6,162.0 324.7,211.0 324.8,208.8 324.9,122.6 324.9,167.6 325.0,215.5 325.1,164.6 325.2,184.9 325.2,227.3 325.3,240.0 325.4,220.1 325.5,166.2 325.6,175.2 325.6,180.9 325.7,165.4 325.8,156.2 325.9,233.7 325.9,181.8 326.0,196.8 326.1,208.3 326.2,188.5 326.3,176.2 326.3,180.1 326.4,214.1 326.5,186.1 326.6,114.2 326.6,202.2 326.7,220.3 326.8,163.8 326.9,154.4 327.0,158.1 327.0,203.4 327.1,142.5 327.2,193.5 327.3,203.4 327.3,188.2 327.4,173.7 327.5,149.9 327.6,152.4 327.7,170.8 327.7,143.2 327.8,167.5 327.9,144.0 328.0,209.9 328.0,214.7 328.1,147.0 328.2,209.1 328.3,177.7 328.4,171.7 328.4,182.8 328.5,181.6 328.6,128.5 328.7,241.0 328.7,142.8 328.8,102.2 328.9,167.3 329.0,168.3 329.1,146.8 329.1,115.0 329.2,201.5 329.3,164.7 329.4,172.5 329.4,150.9 329.5,162.3 329.6,147.8 329.7,178.7 329.8,165.1 329.8,185.6 329.9,185.3 330.0,170.1 330.1,170.0 330.1,199.5 330.2,120.6 330.3,169.4 330.4,205.2 330.5,133.7 330.5,186.7 330.6,150.5 330.7,165.4 330.8,157.6 330.9,159.8 330.9,181.1 331.0,163.3 331.1,106.0 331.2,228.5 331.2,162.2 331.3,151.5 331.4,194.1 331.5,203.2 331.6,101.7 331.6,174.3 331.7,103.8 331.8,148.0 331.9,161.1 331.9,149.5 332.0,144.8 332.1,129.1 332.2,150.4 332.3,158.6 332.3,157.6 332.4,123.8 332.5,139.1 332.6,191.2 332.6,180.6 332.7,152.8 332.8,180.1 332.9,172.9 333.0,189.5 333.0,169.4 333.1,149.7 333.2,133.2 333.3,161.4 333.3,102.0 333.4,163.7 333.5,84.4 333.6,132.7 333.7,147.1 333.7,175.6 333.8,242.3 333.9,165.6 334.0,156.0 334.0,105.8 334.1,200.6 334.2,106.2 334.3,168.1 334.4,140.1 334.4,233.7 334.5,156.8 334.6,170.6 334.7,141.1 334.7,158.0 334.8,193.4 334.9,133.4 335.0,140.6 335.1,143.4 335.1,131.5 335.2,128.8 335.3,161.1 335.4,199.4 335.4,200.2 335.5,121.6 335.6,140.0 335.7,157.4 335.8,172.8 335.8,159.4 335.9,159.6 336.0,170.0 336.1,180.4 336.2,98.2 336.2,153.8 336.3,177.7 336.4,197.7 336.5,181.2 336.5,139.7 336.6,138.6 336.7,166.7 336.8,158.9 336.9,169.2 336.9,192.3 337.0,123.1 337.1,149.8 337.2,89.4 337.2,182.3 337.3,164.5 337.4,135.3 337.5,167.7 337.6,200.5 337.6,188.0 337.7,157.9 337.8,151.0 337.9,163.6 337.9,132.1 338.0,132.4 338.1,151.7 338.2,160.3 338.3,168.4 338.3,145.4 338.4,134.8 338.5,159.6 338.6,148.4 338.6,170.7 338.7,202.0 338.8,190.3 338.9,139.6 339.0,148.9 339.0,116.1 339.1,160.2 339.2,137.1 339.3,124.0 339.3,133.5 339.4,179.7 339.5,167.6 339.6,158.6 339.7,190.7 339.7,148.9 339.8,133.2 339.9,176.5 340.0,106.2 340.0,171.2 340.1,168.8 340.2,169.9 340.3,183.5 340.4,151.3 340.4,162.8 340.5,115.8 340.6,146.2 340.7,148.3 340.7,170.2 340.8,204.5 340.9,166.6 341.0,188.6 341.1,136.9 341.1,165.3 341.2,116.7 341.3,143.5 341.4,140.7 341.5,158.2 341.5,159.0 341.6,146.3 341.7,138.7 341.8,185.7 341.8,151.3 341.9,90.3 342.0,168.3 342.1,173.2 342.2,185.8 342.2,207.7 342.3,132.1 342.4,164.6 342.5,157.9 342.5,113.6 342.6,94.7 342.7,192.4 342.8,136.7 342.9,149.2 342.9,155.8 343.0,153.6 343.1,168.1 343.2,121.9 343.2,150.1 343.3,157.9 343.4,132.2 343.5,142.4 343.6,155.0 343.6,159.0 343.7,118.1 343.8,154.0 343.9,171.4 343.9,193.5 344.0,178.9 344.1,199.3 344.2,166.2 344.3,162.1 344.3,228.5 344.4,169.2 344.5,151.2 344.6,165.2 344.6,197.6 344.7,133.9 344.8,190.4 344.9,205.8 345.0,201.7 345.0,171.3 345.1,142.7 345.2,137.6 345.3,165.2 345.3,205.7 345.4,190.4 345.5,197.4 345.6,176.9 345.7,222.9 345.7,168.9 345.8,153.7 345.9,176.6 346.0,159.3 346.0,199.6 346.1,214.5 346.2,191.2 346.3,139.8 346.4,143.6 346.4,186.4 346.5,138.8 346.6,182.9 346.7,130.3 346.7,159.9 346.8,186.9 346.9,151.2 347.0,196.4 347.1,201.2 347.1,216.1 347.2,167.1 347.3,176.2 347.4,177.0 347.5,186.7 347.5,133.8 347.6,187.3 347.7,196.1 347.8,139.6 347.8,134.7 347.9,165.9 348.0,225.7 348.1,193.1 348.2,158.4 348.2,175.6 348.3,131.6 348.4,215.6 348.5,157.0 348.5,194.6 348.6,138.7 348.7,178.9 348.8,147.3 348.9,195.6 348.9,217.6 349.0,209.1 349.1,194.7 349.2,206.8 349.2,143.0 349.3,139.2 349.4,169.9 349.5,207.5 349.6,181.3 349.6,197.7 349.7,136.3 349.8,169.1 349.9,164.2 349.9,189.9 350.0,236.2 350.1,200.7 350.2,210.7 350.3,168.1 350.3,176.1 350.4,201.9 350.5,190.2 350.6,134.1 350.6,206.7 350.7,205.6 350.8,185.9 350.9,199.5 351.0,191.8 351.0,164.3 351.1,129.9 351.2,230.9 351.3,180.4 351.3,178.7 351.4,182.4 351.5,185.4 351.6,189.9 351.7,151.4 351.7,193.6 351.8,184.0 351.9,180.4 352.0,177.4 352.0,185.5 352.1,151.9 352.2,181.0 352.3,175.8 352.4,182.3 352.4,209.7 352.5,204.8 352.6,211.2 352.7,175.6 352.8,201.6 352.8,211.7 352.9,174.4 353.0,166.3 353.1,232.0 353.1,132.9 353.2,180.6 353.3,184.6 353.4,151.0 353.5,179.7 353.5,199.1 353.6,118.8 353.7,212.7 353.8,184.7 353.8,157.6 353.9,212.7 354.0,185.0 354.1,171.0 354.2,113.2 354.2,207.8 354.3,183.6 354.4,163.4 354.5,180.0 354.5,216.9 354.6,170.7 354.7,179.4 354.8,169.7 354.9,150.1 354.9,153.5 355.0,170.9 355.1,173.8 355.2,214.3 355.2,186.6 355.3,176.5 355.4,194.4 355.5,180.1 355.6,206.6 355.6,138.9 355.7,121.2 355.8,194.2 355.9,171.6 355.9,189.8 356.0,146.9 356.1,170.7 356.2,181.0 356.3,189.7 356.3,179.7 356.4,212.1 356.5,164.0 356.6,203.9 356.6,168.1 356.7,179.7 356.8,152.0 356.9,184.0 357.0,154.2 357.0,210.1 357.1,166.1 357.2,190.1 357.3,178.1 357.3,181.7 357.4,156.9 357.5,241.8 357.6,174.5 357.7,226.8 357.7,149.2 357.8,240.6 357.9,212.8 358.0,232.0 358.0,136.9 358.1,221.0 358.2,180.8 358.3,199.5 358.4,235.8 358.4,193.8 358.5,165.1 358.6,189.5 358.7,157.2 358.8,194.7 358.8,184.1 358.9,195.4 359.0,174.5 359.1,129.8 359.1,174.0 359.2,178.9 359.3,202.2 359.4,206.2 359.5,142.5 359.5,216.5 359.6,210.8 359.7,187.4 359.8,196.9 359.8,128.5 359.9,252.7 360.0,174.4 360.1,164.3 360.2,217.0 360.2,203.3 360.3,172.4 360.4,138.1 360.5,211.4 360.5,230.3 360.6,157.1 360.7,141.3 360.8,194.7 360.9,248.7 360.9,143.4 361.0,190.8 361.1,152.9 361.2,186.5 361.2,196.0 361.3,198.3 361.4,143.0 361.5,144.2 361.6,246.8 361.6,212.3 361.7,134.4 361.8,196.0 361.9,224.6 361.9,185.4 362.0,188.7 362.1,188.4 362.2,199.4 362.3,194.6 362.3,198.8 362.4,176.2 362.5,209.2 362.6,194.2 362.6,190.0 362.7,148.4 362.8,175.2 362.9,189.2 363.0,170.6 363.0,174.4 363.1,154.9 363.2,171.6 363.3,134.7 363.3,147.6 363.4,187.5 363.5,198.2 363.6,161.0 363.7,171.6 363.7,189.2 363.8,228.9 363.9,239.2 364.0,176.6 364.1,164.5 364.1,163.6 364.2,223.7 364.3,157.0 364.4,202.1 364.4,175.7 364.5,174.9 364.6,210.0 364.7,204.0 364.8,246.6 364.8,213.4 364.9,238.9 365.0,174.6 365.1,185.5 365.1,161.0 365.2,177.1 365.3,205.6 365.4,177.5 365.5,198.7 365.5,170.0 365.6,178.5 365.7,216.0 365.8,187.6 365.8,186.1 365.9,196.6 366.0,162.1 366.1,138.7 366.2,198.5 366.2,198.0 366.3,252.6 366.4,191.8 366.5,200.6 366.5,250.2 366.6,179.9 366.7,171.3 366.8,209.4 366.9,199.0 366.9,216.2 367.0,166.5 367.1,232.1 367.2,197.5 367.2,132.6 367.3,187.2 367.4,175.3 367.5,193.0 367.6,222.5 367.6,189.8 367.7,177.2 367.8,218.3 367.9,179.2 367.9,153.3 368.0,158.4 368.1,234.6 368.2,217.2 368.3,235.6 368.3,158.5 368.4,171.8 368.5,169.2 368.6,214.6 368.6,223.0 368.7,187.3 368.8,186.6 368.9,214.1 369.0,185.5 369.0,171.2 369.1,183.2 369.2,219.6 369.3,250.5 369.4,197.3 369.4,185.2 369.5,197.4 369.6,202.3 369.7,209.9 369.7,169.5 369.8,191.6 369.9,186.6 370.0,218.1 370.1,208.0 370.1,185.5 370.2,219.1 370.3,226.5 370.4,199.8 370.4,155.9 370.5,184.9 370.6,148.5 370.7,194.2 370.8,199.4 370.8,230.5 370.9,207.1 371.0,149.4 371.1,181.2 371.1,169.6 371.2,170.4 371.3,191.0 371.4,196.6 371.5,187.3 371.5,171.5 371.6,177.6 371.7,176.7 371.8,186.4 371.8,212.9 371.9,198.4 372.0,217.9 372.1,162.0 372.2,251.3 372.2,197.2 372.3,122.4 372.4,200.7 372.5,223.5 372.5,191.5 372.6,153.9 372.7,195.6 372.8,173.4 372.9,188.1 372.9,201.7 373.0,100.5 373.1,189.0 373.2,206.4 373.2,205.1 373.3,180.1 373.4,179.3 373.5,168.8 373.6,187.0 373.6,232.1 373.7,175.7 373.8,199.9 373.9,199.2 373.9,233.6 374.0,207.4 374.1,211.8 374.2,192.0 374.3,232.7 374.3,189.5 374.4,187.4 374.5,223.1 374.6,208.8 374.6,215.5 374.7,164.8 374.8,263.4 374.9,200.7 375.0,238.5 375.0,203.2 375.1,166.4 375.2,208.8 375.3,186.7 375.4,214.9 375.4,135.0 375.5,164.4 375.6,158.2 375.7,228.7 375.7,222.2 375.8,159.5 375.9,196.1 376.0,197.9 376.1,180.8 376.1,226.4 376.2,168.2 376.3,189.8 376.4,176.5 376.4,209.5 376.5,175.5 376.6,210.4 376.7,162.7 376.8,157.7 376.8,163.9 376.9,175.2 377.0,171.8 377.1,267.6 377.1,165.9 377.2,197.7 377.3,187.1 377.4,197.9 377.5,229.7 377.5,205.1 377.6,170.7 377.7,148.9 377.8,207.4 377.8,215.4 377.9,147.7 378.0,214.7 378.1,129.8 378.2,187.8 378.2,214.6 378.3,160.9 378.4,140.5 378.5,230.3 378.5,144.2 378.6,197.0 378.7,146.2 378.8,199.8 378.9,234.1 378.9,174.3 379.0,162.1 379.1,128.4 379.2,139.1 379.2,168.5 379.3,195.3 379.4,203.4 379.5,196.8 379.6,212.1 379.6,196.1 379.7,261.2 379.8,183.0 379.9,188.9 379.9,114.3 380.0,166.1 380.1,201.7 380.2,171.6 380.3,222.9 380.3,205.0 380.4,241.3 380.5,146.3 380.6,170.5 380.7,221.2 380.7,189.1 380.8,160.0 380.9,173.0 381.0,176.2 381.0,211.8 381.1,205.4 381.2,184.3 381.3,160.5 381.4,210.7 381.4,219.0 381.5,153.9 381.6,213.4 381.7,155.7 381.7,179.6 381.8,161.2 381.9,136.4 382.0,166.6 382.1,164.0 382.1,212.6 382.2,206.2 382.3,167.7 382.4,142.0 382.4,146.0 382.5,119.4 382.6,177.0 382.7,180.0 382.8,156.9 382.8,185.2 382.9,187.4 383.0,215.7 383.1,157.1 383.1,216.3 383.2,170.7 383.3,226.1 383.4,153.8 383.5,214.8 383.5,160.9 383.6,230.7 383.7,197.7 383.8,151.1 383.8,208.0 383.9,182.9 384.0,198.5 384.1,251.1 384.2,175.8 384.2,172.2 384.3,216.4 384.4,168.0 384.5,207.3 384.5,213.2 384.6,184.1 384.7,203.8 384.8,118.4 384.9,228.8 384.9,162.9 385.0,155.6 385.1,240.8 385.2,233.6 385.2,167.7 385.3,197.6 385.4,172.7 385.5,150.9 385.6,194.3 385.6,214.1 385.7,261.9 385.8,177.5 385.9,210.0 385.9,174.3 386.0,176.6 386.1,222.9 386.2,133.6 386.3,151.9 386.3,158.6 386.4,217.0 386.5,194.6 386.6,198.5 386.7,194.7 386.7,215.0 386.8,170.2 386.9,176.0 387.0,172.0 387.0,197.0 387.1,145.3 387.2,176.9 387.3,260.9 387.4,200.6 387.4,183.8 387.5,154.4 387.6,190.7 387.7,189.2 387.7,200.9 387.8,162.7 387.9,194.6 388.0,199.1 388.1,203.0 388.1,165.6 388.2,196.8 388.3,229.6 388.4,163.5 388.4,201.5 388.5,171.0 388.6,170.5 388.7,146.6 388.8,151.1 388.8,197.6 388.9,185.8 389.0,218.0 389.1,132.7 389.1,168.1 389.2,140.7 389.3,189.8 389.4,239.4 389.5,136.5 389.5,177.8 389.6,176.6 389.7,178.7 389.8,161.8 389.8,164.9 389.9,225.8 390.0,148.9 390.1,195.2 390.2,193.3 390.2,130.3 390.3,153.4 390.4,189.4 390.5,233.0 390.5,175.0 390.6,164.1 390.7,181.8 390.8,215.2 390.9,202.0 390.9,215.3 391.0,173.0 391.1,155.6 391.2,149.6 391.2,200.0 391.3,172.2 391.4,162.9 391.5,193.4 391.6,182.9 391.6,117.6 391.7,172.7 391.8,153.1 391.9,190.9 392.0,177.1 392.0,227.5 392.1,178.9 392.2,143.9 392.3,117.8 392.3,143.6 392.4,158.2 392.5,176.3 392.6,195.0 392.7,182.3 392.7,160.0 392.8,200.0 392.9,150.6 393.0,205.6 393.0,228.4 393.1,206.3 393.2,224.9 393.3,216.5 393.4,144.5 393.4,182.6 393.5,170.5 393.6,143.5 393.7,140.5 393.7,191.1 393.8,138.3 393.9,165.4 394.0,176.2 394.1,163.6 394.1,217.1 394.2,198.7 394.3,179.1 394.4,158.4 394.4,186.5 394.5,179.4 394.6,147.9 394.7,135.1 394.8,153.5 394.8,139.0 394.9,187.0 395.0,184.1 395.1,166.1 395.1,183.8 395.2,189.6 395.3,127.5 395.4,180.7 395.5,202.5 395.5,160.7 395.6,121.9 395.7,172.2 395.8,139.1 395.8,187.0 395.9,188.4 396.0,194.0 396.1,178.3 396.2,121.3 396.2,207.2 396.3,126.9 396.4,202.8 396.5,180.4 396.5,149.6 396.6,155.5 396.7,165.4 396.8,220.8 396.9,162.9 396.9,202.6 397.0,99.4 397.1,179.2 397.2,167.6 397.3,205.8 397.3,186.6 397.4,209.8 397.5,144.5 397.6,180.1 397.6,156.3 397.7,192.1 397.8,186.7 397.9,135.3 398.0,200.1 398.0,223.8 398.1,160.4 398.2,204.7 398.3,184.5 398.3,145.6 398.4,195.2 398.5,146.4 398.6,191.1 398.7,128.7 398.7,133.4 398.8,184.9 398.9,177.4 399.0,195.1 399.0,165.4 399.1,138.0 399.2,212.5 399.3,144.5 399.4,208.8 399.4,195.4 399.5,222.0 399.6,110.1 399.7,168.8 399.7,163.4 399.8,189.8 399.9,139.7 400.0,230.6 400.1,169.4 400.1,106.7 400.2,181.0 400.3,169.5 400.4,150.6 400.4,193.1 400.5,169.1 400.6,142.1 400.7,164.0 400.8,158.9 400.8,179.5 400.9,160.4 401.0,167.8 401.1,127.5 401.1,148.5 401.2,176.2 401.3,239.4 401.4,148.5 401.5,147.3 401.5,195.3 401.6,226.3 401.7,201.6 401.8,142.2 401.8,199.3 401.9,181.9 402.0,162.3 402.1,133.4 402.2,169.1 402.2,171.4 402.3,184.2 402.4,121.6 402.5,137.7 402.5,171.0 402.6,208.4 402.7,190.9 402.8,151.5 402.9,188.8 402.9,142.4 403.0,157.6 403.1,159.6 403.2,149.2 403.3,153.6 403.3,192.4 403.4,177.2 403.5,100.6 403.6,202.4 403.6,181.4 403.7,137.1 403.8,172.2 403.9,191.0 404.0,205.6 404.0,152.2 404.1,138.3 404.2,127.3 404.3,165.9 404.3,137.5 404.4,197.1 404.5,162.6 404.6,186.8 404.7,162.4 404.7,145.8 404.8,136.6 404.9,195.7 405.0,130.9 405.0,180.9 405.1,196.7 405.2,172.1 405.3,209.2 405.4,167.1 405.4,158.9 405.5,173.0 405.6,151.8 405.7,176.2 405.7,167.1 405.8,208.5 405.9,165.9 406.0,191.6 406.1,180.1 406.1,169.8 406.2,161.7 406.3,214.4 406.4,212.1 406.4,175.8 406.5,153.5 406.6,156.8 406.7,141.5 406.8,129.8 406.8,152.9 406.9,167.8 407.0,196.8 407.1,194.4 407.1,180.6 407.2,159.6 407.3,160.9 407.4,167.2 407.5,171.7 407.5,149.2 407.6,161.3 407.7,158.8 407.8,158.5 407.8,183.1 407.9,197.0 408.0,153.3 408.1,155.5 408.2,173.8 408.2,179.4 408.3,102.1 408.4,189.4 408.5,173.8 408.6,160.0 408.6,200.8 408.7,164.3 408.8,116.1 408.9,140.9 408.9,149.6 409.0,150.8 409.1,164.6 409.2,140.4 409.3,172.4 409.3,180.1 409.4,165.1 409.5,142.0 409.6,158.6 409.6,148.8 409.7,226.3 409.8,134.0 409.9,101.1 410.0,130.0 410.0,177.5 410.1,192.8 410.2,160.5 410.3,196.9 410.3,147.7 410.4,183.7 410.5,141.1 410.6,129.6 410.7,227.1 410.7,160.4 410.8,188.9 410.9,209.4 411.0,186.7 411.0,175.3 411.1,139.4 411.2,212.9 411.3,139.1 411.4,111.3 411.4,152.2 411.5,153.7 411.6,169.9 411.7,203.3 411.7,154.3 411.8,158.6 411.9,148.7 412.0,96.0 412.1,149.0 412.1,157.7 412.2,125.2 412.3,208.7 412.4,203.0 412.4,181.0 412.5,189.1 412.6,150.4 412.7,179.5 412.8,120.5 412.8,126.9 412.9,148.5 413.0,181.8 413.1,153.1 413.1,147.6 413.2,201.6 413.3,161.0 413.4,150.8 413.5,164.9 413.5,126.1 413.6,136.4 413.7,195.1 413.8,167.9 413.8,195.5 413.9,155.0 414.0,196.6 414.1,145.3 414.2,160.7 414.2,144.0 414.3,176.2 414.4,213.9 414.5,121.5 414.6,177.2 414.6,132.8 414.7,160.1 414.8,153.1 414.9,120.0 414.9,162.9 415.0,132.5 415.1,215.4 415.2,147.9 415.3,179.9 415.3,176.9 415.4,172.9 415.5,163.3 415.6,125.7 415.6,226.6 415.7,172.2 415.8,194.1 415.9,140.1 416.0,185.9 416.0,160.7 416.1,185.3 416.2,154.8 416.3,144.9 416.3,185.5 416.4,172.8 416.5,215.1 416.6,165.6 416.7,149.9 416.7,190.5 416.8,142.4 416.9,234.2 417.0,227.9 417.0,214.7 417.1,188.9 417.2,174.5 417.3,177.4 417.4,177.1 417.4,154.5 417.5,188.9 417.6,211.7 417.7,211.2 417.7,114.9 417.8,243.2 417.9,180.8 418.0,134.0 418.1,162.0 418.1,199.8 418.2,176.0 418.3,151.3 418.4,141.5 418.4,202.1 418.5,154.5 418.6,169.2 418.7,144.8 418.8,136.7 418.8,186.6 418.9,218.4 419.0,165.5 419.1,125.9 419.1,157.3 419.2,170.5 419.3,108.2 419.4,207.1 419.5,151.4 419.5,193.8 419.6,176.0 419.7,175.0 419.8,134.1 419.9,204.6 419.9,193.1 420.0,223.6 420.1,163.9 420.2,191.1 420.2,165.9 420.3,208.9 420.4,188.5 420.5,148.4 420.6,183.3 420.6,160.4 420.7,163.3 420.8,188.7 420.9,223.4 420.9,150.4 421.0,173.9 421.1,150.6 421.2,236.7 421.3,226.5 421.3,240.6 421.4,204.3 421.5,149.2 421.6,163.0 421.6,180.3 421.7,175.6 421.8,157.6 421.9,188.2 422.0,168.2 422.0,175.6 422.1,242.5 422.2,190.8 422.3,140.8 422.3,191.3 422.4,184.1 422.5,197.4 422.6,194.0 422.7,147.9 422.7,187.9 422.8,209.6 422.9,269.7 423.0,196.8 423.0,236.9 423.1,232.9 423.2,157.7 423.3,160.3 423.4,235.7 423.4,156.3 423.5,167.6 423.6,203.4 423.7,159.8 423.7,227.7 423.8,215.6 423.9,222.4 424.0,213.1 424.1,156.0 424.1,219.5 424.2,214.4 424.3,208.7 424.4,175.8 424.4,191.2 424.5,156.8 424.6,202.0 424.7,218.7 424.8,196.2 424.8,180.7 424.9,208.6 425.0,174.0 425.1,129.9 425.2,198.8 425.2,180.9 425.3,143.5 425.4,201.0 425.5,206.8 425.5,213.9 425.6,171.2 425.7,167.9 425.8,187.0 425.9,181.6 425.9,146.3 426.0,158.1 426.1,223.3 426.2,183.4 426.2,180.2 426.3,162.6 426.4,189.8 426.5,202.0 426.6,196.7 426.6,234.7 426.7,184.4 426.8,200.9 426.9,170.4 426.9,213.3 427.0,196.5 427.1,212.1 427.2,214.7 427.3,164.1 427.3,197.6 427.4,171.5 427.5,216.5 427.6,181.6 427.6,233.0 427.7,198.3 427.8,199.0 427.9,167.9 428.0,179.6 428.0,189.8 428.1,160.8 428.2,179.4 428.3,169.5 428.3,163.0 428.4,187.0 428.5,193.6 428.6,175.8 428.7,197.2 428.7,174.2 428.8,153.6 428.9,160.9 429.0,196.4 429.0,222.3 429.1,187.1 429.2,189.2 429.3,153.9 429.4,196.6 429.4,191.7 429.5,164.7 429.6,199.5 429.7,190.4 429.7,136.8 429.8,143.2 429.9,167.9 430.0,178.3 430.1,213.8 430.1,170.1 430.2,184.5 430.3,179.9 430.4,201.1 430.4,186.6 430.5,191.6 430.6,177.3 430.7,145.5 430.8,176.1 430.8,234.0 430.9,214.3 431.0,232.0 431.1,209.3 431.2,170.6 431.2,175.2 431.3,203.9 431.4,179.1 431.5,208.5 431.5,227.6 431.6,227.2 431.7,211.5 431.8,146.3 431.9,225.4 431.9,151.4 432.0,149.0 432.1,192.4 432.2,188.6 432.2,204.8 432.3,188.0 432.4,168.5 432.5,187.1 432.6,158.8 432.6,153.5 432.7,177.7 432.8,178.2 432.9,189.4 432.9,177.7 433.0,219.6 433.1,176.1 433.2,181.9 433.3,212.5 433.3,126.2 433.4,215.7 433.5,212.8 433.6,180.0 433.6,243.5 433.7,210.7 433.8,231.8 433.9,215.8 434.0,192.0 434.0,179.1 434.1,156.6 434.2,165.2 434.3,154.4 434.3,171.5 434.4,201.9 434.5,156.5 434.6,202.5 434.7,206.2 434.7,144.8 434.8,166.0 434.9,182.4 435.0,167.1 435.0,163.6 435.1,227.9 435.2,191.5 435.3,222.7 435.4,185.4 435.4,208.2 435.5,150.0 435.6,174.2 435.7,212.4 435.7,189.6 435.8,223.9 435.9,188.0 436.0,173.5 436.1,181.7 436.1,244.7 436.2,199.0 436.3,174.8 436.4,180.6 436.5,156.2 436.5,226.4 436.6,174.5 436.7,208.2 436.8,184.0 436.8,178.0 436.9,170.0 437.0,206.3 437.1,184.4 437.2,223.3 437.2,230.3 437.3,173.9 437.4,191.4 437.5,236.4 437.5,214.4 437.6,189.4 437.7,145.4 437.8,160.1 437.9,167.2 437.9,241.4 438.0,192.9 438.1,176.5 438.2,178.9 438.2,178.3 438.3,197.0 438.4,139.9 438.5,148.0 438.6,193.1 438.6,218.5 438.7,131.5 438.8,206.3 438.9,156.1 438.9,135.7 439.0,217.6 439.1,182.2 439.2,200.6 439.3,175.8 439.3,181.4 439.4,134.8 439.5,173.8 439.6,191.0 439.6,158.4 439.7,198.6 439.8,201.3 439.9,126.5 440.0,214.4 440.0,204.9 440.1,189.6 440.2,221.2 440.3,251.5 440.3,160.6 440.4,213.5 440.5,206.5 440.6,201.7 440.7,219.2 440.7,221.9 440.8,186.4 440.9,122.2 441.0,169.9 441.0,169.7 441.1,234.4 441.2,191.8 441.3,225.1 441.4,169.0 441.4,197.7 441.5,190.1 441.6,193.8 441.7,208.0 441.7,234.9 441.8,174.6 441.9,231.0 442.0,225.2 442.1,199.8 442.1,211.6 442.2,183.8 442.3,162.3 442.4,184.2 442.5,185.7 442.5,190.7 442.6,166.7 442.7,244.4 442.8,180.8 442.8,218.2 442.9,226.8 443.0,191.2 443.1,202.5 443.2,174.6 443.2,159.8 443.3,258.2 443.4,193.5 443.5,135.2 443.5,166.5 443.6,149.9 443.7,188.5 443.8,232.6 443.9,223.7 443.9,171.0 444.0,163.9 444.1,212.4 444.2,199.1 444.2,183.9 444.3,241.6 444.4,201.4 444.5,144.9 444.6,128.6 444.6,194.5 444.7,138.8 444.8,206.4 444.9,214.6 444.9,255.6 445.0,163.8 445.1,202.1 445.2,124.1 445.3,181.8 445.3,185.9 445.4,243.1 445.5,148.2 445.6,201.7 445.6,195.8 445.7,254.6 445.8,164.6 445.9,162.8 446.0,208.6 446.0,188.5 446.1,179.8 446.2,163.4 446.3,188.1 446.3,141.6 446.4,198.0 446.5,208.4 446.6,204.4 446.7,263.9 446.7,214.1 446.8,162.0 446.9,183.3 447.0,214.4 447.0,180.8 447.1,248.8 447.2,199.0 447.3,175.7 447.4,170.7 447.4,213.0 447.5,164.5 447.6,137.0 447.7,202.9 447.8,169.4 447.8,235.3 447.9,246.9 448.0,173.0 448.1,189.3 448.1,184.8 448.2,207.2 448.3,198.9 448.4,167.1 448.5,141.0 448.5,196.6 448.6,237.7 448.7,153.7 448.8,172.9 448.8,170.6 448.9,185.0 449.0,123.4 449.1,188.0 449.2,175.3 449.2,243.3 449.3,206.7 449.4,209.7 449.5,190.8 449.5,180.0 449.6,211.5 449.7,140.2 449.8,220.5 449.9,202.8 449.9,183.0 450.0,225.7 450.1,173.4 450.2,171.5 450.2,198.1 450.3,134.8 450.4,187.3 450.5,181.5 450.6,217.2 450.6,237.7 450.7,207.6 450.8,198.7 450.9,202.5 450.9,167.3 451.0,258.0 451.1,221.9 451.2,241.8 451.3,150.7 451.3,205.5 451.4,204.0 451.5,220.9 451.6,163.3 451.6,201.0 451.7,182.7 451.8,247.5 451.9,155.4 452.0,177.6 452.0,173.1 452.1,153.4 452.2,194.4 452.3,193.7 452.3,168.2 452.4,176.5 452.5,195.8 452.6,187.5 452.7,203.2 452.7,168.1 452.8,161.8 452.9,188.4 453.0,134.5 453.1,232.7 453.1,195.2 453.2,139.2 453.3,200.5 453.4,234.4 453.4,148.2 453.5,172.6 453.6,222.6 453.7,165.9 453.8,217.6 453.8,226.8 453.9,192.5 454.0,202.0 454.1,219.7 454.1,198.6 454.2,216.9 454.3,186.3 454.4,188.6 454.5,166.5 454.5,201.0 454.6,226.2 454.7,225.8 454.8,194.9 454.8,143.6 454.9,163.3 455.0,206.2 455.1,160.6 455.2,221.1 455.2,158.5 455.3,198.6 455.4,165.5 455.5,169.6 455.5,195.5 455.6,178.1 455.7,218.2 455.8,189.6 455.9,156.2 455.9,84.4 456.0,167.1 456.1,184.8 456.2,216.5 456.2,156.8 456.3,235.0 456.4,210.4 456.5,176.9 456.6,221.9 456.6,142.8 456.7,155.7 456.8,203.5 456.9,203.1 456.9,225.1 457.0,227.4 457.1,174.3 457.2,169.0 457.3,176.9 457.3,179.3 457.4,203.1 457.5,176.5 457.6,229.3 457.6,186.6 457.7,144.4 457.8,148.7 457.9,200.2 458.0,196.4 458.0,147.1 458.1,135.2 458.2,229.9 458.3,199.0 458.3,179.9 458.4,151.6 458.5,210.8 458.6,168.1 458.7,195.3 458.7,118.1 458.8,174.2 458.9,190.4 459.0,196.2 459.1,156.1 459.1,166.9 459.2,217.7 459.3,180.2 459.4,225.0 459.4,208.2 459.5,223.7 459.6,224.6 459.7,206.2 459.8,214.6 459.8,171.1 459.9,163.4 460.0,193.2 460.1,218.6 460.1,163.1 460.2,244.6 460.3,241.9 460.4,165.3 460.5,167.3 460.5,158.1 460.6,192.4 460.7,222.6 460.8,200.9 460.8,169.8 460.9,208.3 461.0,206.4 461.1,226.3 461.2,219.7 461.2,161.8 461.3,173.0 461.4,219.6 461.5,217.2 461.5,202.3 461.6,170.2 461.7,219.7 461.8,190.9 461.9,247.9 461.9,222.3 462.0,173.9 462.1,160.1 462.2,219.3 462.2,208.3 462.3,162.9 462.4,197.2 462.5,201.5 462.6,171.0 462.6,180.3 462.7,153.8 462.8,163.0 462.9,202.5 462.9,189.3 463.0,187.6 463.1,225.0 463.2,213.9 463.3,157.8 463.3,231.6 463.4,157.1 463.5,177.6 463.6,189.8 463.6,170.3 463.7,172.0 463.8,150.9 463.9,197.3 464.0,192.3 464.0,192.8 464.1,131.5 464.2,158.5 464.3,212.3 464.4,195.3 464.4,206.0 464.5,185.3 464.6,179.5 464.7,119.6 464.7,238.2 464.8,156.0 464.9,173.0 465.0,205.8 465.1,189.9 465.1,199.9 465.2,184.1 465.3,156.6 465.4,229.3 465.4,147.7 465.5,196.3 465.6,142.2 465.7,173.6 465.8,150.0 465.8,169.2 465.9,154.2 466.0,183.8 466.1,209.4 466.1,166.1 466.2,164.9 466.3,125.0 466.4,243.1 466.5,191.1 466.5,154.8 466.6,221.5 466.7,191.9 466.8,124.4 466.8,144.6 466.9,210.6 467.0,144.3" fill="none" stroke="#0072bd" stroke-width="0.5" stroke-linejoin="round"/></g>
<path d="M93.0,47.5H467.0V321.0H93.0ZM186.50,321.0v-4M186.50,47.5v4M280.00,321.0v-4M280.00,47.5v4M373.50,321.0v-4M373.50,47.5v4M93.0,115.88h4M467.0,115.88h-4M93.0,184.25h4M467.0,184.25h-4M93.0,252.62h4M467.0,252.62h-4" fill="none" stroke="#bdbdbd" stroke-width="1"/>
<text transform="translate(56.47,53.70) scale(0.9480,1)" font-size="30.5" fill="#262626">20</text>
<text transform="translate(56.14,122.08) scale(0.9593,1)" font-size="30.5" fill="#262626">10</text>
<text transform="translate(70.15,190.45) scale(1.0029,1)" font-size="30.5" fill="#262626">0</text>
<text transform="translate(47.12,258.82) scale(0.9412,1)" font-size="30.5" fill="#262626">-10</text>
<text transform="translate(46.20,327.20) scale(0.9647,1)" font-size="30.5" fill="#262626">-20</text>
<text transform="translate(84.85,353.60) scale(1.0029,1)" font-size="30.5" fill="#262626">0</text>
<text transform="translate(172.45,353.60) scale(0.9045,1)" font-size="30.5" fill="#262626">40</text>
<text transform="translate(265.18,353.60) scale(0.9393,1)" font-size="30.5" fill="#262626">80</text>
<text transform="translate(350.68,353.60) scale(0.9443,1)" font-size="30.5" fill="#262626">120</text>
<text transform="translate(444.91,353.60) scale(0.9133,1)" font-size="30.5" fill="#262626">160</text>
<text transform="translate(206.02,389.80) scale(1.0708,1)" font-size="31" fill="#262626">Time (ns)</text>
<text transform="translate(46.00,257.35) rotate(-90) scale(1.0794,1)" font-size="32" fill="#262626">Amplitude</text>
<text transform="translate(239.95,424.70) scale(1.0569,1)" font-size="30" fill="#111">(a)</text>
<g clip-path="url(#cb)"><polyline points="641.0,268.8 641.1,283.8 641.1,300.8 641.2,277.6 641.3,253.5 641.4,312.9 641.4,285.5 641.5,288.7 641.6,261.9 641.6,278.0 641.7,304.0 641.8,313.4 641.9,282.8 641.9,277.2 642.0,295.8 642.1,292.8 642.1,302.9 642.2,279.0 642.3,289.6 642.4,278.3 642.4,294.3 642.5,300.4 642.6,298.3 642.7,254.4 642.7,268.1 642.8,272.9 642.9,267.8 642.9,292.7 643.0,290.2 643.1,305.7 643.2,279.1 643.2,269.3 643.3,295.1 643.4,255.4 643.4,301.7 643.5,291.7 643.6,287.6 643.7,270.5 643.7,267.4 643.8,299.6 643.9,274.4 643.9,226.1 644.0,297.2 644.1,276.8 644.2,292.6 644.2,275.1 644.3,293.5 644.4,275.0 644.4,315.8 644.5,299.4 644.6,286.5 644.7,279.2 644.7,288.9 644.8,297.5 644.9,259.7 644.9,294.7 645.0,270.9 645.1,293.0 645.2,282.4 645.2,284.6 645.3,294.0 645.4,288.9 645.4,304.3 645.5,292.7 645.6,291.2 645.7,288.9 645.7,299.7 645.8,298.4 645.9,309.7 646.0,272.1 646.0,298.2 646.1,302.3 646.2,311.6 646.2,297.9 646.3,274.4 646.4,258.6 646.5,310.6 646.5,260.3 646.6,297.9 646.7,302.7 646.7,290.5 646.8,292.1 646.9,275.0 647.0,292.7 647.0,293.0 647.1,289.4 647.2,281.1 647.2,267.2 647.3,288.3 647.4,280.1 647.5,274.0 647.5,279.2 647.6,287.7 647.7,299.5 647.7,296.5 647.8,298.7 647.9,260.5 648.0,307.4 648.0,271.0 648.1,269.6 648.2,282.5 648.2,296.2 648.3,288.2 648.4,282.5 648.5,288.1 648.5,307.4 648.6,299.5 648.7,293.0 648.7,300.3 648.8,284.8 648.9,288.9 649.0,256.1 649.0,294.5 649.1,291.9 649.2,259.7 649.3,274.8 649.3,301.4 649.4,277.6 649.5,300.2 649.5,282.4 649.6,240.8 649.7,292.4 649.8,273.3 649.8,279.5 649.9,261.4 650.0,295.7 650.0,287.5 650.1,278.2 650.2,293.2 650.3,296.2 650.3,284.2 650.4,275.8 650.5,279.7 650.5,299.1 650.6,285.1 650.7,287.0 650.8,265.1 650.8,297.7 650.9,293.5 651.0,258.4 651.0,292.8 651.1,300.1 651.2,294.6 651.3,295.2 651.3,295.4 651.4,261.1 651.5,297.7 651.5,305.4 651.6,266.3 651.7,285.8 651.8,280.8 651.8,285.7 651.9,281.4 652.0,278.5 652.0,284.9 652.1,305.9 652.2,288.0 652.3,300.5 652.3,284.3 652.4,287.8 652.5,263.9 652.6,299.8 652.6,300.7 652.7,301.2 652.8,280.1 652.8,301.8 652.9,301.1 653.0,277.8 653.1,303.0 653.1,306.4 653.2,301.2 653.3,287.6 653.3,304.7 653.4,288.9 653.5,298.4 653.6,274.7 653.6,292.1 653.7,255.2 653.8,290.9 653.8,299.5 653.9,288.4 654.0,292.4 654.1,296.5 654.1,241.1 654.2,267.0 654.3,271.8 654.3,271.4 654.4,300.8 654.5,296.4 654.6,303.2 654.6,270.7 654.7,255.2 654.8,294.5 654.8,290.3 654.9,294.6 655.0,283.9 655.1,287.1 655.1,284.5 655.2,281.3 655.3,287.1 655.3,292.5 655.4,266.5 655.5,282.6 655.6,298.8 655.6,263.7 655.7,290.1 655.8,274.2 655.9,290.0 655.9,256.8 656.0,256.8 656.1,288.5 656.1,291.1 656.2,293.1 656.3,281.1 656.4,280.1 656.4,308.9 656.5,300.5 656.6,264.2 656.6,286.4 656.7,309.5 656.8,288.8 656.9,298.8 656.9,294.7 657.0,301.1 657.1,294.6 657.1,302.3 657.2,295.9 657.3,299.8 657.4,274.9 657.4,294.0 657.5,286.0 657.6,297.5 657.6,277.2 657.7,286.4 657.8,295.7 657.9,271.3 657.9,292.0 658.0,239.4 658.1,285.9 658.1,287.0 658.2,286.6 658.3,266.0 658.4,286.3 658.4,294.9 658.5,303.1 658.6,256.4 658.6,266.2 658.7,260.7 658.8,290.1 658.9,302.5 658.9,284.9 659.0,300.5 659.1,295.6 659.2,267.3 659.2,296.2 659.3,303.6 659.4,287.9 659.4,307.7 659.5,280.9 659.6,301.0 659.7,265.3 659.7,305.2 659.8,303.7 659.9,295.5 659.9,313.4 660.0,304.0 660.1,291.5 660.2,281.4 660.2,292.8 660.3,282.3 660.4,287.0 660.4,290.0 660.5,300.9 660.6,293.5 660.7,273.3 660.7,274.5 660.8,280.2 660.9,299.7 660.9,267.6 661.0,298.7 661.1,289.1 661.2,257.4 661.2,309.1 661.3,289.1 661.4,276.7 661.4,294.1 661.5,308.6 661.6,274.8 661.7,268.2 661.7,260.8 661.8,302.4 661.9,306.8 661.9,285.2 662.0,250.1 662.1,292.7 662.2,272.2 662.2,297.3 662.3,280.2 662.4,276.9 662.5,294.7 662.5,255.3 662.6,291.2 662.7,253.4 662.7,298.0 662.8,303.9 662.9,308.9 663.0,270.7 663.0,285.9 663.1,294.8 663.2,298.6 663.2,296.0 663.3,265.7 663.4,280.3 663.5,311.9 663.5,305.2 663.6,306.9 663.7,284.5 663.7,287.7 663.8,274.1 663.9,295.6 664.0,294.5 664.0,297.7 664.1,277.8 664.2,303.5 664.2,297.2 664.3,309.8 664.4,276.9 664.5,305.5 664.5,296.6 664.6,290.5 664.7,295.3 664.7,312.2 664.8,281.4 664.9,277.0 665.0,287.9 665.0,295.4 665.1,290.8 665.2,244.9 665.2,299.9 665.3,301.5 665.4,275.4 665.5,254.3 665.5,270.7 665.6,289.3 665.7,254.3 665.8,296.5 665.8,279.9 665.9,308.6 666.0,274.7 666.0,289.9 666.1,265.3 666.2,313.8 666.3,283.2 666.3,290.2 666.4,292.3 666.5,285.5 666.5,293.6 666.6,276.3 666.7,303.8 666.8,281.7 666.8,268.9 666.9,301.7 667.0,249.4 667.0,290.1 667.1,298.2 667.2,280.3 667.3,281.0 667.3,284.2 667.4,307.9 667.5,275.2 667.5,275.6 667.6,299.5 667.7,255.0 667.8,290.8 667.8,283.6 667.9,306.3 668.0,281.4 668.0,303.1 668.1,306.5 668.2,287.2 668.3,264.7 668.3,297.9 668.4,301.8 668.5,268.2 668.5,271.9 668.6,289.5 668.7,284.1 668.8,301.5 668.8,304.1 668.9,305.0 669.0,293.7 669.1,276.0 669.1,293.5 669.2,288.8 669.3,277.7 669.3,310.7 669.4,272.9 669.5,284.0 669.6,301.8 669.6,292.5 669.7,306.1 669.8,279.9 669.8,289.0 669.9,292.2 670.0,304.0 670.1,282.8 670.1,281.5 670.2,279.1 670.3,306.5 670.3,293.9 670.4,295.5 670.5,274.7 670.6,276.6 670.6,282.0 670.7,274.3 670.8,288.3 670.8,237.9 670.9,292.7 671.0,289.8 671.1,303.1 671.1,284.7 671.2,285.3 671.3,268.8 671.3,283.5 671.4,303.5 671.5,288.7 671.6,288.1 671.6,278.7 671.7,287.7 671.8,295.6 671.9,287.4 671.9,286.8 672.0,301.6 672.1,299.3 672.1,287.7 672.2,271.4 672.3,286.6 672.4,289.6 672.4,281.8 672.5,288.3 672.6,306.4 672.6,296.0 672.7,268.1 672.8,287.3 672.9,302.3 672.9,286.9 673.0,290.9 673.1,244.8 673.1,300.3 673.2,279.2 673.3,268.0 673.4,278.7 673.4,302.1 673.5,286.8 673.6,299.2 673.6,294.4 673.7,278.5 673.8,306.7 673.9,273.1 673.9,258.5 674.0,276.3 674.1,293.4 674.1,255.6 674.2,283.2 674.3,307.7 674.4,300.5 674.4,284.2 674.5,286.9 674.6,280.3 674.6,281.5 674.7,298.8 674.8,294.6 674.9,283.8 674.9,251.7 675.0,271.5 675.1,264.9 675.2,277.8 675.2,291.2 675.3,296.2 675.4,304.1 675.4,289.6 675.5,284.0 675.6,297.2 675.7,307.4 675.7,309.9 675.8,309.1 675.9,261.7 675.9,258.2 676.0,273.0 676.1,279.1 676.2,280.8 676.2,304.7 676.3,240.4 676.4,289.5 676.4,287.1 676.5,294.8 676.6,305.7 676.7,284.5 676.7,270.6 676.8,281.3 676.9,304.8 676.9,311.1 677.0,257.8 677.1,268.9 677.2,305.2 677.2,294.5 677.3,249.0 677.4,294.0 677.4,293.9 677.5,287.5 677.6,282.8 677.7,290.6 677.7,273.1 677.8,292.8 677.9,296.8 677.9,308.4 678.0,284.9 678.1,245.5 678.2,279.8 678.2,267.4 678.3,283.9 678.4,284.4 678.5,310.6 678.5,296.4 678.6,293.1 678.7,276.5 678.7,292.1 678.8,307.6 678.9,308.9 679.0,293.3 679.0,288.0 679.1,244.4 679.2,303.7 679.2,297.6 679.3,297.0 679.4,256.9 679.5,293.6 679.5,291.9 679.6,281.0 679.7,315.8 679.7,270.0 679.8,288.3 679.9,279.1 680.0,308.5 680.0,270.1 680.1,276.6 680.2,233.5 680.2,289.9 680.3,264.5 680.4,273.4 680.5,289.7 680.5,309.2 680.6,272.9 680.7,288.9 680.7,258.6 680.8,288.0 680.9,306.2 681.0,287.6 681.0,287.5 681.1,281.6 681.2,277.7 681.2,289.1 681.3,308.0 681.4,304.2 681.5,288.4 681.5,288.0 681.6,269.4 681.7,286.7 681.8,270.9 681.8,284.9 681.9,294.2 682.0,252.9 682.0,289.9 682.1,290.1 682.2,286.1 682.3,271.7 682.3,292.5 682.4,285.1 682.5,297.2 682.5,281.7 682.6,311.3 682.7,297.7 682.8,296.0 682.8,291.6 682.9,294.8 683.0,271.6 683.0,276.7 683.1,301.2 683.2,285.2 683.3,261.6 683.3,296.9 683.4,293.3 683.5,280.1 683.5,305.2 683.6,290.1 683.7,265.2 683.8,253.6 683.8,300.5 683.9,266.9 684.0,303.1 684.0,247.5 684.1,279.2 684.2,290.1 684.3,292.9 684.3,278.4 684.4,258.2 684.5,277.1 684.5,266.4 684.6,269.4 684.7,271.1 684.8,243.1 684.8,266.4 684.9,285.5 685.0,280.9 685.1,304.7 685.1,306.3 685.2,292.2 685.3,287.0 685.3,292.2 685.4,290.0 685.5,267.6 685.6,282.3 685.6,307.3 685.7,273.6 685.8,274.2 685.8,286.7 685.9,283.2 686.0,294.8 686.1,279.4 686.1,294.3 686.2,288.7 686.3,270.9 686.3,285.6 686.4,286.4 686.5,258.3 686.6,290.7 686.6,267.7 686.7,282.6 686.8,294.4 686.8,293.3 686.9,277.2 687.0,252.6 687.1,298.8 687.1,302.0 687.2,259.6 687.3,271.9 687.3,283.2 687.4,305.0 687.5,266.7 687.6,305.2 687.6,271.0 687.7,290.6 687.8,286.3 687.8,292.8 687.9,298.5 688.0,293.0 688.1,277.3 688.1,309.6 688.2,304.5 688.3,274.6 688.4,282.5 688.4,248.8 688.5,302.8 688.6,300.0 688.6,288.3 688.7,285.6 688.8,283.1 688.9,283.6 688.9,274.9 689.0,308.1 689.1,283.8 689.1,295.0 689.2,296.1 689.3,253.6 689.4,292.1 689.4,264.4 689.5,227.8 689.6,292.2 689.6,287.2 689.7,288.5 689.8,285.1 689.9,258.8 689.9,271.5 690.0,285.1 690.1,286.5 690.1,298.9 690.2,281.4 690.3,303.0 690.4,297.9 690.4,285.8 690.5,297.4 690.6,305.0 690.6,289.5 690.7,300.8 690.8,278.3 690.9,284.4 690.9,303.8 691.0,281.4 691.1,275.8 691.1,284.6 691.2,290.7 691.3,293.9 691.4,248.6 691.4,285.1 691.5,286.7 691.6,291.8 691.7,302.4 691.7,294.8 691.8,277.9 691.9,282.2 691.9,282.4 692.0,285.5 692.1,299.4 692.2,286.7 692.2,270.4 692.3,288.1 692.4,311.7 692.4,298.2 692.5,308.7 692.6,299.8 692.7,240.7 692.7,293.9 692.8,299.3 692.9,306.9 692.9,291.5 693.0,263.8 693.1,299.1 693.2,280.6 693.2,284.4 693.3,296.1 693.4,275.4 693.4,293.8 693.5,298.2 693.6,297.2 693.7,283.9 693.7,248.4 693.8,270.7 693.9,297.6 693.9,287.2 694.0,299.2 694.1,300.1 694.2,308.6 694.2,282.1 694.3,296.0 694.4,291.0 694.4,282.0 694.5,305.1 694.6,303.0 694.7,280.5 694.7,301.6 694.8,300.9 694.9,271.4 695.0,289.2 695.0,264.9 695.1,253.7 695.2,260.9 695.2,305.4 695.3,285.0 695.4,271.9 695.5,282.3 695.5,293.8 695.6,301.9 695.7,276.9 695.7,305.5 695.8,307.3 695.9,300.3 696.0,288.3 696.0,264.0 696.1,292.7 696.2,272.2 696.2,300.9 696.3,295.1 696.4,294.1 696.5,298.0 696.5,267.9 696.6,305.9 696.7,306.8 696.7,268.5 696.8,284.3 696.9,277.3 697.0,299.0 697.0,278.0 697.1,308.2 697.2,290.8 697.2,283.7 697.3,310.1 697.4,298.5 697.5,305.5 697.5,300.3 697.6,293.8 697.7,295.3 697.7,310.4 697.8,278.4 697.9,304.7 698.0,284.9 698.0,298.8 698.1,307.8 698.2,275.0 698.3,292.4 698.3,283.0 698.4,282.5 698.5,284.6 698.5,299.2 698.6,282.1 698.7,273.8 698.8,298.4 698.8,302.6 698.9,297.5 699.0,270.8 699.0,290.7 699.1,262.8 699.2,295.1 699.3,289.0 699.3,261.7 699.4,257.2 699.5,277.3 699.5,303.1 699.6,288.9 699.7,290.1 699.8,302.3 699.8,267.0 699.9,282.8 700.0,300.5 700.0,303.4 700.1,285.9 700.2,308.0 700.3,272.9 700.3,295.6 700.4,304.4 700.5,280.3 700.5,300.3 700.6,291.3 700.7,286.7 700.8,301.4 700.8,282.8 700.9,265.5 701.0,270.9 701.1,290.3 701.1,276.1 701.2,302.6 701.3,291.8 701.3,269.8 701.4,302.2 701.5,286.3 701.6,275.4 701.6,287.3 701.7,255.1 701.8,294.6 701.8,296.4 701.9,305.7 702.0,285.6 702.1,287.3 702.1,299.7 702.2,283.0 702.3,259.2 702.3,296.2 702.4,264.9 702.5,277.0 702.6,291.7 702.6,311.1 702.7,307.9 702.8,291.2 702.8,299.5 702.9,284.2 703.0,296.5 703.1,292.3 703.1,298.8 703.2,296.9 703.3,282.8 703.3,308.8 703.4,268.6 703.5,279.6 703.6,309.4 703.6,284.8 703.7,294.7 703.8,297.4 703.8,292.5 703.9,291.7 704.0,300.2 704.1,296.2 704.1,270.8 704.2,306.9 704.3,274.3 704.4,299.9 704.4,281.7 704.5,305.4 704.6,300.1 704.6,293.1 704.7,310.9 704.8,305.2 704.9,260.8 704.9,276.2 705.0,273.3 705.1,279.8 705.1,297.3 705.2,255.7 705.3,243.3 705.4,303.5 705.4,289.9 705.5,291.5 705.6,290.5 705.6,273.7 705.7,289.5 705.8,287.6 705.9,289.4 705.9,304.8 706.0,256.2 706.1,305.7 706.1,294.0 706.2,292.6 706.3,283.5 706.4,279.5 706.4,310.1 706.5,286.8 706.6,302.1 706.6,282.1 706.7,309.9 706.8,285.6 706.9,312.0 706.9,305.0 707.0,290.9 707.1,279.1 707.1,275.7 707.2,283.3 707.3,297.7 707.4,285.4 707.4,290.6 707.5,296.8 707.6,271.1 707.7,287.6 707.7,287.9 707.8,276.0 707.9,296.5 707.9,290.8 708.0,304.1 708.1,301.0 708.2,305.9 708.2,303.5 708.3,302.2 708.4,291.7 708.4,281.3 708.5,297.3 708.6,288.2 708.7,244.7 708.7,298.3 708.8,293.8 708.9,226.1 708.9,295.4 709.0,257.9 709.1,286.3 709.2,306.5 709.2,284.3 709.3,301.0 709.4,291.2 709.4,278.1 709.5,287.0 709.6,302.4 709.7,307.3 709.7,298.1 709.8,285.3 709.9,298.3 709.9,298.3 710.0,228.8 710.1,289.8 710.2,273.4 710.2,313.1 710.3,302.8 710.4,305.4 710.4,296.3 710.5,275.5 710.6,281.7 710.7,288.0 710.7,279.6 710.8,291.5 710.9,288.3 711.0,256.8 711.0,277.2 711.1,268.1 711.2,248.7 711.2,304.3 711.3,243.2 711.4,304.3 711.5,265.7 711.5,292.3 711.6,245.7 711.7,266.2 711.7,300.0 711.8,279.7 711.9,279.4 712.0,297.8 712.0,285.6 712.1,297.5 712.2,293.5 712.2,290.4 712.3,288.6 712.4,302.4 712.5,251.8 712.5,305.5 712.6,286.5 712.7,297.6 712.7,264.7 712.8,295.4 712.9,295.4 713.0,253.6 713.0,296.0 713.1,289.8 713.2,299.4 713.2,281.0 713.3,286.0 713.4,302.4 713.5,284.9 713.5,296.5 713.6,282.6 713.7,303.2 713.7,274.6 713.8,271.7 713.9,300.6 714.0,290.4 714.0,279.0 714.1,305.4 714.2,288.1 714.3,284.7 714.3,304.1 714.4,300.1 714.5,265.8 714.5,283.5 714.6,293.8 714.7,302.6 714.8,279.2 714.8,297.3 714.9,242.0 715.0,284.3 715.0,270.3 715.1,286.1 715.2,260.0 715.3,283.7 715.3,301.1 715.4,285.6 715.5,293.8 715.5,286.4 715.6,292.5 715.7,289.9 715.8,297.1 715.8,294.6 715.9,285.9 716.0,292.9 716.0,271.0 716.1,275.5 716.2,294.7 716.3,303.7 716.3,265.2 716.4,294.9 716.5,304.0 716.5,299.1 716.6,293.3 716.7,264.2 716.8,275.2 716.8,287.6 716.9,304.9 717.0,294.2 717.0,297.4 717.1,261.2 717.2,291.7 717.3,236.3 717.3,281.0 717.4,298.8 717.5,286.6 717.6,300.4 717.6,281.7 717.7,310.9 717.8,267.5 717.8,286.1 717.9,276.1 718.0,304.3 718.1,241.0 718.1,304.4 718.2,286.3 718.3,304.5 718.3,294.0 718.4,284.3 718.5,306.5 718.6,291.6 718.6,282.3 718.7,302.1 718.8,273.9 718.8,292.2 718.9,303.9 719.0,298.4 719.1,300.6 719.1,290.5 719.2,279.2 719.3,289.7 719.3,285.0 719.4,290.0 719.5,280.7 719.6,269.9 719.6,307.2 719.7,287.4 719.8,292.3 719.8,262.1 719.9,271.6 720.0,305.0 720.1,297.0 720.1,309.2 720.2,283.3 720.3,285.6 720.3,294.1 720.4,306.8 720.5,282.9 720.6,301.2 720.6,279.1 720.7,300.7 720.8,247.7 720.9,263.3 720.9,263.7 721.0,309.4 721.1,271.9 721.1,268.9 721.2,299.2 721.3,290.2 721.4,296.1 721.4,275.2 721.5,243.1 721.6,303.4 721.6,304.8 721.7,281.1 721.8,302.4 721.9,276.6 721.9,294.6 722.0,282.4 722.1,273.9 722.1,286.5 722.2,272.3 722.3,302.4 722.4,303.6 722.4,286.7 722.5,303.1 722.6,290.1 722.6,280.8 722.7,289.8 722.8,283.1 722.9,285.0 722.9,313.2 723.0,292.9 723.1,296.2 723.1,263.8 723.2,266.2 723.3,297.1 723.4,273.4 723.4,293.1 723.5,278.8 723.6,304.8 723.6,278.0 723.7,276.9 723.8,306.4 723.9,282.2 723.9,264.3 724.0,290.7 724.1,268.3 724.2,301.3 724.2,302.5 724.3,305.1 724.4,274.0 724.4,311.4 724.5,277.5 724.6,293.1 724.7,274.9 724.7,285.6 724.8,289.7 724.9,277.9 724.9,272.1 725.0,268.8 725.1,270.2 725.2,275.6 725.2,297.1 725.3,292.1 725.4,307.6 725.4,293.2 725.5,292.5 725.6,264.6 725.7,253.3 725.7,303.7 725.8,308.0 725.9,298.8 725.9,285.9 726.0,253.9 726.1,304.8 726.2,305.3 726.2,304.4 726.3,266.5 726.4,298.2 726.4,294.1 726.5,303.8 726.6,280.6 726.7,294.8 726.7,289.8 726.8,299.0 726.9,297.6 726.9,268.1 727.0,297.3 727.1,278.7 727.2,295.8 727.2,303.2 727.3,284.7 727.4,301.3 727.5,288.8 727.5,271.5 727.6,293.7 727.7,298.7 727.7,270.4 727.8,291.7 727.9,299.2 728.0,289.9 728.0,278.0 728.1,279.9 728.2,284.0 728.2,281.4 728.3,290.7 728.4,304.1 728.5,289.7 728.5,309.0 728.6,282.6 728.7,302.5 728.7,304.5 728.8,261.3 728.9,286.7 729.0,287.2 729.0,294.7 729.1,288.6 729.2,274.2 729.2,206.2 729.3,265.1 729.4,289.6 729.5,314.5 729.5,265.6 729.6,299.0 729.7,275.0 729.7,268.7 729.8,284.4 729.9,296.3 730.0,281.0 730.0,295.8 730.1,303.1 730.2,314.0 730.3,279.1 730.3,288.2 730.4,263.1 730.5,291.1 730.5,285.9 730.6,287.6 730.7,294.2 730.8,282.0 730.8,281.3 730.9,281.3 731.0,301.6 731.0,293.7 731.1,253.6 731.2,287.2 731.3,298.6 731.3,306.7 731.4,267.1 731.5,271.9 731.5,284.0 731.6,295.8 731.7,279.5 731.8,270.3 731.8,287.8 731.9,289.6 732.0,295.3 732.0,290.0 732.1,301.1 732.2,285.8 732.3,301.0 732.3,298.5 732.4,303.6 732.5,306.1 732.5,288.6 732.6,256.3 732.7,310.3 732.8,290.7 732.8,307.8 732.9,291.1 733.0,307.7 733.0,291.6 733.1,296.1 733.2,288.9 733.3,284.5 733.3,292.5 733.4,291.2 733.5,300.6 733.6,298.1 733.6,294.3 733.7,291.6 733.8,286.3 733.8,283.9 733.9,305.6 734.0,273.4 734.1,284.4 734.1,291.1 734.2,290.5 734.3,301.9 734.3,282.1 734.4,312.9 734.5,312.2 734.6,279.5 734.6,298.9 734.7,293.5 734.8,300.1 734.8,280.1 734.9,302.8 735.0,290.6 735.1,284.0 735.1,261.5 735.2,272.5 735.3,290.0 735.3,277.2 735.4,296.9 735.5,290.5 735.6,278.1 735.6,265.3 735.7,304.4 735.8,295.7 735.8,282.8 735.9,280.2 736.0,285.6 736.1,292.4 736.1,302.1 736.2,304.1 736.3,283.3 736.3,297.4 736.4,293.3 736.5,299.5 736.6,296.3 736.6,301.4 736.7,295.0 736.8,294.0 736.9,283.4 736.9,301.4 737.0,309.1 737.1,295.3 737.1,286.5 737.2,297.4 737.3,277.5 737.4,290.7 737.4,301.2 737.5,279.5 737.6,285.5 737.6,293.8 737.7,294.9 737.8,303.5 737.9,310.2 737.9,283.2 738.0,244.4 738.1,277.8 738.1,282.3 738.2,289.1 738.3,295.9 738.4,260.9 738.4,286.5 738.5,271.9 738.6,292.2 738.6,279.5 738.7,277.1 738.8,300.6 738.9,305.5 738.9,281.5 739.0,274.7 739.1,281.2 739.1,295.3 739.2,307.4 739.3,298.9 739.4,273.0 739.4,276.9 739.5,294.4 739.6,277.0 739.6,293.0 739.7,301.1 739.8,290.5 739.9,299.6 739.9,275.5 740.0,299.7 740.1,286.9 740.2,270.2 740.2,291.2 740.3,299.9 740.4,274.4 740.4,283.0 740.5,270.5 740.6,291.7 740.7,283.7 740.7,292.2 740.8,281.7 740.9,289.3 740.9,295.5 741.0,303.9 741.1,299.6 741.2,295.3 741.2,283.7 741.3,282.6 741.4,292.7 741.4,276.7 741.5,257.7 741.6,295.4 741.7,279.3 741.7,284.3 741.8,285.3 741.9,288.8 741.9,312.5 742.0,272.3 742.1,310.7 742.2,308.3 742.2,286.6 742.3,276.8 742.4,280.8 742.4,302.8 742.5,304.3 742.6,288.4 742.7,308.1 742.7,264.4 742.8,260.3 742.9,292.2 742.9,292.8 743.0,287.2 743.1,250.1 743.2,302.0 743.2,300.1 743.3,283.5 743.4,296.8 743.5,276.0 743.5,246.3 743.6,277.0 743.7,298.6 743.7,287.5 743.8,293.5 743.9,303.2 744.0,278.8 744.0,266.4 744.1,280.2 744.2,255.8 744.2,300.4 744.3,292.2 744.4,305.6 744.5,288.1 744.5,265.2 744.6,290.1 744.7,294.9 744.7,277.3 744.8,266.8 744.9,286.4 745.0,290.9 745.0,266.1 745.1,281.6 745.2,264.4 745.2,297.9 745.3,289.7 745.4,297.4 745.5,307.0 745.5,302.5 745.6,280.6 745.7,274.5 745.7,293.4 745.8,295.4 745.9,265.4 746.0,298.4 746.0,280.5 746.1,303.8 746.2,307.8 746.2,287.0 746.3,291.0 746.4,298.2 746.5,306.8 746.5,285.7 746.6,300.2 746.7,254.9 746.8,281.2 746.8,297.2 746.9,303.4 747.0,290.4 747.0,298.5 747.1,304.5 747.2,279.3 747.3,299.7 747.3,280.7 747.4,297.3 747.5,283.8 747.5,285.8 747.6,270.7 747.7,275.1 747.8,301.4 747.8,274.6 747.9,251.8 748.0,300.5 748.0,277.0 748.1,290.6 748.2,283.2 748.3,229.3 748.3,313.0 748.4,302.1 748.5,287.9 748.5,302.9 748.6,292.0 748.7,273.2 748.8,289.4 748.8,301.7 748.9,271.9 749.0,282.2 749.0,299.6 749.1,281.1 749.2,309.4 749.3,286.5 749.3,293.1 749.4,268.2 749.5,291.1 749.5,308.0 749.6,239.2 749.7,288.6 749.8,286.3 749.8,305.9 749.9,252.9 750.0,259.4 750.1,262.3 750.1,281.4 750.2,271.8 750.3,274.3 750.3,305.7 750.4,263.9 750.5,304.2 750.6,278.2 750.6,313.0 750.7,274.3 750.8,308.2 750.8,271.9 750.9,281.4 751.0,283.1 751.1,293.6 751.1,285.3 751.2,273.0 751.3,299.7 751.3,303.0 751.4,270.3 751.5,311.5 751.6,267.5 751.6,311.7 751.7,290.7 751.8,264.8 751.8,267.3 751.9,306.1 752.0,295.7 752.1,272.1 752.1,273.7 752.2,315.7 752.3,282.0 752.3,301.9 752.4,250.7 752.5,298.8 752.6,249.8 752.6,279.3 752.7,270.4 752.8,272.8 752.8,281.4 752.9,296.8 753.0,296.4 753.1,298.0 753.1,302.8 753.2,294.3 753.3,287.3 753.4,292.4 753.4,269.8 753.5,292.8 753.6,271.9 753.6,281.2 753.7,257.8 753.8,279.1 753.9,265.9 753.9,275.1 754.0,288.1 754.1,270.2 754.1,302.1 754.2,285.4 754.3,284.9 754.4,271.3 754.4,305.3 754.5,288.4 754.6,277.4 754.6,273.8 754.7,295.9 754.8,303.8 754.9,281.8 754.9,305.0 755.0,287.0 755.1,288.8 755.1,284.7 755.2,263.9 755.3,271.7 755.4,280.5 755.4,275.9 755.5,290.1 755.6,282.1 755.6,283.3 755.7,295.5 755.8,285.7 755.9,251.4 755.9,288.9 756.0,284.9 756.1,300.3 756.2,299.2 756.2,302.9 756.3,297.8 756.4,257.2 756.4,262.0 756.5,287.4 756.6,310.6 756.7,265.2 756.7,296.1 756.8,300.9 756.9,261.2 756.9,286.7 757.0,249.4 757.1,284.1 757.2,297.3 757.2,297.1 757.3,309.7 757.4,286.8 757.4,295.9 757.5,278.0 757.6,290.4 757.7,252.3 757.7,295.4 757.8,281.9 757.9,251.4 757.9,275.2 758.0,257.7 758.1,259.6 758.2,290.3 758.2,294.2 758.3,311.8 758.4,287.8 758.4,289.7 758.5,282.8 758.6,256.3 758.7,291.0 758.7,292.1 758.8,279.5 758.9,290.6 758.9,294.4 759.0,298.2 759.1,288.1 759.2,282.3 759.2,300.4 759.3,295.3 759.4,287.1 759.5,299.8 759.5,273.7 759.6,272.8 759.7,292.4 759.7,231.5 759.8,271.1 759.9,279.3 760.0,282.2 760.0,266.7 760.1,259.8 760.2,281.0 760.2,232.4 760.3,287.2 760.4,295.4 760.5,298.8 760.5,294.1 760.6,290.7 760.7,292.9 760.7,295.7 760.8,278.1 760.9,303.0 761.0,303.9 761.0,288.2 761.1,292.8 761.2,299.4 761.2,248.6 761.3,291.8 761.4,282.4 761.5,303.4 761.5,226.1 761.6,292.9 761.7,272.2 761.7,284.6 761.8,278.1 761.9,295.9 762.0,312.3 762.0,305.5 762.1,258.2 762.2,279.2 762.2,277.7 762.3,295.6 762.4,292.6 762.5,293.4 762.5,302.3 762.6,276.5 762.7,297.2 762.8,307.2 762.8,287.4 762.9,289.7 763.0,296.9 763.0,284.3 763.1,278.8 763.2,268.5 763.3,295.8 763.3,297.2 763.4,276.9 763.5,287.1 763.5,293.6 763.6,274.0 763.7,263.7 763.8,276.9 763.8,300.5 763.9,313.3 764.0,272.8 764.0,291.9 764.1,289.5 764.2,245.6 764.3,273.4 764.3,285.2 764.4,287.9 764.5,306.6 764.5,278.5 764.6,290.4 764.7,282.1 764.8,263.1 764.8,298.0 764.9,280.0 765.0,310.4 765.0,308.3 765.1,282.1 765.2,274.4 765.3,297.2 765.3,268.4 765.4,288.5 765.5,269.2 765.5,298.3 765.6,299.6 765.7,266.8 765.8,263.7 765.8,300.0 765.9,262.1 766.0,305.0 766.1,281.7 766.1,301.0 766.2,298.8 766.3,289.2 766.3,291.2 766.4,273.5 766.5,292.2 766.6,306.9 766.6,272.4 766.7,249.4 766.8,308.0 766.8,271.7 766.9,306.6 767.0,277.7 767.1,293.5 767.1,302.9 767.2,286.9 767.3,297.6 767.3,256.8 767.4,290.9 767.5,283.3 767.6,287.7 767.6,274.0 767.7,297.4 767.8,248.6 767.8,284.7 767.9,284.4 768.0,287.0 768.1,285.0 768.1,292.1 768.2,293.9 768.3,292.6 768.3,283.4 768.4,270.7 768.5,282.6 768.6,290.5 768.6,280.7 768.7,272.2 768.8,279.2 768.8,255.3 768.9,287.1 769.0,286.8 769.1,295.7 769.1,298.0 769.2,283.9 769.3,292.5 769.4,276.5 769.4,291.0 769.5,286.1 769.6,251.1 769.6,273.3 769.7,269.8 769.8,297.2 769.9,299.4 769.9,293.7 770.0,266.5 770.1,300.1 770.1,286.4 770.2,257.9 770.3,292.9 770.4,287.3 770.4,277.6 770.5,305.6 770.6,264.5 770.6,291.5 770.7,291.6 770.8,307.3 770.9,297.6 770.9,312.8 771.0,266.1 771.1,262.3 771.1,298.5 771.2,269.7 771.3,280.1 771.4,299.2 771.4,300.9 771.5,307.3 771.6,305.5 771.6,307.9 771.7,278.9 771.8,246.4 771.9,279.7 771.9,308.4 772.0,293.7 772.1,289.7 772.1,304.9 772.2,299.8 772.3,282.8 772.4,293.0 772.4,298.1 772.5,307.7 772.6,273.5 772.7,282.0 772.7,250.2 772.8,304.4 772.9,278.0 772.9,277.0 773.0,286.6 773.1,298.3 773.2,294.5 773.2,287.9 773.3,309.4 773.4,277.2 773.4,287.2 773.5,293.3 773.6,286.6 773.7,286.7 773.7,281.5 773.8,285.7 773.9,299.3 773.9,296.8 774.0,287.0 774.1,289.5 774.2,261.3 774.2,296.9 774.3,293.9 774.4,292.8 774.4,305.0 774.5,286.6 774.6,300.6 774.7,294.7 774.7,299.6 774.8,291.1 774.9,286.4 774.9,312.8 775.0,290.0 775.1,284.1 775.2,302.4 775.2,295.3 775.3,255.0 775.4,295.1 775.4,280.9 775.5,301.7 775.6,272.0 775.7,308.4 775.7,286.4 775.8,294.3 775.9,286.4 776.0,289.7 776.0,280.7 776.1,303.0 776.2,304.6 776.2,282.5 776.3,286.6 776.4,311.0 776.5,259.5 776.5,292.0 776.6,290.7 776.7,307.4 776.7,287.7 776.8,283.2 776.9,278.6 777.0,301.7 777.0,226.1 777.1,276.2 777.2,273.2 777.2,251.8 777.3,290.9 777.4,285.4 777.5,310.7 777.5,308.3 777.6,291.0 777.7,287.1 777.7,291.2 777.8,295.0 777.9,279.2 778.0,278.6 778.0,293.9 778.1,288.1 778.2,281.9 778.2,285.7 778.3,305.7 778.4,294.0 778.5,295.6 778.5,264.8 778.6,300.1 778.7,291.6 778.7,293.3 778.8,294.8 778.9,306.9 779.0,255.5 779.0,290.6 779.1,281.6 779.2,284.8 779.3,295.1 779.3,290.8 779.4,267.8 779.5,305.2 779.5,290.4 779.6,285.3 779.7,294.6 779.8,294.7 779.8,280.1 779.9,292.3 780.0,251.0 780.0,279.8 780.1,263.0 780.2,278.6 780.3,300.6 780.3,291.2 780.4,289.4 780.5,289.3 780.5,307.7 780.6,280.2 780.7,281.8 780.8,288.6 780.8,304.1 780.9,259.2 781.0,294.5 781.0,296.3 781.1,310.9 781.2,278.9 781.3,272.5 781.3,273.1 781.4,311.0 781.5,270.3 781.5,294.0 781.6,293.4 781.7,298.6 781.8,280.8 781.8,272.4 781.9,289.0 782.0,294.1 782.0,270.0 782.1,291.0 782.2,286.1 782.3,295.1 782.3,284.6 782.4,282.1 782.5,299.1 782.6,304.9 782.6,292.2 782.7,304.6 782.8,291.4 782.8,271.7 782.9,293.4 783.0,313.0 783.1,301.2 783.1,286.3 783.2,286.7 783.3,299.4 783.3,226.1 783.4,280.8 783.5,299.1 783.6,261.4 783.6,274.6 783.7,235.3 783.8,280.3 783.8,285.6 783.9,303.5 784.0,288.3 784.1,302.8 784.1,271.9 784.2,298.9 784.3,236.7 784.3,290.7 784.4,241.9 784.5,306.2 784.6,295.3 784.6,304.3 784.7,303.0 784.8,289.2 784.8,308.5 784.9,279.3 785.0,290.8 785.1,296.5 785.1,294.5 785.2,295.8 785.3,229.7 785.4,292.6 785.4,291.6 785.5,295.4 785.6,272.1 785.6,285.1 785.7,286.5 785.8,308.8 785.9,290.8 785.9,271.1 786.0,300.2 786.1,269.0 786.1,284.6 786.2,284.9 786.3,279.4 786.4,296.2 786.4,291.3 786.5,270.7 786.6,263.3 786.6,268.9 786.7,261.0 786.8,268.1 786.9,306.6 786.9,281.3 787.0,306.4 787.1,301.7 787.1,304.0 787.2,299.8 787.3,287.5 787.4,300.8 787.4,286.1 787.5,270.8 787.6,282.8 787.6,308.8 787.7,292.5 787.8,277.9 787.9,293.4 787.9,282.7 788.0,300.3 788.1,293.3 788.1,276.2 788.2,302.9 788.3,290.2 788.4,291.7 788.4,294.9 788.5,283.3 788.6,267.1 788.7,292.7 788.7,297.7 788.8,292.9 788.9,265.1 788.9,300.3 789.0,302.1 789.1,296.7 789.2,277.8 789.2,289.3 789.3,278.3 789.4,303.0 789.4,292.5 789.5,302.0 789.6,301.5 789.7,284.1 789.7,292.3 789.8,248.6 789.9,268.5 789.9,288.7 790.0,292.8 790.1,305.8 790.2,308.0 790.2,270.2 790.3,297.0 790.4,285.5 790.4,288.0 790.5,277.4 790.6,255.0 790.7,275.1 790.7,291.6 790.8,264.2 790.9,281.0 790.9,291.3 791.0,286.6 791.1,273.3 791.2,264.7 791.2,297.1 791.3,293.4 791.4,305.2 791.4,274.2 791.5,292.1 791.6,258.9 791.7,262.7 791.7,286.0 791.8,285.0 791.9,298.5 792.0,298.2 792.0,288.3 792.1,292.5 792.2,256.1 792.2,297.5 792.3,278.8 792.4,291.8 792.5,287.1 792.5,282.6 792.6,302.7 792.7,276.2 792.7,266.2 792.8,269.4 792.9,291.4 793.0,299.7 793.0,274.0 793.1,296.0 793.2,285.4 793.2,308.4 793.3,306.2 793.4,291.7 793.5,292.0 793.5,301.3 793.6,308.1 793.7,283.6 793.7,307.5 793.8,298.5 793.9,276.9 794.0,289.7 794.0,283.8 794.1,287.2 794.2,286.6 794.2,291.8 794.3,301.4 794.4,270.0 794.5,286.3 794.5,287.3 794.6,226.1 794.7,301.7 794.7,269.8 794.8,285.8 794.9,304.2 795.0,296.7 795.0,294.5 795.1,305.7 795.2,295.9 795.3,275.4 795.3,265.7 795.4,284.3 795.5,287.2 795.5,291.2 795.6,298.6 795.7,294.4 795.8,283.5 795.8,305.3 795.9,292.2 796.0,287.3 796.0,285.6 796.1,306.0 796.2,261.0 796.3,280.2 796.3,300.0 796.4,295.1 796.5,276.2 796.5,272.7 796.6,298.7 796.7,301.1 796.8,266.7 796.8,281.1 796.9,290.1 797.0,295.6 797.0,291.2 797.1,300.9 797.2,272.8 797.3,285.8 797.3,283.8 797.4,237.3 797.5,282.9 797.5,301.9 797.6,296.9 797.7,270.8 797.8,266.0 797.8,285.5 797.9,293.4 798.0,273.9 798.0,301.7 798.1,300.5 798.2,291.0 798.3,281.8 798.3,286.1 798.4,284.5 798.5,303.7 798.6,294.4 798.6,290.1 798.7,294.2 798.8,296.8 798.8,280.0 798.9,293.2 799.0,300.0 799.1,270.3 799.1,287.2 799.2,307.3 799.3,282.2 799.3,249.7 799.4,273.2 799.5,268.3 799.6,264.9 799.6,282.2 799.7,297.9 799.8,270.7 799.8,303.1 799.9,287.4 800.0,278.9 800.1,284.0 800.1,294.0 800.2,302.7 800.3,251.2 800.3,276.7 800.4,296.5 800.5,301.9 800.6,286.6 800.6,287.3 800.7,286.0 800.8,262.8 800.8,298.2 800.9,281.7 801.0,306.9 801.1,292.4 801.1,261.4 801.2,304.0 801.3,274.9 801.3,309.8 801.4,294.1 801.5,291.3 801.6,296.1 801.6,280.8 801.7,279.3 801.8,272.4 801.9,293.8 801.9,298.3 802.0,267.6 802.1,296.8 802.1,279.4 802.2,297.6 802.3,279.9 802.4,226.1 802.4,275.2 802.5,226.1 802.6,298.1 802.6,287.6 802.7,284.7 802.8,289.5 802.9,274.9 802.9,274.9 803.0,284.5 803.1,256.9 803.1,299.7 803.2,296.7 803.3,311.2 803.4,285.4 803.4,292.7 803.5,281.7 803.6,298.4 803.6,299.5 803.7,287.6 803.8,297.1 803.9,283.5 803.9,283.8 804.0,289.8 804.1,276.0 804.1,286.6 804.2,293.8 804.3,300.1 804.4,282.3 804.4,298.5 804.5,271.3 804.6,282.9 804.6,295.4 804.7,301.9 804.8,303.3 804.9,263.1 804.9,310.5 805.0,298.7 805.1,228.3 805.2,272.8 805.2,255.6 805.3,278.9 805.4,286.1 805.4,280.5 805.5,309.6 805.6,304.0 805.7,298.3 805.7,301.2 805.8,302.9 805.9,231.1 805.9,299.8 806.0,271.5 806.1,309.5 806.2,310.6 806.2,287.5 806.3,277.5 806.4,303.0 806.4,292.0 806.5,262.8 806.6,265.9 806.7,300.0 806.7,251.9 806.8,258.1 806.9,270.8 806.9,305.8 807.0,298.1 807.1,281.3 807.2,289.5 807.2,287.2 807.3,280.5 807.4,284.5 807.4,275.0 807.5,257.0 807.6,284.2 807.7,293.4 807.7,288.2 807.8,302.8 807.9,286.1 807.9,265.9 808.0,309.8 808.1,308.7 808.2,270.4 808.2,297.2 808.3,289.8 808.4,280.7 808.5,251.9 808.5,270.9 808.6,270.5 808.7,276.1 808.7,299.2 808.8,280.7 808.9,258.2 809.0,313.6 809.0,309.8 809.1,278.1 809.2,303.0 809.2,292.6 809.3,283.3 809.4,254.0 809.5,288.5 809.5,284.4 809.6,263.0 809.7,297.9 809.7,305.0 809.8,263.1 809.9,311.0 810.0,306.9 810.0,303.8 810.1,275.0 810.2,274.2 810.2,279.1 810.3,268.7 810.4,298.9 810.5,291.6 810.5,296.6 810.6,287.7 810.7,288.2 810.7,303.1 810.8,282.7 810.9,278.1 811.0,275.7 811.0,290.9 811.1,284.8 811.2,292.7 811.2,308.8 811.3,266.0 811.4,265.4 811.5,300.6 811.5,292.4 811.6,284.5 811.7,280.9 811.8,286.2 811.8,288.6 811.9,284.0 812.0,305.7 812.0,284.5 812.1,291.3 812.2,245.7 812.3,254.1 812.3,281.1 812.4,293.4 812.5,273.9 812.5,299.9 812.6,261.4 812.7,292.3 812.8,286.7 812.8,300.5 812.9,298.4 813.0,251.7 813.0,279.0 813.1,292.3 813.2,269.3 813.3,291.0 813.3,284.2 813.4,282.3 813.5,297.7 813.5,288.2 813.6,272.9 813.7,280.8 813.8,304.9 813.8,292.6 813.9,235.3 814.0,300.5 814.0,296.9 814.1,287.1 814.2,303.9 814.3,308.5 814.3,263.0 814.4,306.8 814.5,268.1 814.6,284.8 814.6,282.6 814.7,248.9 814.8,302.0 814.8,306.0 814.9,268.0 815.0,267.3 815.1,281.7 815.1,299.2 815.2,303.7 815.3,291.7 815.3,281.7 815.4,302.9 815.5,268.7 815.6,296.8 815.6,292.8 815.7,268.5 815.8,294.3 815.8,269.9 815.9,284.6 816.0,298.2 816.1,296.9 816.1,280.2 816.2,275.4 816.3,274.7 816.3,264.7 816.4,275.8 816.5,278.3 816.6,291.5 816.6,288.6 816.7,301.4 816.8,295.9 816.8,288.2 816.9,293.3 817.0,308.9 817.1,302.8 817.1,260.3 817.2,303.8 817.3,264.9 817.3,282.6 817.4,278.2 817.5,277.5 817.6,294.6 817.6,298.7 817.7,295.2 817.8,276.0 817.9,301.8 817.9,287.3 818.0,283.7 818.1,279.6 818.1,281.7 818.2,304.4 818.3,251.7 818.4,296.5 818.4,276.5 818.5,289.5 818.6,290.8 818.6,295.9 818.7,259.8 818.8,293.3 818.9,303.4 818.9,304.1 819.0,296.5 819.1,269.5 819.1,293.4 819.2,287.0 819.3,268.4 819.4,274.2 819.4,272.4 819.5,277.5 819.6,287.4 819.6,284.5 819.7,279.7 819.8,284.3 819.9,286.4 819.9,294.9 820.0,299.7 820.1,291.4 820.1,298.3 820.2,305.5 820.3,271.8 820.4,301.1 820.4,272.5 820.5,278.2 820.6,288.2 820.6,257.6 820.7,304.8 820.8,287.2 820.9,262.7 820.9,282.9 821.0,298.2 821.1,303.8 821.2,286.8 821.2,305.3 821.3,274.3 821.4,278.0 821.4,311.2 821.5,295.3 821.6,262.5 821.7,275.9 821.7,301.4 821.8,303.5 821.9,303.1 821.9,299.1 822.0,280.5 822.1,284.6 822.2,261.4 822.2,281.1 822.3,269.8 822.4,291.2 822.4,295.0 822.5,298.1 822.6,303.4 822.7,315.3 822.7,251.0 822.8,300.0 822.9,269.0 822.9,294.3 823.0,279.7 823.1,278.1 823.2,263.9 823.2,297.1 823.3,285.2 823.4,294.1 823.4,277.8 823.5,266.6 823.6,300.0 823.7,273.9 823.7,293.3 823.8,306.8 823.9,300.2 823.9,280.8 824.0,285.7 824.1,298.6 824.2,293.5 824.2,287.1 824.3,274.2 824.4,300.9 824.5,302.2 824.5,270.1 824.6,292.3 824.7,302.0 824.7,267.0 824.8,282.2 824.9,297.4 825.0,289.8 825.0,287.6 825.1,301.7 825.2,299.8 825.2,261.5 825.3,283.2 825.4,286.4 825.5,286.3 825.5,292.6 825.6,288.3 825.7,270.9 825.7,293.0 825.8,277.8 825.9,308.0 826.0,289.5 826.0,276.7 826.1,284.6 826.2,298.3 826.2,280.4 826.3,259.6 826.4,311.6 826.5,285.9 826.5,286.9 826.6,285.4 826.7,301.9 826.7,264.3 826.8,301.3 826.9,289.3 827.0,265.1 827.0,72.0 827.1,247.0 827.2,124.6 827.2,256.0 827.3,197.1 827.4,274.2 827.5,289.7 827.5,312.5 827.6,289.4 827.7,290.8 827.8,292.2 827.8,306.7 827.9,265.5 828.0,305.4 828.0,281.3 828.1,297.2 828.2,266.9 828.3,298.8 828.3,298.7 828.4,273.1 828.5,301.5 828.5,277.8 828.6,295.1 828.7,290.0 828.8,270.4 828.8,274.1 828.9,295.6 829.0,281.2 829.0,280.3 829.1,276.4 829.2,296.2 829.3,254.1 829.3,298.1 829.4,304.3 829.5,293.3 829.5,287.3 829.6,237.3 829.7,300.1 829.8,290.2 829.8,297.4 829.9,287.8 830.0,292.4 830.0,266.7 830.1,299.8 830.2,297.5 830.3,281.0 830.3,288.8 830.4,270.4 830.5,296.3 830.5,273.2 830.6,295.8 830.7,299.2 830.8,274.8 830.8,285.0 830.9,285.6 831.0,302.4 831.1,296.8 831.1,284.8 831.2,297.6 831.3,301.7 831.3,297.7 831.4,290.0 831.5,303.8 831.6,274.4 831.6,305.2 831.7,292.7 831.8,287.0 831.8,297.1 831.9,290.4 832.0,308.5 832.1,296.4 832.1,280.1 832.2,286.2 832.3,293.9 832.3,283.5 832.4,294.4 832.5,295.1 832.6,277.0 832.6,294.9 832.7,298.4 832.8,276.2 832.8,246.0 832.9,309.8 833.0,265.5 833.1,258.4 833.1,298.3 833.2,304.6 833.3,301.2 833.3,278.9 833.4,299.4 833.5,307.8 833.6,307.5 833.6,282.3 833.7,289.5 833.8,289.4 833.8,293.5 833.9,269.3 834.0,293.7 834.1,288.7 834.1,270.2 834.2,281.7 834.3,305.0 834.4,259.8 834.4,300.0 834.5,303.4 834.6,282.6 834.6,305.7 834.7,297.3 834.8,273.8 834.9,282.4 834.9,289.4 835.0,267.1 835.1,296.2 835.1,301.7 835.2,269.3 835.3,263.6 835.4,288.1 835.4,282.0 835.5,279.4 835.6,291.5 835.6,310.5 835.7,279.7 835.8,294.3 835.9,285.2 835.9,290.3 836.0,269.6 836.1,283.1 836.1,289.4 836.2,310.7 836.3,295.4 836.4,261.6 836.4,253.1 836.5,276.1 836.6,287.3 836.6,292.4 836.7,309.8 836.8,300.0 836.9,282.9 836.9,294.6 837.0,280.1 837.1,282.0 837.1,263.4 837.2,268.1 837.3,280.2 837.4,277.7 837.4,265.6 837.5,277.7 837.6,298.7 837.7,288.2 837.7,281.4 837.8,255.7 837.9,288.5 837.9,310.0 838.0,302.0 838.1,256.3 838.2,307.5 838.2,286.5 838.3,293.6 838.4,291.4 838.4,253.6 838.5,298.1 838.6,304.5 838.7,291.3 838.7,292.9 838.8,282.2 838.9,295.3 838.9,298.1 839.0,289.7 839.1,291.9 839.2,300.5 839.2,301.3 839.3,289.6 839.4,275.7 839.4,287.9 839.5,299.0 839.6,298.7 839.7,297.8 839.7,295.6 839.8,248.2 839.9,280.2 839.9,293.6 840.0,304.7 840.1,267.8 840.2,285.8 840.2,258.1 840.3,268.0 840.4,293.2 840.4,278.8 840.5,309.9 840.6,291.1 840.7,289.9 840.7,292.1 840.8,299.6 840.9,296.0 841.0,306.9 841.0,265.9 841.1,304.9 841.2,300.6 841.2,241.3 841.3,296.6 841.4,266.7 841.5,266.9 841.5,298.1 841.6,291.1 841.7,305.5 841.7,280.2 841.8,252.4 841.9,276.8 842.0,306.4 842.0,241.0 842.1,291.2 842.2,270.3 842.2,287.6 842.3,289.8 842.4,264.8 842.5,252.5 842.5,280.5 842.6,265.3 842.7,300.8 842.7,291.6 842.8,292.9 842.9,299.1 843.0,274.8 843.0,294.5 843.1,297.0 843.2,288.3 843.2,297.3 843.3,309.6 843.4,293.3 843.5,307.9 843.5,264.1 843.6,278.2 843.7,280.7 843.8,289.3 843.8,298.6 843.9,268.7 844.0,291.3 844.0,275.0 844.1,288.4 844.2,281.1 844.3,284.3 844.3,301.9 844.4,301.9 844.5,287.8 844.5,304.2 844.6,295.4 844.7,293.2 844.8,285.6 844.8,291.8 844.9,272.1 845.0,289.7 845.0,306.3 845.1,296.9 845.2,306.9 845.3,284.3 845.3,259.2 845.4,294.5 845.5,279.2 845.5,264.3 845.6,292.5 845.7,272.6 845.8,271.8 845.8,277.2 845.9,277.0 846.0,282.3 846.0,307.2 846.1,303.5 846.2,296.5 846.3,298.1 846.3,270.6 846.4,275.6 846.5,286.7 846.5,278.8 846.6,291.3 846.7,293.5 846.8,295.6 846.8,291.1 846.9,300.8 847.0,293.2 847.1,268.5 847.1,310.7 847.2,295.4 847.3,231.0 847.3,279.0 847.4,287.0 847.5,297.3 847.6,295.5 847.6,258.3 847.7,267.4 847.8,269.2 847.8,271.7 847.9,293.0 848.0,286.3 848.1,305.4 848.1,294.4 848.2,312.1 848.3,297.3 848.3,307.6 848.4,309.2 848.5,282.8 848.6,262.9 848.6,270.0 848.7,304.9 848.8,308.6 848.8,291.5 848.9,285.6 849.0,296.6 849.1,283.8 849.1,309.8 849.2,298.8 849.3,285.0 849.3,267.8 849.4,286.0 849.5,288.2 849.6,292.4 849.6,270.5 849.7,298.4 849.8,289.3 849.8,295.9 849.9,293.7 850.0,291.3 850.1,308.3 850.1,278.7 850.2,262.2 850.3,259.8 850.4,255.2 850.4,310.8 850.5,293.1 850.6,291.8 850.6,278.7 850.7,292.6 850.8,288.1 850.9,301.1 850.9,269.1 851.0,302.1 851.1,287.7 851.1,243.9 851.2,285.5 851.3,293.1 851.4,267.8 851.4,273.8 851.5,290.5 851.6,288.6 851.6,281.6 851.7,257.7 851.8,294.4 851.9,279.6 851.9,297.2 852.0,310.6 852.1,307.1 852.1,281.9 852.2,301.1 852.3,291.6 852.4,271.5 852.4,300.8 852.5,291.0 852.6,292.4 852.6,304.0 852.7,289.0 852.8,279.6 852.9,306.5 852.9,295.0 853.0,283.7 853.1,279.6 853.1,284.5 853.2,243.2 853.3,276.6 853.4,274.8 853.4,294.3 853.5,280.8 853.6,274.1 853.7,287.6 853.7,293.8 853.8,266.6 853.9,295.4 853.9,299.3 854.0,285.1 854.1,280.6 854.2,290.5 854.2,297.2 854.3,282.2 854.4,294.6 854.4,295.3 854.5,293.3 854.6,306.6 854.7,299.6 854.7,303.2 854.8,277.5 854.9,280.4 854.9,307.8 855.0,301.2 855.1,290.4 855.2,254.5 855.2,287.5 855.3,292.6 855.4,274.4 855.4,287.9 855.5,293.8 855.6,307.6 855.7,274.5 855.7,262.7 855.8,288.1 855.9,283.4 855.9,300.0 856.0,276.9 856.1,292.1 856.2,296.9 856.2,260.8 856.3,280.9 856.4,270.6 856.4,281.5 856.5,303.2 856.6,308.5 856.7,299.6 856.7,280.4 856.8,293.1 856.9,292.1 857.0,286.6 857.0,295.2 857.1,296.0 857.2,294.7 857.2,292.3 857.3,303.5 857.4,280.9 857.5,291.1 857.5,287.7 857.6,296.6 857.7,273.9 857.7,307.4 857.8,295.3 857.9,272.8 858.0,285.4 858.0,286.3 858.1,302.1 858.2,304.2 858.2,287.2 858.3,288.9 858.4,316.4 858.5,267.6 858.5,298.4 858.6,294.2 858.7,295.9 858.7,296.4 858.8,292.2 858.9,288.5 859.0,261.6 859.0,290.1 859.1,282.2 859.2,265.7 859.2,289.9 859.3,295.7 859.4,265.3 859.5,295.5 859.5,291.9 859.6,291.9 859.7,286.8 859.7,263.5 859.8,257.0 859.9,277.9 860.0,293.1 860.0,258.0 860.1,299.2 860.2,287.8 860.3,256.4 860.3,285.0 860.4,304.6 860.5,286.7 860.5,285.0 860.6,273.5 860.7,304.4 860.8,259.8 860.8,301.8 860.9,274.5 861.0,302.4 861.0,299.1 861.1,284.2 861.2,298.0 861.3,291.3 861.3,269.4 861.4,291.9 861.5,301.9 861.5,271.1 861.6,291.5 861.7,308.0 861.8,284.5 861.8,286.8 861.9,299.8 862.0,287.0 862.0,288.9 862.1,290.5 862.2,292.3 862.3,307.0 862.3,281.6 862.4,286.8 862.5,301.9 862.5,283.0 862.6,261.4 862.7,302.8 862.8,282.6 862.8,310.9 862.9,290.2 863.0,264.0 863.0,302.4 863.1,303.2 863.2,283.3 863.3,285.2 863.3,296.7 863.4,279.7 863.5,299.0 863.6,279.9 863.6,261.8 863.7,302.7 863.8,268.6 863.8,264.9 863.9,294.2 864.0,268.0 864.1,293.5 864.1,278.5 864.2,252.3 864.3,281.9 864.3,280.9 864.4,299.8 864.5,304.6 864.6,293.5 864.6,295.2 864.7,282.9 864.8,310.5 864.8,279.0 864.9,300.3 865.0,299.7 865.1,256.4 865.1,300.1 865.2,302.5 865.3,256.4 865.3,304.1 865.4,276.4 865.5,275.7 865.6,299.0 865.6,274.0 865.7,300.6 865.8,294.1 865.8,272.5 865.9,274.1 866.0,287.5 866.1,289.3 866.1,308.2 866.2,289.9 866.3,284.8 866.3,297.3 866.4,302.8 866.5,261.2 866.6,284.5 866.6,285.3 866.7,308.1 866.8,268.3 866.9,285.5 866.9,294.5 867.0,300.8 867.1,287.0 867.1,292.2 867.2,279.7 867.3,279.9 867.4,271.0 867.4,291.9 867.5,262.5 867.6,301.5 867.6,289.0 867.7,298.1 867.8,297.7 867.9,293.1 867.9,260.3 868.0,310.3 868.1,300.8 868.1,297.0 868.2,288.7 868.3,309.2 868.4,274.4 868.4,279.2 868.5,295.4 868.6,299.0 868.6,301.9 868.7,264.3 868.8,268.0 868.9,300.5 868.9,256.2 869.0,276.3 869.1,287.5 869.1,289.8 869.2,286.6 869.3,265.3 869.4,307.9 869.4,273.9 869.5,280.1 869.6,287.9 869.6,298.6 869.7,287.0 869.8,298.9 869.9,293.1 869.9,306.7 870.0,290.6 870.1,311.2 870.2,290.3 870.2,304.1 870.3,293.6 870.4,291.3 870.4,280.3 870.5,298.4 870.6,303.4 870.7,294.8 870.7,277.4 870.8,276.6 870.9,270.5 870.9,272.6 871.0,277.0 871.1,304.2 871.2,250.0 871.2,282.2 871.3,295.6 871.4,303.0 871.4,290.0 871.5,304.5 871.6,294.1 871.7,275.6 871.7,282.9 871.8,274.0 871.9,315.3 871.9,281.3 872.0,266.1 872.1,287.7 872.2,284.3 872.2,296.1 872.3,286.0 872.4,277.8 872.4,300.0 872.5,288.5 872.6,287.4 872.7,296.0 872.7,298.6 872.8,249.8 872.9,288.7 873.0,302.5 873.0,286.6 873.1,282.9 873.2,277.9 873.2,268.7 873.3,289.8 873.4,267.4 873.5,270.8 873.5,276.5 873.6,291.7 873.7,255.8 873.7,295.3 873.8,292.8 873.9,291.9 874.0,286.2 874.0,269.2 874.1,283.4 874.2,294.6 874.2,272.1 874.3,297.1 874.4,295.0 874.5,285.4 874.5,281.3 874.6,293.1 874.7,297.5 874.7,299.8 874.8,292.7 874.9,290.8 875.0,295.0 875.0,291.2 875.1,294.0 875.2,284.2 875.2,243.1 875.3,291.9 875.4,304.8 875.5,278.3 875.5,263.3 875.6,293.4 875.7,288.8 875.7,269.3 875.8,294.5 875.9,293.2 876.0,308.2 876.0,298.2 876.1,271.9 876.2,256.1 876.3,252.0 876.3,296.4 876.4,302.4 876.5,293.0 876.5,297.2 876.6,294.9 876.7,285.6 876.8,303.3 876.8,299.5 876.9,281.8 877.0,281.3 877.0,281.6 877.1,305.0 877.2,286.0 877.3,270.7 877.3,292.3 877.4,301.3 877.5,294.9 877.5,269.3 877.6,271.8 877.7,301.1 877.8,298.9 877.8,285.0 877.9,266.8 878.0,263.6 878.0,312.2 878.1,291.6 878.2,296.2 878.3,286.9 878.3,253.7 878.4,285.1 878.5,299.3 878.5,257.9 878.6,270.8 878.7,283.7 878.8,277.2 878.8,292.1 878.9,285.1 879.0,303.6 879.0,267.3 879.1,283.7 879.2,297.3 879.3,262.7 879.3,265.3 879.4,267.5 879.5,286.2 879.6,278.1 879.6,301.1 879.7,295.2 879.8,300.8 879.8,275.9 879.9,295.2 880.0,285.8 880.1,293.0 880.1,285.5 880.2,296.8 880.3,297.3 880.3,302.0 880.4,287.6 880.5,280.4 880.6,305.3 880.6,271.7 880.7,261.4 880.8,299.1 880.8,292.9 880.9,300.9 881.0,269.7 881.1,254.1 881.1,285.2 881.2,309.6 881.3,262.6 881.3,308.0 881.4,282.4 881.5,284.4 881.6,291.4 881.6,294.0 881.7,299.3 881.8,295.1 881.8,273.3 881.9,282.9 882.0,294.2 882.1,300.2 882.1,301.3 882.2,295.3 882.3,279.0 882.3,281.2 882.4,285.9 882.5,295.2 882.6,297.2 882.6,290.8 882.7,279.3 882.8,305.3 882.9,302.9 882.9,287.6 883.0,304.5 883.1,274.3 883.1,271.8 883.2,295.2 883.3,279.5 883.4,302.1 883.4,303.5 883.5,287.8 883.6,263.1 883.6,272.8 883.7,226.8 883.8,230.7 883.9,282.7 883.9,286.3 884.0,301.6 884.1,287.2 884.1,292.4 884.2,281.2 884.3,304.5 884.4,293.5 884.4,308.1 884.5,271.7 884.6,308.9 884.6,249.4 884.7,268.8 884.8,295.5 884.9,285.7 884.9,249.5 885.0,311.0 885.1,281.6 885.1,259.8 885.2,279.2 885.3,283.5 885.4,291.6 885.4,299.7 885.5,291.8 885.6,289.7 885.6,280.8 885.7,283.2 885.8,276.9 885.9,289.6 885.9,287.2 886.0,287.9 886.1,296.1 886.2,296.4 886.2,305.5 886.3,303.6 886.4,305.2 886.4,286.5 886.5,308.2 886.6,287.6 886.7,305.9 886.7,301.5 886.8,290.1 886.9,291.1 886.9,279.6 887.0,285.9 887.1,297.5 887.2,292.9 887.2,278.8 887.3,289.7 887.4,274.3 887.4,300.1 887.5,299.6 887.6,304.6 887.7,275.3 887.7,262.1 887.8,296.1 887.9,297.7 887.9,303.8 888.0,272.2 888.1,294.0 888.2,286.6 888.2,288.7 888.3,306.7 888.4,309.0 888.4,264.2 888.5,270.2 888.6,273.7 888.7,292.6 888.7,300.1 888.8,289.8 888.9,301.4 888.9,285.5 889.0,292.3 889.1,295.8 889.2,285.8 889.2,293.6 889.3,301.9 889.4,300.0 889.5,291.4 889.5,294.3 889.6,278.1 889.7,286.9 889.7,285.2 889.8,305.0 889.9,293.2 890.0,305.2 890.0,297.4 890.1,282.1 890.2,298.2 890.2,295.2 890.3,287.3 890.4,295.7 890.5,271.9 890.5,296.8 890.6,293.2 890.7,266.9 890.7,287.8 890.8,292.2 890.9,255.6 891.0,285.9 891.0,266.9 891.1,280.5 891.2,279.4 891.2,265.5 891.3,281.7 891.4,294.5 891.5,291.1 891.5,289.9 891.6,268.7 891.7,273.1 891.7,285.8 891.8,288.6 891.9,286.0 892.0,270.3 892.0,253.9 892.1,284.8 892.2,300.9 892.2,303.8 892.3,301.2 892.4,253.4 892.5,303.9 892.5,294.7 892.6,287.7 892.7,299.7 892.8,287.4 892.8,314.6 892.9,281.9 893.0,284.5 893.0,271.3 893.1,252.3 893.2,309.5 893.3,250.7 893.3,271.4 893.4,298.1 893.5,267.9 893.5,284.0 893.6,301.3 893.7,295.2 893.8,304.7 893.8,276.9 893.9,292.5 894.0,264.2 894.0,292.1 894.1,293.0 894.2,301.4 894.3,255.3 894.3,293.0 894.4,266.2 894.5,263.4 894.5,282.7 894.6,286.8 894.7,293.6 894.8,288.6 894.8,280.1 894.9,275.7 895.0,266.1 895.0,274.5 895.1,287.7 895.2,300.0 895.3,298.4 895.3,292.6 895.4,276.8 895.5,271.8 895.5,297.0 895.6,294.5 895.7,309.3 895.8,309.4 895.8,280.6 895.9,232.4 896.0,299.6 896.1,300.0 896.1,302.2 896.2,288.9 896.3,307.0 896.3,242.5 896.4,291.5 896.5,267.8 896.6,301.8 896.6,290.0 896.7,270.1 896.8,311.7 896.8,304.5 896.9,283.1 897.0,249.8 897.1,287.7 897.1,301.0 897.2,289.1 897.3,307.8 897.3,274.9 897.4,287.0 897.5,288.4 897.6,300.1 897.6,274.6 897.7,310.4 897.8,278.0 897.8,298.8 897.9,305.5 898.0,299.1 898.1,281.9 898.1,269.5 898.2,234.4 898.3,280.0 898.3,289.7 898.4,291.2 898.5,284.2 898.6,297.1 898.6,297.7 898.7,284.9 898.8,280.5 898.8,310.7 898.9,288.9 899.0,294.5 899.1,288.7 899.1,260.7 899.2,248.9 899.3,281.1 899.4,265.6 899.4,272.3 899.5,311.1 899.6,284.5 899.6,310.1 899.7,312.5 899.8,292.0 899.9,294.1 899.9,268.3 900.0,293.1 900.1,307.0 900.1,293.4 900.2,300.0 900.3,304.3 900.4,277.6 900.4,291.7 900.5,263.3 900.6,286.2 900.6,256.5 900.7,298.4 900.8,297.5 900.9,297.5 900.9,289.4 901.0,264.5 901.1,283.2 901.1,304.6 901.2,285.8 901.3,310.4 901.4,291.8 901.4,297.7 901.5,258.2 901.6,280.6 901.6,268.7 901.7,289.2 901.8,273.3 901.9,295.6 901.9,283.2 902.0,286.1 902.1,286.1 902.2,288.6 902.2,301.5 902.3,280.4 902.4,290.6 902.4,296.4 902.5,287.7 902.6,276.6 902.7,287.5 902.7,291.3 902.8,271.8 902.9,305.3 902.9,278.4 903.0,295.2 903.1,289.4 903.2,288.2 903.2,253.5 903.3,311.7 903.4,275.9 903.4,280.7 903.5,285.9 903.6,295.7 903.7,288.5 903.7,255.9 903.8,307.4 903.9,261.9 903.9,269.6 904.0,277.3 904.1,275.7 904.2,265.1 904.2,311.4 904.3,291.8 904.4,282.3 904.4,300.8 904.5,283.7 904.6,248.0 904.7,289.3 904.7,280.0 904.8,304.1 904.9,270.1 904.9,279.0 905.0,282.0 905.1,300.4 905.2,288.5 905.2,307.8 905.3,257.6 905.4,294.7 905.5,296.2 905.5,286.3 905.6,279.2 905.7,303.4 905.7,305.4 905.8,284.3 905.9,280.4 906.0,262.2 906.0,283.8 906.1,275.7 906.2,294.3 906.2,291.5 906.3,277.6 906.4,279.9 906.5,272.0 906.5,307.3 906.6,297.8 906.7,277.1 906.7,287.9 906.8,307.4 906.9,310.9 907.0,314.3 907.0,301.4 907.1,300.1 907.2,294.3 907.2,276.3 907.3,277.7 907.4,303.1 907.5,295.9 907.5,290.6 907.6,290.8 907.7,270.8 907.7,274.3 907.8,263.2 907.9,282.9 908.0,232.7 908.0,291.4 908.1,292.1 908.2,278.2 908.2,276.6 908.3,268.8 908.4,266.2 908.5,301.1 908.5,298.1 908.6,277.3 908.7,299.0 908.8,278.0 908.8,303.6 908.9,261.3 909.0,272.8 909.0,287.5 909.1,295.1 909.2,286.6 909.3,305.8 909.3,298.4 909.4,270.7 909.5,292.2 909.5,268.3 909.6,284.2 909.7,303.4 909.8,310.1 909.8,287.7 909.9,298.0 910.0,294.4 910.0,242.1 910.1,287.1 910.2,297.8 910.3,292.6 910.3,283.7 910.4,300.9 910.5,303.8 910.5,243.2 910.6,264.5 910.7,283.9 910.8,262.3 910.8,296.8 910.9,299.0 911.0,296.8 911.0,302.8 911.1,301.1 911.2,286.4 911.3,286.4 911.3,291.0 911.4,293.4 911.5,271.1 911.5,272.5 911.6,278.4 911.7,265.2 911.8,280.9 911.8,288.4 911.9,279.9 912.0,272.1 912.1,247.2 912.1,290.7 912.2,288.7 912.3,303.1 912.3,297.1 912.4,303.9 912.5,293.4 912.6,292.1 912.6,272.1 912.7,289.7 912.8,295.0 912.8,298.5 912.9,302.9 913.0,262.0 913.1,273.1 913.1,302.5 913.2,289.1 913.3,300.5 913.3,284.7 913.4,277.8 913.5,292.6 913.6,307.9 913.6,301.2 913.7,299.9 913.8,248.0 913.8,262.6 913.9,279.8 914.0,298.9 914.1,297.5 914.1,298.7 914.2,276.2 914.3,308.2 914.3,273.8 914.4,304.6 914.5,270.5 914.6,279.9 914.6,288.1 914.7,287.9 914.8,293.9 914.8,238.1 914.9,293.8 915.0,289.0 915.1,286.0 915.1,294.4 915.2,264.6 915.3,299.6 915.4,298.3 915.4,307.1 915.5,283.1 915.6,294.2 915.6,286.7 915.7,275.3 915.8,298.0 915.9,299.8 915.9,296.7 916.0,256.7 916.1,310.6 916.1,305.3 916.2,270.2 916.3,279.0 916.4,268.5 916.4,284.4 916.5,289.3 916.6,303.6 916.6,290.3 916.7,290.4 916.8,302.3 916.9,268.7 916.9,263.1 917.0,305.4 917.1,276.1 917.1,278.9 917.2,270.1 917.3,290.0 917.4,288.9 917.4,262.7 917.5,300.3 917.6,273.7 917.6,302.8 917.7,278.3 917.8,290.2 917.9,280.3 917.9,299.7 918.0,289.4 918.1,282.9 918.1,262.2 918.2,282.4 918.3,292.6 918.4,298.1 918.4,265.1 918.5,262.3 918.6,261.8 918.7,253.7 918.7,275.5 918.8,261.3 918.9,268.5 918.9,273.5 919.0,309.6 919.1,292.7 919.2,311.9 919.2,298.9 919.3,285.9 919.4,306.7 919.4,294.0 919.5,296.5 919.6,300.7 919.7,287.9 919.7,301.2 919.8,300.2 919.9,279.0 919.9,288.7 920.0,287.6 920.1,281.8 920.2,283.6 920.2,263.7 920.3,284.6 920.4,311.7 920.4,295.6 920.5,287.3 920.6,276.7 920.7,283.7 920.7,289.2 920.8,268.7 920.9,248.7 920.9,262.0 921.0,291.7 921.1,280.7 921.2,279.0 921.2,290.0 921.3,273.7 921.4,296.6 921.4,281.1 921.5,275.0 921.6,282.1 921.7,295.6 921.7,297.5 921.8,255.3 921.9,301.4 922.0,285.9 922.0,290.2 922.1,305.4 922.2,290.3 922.2,268.9 922.3,299.9 922.4,297.9 922.5,279.3 922.5,279.3 922.6,284.5 922.7,296.1 922.7,296.6 922.8,299.7 922.9,279.4 923.0,276.4 923.0,289.8 923.1,302.3 923.2,289.1 923.2,284.2 923.3,274.3 923.4,287.7 923.5,302.1 923.5,297.0 923.6,234.9 923.7,271.1 923.7,245.7 923.8,278.3 923.9,300.3 924.0,299.4 924.0,284.7 924.1,288.9 924.2,289.6 924.2,278.4 924.3,307.6 924.4,263.7 924.5,292.7 924.5,269.6 924.6,292.3 924.7,271.0 924.7,252.2 924.8,302.2 924.9,291.1 925.0,278.9 925.0,255.8 925.1,274.2 925.2,206.2 925.3,283.2 925.3,285.2 925.4,256.0 925.5,306.8 925.5,288.7 925.6,290.1 925.7,274.9 925.8,267.4 925.8,271.5 925.9,273.9 926.0,271.0 926.0,304.1 926.1,293.7 926.2,277.6 926.3,276.9 926.3,302.2 926.4,299.0 926.5,276.2 926.5,297.8 926.6,271.4 926.7,248.5 926.8,285.4 926.8,278.4 926.9,281.9 927.0,268.2 927.0,251.2 927.1,279.2 927.2,315.4 927.3,290.1 927.3,299.6 927.4,289.6 927.5,294.3 927.5,271.8 927.6,268.7 927.7,292.6 927.8,287.2 927.8,275.3 927.9,296.0 928.0,277.3 928.1,282.9 928.1,273.9 928.2,304.9 928.3,280.4 928.3,300.1 928.4,283.3 928.5,289.5 928.6,282.2 928.6,283.9 928.7,269.5 928.8,288.1 928.8,264.2 928.9,294.7 929.0,282.2 929.1,284.2 929.1,288.5 929.2,290.9 929.3,280.1 929.3,286.8 929.4,274.5 929.5,290.0 929.6,246.5 929.6,254.9 929.7,293.9 929.8,277.2 929.8,297.4 929.9,266.1 930.0,287.4 930.1,283.9 930.1,279.2 930.2,313.0 930.3,280.8 930.3,256.9 930.4,314.5 930.5,281.0 930.6,293.5 930.6,264.9 930.7,302.8 930.8,288.2 930.8,300.1 930.9,292.5 931.0,304.1 931.1,286.4 931.1,293.7 931.2,256.2 931.3,284.6 931.4,292.7 931.4,300.4 931.5,298.1 931.6,291.2 931.6,276.2 931.7,249.0 931.8,288.9 931.9,274.4 931.9,307.1 932.0,251.9 932.1,286.1 932.1,306.4 932.2,304.0 932.3,293.2 932.4,269.9 932.4,227.1 932.5,288.1 932.6,298.8 932.6,281.2 932.7,280.2 932.8,301.9 932.9,286.6 932.9,285.2 933.0,292.1 933.1,267.5 933.1,293.0 933.2,298.5 933.3,297.2 933.4,306.6 933.4,307.6 933.5,309.6 933.6,300.1 933.6,284.8 933.7,267.3 933.8,301.0 933.9,298.9 933.9,290.5 934.0,282.4 934.1,269.7 934.1,285.5 934.2,299.1 934.3,273.7 934.4,309.6 934.4,271.8 934.5,265.5 934.6,292.1 934.7,299.9 934.7,298.4 934.8,304.5 934.9,278.8 934.9,288.6 935.0,311.0 935.1,300.5 935.2,287.3 935.2,248.9 935.3,279.9 935.4,276.4 935.4,278.5 935.5,279.3 935.6,299.7 935.7,275.8 935.7,292.7 935.8,228.3 935.9,304.0 935.9,281.5 936.0,294.8 936.1,295.3 936.2,290.1 936.2,288.4 936.3,273.7 936.4,292.9 936.4,295.6 936.5,262.0 936.6,281.3 936.7,304.3 936.7,295.1 936.8,284.9 936.9,276.8 936.9,284.0 937.0,286.4 937.1,294.2 937.2,278.7 937.2,308.0 937.3,291.8 937.4,289.1 937.4,303.9 937.5,279.2 937.6,284.7 937.7,310.0 937.7,265.1 937.8,305.7 937.9,302.3 938.0,283.3 938.0,308.1 938.1,290.3 938.2,299.6 938.2,291.0 938.3,297.5 938.4,288.4 938.5,305.6 938.5,297.9 938.6,269.9 938.7,279.6 938.7,294.2 938.8,296.1 938.9,300.2 939.0,290.9 939.0,281.2 939.1,277.3 939.2,272.9 939.2,226.5 939.3,290.8 939.4,285.4 939.5,301.6 939.5,285.3 939.6,303.0 939.7,270.4 939.7,271.5 939.8,292.5 939.9,283.1 940.0,290.5 940.0,295.5 940.1,295.5 940.2,287.9 940.2,295.6 940.3,285.3 940.4,268.1 940.5,289.8 940.5,297.2 940.6,288.6 940.7,294.9 940.7,285.7 940.8,243.3 940.9,291.8 941.0,289.8 941.0,293.8 941.1,302.7 941.2,282.2 941.3,280.1 941.3,297.9 941.4,278.7 941.5,296.0 941.5,286.1 941.6,305.5 941.7,298.7 941.8,294.6 941.8,280.0 941.9,288.8 942.0,292.0 942.0,290.9 942.1,288.4 942.2,312.9 942.3,296.5 942.3,293.9 942.4,266.5 942.5,290.0 942.5,288.8 942.6,279.8 942.7,305.2 942.8,275.6 942.8,249.1 942.9,301.9 943.0,288.6 943.0,303.0 943.1,279.9 943.2,280.6 943.3,289.9 943.3,286.4 943.4,281.9 943.5,295.1 943.5,262.1 943.6,296.1 943.7,289.4 943.8,246.8 943.8,288.9 943.9,273.0 944.0,261.5 944.0,272.1 944.1,270.2 944.2,314.9 944.3,306.6 944.3,281.7 944.4,283.1 944.5,297.1 944.6,286.4 944.6,305.9 944.7,289.7 944.8,296.0 944.8,302.9 944.9,306.5 945.0,298.9 945.1,282.5 945.1,303.1 945.2,277.3 945.3,306.0 945.3,288.3 945.4,289.7 945.5,305.7 945.6,303.0 945.6,281.9 945.7,275.3 945.8,268.2 945.8,278.0 945.9,299.1 946.0,301.7 946.1,268.8 946.1,286.1 946.2,272.5 946.3,296.8 946.3,285.0 946.4,293.9 946.5,313.1 946.6,276.5 946.6,297.9 946.7,250.5 946.8,288.5 946.8,287.2 946.9,275.9 947.0,292.1 947.1,295.6 947.1,302.8 947.2,294.2 947.3,293.6 947.3,276.7 947.4,296.4 947.5,292.8 947.6,287.5 947.6,295.8 947.7,284.0 947.8,299.8 947.9,285.0 947.9,285.9 948.0,289.2 948.1,293.9 948.1,288.0 948.2,284.7 948.3,294.0 948.4,293.6 948.4,274.0 948.5,289.9 948.6,271.6 948.6,283.8 948.7,295.4 948.8,281.5 948.9,299.4 948.9,304.7 949.0,306.0 949.1,289.2 949.1,301.0 949.2,311.3 949.3,287.9 949.4,296.2 949.4,265.4 949.5,295.9 949.6,269.7 949.6,301.4 949.7,280.7 949.8,292.0 949.9,254.1 949.9,297.2 950.0,273.6 950.1,289.7 950.1,297.6 950.2,294.5 950.3,303.1 950.4,287.4 950.4,296.0 950.5,301.8 950.6,265.1 950.6,301.6 950.7,296.7 950.8,290.4 950.9,245.6 950.9,301.6 951.0,303.8 951.1,270.1 951.2,296.3 951.2,302.2 951.3,286.1 951.4,300.1 951.4,297.1 951.5,295.0 951.6,305.1 951.7,295.2 951.7,303.2 951.8,282.3 951.9,297.9 951.9,304.4 952.0,313.6 952.1,266.0 952.2,275.8 952.2,282.1 952.3,290.8 952.4,316.4 952.4,282.7 952.5,301.1 952.6,282.2 952.7,308.2 952.7,298.0 952.8,245.5 952.9,263.0 952.9,305.0 953.0,305.0 953.1,290.0 953.2,284.1 953.2,271.2 953.3,270.4 953.4,256.5 953.4,254.3 953.5,310.5 953.6,286.9 953.7,292.3 953.7,303.0 953.8,273.1 953.9,288.0 953.9,271.0 954.0,286.5 954.1,289.6 954.2,307.9 954.2,251.0 954.3,274.2 954.4,291.7 954.5,283.5 954.5,300.4 954.6,271.3 954.7,272.9 954.7,304.1 954.8,299.7 954.9,292.0 955.0,302.5 955.0,305.4 955.1,285.6 955.2,297.6 955.2,299.6 955.3,294.0 955.4,300.0 955.5,295.3 955.5,276.9 955.6,277.4 955.7,289.2 955.7,292.3 955.8,288.4 955.9,287.0 956.0,283.6 956.0,286.2 956.1,295.3 956.2,291.8 956.2,294.5 956.3,274.6 956.4,287.2 956.5,278.2 956.5,299.6 956.6,288.4 956.7,286.5 956.7,305.2 956.8,291.1 956.9,278.7 957.0,267.7 957.0,293.9 957.1,296.0 957.2,305.1 957.3,310.5 957.3,311.1 957.4,285.3 957.5,295.1 957.5,295.4 957.6,284.4 957.7,277.1 957.8,268.4 957.8,273.6 957.9,288.7 958.0,313.3 958.0,290.8 958.1,300.7 958.2,300.1 958.3,289.6 958.3,287.1 958.4,267.4 958.5,291.1 958.5,290.8 958.6,293.5 958.7,314.9 958.8,302.7 958.8,255.9 958.9,275.0 959.0,282.3 959.0,288.7 959.1,264.2 959.2,284.5 959.3,245.8 959.3,289.9 959.4,282.1 959.5,296.6 959.5,254.1 959.6,282.4 959.7,292.2 959.8,295.8 959.8,295.1 959.9,288.5 960.0,296.5 960.0,288.1 960.1,297.4 960.2,278.0 960.3,286.3 960.3,289.5 960.4,274.2 960.5,289.8 960.6,293.9 960.6,288.6 960.7,296.6 960.8,272.6 960.8,301.4 960.9,308.7 961.0,292.7 961.1,277.0 961.1,295.9 961.2,277.8 961.3,254.6 961.3,298.0 961.4,294.8 961.5,253.4 961.6,303.7 961.6,306.9 961.7,289.8 961.8,267.4 961.8,292.5 961.9,293.1 962.0,289.0 962.1,279.2 962.1,301.2 962.2,291.2 962.3,296.7 962.3,292.6 962.4,294.7 962.5,306.3 962.6,285.7 962.6,308.7 962.7,300.8 962.8,291.6 962.8,278.5 962.9,295.4 963.0,282.0 963.1,272.4 963.1,292.5 963.2,282.0 963.3,262.7 963.3,284.1 963.4,286.8 963.5,294.7 963.6,277.3 963.6,285.5 963.7,295.6 963.8,294.8 963.9,270.9 963.9,285.2 964.0,275.7 964.1,285.1 964.1,301.7 964.2,286.2 964.3,283.6 964.4,303.3 964.4,295.5 964.5,304.5 964.6,290.1 964.6,307.0 964.7,304.7 964.8,277.9 964.9,289.7 964.9,287.0 965.0,300.1 965.1,288.9 965.1,274.6 965.2,280.1 965.3,267.9 965.4,306.0 965.4,269.6 965.5,294.7 965.6,290.0 965.6,306.5 965.7,272.1 965.8,290.8 965.9,265.0 965.9,303.2 966.0,277.9 966.1,295.6 966.1,293.7 966.2,285.2 966.3,301.2 966.4,293.6 966.4,275.0 966.5,292.0 966.6,288.8 966.6,304.4 966.7,287.5 966.8,306.0 966.9,304.2 966.9,265.9 967.0,293.8 967.1,296.6 967.2,297.8 967.2,312.9 967.3,299.1 967.4,268.0 967.4,304.6 967.5,301.3 967.6,286.6 967.7,299.1 967.7,262.0 967.8,292.9 967.9,292.1 967.9,295.0 968.0,301.4 968.1,283.3 968.2,280.3 968.2,272.4 968.3,306.0 968.4,280.0 968.4,299.9 968.5,283.5 968.6,266.9 968.7,301.6 968.7,297.1 968.8,292.6 968.9,275.8 968.9,274.8 969.0,299.7 969.1,279.3 969.2,270.0 969.2,276.8 969.3,282.3 969.4,292.8 969.4,293.6 969.5,285.0 969.6,276.3 969.7,268.7 969.7,289.6 969.8,310.8 969.9,271.5 969.9,254.7 970.0,303.8 970.1,226.1 970.2,283.0 970.2,292.4 970.3,289.3 970.4,299.2 970.5,298.1 970.5,284.2 970.6,287.0 970.7,299.7 970.7,308.5 970.8,277.6 970.9,270.5 971.0,304.2 971.0,281.8 971.1,279.9 971.2,298.3 971.2,282.8 971.3,307.7 971.4,312.1 971.5,261.8 971.5,281.9 971.6,294.6 971.7,278.9 971.7,299.0 971.8,294.8 971.9,303.4 972.0,283.9 972.0,270.1 972.1,292.5 972.2,301.4 972.2,276.0 972.3,294.5 972.4,278.0 972.5,289.0 972.5,287.5 972.6,281.6 972.7,267.4 972.7,250.2 972.8,279.2 972.9,272.5 973.0,274.2 973.0,286.5 973.1,292.6 973.2,301.7 973.2,284.4 973.3,301.3 973.4,297.4 973.5,275.9 973.5,267.4 973.6,277.0 973.7,298.8 973.8,295.7 973.8,279.5 973.9,274.6 974.0,268.4 974.0,291.3 974.1,302.1 974.2,263.5 974.3,278.7 974.3,296.6 974.4,290.3 974.5,279.9 974.5,304.9 974.6,252.6 974.7,306.6 974.8,306.0 974.8,273.1 974.9,272.5 975.0,303.6 975.0,289.0 975.1,281.6 975.2,310.7 975.3,292.1 975.3,247.2 975.4,279.6 975.5,273.6 975.5,285.1 975.6,302.7 975.7,281.8 975.8,308.5 975.8,244.3 975.9,294.9 976.0,235.6 976.0,298.3 976.1,294.4 976.2,299.3 976.3,288.4 976.3,288.6 976.4,276.8 976.5,296.7 976.5,284.0 976.6,290.8 976.7,270.6 976.8,289.3 976.8,291.4 976.9,274.5 977.0,290.3 977.1,285.7 977.1,287.1 977.2,300.4 977.3,292.0 977.3,295.5 977.4,260.0 977.5,276.0 977.6,293.9 977.6,291.2 977.7,287.3 977.8,299.9 977.8,283.0 977.9,294.7 978.0,276.0 978.1,314.1 978.1,280.8 978.2,281.9 978.3,287.6 978.3,293.2 978.4,261.5 978.5,272.6 978.6,284.8 978.6,302.8 978.7,292.5 978.8,298.2 978.8,282.4 978.9,269.0 979.0,297.9 979.1,287.9 979.1,259.9 979.2,305.2 979.3,300.4 979.3,287.4 979.4,289.3 979.5,300.9 979.6,304.6 979.6,297.8 979.7,286.8 979.8,278.0 979.8,304.6 979.9,286.5 980.0,294.9 980.1,298.9 980.1,273.5 980.2,295.8 980.3,289.8 980.4,307.1 980.4,309.1 980.5,278.3 980.6,286.7 980.6,298.2 980.7,274.3 980.8,295.1 980.9,291.9 980.9,300.5 981.0,294.6 981.1,257.4 981.1,299.3 981.2,298.6 981.3,297.2 981.4,299.7 981.4,282.8 981.5,289.2 981.6,302.0 981.6,298.1 981.7,277.9 981.8,297.7 981.9,253.1 981.9,291.4 982.0,262.8 982.1,254.6 982.1,270.4 982.2,288.2 982.3,288.8 982.4,300.5 982.4,280.6 982.5,248.8 982.6,235.0 982.6,272.7 982.7,280.8 982.8,293.9 982.9,280.2 982.9,269.6 983.0,301.1 983.1,308.3 983.1,302.4 983.2,273.7 983.3,272.3 983.4,303.8 983.4,298.0 983.5,297.5 983.6,303.1 983.7,293.7 983.7,278.1 983.8,286.0 983.9,294.7 983.9,304.0 984.0,267.5 984.1,293.0 984.2,294.3 984.2,282.5 984.3,284.4 984.4,303.2 984.4,304.4 984.5,246.3 984.6,259.8 984.7,263.4 984.7,258.7 984.8,270.3 984.9,270.5 984.9,289.1 985.0,281.7 985.1,269.7 985.2,282.7 985.2,293.5 985.3,276.8 985.4,284.7 985.4,290.3 985.5,309.3 985.6,280.2 985.7,251.3 985.7,272.0 985.8,284.3 985.9,273.5 985.9,302.3 986.0,286.3 986.1,274.3 986.2,284.1 986.2,256.0 986.3,277.2 986.4,299.1 986.5,266.3 986.5,292.2 986.6,272.2 986.7,258.7 986.7,299.4 986.8,301.1 986.9,267.2 987.0,278.9 987.0,300.8 987.1,283.4 987.2,297.0 987.2,259.8 987.3,288.4 987.4,266.1 987.5,285.5 987.5,307.9 987.6,311.8 987.7,284.0 987.7,282.2 987.8,290.3 987.9,262.4 988.0,297.0 988.0,288.5 988.1,294.9 988.2,294.1 988.2,269.1 988.3,305.5 988.4,308.2 988.5,281.6 988.5,303.0 988.6,291.8 988.7,261.4 988.7,259.3 988.8,299.0 988.9,282.3 989.0,297.4 989.0,304.2 989.1,298.5 989.2,290.2 989.2,306.6 989.3,289.2 989.4,288.9 989.5,306.3 989.5,302.0 989.6,315.7 989.7,269.6 989.8,271.6 989.8,290.9 989.9,259.5 990.0,299.9 990.0,304.0 990.1,306.8 990.2,307.9 990.3,289.2 990.3,283.7 990.4,290.6 990.5,288.8 990.5,282.6 990.6,310.3 990.7,277.0 990.8,251.4 990.8,272.5 990.9,271.7 991.0,299.7 991.0,280.5 991.1,276.7 991.2,305.1 991.3,285.3 991.3,281.9 991.4,289.1 991.5,301.8 991.5,299.2 991.6,293.8 991.7,315.8 991.8,295.4 991.8,264.8 991.9,288.6 992.0,275.1 992.0,313.6 992.1,284.7 992.2,295.8 992.3,288.9 992.3,303.5 992.4,298.1 992.5,297.2 992.5,276.8 992.6,278.4 992.7,281.9 992.8,297.7 992.8,314.7 992.9,295.0 993.0,281.2 993.1,285.0 993.1,281.6 993.2,293.4 993.3,275.2 993.3,288.9 993.4,302.9 993.5,272.8 993.6,303.0 993.6,297.7 993.7,310.1 993.8,269.2 993.8,291.1 993.9,274.4 994.0,279.1 994.1,307.9 994.1,286.6 994.2,299.2 994.3,314.7 994.3,290.6 994.4,305.8 994.5,283.5 994.6,279.3 994.6,284.3 994.7,280.3 994.8,290.9 994.8,280.5 994.9,301.3 995.0,307.5 995.1,276.4 995.1,294.6 995.2,280.6 995.3,299.4 995.3,286.9 995.4,269.8 995.5,295.7 995.6,250.7 995.6,293.1 995.7,283.9 995.8,282.3 995.8,299.4 995.9,306.5 996.0,303.1 996.1,295.2 996.1,275.3 996.2,311.2 996.3,285.5 996.4,296.6 996.4,263.8 996.5,293.5 996.6,294.4 996.6,254.9 996.7,303.6 996.8,294.5 996.9,276.6 996.9,292.1 997.0,284.9 997.1,273.8 997.1,280.0 997.2,309.9 997.3,261.0 997.4,271.2 997.4,296.1 997.5,271.0 997.6,262.5 997.6,275.4 997.7,291.2 997.8,279.1 997.9,266.9 997.9,275.1 998.0,289.3 998.1,280.1 998.1,276.1 998.2,293.0 998.3,282.0 998.4,251.8 998.4,272.8 998.5,249.0 998.6,270.8 998.6,303.1 998.7,274.6 998.8,238.1 998.9,259.9 998.9,301.4 999.0,301.9 999.1,311.2 999.1,296.9 999.2,286.1 999.3,295.5 999.4,284.7 999.4,265.2 999.5,275.2 999.6,279.4 999.7,296.7 999.7,304.5 999.8,280.4 999.9,293.5 999.9,277.2 1000.0,297.3 1000.1,277.6 1000.2,287.4 1000.2,292.5 1000.3,308.1 1000.4,299.7 1000.4,298.9 1000.5,300.3 1000.6,279.5 1000.7,287.0 1000.7,272.0 1000.8,294.5 1000.9,302.2 1000.9,300.7 1001.0,285.2 1001.1,304.1 1001.2,305.9 1001.2,258.5 1001.3,293.0 1001.4,285.0 1001.4,303.6 1001.5,249.1 1001.6,268.1 1001.7,265.9 1001.7,292.3 1001.8,301.1 1001.9,300.2 1001.9,294.3 1002.0,293.8 1002.1,308.3 1002.2,301.3 1002.2,271.9 1002.3,281.7 1002.4,238.6 1002.4,303.3 1002.5,286.2 1002.6,300.1 1002.7,293.2 1002.7,295.8 1002.8,265.0 1002.9,253.0 1003.0,288.4 1003.0,289.0 1003.1,291.7 1003.2,293.1 1003.2,309.8 1003.3,289.4 1003.4,266.6 1003.5,282.1 1003.5,265.9 1003.6,297.3 1003.7,285.9 1003.7,292.6 1003.8,292.1 1003.9,292.6 1004.0,255.9 1004.0,261.1 1004.1,287.4 1004.2,275.6 1004.2,283.8 1004.3,290.3 1004.4,256.7 1004.5,289.7 1004.5,290.3 1004.6,291.9 1004.7,288.6 1004.7,291.0 1004.8,271.8 1004.9,273.1 1005.0,304.7 1005.0,307.7 1005.1,282.8 1005.2,301.6 1005.2,291.2 1005.3,300.1 1005.4,259.9 1005.5,289.6 1005.5,309.0 1005.6,288.3 1005.7,285.1 1005.7,311.6 1005.8,293.3 1005.9,270.0 1006.0,282.1 1006.0,259.7 1006.1,266.7 1006.2,295.1 1006.3,283.0 1006.3,250.8 1006.4,288.3 1006.5,284.2 1006.5,281.4 1006.6,302.6 1006.7,293.6 1006.8,287.5 1006.8,297.1 1006.9,291.6 1007.0,274.3 1007.0,289.6 1007.1,298.1 1007.2,281.0 1007.3,288.4 1007.3,257.2 1007.4,282.6 1007.5,296.5 1007.5,301.0 1007.6,281.0 1007.7,236.8 1007.8,304.0 1007.8,290.1 1007.9,300.6 1008.0,272.5 1008.0,287.9 1008.1,287.7 1008.2,294.5 1008.3,282.8 1008.3,286.9 1008.4,280.3 1008.5,295.2 1008.5,302.1 1008.6,298.3 1008.7,278.8 1008.8,296.5 1008.8,297.1 1008.9,278.4 1009.0,312.5 1009.0,302.0 1009.1,295.6 1009.2,309.1 1009.3,273.2 1009.3,299.8 1009.4,284.8 1009.5,277.9 1009.6,291.1 1009.6,303.3 1009.7,291.9 1009.8,297.1 1009.8,296.6 1009.9,297.8 1010.0,272.8 1010.1,265.0 1010.1,276.7 1010.2,295.9 1010.3,262.8 1010.3,298.5 1010.4,286.3 1010.5,288.9 1010.6,265.0 1010.6,284.6 1010.7,295.0 1010.8,279.0 1010.8,281.4 1010.9,269.8 1011.0,281.4 1011.1,289.0 1011.1,297.4 1011.2,272.4 1011.3,294.5 1011.3,298.9 1011.4,277.6 1011.5,297.8 1011.6,275.3 1011.6,303.5 1011.7,290.3 1011.8,277.3 1011.8,279.6 1011.9,273.2 1012.0,295.1 1012.1,275.5 1012.1,271.7 1012.2,294.5 1012.3,266.8 1012.3,285.7 1012.4,282.1 1012.5,301.0 1012.6,300.7 1012.6,292.0 1012.7,299.2 1012.8,277.6 1012.9,293.8 1012.9,277.4 1013.0,285.5 1013.1,291.5 1013.1,282.4 1013.2,309.5 1013.3,274.5 1013.4,296.2 1013.4,275.5 1013.5,307.1 1013.6,285.4 1013.6,271.1 1013.7,280.1 1013.8,310.7 1013.9,291.2 1013.9,266.3 1014.0,264.3" fill="none" stroke="#0072bd" stroke-width="0.5" stroke-linejoin="round"/></g>
<path d="M641.0,47.5H1014.0V319.5H641.0ZM645.37,319.5v-4M645.37,47.5v4M718.22,319.5v-4M718.22,47.5v4M791.07,319.5v-4M791.07,47.5v4M863.93,319.5v-4M863.93,47.5v4M936.78,319.5v-4M936.78,47.5v4M1009.63,319.5v-4M1009.63,47.5v4M641.0,228.83h4M1014.0,228.83h-4M641.0,138.17h4M1014.0,138.17h-4" fill="none" stroke="#bdbdbd" stroke-width="1"/>
<text transform="translate(604.62,53.80) scale(0.9531,1)" font-size="30.5" fill="#262626">30</text>
<text transform="translate(604.77,144.47) scale(0.9480,1)" font-size="30.5" fill="#262626">20</text>
<text transform="translate(604.44,235.13) scale(0.9593,1)" font-size="30.5" fill="#262626">10</text>
<text transform="translate(618.45,325.80) scale(1.0029,1)" font-size="30.5" fill="#262626">0</text>
<text transform="translate(618.36,353.20) scale(0.9309,1)" font-size="30.5" fill="#262626">-500</text>
<text transform="translate(691.78,353.20) scale(0.9104,1)" font-size="30.5" fill="#262626">-300</text>
<text transform="translate(764.69,353.20) scale(0.9085,1)" font-size="30.5" fill="#262626">-100</text>
<text transform="translate(841.10,353.20) scale(0.9657,1)" font-size="30.5" fill="#262626">100</text>
<text transform="translate(914.63,353.20) scale(0.9616,1)" font-size="30.5" fill="#262626">300</text>
<text transform="translate(987.72,353.20) scale(0.9451,1)" font-size="30.5" fill="#262626">500</text>
<text transform="translate(705.58,387.10) scale(1.0788,1)" font-size="31" fill="#262626">Frequency (MHz)</text>
<text transform="translate(593.80,259.35) rotate(-90) scale(1.0787,1)" font-size="32" fill="#262626">Amplitude</text>
<text transform="translate(809.70,424.50) scale(1.0216,1)" font-size="30" fill="#111">(b)</text>
<g><rect x="98" y="451" width="2.4" height="272" fill="url(#c0)"/><rect x="100" y="451" width="2.4" height="272" fill="url(#c1)"/><rect x="102" y="451" width="2.4" height="272" fill="url(#c2)"/><rect x="104" y="451" width="2.4" height="272" fill="url(#c3)"/><rect x="106" y="451" width="2.4" height="272" fill="url(#c4)"/><rect x="108" y="451" width="2.4" height="272" fill="url(#c5)"/><rect x="110" y="451" width="2.4" height="272" fill="url(#c6)"/><rect x="112" y="451" width="2.4" height="272" fill="url(#c7)"/><rect x="114" y="451" width="2.4" height="272" fill="url(#c8)"/><rect x="116" y="451" width="2.4" height="272" fill="url(#c9)"/><rect x="118" y="451" width="2.4" height="272" fill="url(#c10)"/><rect x="120" y="451" width="2.4" height="272" fill="url(#c11)"/><rect x="122" y="451" width="2.4" height="272" fill="url(#c12)"/><rect x="124" y="451" width="2.4" height="272" fill="url(#c13)"/><rect x="126" y="451" width="2.4" height="272" fill="url(#c14)"/><rect x="128" y="451" width="2.4" height="272" fill="url(#c15)"/><rect x="130" y="451" width="2.4" height="272" fill="url(#c16)"/><rect x="132" y="451" width="2.4" height="272" fill="url(#c17)"/><rect x="134" y="451" width="2.4" height="272" fill="url(#c18)"/><rect x="136" y="451" width="2.4" height="272" fill="url(#c19)"/><rect x="138" y="451" width="2.4" height="272" fill="url(#c20)"/><rect x="140" y="451" width="2.4" height="272" fill="url(#c21)"/><rect x="142" y="451" width="2.4" height="272" fill="url(#c22)"/><rect x="144" y="451" width="2.4" height="272" fill="url(#c23)"/><rect x="146" y="451" width="2.4" height="272" fill="url(#c24)"/><rect x="148" y="451" width="2.4" height="272" fill="url(#c25)"/><rect x="150" y="451" width="2.4" height="272" fill="url(#c26)"/><rect x="152" y="451" width="2.4" height="272" fill="url(#c27)"/><rect x="154" y="451" width="2.4" height="272" fill="url(#c28)"/><rect x="156" y="451" width="2.4" height="272" fill="url(#c29)"/><rect x="158" y="451" width="2.4" height="272" fill="url(#c30)"/><rect x="160" y="451" width="2.4" height="272" fill="url(#c31)"/><rect x="162" y="451" width="2.4" height="272" fill="url(#c32)"/><rect x="164" y="451" width="2.4" height="272" fill="url(#c33)"/><rect x="166" y="451" width="2.4" height="272" fill="url(#c34)"/><rect x="168" y="451" width="2.4" height="272" fill="url(#c35)"/><rect x="170" y="451" width="2.4" height="272" fill="url(#c36)"/><rect x="172" y="451" width="2.4" height="272" fill="url(#c37)"/><rect x="174" y="451" width="2.4" height="272" fill="url(#c38)"/><rect x="176" y="451" width="2.4" height="272" fill="url(#c39)"/><rect x="178" y="451" width="2.4" height="272" fill="url(#c40)"/><rect x="180" y="451" width="2.4" height="272" fill="url(#c41)"/><rect x="182" y="451" width="2.4" height="272" fill="url(#c42)"/><rect x="184" y="451" width="2.4" height="272" fill="url(#c43)"/><rect x="186" y="451" width="2.4" height="272" fill="url(#c44)"/><rect x="188" y="451" width="2.4" height="272" fill="url(#c45)"/><rect x="190" y="451" width="2.4" height="272" fill="url(#c46)"/><rect x="192" y="451" width="2.4" height="272" fill="url(#c47)"/><rect x="194" y="451" width="2.4" height="272" fill="url(#c48)"/><rect x="196" y="451" width="2.4" height="272" fill="url(#c49)"/><rect x="198" y="451" width="2.4" height="272" fill="url(#c50)"/><rect x="200" y="451" width="2.4" height="272" fill="url(#c51)"/><rect x="202" y="451" width="2.4" height="272" fill="url(#c52)"/><rect x="204" y="451" width="2.4" height="272" fill="url(#c53)"/><rect x="206" y="451" width="2.4" height="272" fill="url(#c54)"/><rect x="208" y="451" width="2.4" height="272" fill="url(#c55)"/><rect x="210" y="451" width="2.4" height="272" fill="url(#c56)"/><rect x="212" y="451" width="2.4" height="272" fill="url(#c57)"/><rect x="214" y="451" width="2.4" height="272" fill="url(#c58)"/><rect x="216" y="451" width="2.4" height="272" fill="url(#c59)"/><rect x="218" y="451" width="2.4" height="272" fill="url(#c60)"/><rect x="220" y="451" width="2.4" height="272" fill="url(#c61)"/><rect x="222" y="451" width="2.4" height="272" fill="url(#c62)"/><rect x="224" y="451" width="2.4" height="272" fill="url(#c63)"/><rect x="226" y="451" width="2.4" height="272" fill="url(#c64)"/><rect x="228" y="451" width="2.4" height="272" fill="url(#c65)"/><rect x="230" y="451" width="2.4" height="272" fill="url(#c66)"/><rect x="232" y="451" width="2.4" height="272" fill="url(#c67)"/><rect x="234" y="451" width="2.4" height="272" fill="url(#c68)"/><rect x="236" y="451" width="2.4" height="272" fill="url(#c69)"/><rect x="238" y="451" width="2.4" height="272" fill="url(#c70)"/><rect x="240" y="451" width="2.4" height="272" fill="url(#c71)"/><rect x="242" y="451" width="2.4" height="272" fill="url(#c72)"/><rect x="244" y="451" width="2.4" height="272" fill="url(#c73)"/><rect x="246" y="451" width="2.4" height="272" fill="url(#c74)"/><rect x="248" y="451" width="2.4" height="272" fill="url(#c75)"/><rect x="250" y="451" width="2.4" height="272" fill="url(#c76)"/><rect x="252" y="451" width="2.4" height="272" fill="url(#c77)"/><rect x="254" y="451" width="2.4" height="272" fill="url(#c78)"/><rect x="256" y="451" width="2.4" height="272" fill="url(#c79)"/><rect x="258" y="451" width="2.4" height="272" fill="url(#c80)"/><rect x="260" y="451" width="2.4" height="272" fill="url(#c81)"/><rect x="262" y="451" width="2.4" height="272" fill="url(#c82)"/><rect x="264" y="451" width="2.4" height="272" fill="url(#c83)"/><rect x="266" y="451" width="2.4" height="272" fill="url(#c84)"/><rect x="268" y="451" width="2.4" height="272" fill="url(#c85)"/><rect x="270" y="451" width="2.4" height="272" fill="url(#c86)"/><rect x="272" y="451" width="2.4" height="272" fill="url(#c87)"/><rect x="274" y="451" width="2.4" height="272" fill="url(#c88)"/><rect x="276" y="451" width="2.4" height="272" fill="url(#c89)"/><rect x="278" y="451" width="2.4" height="272" fill="url(#c90)"/><rect x="280" y="451" width="2.4" height="272" fill="url(#c91)"/><rect x="282" y="451" width="2.4" height="272" fill="url(#c92)"/><rect x="284" y="451" width="2.4" height="272" fill="url(#c93)"/><rect x="286" y="451" width="2.4" height="272" fill="url(#c94)"/><rect x="288" y="451" width="2.4" height="272" fill="url(#c95)"/><rect x="290" y="451" width="2.4" height="272" fill="url(#c96)"/><rect x="292" y="451" width="2.4" height="272" fill="url(#c97)"/><rect x="294" y="451" width="2.4" height="272" fill="url(#c98)"/><rect x="296" y="451" width="2.4" height="272" fill="url(#c99)"/><rect x="298" y="451" width="2.4" height="272" fill="url(#c100)"/><rect x="300" y="451" width="2.4" height="272" fill="url(#c101)"/><rect x="302" y="451" width="2.4" height="272" fill="url(#c102)"/><rect x="304" y="451" width="2.4" height="272" fill="url(#c103)"/><rect x="306" y="451" width="2.4" height="272" fill="url(#c104)"/><rect x="308" y="451" width="2.4" height="272" fill="url(#c105)"/><rect x="310" y="451" width="2.4" height="272" fill="url(#c106)"/><rect x="312" y="451" width="2.4" height="272" fill="url(#c107)"/><rect x="314" y="451" width="2.4" height="272" fill="url(#c108)"/><rect x="316" y="451" width="2.4" height="272" fill="url(#c109)"/><rect x="318" y="451" width="2.4" height="272" fill="url(#c110)"/><rect x="320" y="451" width="2.4" height="272" fill="url(#c111)"/><rect x="322" y="451" width="2.4" height="272" fill="url(#c112)"/><rect x="324" y="451" width="2.4" height="272" fill="url(#c113)"/><rect x="326" y="451" width="2.4" height="272" fill="url(#c114)"/><rect x="328" y="451" width="2.4" height="272" fill="url(#c115)"/><rect x="330" y="451" width="2.4" height="272" fill="url(#c116)"/><rect x="332" y="451" width="2.4" height="272" fill="url(#c117)"/><rect x="334" y="451" width="2.4" height="272" fill="url(#c118)"/><rect x="336" y="451" width="2.4" height="272" fill="url(#c119)"/><rect x="338" y="451" width="2.4" height="272" fill="url(#c120)"/><rect x="340" y="451" width="2.4" height="272" fill="url(#c121)"/><rect x="342" y="451" width="2.4" height="272" fill="url(#c122)"/><rect x="344" y="451" width="2.4" height="272" fill="url(#c123)"/><rect x="346" y="451" width="2.4" height="272" fill="url(#c124)"/><rect x="348" y="451" width="2.4" height="272" fill="url(#c125)"/><rect x="350" y="451" width="2.4" height="272" fill="url(#c126)"/><rect x="352" y="451" width="2.4" height="272" fill="url(#c127)"/><rect x="354" y="451" width="2.4" height="272" fill="url(#c128)"/><rect x="356" y="451" width="2.4" height="272" fill="url(#c129)"/><rect x="358" y="451" width="2.4" height="272" fill="url(#c130)"/><rect x="360" y="451" width="2.4" height="272" fill="url(#c131)"/><rect x="362" y="451" width="2.4" height="272" fill="url(#c132)"/><rect x="364" y="451" width="2.4" height="272" fill="url(#c133)"/><rect x="366" y="451" width="2.4" height="272" fill="url(#c134)"/><rect x="368" y="451" width="2.4" height="272" fill="url(#c135)"/><rect x="370" y="451" width="2.4" height="272" fill="url(#c136)"/><rect x="372" y="451" width="2.4" height="272" fill="url(#c137)"/><rect x="374" y="451" width="2.4" height="272" fill="url(#c138)"/><rect x="376" y="451" width="2.4" height="272" fill="url(#c139)"/><rect x="378" y="451" width="2.4" height="272" fill="url(#c140)"/><rect x="380" y="451" width="2.4" height="272" fill="url(#c141)"/><rect x="382" y="451" width="2.4" height="272" fill="url(#c142)"/><rect x="384" y="451" width="2.4" height="272" fill="url(#c143)"/><rect x="386" y="451" width="2.4" height="272" fill="url(#c144)"/><rect x="388" y="451" width="2.4" height="272" fill="url(#c145)"/><rect x="390" y="451" width="2.4" height="272" fill="url(#c146)"/><rect x="392" y="451" width="2.4" height="272" fill="url(#c147)"/><rect x="394" y="451" width="2.4" height="272" fill="url(#c148)"/><rect x="396" y="451" width="2.4" height="272" fill="url(#c149)"/><rect x="398" y="451" width="2.4" height="272" fill="url(#c150)"/><rect x="400" y="451" width="2.4" height="272" fill="url(#c151)"/><rect x="402" y="451" width="2.4" height="272" fill="url(#c152)"/><rect x="404" y="451" width="2.4" height="272" fill="url(#c153)"/><rect x="406" y="451" width="2.4" height="272" fill="url(#c154)"/><rect x="408" y="451" width="2.4" height="272" fill="url(#c155)"/><rect x="410" y="451" width="2.4" height="272" fill="url(#c156)"/><rect x="412" y="451" width="2.4" height="272" fill="url(#c157)"/><rect x="414" y="451" width="2.4" height="272" fill="url(#c158)"/><rect x="416" y="451" width="2.4" height="272" fill="url(#c159)"/><rect x="418" y="451" width="2.4" height="272" fill="url(#c160)"/><rect x="420" y="451" width="2.4" height="272" fill="url(#c161)"/><rect x="422" y="451" width="2.4" height="272" fill="url(#c162)"/><rect x="424" y="451" width="2.4" height="272" fill="url(#c163)"/><rect x="426" y="451" width="2.4" height="272" fill="url(#c164)"/><rect x="428" y="451" width="2.4" height="272" fill="url(#c165)"/><rect x="430" y="451" width="2.4" height="272" fill="url(#c166)"/><rect x="432" y="451" width="2.4" height="272" fill="url(#c167)"/><rect x="434" y="451" width="2.4" height="272" fill="url(#c168)"/><rect x="436" y="451" width="2.4" height="272" fill="url(#c169)"/><rect x="438" y="451" width="2.4" height="272" fill="url(#c170)"/><rect x="440" y="451" width="2.4" height="272" fill="url(#c171)"/><rect x="442" y="451" width="2.4" height="272" fill="url(#c172)"/><rect x="444" y="451" width="2.4" height="272" fill="url(#c173)"/><rect x="446" y="451" width="2.4" height="272" fill="url(#c174)"/><rect x="448" y="451" width="2.4" height="272" fill="url(#c175)"/><rect x="450" y="451" width="2.4" height="272" fill="url(#c176)"/><rect x="452" y="451" width="2.4" height="272" fill="url(#c177)"/><rect x="454" y="451" width="2.4" height="272" fill="url(#c178)"/><rect x="456" y="451" width="2.4" height="272" fill="url(#c179)"/><rect x="458" y="451" width="2.4" height="272" fill="url(#c180)"/><rect x="460" y="451" width="2.4" height="272" fill="url(#c181)"/><rect x="462" y="451" width="2.4" height="272" fill="url(#c182)"/><rect x="464" y="451" width="2.4" height="272" fill="url(#c183)"/><rect x="466" y="451" width="2.4" height="272" fill="url(#c184)"/></g>
<rect x="98" y="630" width="370" height="93" fill="url(#mud)"/>
<g mask="url(#fadeup)"><rect x="98" y="710.1" width="1" height="12.9" fill="#c7ff37" opacity="0.17"/><rect x="100" y="706.1" width="1" height="16.9" fill="#00deff" opacity="0.15"/><rect x="101" y="718.7" width="1" height="4.3" fill="#07fff7" opacity="0.13"/><rect x="102" y="711.5" width="1" height="11.5" fill="#00ddff" opacity="0.19"/><rect x="104" y="709.0" width="1" height="14.0" fill="#5dffa1" opacity="0.21"/><rect x="106" y="713.5" width="1" height="9.5" fill="#32ffcc" opacity="0.25"/><rect x="107" y="715.1" width="1" height="7.9" fill="#00fcff" opacity="0.19"/><rect x="108" y="710.6" width="1" height="12.4" fill="#acff52" opacity="0.41"/><rect x="110" y="706.4" width="1" height="16.6" fill="#00f7ff" opacity="0.16"/><rect x="112" y="713.4" width="1" height="9.6" fill="#00e1ff" opacity="0.33"/><rect x="114" y="708.1" width="1" height="14.9" fill="#00d3ff" opacity="0.26"/><rect x="115" y="708.6" width="1" height="14.4" fill="#72ff8c" opacity="0.42"/><rect x="116" y="717.4" width="1" height="5.6" fill="#2affd4" opacity="0.15"/><rect x="117" y="715.8" width="1" height="7.2" fill="#06fff8" opacity="0.25"/><rect x="118" y="705.7" width="1" height="17.3" fill="#3bffc3" opacity="0.21"/><rect x="119" y="719.0" width="1" height="4.0" fill="#00b7ff" opacity="0.18"/><rect x="120" y="711.4" width="1" height="11.6" fill="#4bffb3" opacity="0.17"/><rect x="121" y="714.1" width="1" height="8.9" fill="#00cdff" opacity="0.36"/><rect x="122" y="716.6" width="1" height="6.4" fill="#8cff72" opacity="0.33"/><rect x="124" y="707.5" width="1" height="15.5" fill="#f3ff0b" opacity="0.35"/><rect x="125" y="716.3" width="1" height="6.7" fill="#6eff90" opacity="0.38"/><rect x="126" y="705.9" width="1" height="17.1" fill="#b7ff47" opacity="0.22"/><rect x="128" y="710.6" width="1" height="12.4" fill="#cbff33" opacity="0.14"/><rect x="129" y="708.8" width="1" height="14.2" fill="#00b8ff" opacity="0.38"/><rect x="131" y="712.1" width="1" height="10.9" fill="#33ffcb" opacity="0.25"/><rect x="132" y="714.1" width="1" height="8.9" fill="#dcff22" opacity="0.39"/><rect x="133" y="710.0" width="1" height="13.0" fill="#c7ff37" opacity="0.26"/><rect x="137" y="708.5" width="1" height="14.5" fill="#60ff9e" opacity="0.27"/><rect x="138" y="705.4" width="1" height="17.6" fill="#00fffe" opacity="0.31"/><rect x="139" y="708.2" width="1" height="14.8" fill="#a6ff58" opacity="0.15"/><rect x="140" y="705.1" width="1" height="17.9" fill="#76ff88" opacity="0.27"/><rect x="141" y="711.7" width="1" height="11.3" fill="#f0ff0e" opacity="0.14"/><rect x="142" y="715.0" width="1" height="8.0" fill="#ecff12" opacity="0.29"/><rect x="143" y="712.7" width="1" height="10.3" fill="#7bff83" opacity="0.22"/><rect x="144" y="710.7" width="1" height="12.3" fill="#0fffef" opacity="0.27"/><rect x="145" y="714.4" width="1" height="8.6" fill="#6eff90" opacity="0.28"/><rect x="146" y="705.5" width="1" height="17.5" fill="#9cff62" opacity="0.19"/><rect x="151" y="710.8" width="1" height="12.2" fill="#b2ff4c" opacity="0.19"/><rect x="152" y="715.2" width="1" height="7.8" fill="#20ffde" opacity="0.24"/><rect x="153" y="714.0" width="1" height="9.0" fill="#b5ff49" opacity="0.13"/><rect x="154" y="712.9" width="1" height="10.1" fill="#00b3ff" opacity="0.32"/><rect x="155" y="705.8" width="1" height="17.2" fill="#bcff42" opacity="0.22"/><rect x="160" y="716.5" width="1" height="6.5" fill="#b3ff4b" opacity="0.27"/><rect x="161" y="707.0" width="1" height="16.0" fill="#00e3ff" opacity="0.25"/><rect x="162" y="711.1" width="1" height="11.9" fill="#72ff8c" opacity="0.22"/><rect x="163" y="711.9" width="1" height="11.1" fill="#16ffe8" opacity="0.12"/><rect x="164" y="710.7" width="1" height="12.3" fill="#00cdff" opacity="0.27"/><rect x="165" y="706.5" width="1" height="16.5" fill="#2cffd2" opacity="0.34"/><rect x="166" y="705.7" width="1" height="17.3" fill="#26ffd8" opacity="0.23"/><rect x="167" y="716.6" width="1" height="6.4" fill="#a3ff5b" opacity="0.31"/><rect x="168" y="713.8" width="1" height="9.2" fill="#ccff32" opacity="0.41"/><rect x="169" y="713.2" width="1" height="9.8" fill="#61ff9d" opacity="0.21"/><rect x="170" y="707.7" width="1" height="15.3" fill="#00ccff" opacity="0.17"/><rect x="171" y="716.7" width="1" height="6.3" fill="#69ff95" opacity="0.23"/><rect x="173" y="718.1" width="1" height="4.9" fill="#00e3ff" opacity="0.30"/><rect x="175" y="708.1" width="1" height="14.9" fill="#8fff6f" opacity="0.17"/><rect x="176" y="709.7" width="1" height="13.3" fill="#f2ff0c" opacity="0.33"/><rect x="177" y="717.8" width="1" height="5.2" fill="#6fff8f" opacity="0.33"/><rect x="178" y="716.7" width="1" height="6.3" fill="#00c5ff" opacity="0.24"/><rect x="179" y="705.0" width="1" height="18.0" fill="#20ffde" opacity="0.19"/><rect x="180" y="705.8" width="1" height="17.2" fill="#00b3ff" opacity="0.37"/><rect x="181" y="711.2" width="1" height="11.8" fill="#00e8ff" opacity="0.17"/><rect x="182" y="709.6" width="1" height="13.4" fill="#b4ff4a" opacity="0.31"/><rect x="183" y="718.2" width="1" height="4.8" fill="#00f7ff" opacity="0.29"/><rect x="185" y="718.9" width="1" height="4.1" fill="#baff44" opacity="0.16"/><rect x="186" y="717.0" width="1" height="6.0" fill="#38ffc6" opacity="0.40"/><rect x="187" y="719.0" width="1" height="4.0" fill="#b9ff45" opacity="0.19"/><rect x="188" y="705.6" width="1" height="17.4" fill="#dcff22" opacity="0.32"/><rect x="189" y="711.8" width="1" height="11.2" fill="#ceff30" opacity="0.15"/><rect x="190" y="707.9" width="1" height="15.1" fill="#00deff" opacity="0.19"/><rect x="191" y="711.6" width="1" height="11.4" fill="#85ff79" opacity="0.35"/><rect x="194" y="719.2" width="1" height="3.8" fill="#2fffcf" opacity="0.16"/><rect x="195" y="720.0" width="1" height="3.0" fill="#00d4ff" opacity="0.25"/><rect x="196" y="715.4" width="1" height="7.6" fill="#1cffe2" opacity="0.24"/><rect x="197" y="716.5" width="1" height="6.5" fill="#1cffe2" opacity="0.32"/><rect x="198" y="717.7" width="1" height="5.3" fill="#24ffda" opacity="0.13"/><rect x="202" y="713.5" width="1" height="9.5" fill="#c2ff3c" opacity="0.27"/><rect x="203" y="707.2" width="1" height="15.8" fill="#00c9ff" opacity="0.38"/><rect x="208" y="711.6" width="1" height="11.4" fill="#00c9ff" opacity="0.35"/><rect x="210" y="705.6" width="1" height="17.4" fill="#21ffdd" opacity="0.36"/><rect x="211" y="719.5" width="1" height="3.5" fill="#efff0f" opacity="0.12"/><rect x="212" y="715.6" width="1" height="7.4" fill="#00f1ff" opacity="0.30"/><rect x="214" y="713.2" width="1" height="9.8" fill="#00f7ff" opacity="0.16"/><rect x="216" y="706.2" width="1" height="16.8" fill="#6fff8f" opacity="0.27"/><rect x="217" y="707.0" width="1" height="16.0" fill="#7dff81" opacity="0.15"/><rect x="218" y="717.7" width="1" height="5.3" fill="#21ffdd" opacity="0.39"/><rect x="220" y="705.1" width="1" height="17.9" fill="#4fffaf" opacity="0.33"/><rect x="221" y="705.2" width="1" height="17.8" fill="#00eaff" opacity="0.30"/><rect x="222" y="705.9" width="1" height="17.1" fill="#05fff9" opacity="0.32"/><rect x="223" y="708.4" width="1" height="14.6" fill="#83ff7b" opacity="0.27"/><rect x="224" y="712.8" width="1" height="10.2" fill="#2dffd1" opacity="0.28"/><rect x="225" y="712.8" width="1" height="10.2" fill="#22ffdc" opacity="0.19"/><rect x="226" y="712.4" width="1" height="10.6" fill="#00cdff" opacity="0.12"/><rect x="227" y="714.3" width="1" height="8.7" fill="#14ffea" opacity="0.25"/><rect x="228" y="706.5" width="1" height="16.5" fill="#00c9ff" opacity="0.38"/><rect x="229" y="706.9" width="1" height="16.1" fill="#d6ff28" opacity="0.38"/><rect x="230" y="705.4" width="1" height="17.6" fill="#58ffa6" opacity="0.28"/><rect x="232" y="712.3" width="1" height="10.7" fill="#d4ff2a" opacity="0.35"/><rect x="233" y="719.6" width="1" height="3.4" fill="#76ff88" opacity="0.30"/><rect x="234" y="717.6" width="1" height="5.4" fill="#e2ff1c" opacity="0.40"/><rect x="236" y="706.0" width="1" height="17.0" fill="#00caff" opacity="0.29"/><rect x="237" y="713.1" width="1" height="9.9" fill="#69ff95" opacity="0.15"/><rect x="238" y="718.7" width="1" height="4.3" fill="#00c2ff" opacity="0.35"/><rect x="239" y="708.6" width="1" height="14.4" fill="#efff0f" opacity="0.17"/><rect x="240" y="716.3" width="1" height="6.7" fill="#c3ff3b" opacity="0.26"/><rect x="242" y="715.4" width="1" height="7.6" fill="#33ffcb" opacity="0.36"/><rect x="243" y="706.1" width="1" height="16.9" fill="#2cffd2" opacity="0.40"/><rect x="245" y="716.2" width="1" height="6.8" fill="#78ff86" opacity="0.34"/><rect x="246" y="711.1" width="1" height="11.9" fill="#aaff54" opacity="0.33"/><rect x="248" y="714.6" width="1" height="8.4" fill="#e2ff1c" opacity="0.18"/><rect x="250" y="706.8" width="1" height="16.2" fill="#00caff" opacity="0.34"/><rect x="251" y="705.0" width="1" height="18.0" fill="#56ffa8" opacity="0.24"/><rect x="253" y="707.0" width="1" height="16.0" fill="#b9ff45" opacity="0.30"/><rect x="254" y="715.1" width="1" height="7.9" fill="#b1ff4d" opacity="0.26"/><rect x="255" y="706.2" width="1" height="16.8" fill="#caff34" opacity="0.17"/><rect x="257" y="719.2" width="1" height="3.8" fill="#42ffbc" opacity="0.34"/><rect x="258" y="713.5" width="1" height="9.5" fill="#27ffd7" opacity="0.39"/><rect x="259" y="712.1" width="1" height="10.9" fill="#46ffb8" opacity="0.38"/><rect x="261" y="717.4" width="1" height="5.6" fill="#00ccff" opacity="0.14"/><rect x="262" y="720.0" width="1" height="3.0" fill="#02fffc" opacity="0.38"/><rect x="264" y="705.3" width="1" height="17.7" fill="#07fff7" opacity="0.35"/><rect x="265" y="711.7" width="1" height="11.3" fill="#20ffde" opacity="0.35"/><rect x="266" y="718.9" width="1" height="4.1" fill="#00d8ff" opacity="0.20"/><rect x="268" y="708.3" width="1" height="14.7" fill="#6dff91" opacity="0.23"/><rect x="270" y="717.8" width="1" height="5.2" fill="#c2ff3c" opacity="0.33"/><rect x="271" y="711.5" width="1" height="11.5" fill="#40ffbe" opacity="0.28"/><rect x="274" y="717.3" width="1" height="5.7" fill="#9bff63" opacity="0.23"/><rect x="275" y="709.2" width="1" height="13.8" fill="#00d9ff" opacity="0.22"/><rect x="277" y="705.1" width="1" height="17.9" fill="#c1ff3d" opacity="0.41"/><rect x="278" y="717.9" width="1" height="5.1" fill="#70ff8e" opacity="0.31"/><rect x="279" y="711.5" width="1" height="11.5" fill="#b2ff4c" opacity="0.29"/><rect x="282" y="712.6" width="1" height="10.4" fill="#00d2ff" opacity="0.39"/><rect x="284" y="705.4" width="1" height="17.6" fill="#00c6ff" opacity="0.13"/><rect x="285" y="710.7" width="1" height="12.3" fill="#00c8ff" opacity="0.26"/><rect x="287" y="719.7" width="1" height="3.3" fill="#6bff93" opacity="0.41"/><rect x="288" y="712.5" width="1" height="10.5" fill="#0afff4" opacity="0.40"/><rect x="290" y="713.6" width="1" height="9.4" fill="#68ff96" opacity="0.17"/><rect x="291" y="709.5" width="1" height="13.5" fill="#00e7ff" opacity="0.30"/><rect x="292" y="710.8" width="1" height="12.2" fill="#00c8ff" opacity="0.30"/><rect x="293" y="708.8" width="1" height="14.2" fill="#07fff7" opacity="0.29"/><rect x="294" y="706.1" width="1" height="16.9" fill="#46ffb8" opacity="0.12"/><rect x="296" y="709.5" width="1" height="13.5" fill="#00bdff" opacity="0.17"/><rect x="297" y="706.0" width="1" height="17.0" fill="#3effc0" opacity="0.33"/><rect x="300" y="717.0" width="1" height="6.0" fill="#daff24" opacity="0.36"/><rect x="301" y="710.1" width="1" height="12.9" fill="#e6ff18" opacity="0.33"/><rect x="302" y="711.5" width="1" height="11.5" fill="#89ff75" opacity="0.17"/><rect x="303" y="711.5" width="1" height="11.5" fill="#64ff9a" opacity="0.37"/><rect x="306" y="720.0" width="1" height="3.0" fill="#25ffd9" opacity="0.39"/><rect x="310" y="717.3" width="1" height="5.7" fill="#00d8ff" opacity="0.22"/><rect x="311" y="705.0" width="1" height="18.0" fill="#00fffe" opacity="0.13"/><rect x="312" y="708.7" width="1" height="14.3" fill="#34ffca" opacity="0.26"/><rect x="313" y="709.8" width="1" height="13.2" fill="#23ffdb" opacity="0.38"/><rect x="315" y="706.2" width="1" height="16.8" fill="#d6ff28" opacity="0.26"/><rect x="316" y="710.0" width="1" height="13.0" fill="#30ffce" opacity="0.41"/><rect x="318" y="705.9" width="1" height="17.1" fill="#13ffeb" opacity="0.30"/><rect x="320" y="708.0" width="1" height="15.0" fill="#0bfff3" opacity="0.41"/><rect x="321" y="714.3" width="1" height="8.7" fill="#b3ff4b" opacity="0.36"/><rect x="322" y="706.2" width="1" height="16.8" fill="#9fff5f" opacity="0.22"/><rect x="323" y="711.6" width="1" height="11.4" fill="#e6ff18" opacity="0.19"/><rect x="324" y="711.5" width="1" height="11.5" fill="#23ffdb" opacity="0.27"/><rect x="325" y="708.4" width="1" height="14.6" fill="#7cff82" opacity="0.24"/><rect x="328" y="710.4" width="1" height="12.6" fill="#00f7ff" opacity="0.34"/><rect x="330" y="705.3" width="1" height="17.7" fill="#bfff3f" opacity="0.16"/><rect x="333" y="710.8" width="1" height="12.2" fill="#7cff82" opacity="0.16"/><rect x="334" y="708.3" width="1" height="14.7" fill="#22ffdc" opacity="0.41"/><rect x="335" y="711.0" width="1" height="12.0" fill="#c2ff3c" opacity="0.34"/><rect x="339" y="715.8" width="1" height="7.2" fill="#e0ff1e" opacity="0.37"/><rect x="340" y="711.8" width="1" height="11.2" fill="#00caff" opacity="0.17"/><rect x="342" y="706.4" width="1" height="16.6" fill="#97ff67" opacity="0.40"/><rect x="347" y="708.1" width="1" height="14.9" fill="#01fffd" opacity="0.21"/><rect x="349" y="705.1" width="1" height="17.9" fill="#7cff82" opacity="0.36"/><rect x="350" y="709.6" width="1" height="13.4" fill="#00c5ff" opacity="0.27"/><rect x="353" y="709.8" width="1" height="13.2" fill="#6fff8f" opacity="0.31"/><rect x="354" y="715.4" width="1" height="7.6" fill="#c5ff39" opacity="0.18"/><rect x="355" y="714.2" width="1" height="8.8" fill="#69ff95" opacity="0.14"/><rect x="356" y="706.3" width="1" height="16.7" fill="#a6ff58" opacity="0.13"/><rect x="357" y="713.1" width="1" height="9.9" fill="#00f6ff" opacity="0.16"/><rect x="358" y="717.2" width="1" height="5.8" fill="#8aff74" opacity="0.35"/><rect x="359" y="710.5" width="1" height="12.5" fill="#4dffb1" opacity="0.39"/><rect x="360" y="707.8" width="1" height="15.2" fill="#00c7ff" opacity="0.38"/><rect x="361" y="706.5" width="1" height="16.5" fill="#b8ff46" opacity="0.16"/><rect x="363" y="713.5" width="1" height="9.5" fill="#36ffc8" opacity="0.35"/><rect x="366" y="708.0" width="1" height="15.0" fill="#dbff23" opacity="0.14"/><rect x="368" y="718.8" width="1" height="4.2" fill="#58ffa6" opacity="0.33"/><rect x="369" y="709.8" width="1" height="13.2" fill="#70ff8e" opacity="0.26"/><rect x="370" y="715.9" width="1" height="7.1" fill="#26ffd8" opacity="0.18"/><rect x="371" y="715.2" width="1" height="7.8" fill="#0dfff1" opacity="0.33"/><rect x="373" y="709.1" width="1" height="13.9" fill="#6cff92" opacity="0.20"/><rect x="374" y="708.8" width="1" height="14.2" fill="#d7ff27" opacity="0.23"/><rect x="375" y="713.2" width="1" height="9.8" fill="#31ffcd" opacity="0.36"/><rect x="376" y="714.4" width="1" height="8.6" fill="#6eff90" opacity="0.32"/><rect x="377" y="708.2" width="1" height="14.8" fill="#00b7ff" opacity="0.29"/><rect x="378" y="719.1" width="1" height="3.9" fill="#00c3ff" opacity="0.38"/><rect x="379" y="706.8" width="1" height="16.2" fill="#41ffbd" opacity="0.25"/><rect x="380" y="712.2" width="1" height="10.8" fill="#8eff70" opacity="0.31"/><rect x="381" y="713.9" width="1" height="9.1" fill="#00f3ff" opacity="0.35"/><rect x="382" y="708.0" width="1" height="15.0" fill="#8cff72" opacity="0.35"/><rect x="383" y="715.3" width="1" height="7.7" fill="#1bffe3" opacity="0.24"/><rect x="386" y="709.9" width="1" height="13.1" fill="#14ffea" opacity="0.28"/><rect x="388" y="708.6" width="1" height="14.4" fill="#d7ff27" opacity="0.25"/><rect x="389" y="707.8" width="1" height="15.2" fill="#00f5ff" opacity="0.41"/><rect x="391" y="719.3" width="1" height="3.7" fill="#d1ff2d" opacity="0.22"/><rect x="392" y="718.9" width="1" height="4.1" fill="#5dffa1" opacity="0.28"/><rect x="393" y="707.6" width="1" height="15.4" fill="#d5ff29" opacity="0.24"/><rect x="394" y="711.3" width="1" height="11.7" fill="#8bff73" opacity="0.39"/><rect x="395" y="714.4" width="1" height="8.6" fill="#3fffbf" opacity="0.18"/><rect x="396" y="711.0" width="1" height="12.0" fill="#09fff5" opacity="0.34"/><rect x="397" y="706.3" width="1" height="16.7" fill="#e9ff15" opacity="0.31"/><rect x="399" y="718.5" width="1" height="4.5" fill="#04fffa" opacity="0.34"/><rect x="402" y="718.2" width="1" height="4.8" fill="#39ffc5" opacity="0.18"/><rect x="403" y="705.4" width="1" height="17.6" fill="#00fdff" opacity="0.18"/><rect x="404" y="719.5" width="1" height="3.5" fill="#00e5ff" opacity="0.13"/><rect x="405" y="709.6" width="1" height="13.4" fill="#b3ff4b" opacity="0.14"/><rect x="406" y="707.5" width="1" height="15.5" fill="#68ff96" opacity="0.28"/><rect x="409" y="708.6" width="1" height="14.4" fill="#a3ff5b" opacity="0.42"/><rect x="410" y="713.8" width="1" height="9.2" fill="#00e8ff" opacity="0.30"/><rect x="411" y="709.1" width="1" height="13.9" fill="#00faff" opacity="0.40"/><rect x="412" y="705.4" width="1" height="17.6" fill="#31ffcd" opacity="0.33"/><rect x="415" y="714.0" width="1" height="9.0" fill="#73ff8b" opacity="0.27"/><rect x="416" y="713.6" width="1" height="9.4" fill="#14ffea" opacity="0.37"/><rect x="418" y="707.5" width="1" height="15.5" fill="#00daff" opacity="0.22"/><rect x="420" y="706.5" width="1" height="16.5" fill="#00d6ff" opacity="0.24"/><rect x="421" y="710.7" width="1" height="12.3" fill="#1cffe2" opacity="0.34"/><rect x="423" y="711.7" width="1" height="11.3" fill="#e7ff17" opacity="0.16"/><rect x="426" y="706.9" width="1" height="16.1" fill="#97ff67" opacity="0.24"/><rect x="427" y="719.5" width="1" height="3.5" fill="#00bdff" opacity="0.41"/><rect x="428" y="719.4" width="1" height="3.6" fill="#00bbff" opacity="0.31"/><rect x="431" y="715.9" width="1" height="7.1" fill="#53ffab" opacity="0.39"/><rect x="433" y="712.1" width="1" height="10.9" fill="#f8ff06" opacity="0.39"/><rect x="434" y="718.0" width="1" height="5.0" fill="#0cfff2" opacity="0.24"/><rect x="435" y="716.0" width="1" height="7.0" fill="#21ffdd" opacity="0.36"/><rect x="437" y="705.4" width="1" height="17.6" fill="#86ff78" opacity="0.41"/><rect x="438" y="713.1" width="1" height="9.9" fill="#25ffd9" opacity="0.32"/><rect x="440" y="709.2" width="1" height="13.8" fill="#9aff64" opacity="0.28"/><rect x="441" y="716.4" width="1" height="6.6" fill="#e9ff15" opacity="0.38"/><rect x="443" y="716.3" width="1" height="6.7" fill="#06fff8" opacity="0.28"/><rect x="444" y="711.7" width="1" height="11.3" fill="#67ff97" opacity="0.42"/><rect x="445" y="705.7" width="1" height="17.3" fill="#dbff23" opacity="0.38"/><rect x="448" y="707.5" width="1" height="15.5" fill="#abff53" opacity="0.25"/><rect x="450" y="705.6" width="1" height="17.4" fill="#00e0ff" opacity="0.29"/><rect x="453" y="716.2" width="1" height="6.8" fill="#aeff50" opacity="0.34"/><rect x="455" y="708.4" width="1" height="14.6" fill="#00daff" opacity="0.13"/><rect x="456" y="717.0" width="1" height="6.0" fill="#25ffd9" opacity="0.41"/><rect x="457" y="719.7" width="1" height="3.3" fill="#0fffef" opacity="0.29"/><rect x="458" y="712.3" width="1" height="10.7" fill="#26ffd8" opacity="0.28"/><rect x="459" y="713.4" width="1" height="9.6" fill="#d5ff29" opacity="0.23"/><rect x="460" y="710.3" width="1" height="12.7" fill="#00fffe" opacity="0.21"/><rect x="461" y="708.8" width="1" height="14.2" fill="#5bffa3" opacity="0.19"/><rect x="462" y="712.8" width="1" height="10.2" fill="#00b2ff" opacity="0.39"/><rect x="465" y="718.8" width="1" height="4.2" fill="#20ffde" opacity="0.29"/><rect x="466" y="706.3" width="1" height="16.7" fill="#00fcff" opacity="0.29"/><rect x="467" y="709.9" width="1" height="13.1" fill="#1bffe3" opacity="0.23"/></g>
<text transform="translate(60.75,457.60) scale(0.9963,1)" font-size="30.5" fill="#262626">50</text>
<text transform="translate(63.45,514.20) scale(0.9045,1)" font-size="30.5" fill="#262626">40</text>
<text transform="translate(62.02,570.80) scale(0.9531,1)" font-size="30.5" fill="#262626">30</text>
<text transform="translate(62.17,627.40) scale(0.9480,1)" font-size="30.5" fill="#262626">20</text>
<text transform="translate(61.84,684.00) scale(0.9593,1)" font-size="30.5" fill="#262626">10</text>
<text transform="translate(90.05,755.70) scale(1.0029,1)" font-size="30.5" fill="#262626">0</text>
<text transform="translate(176.65,755.70) scale(0.9045,1)" font-size="30.5" fill="#262626">40</text>
<text transform="translate(268.38,755.70) scale(0.9393,1)" font-size="30.5" fill="#262626">80</text>
<text transform="translate(352.88,755.70) scale(0.9443,1)" font-size="30.5" fill="#262626">120</text>
<text transform="translate(446.11,755.70) scale(0.9133,1)" font-size="30.5" fill="#262626">160</text>
<text transform="translate(218.62,791.80) scale(1.0691,1)" font-size="31" fill="#262626">Time (ns)</text>
<text transform="translate(45.10,707.92) rotate(-90) scale(1.0491,1)" font-size="32" fill="#262626">Frequency (MHz)</text>
<text transform="translate(240.15,836.40) scale(0.9821,1)" font-size="30" fill="#111">(c)</text>
<g clip-path="url(#cd)">
<rect x="646.0" y="451.0" width="365.5" height="273.5" fill="#0234f2"/>
<g filter="url(#bl4)" fill="#0a7cff" opacity="0.35"><path d="M828.75,485.1875 L931.546875,587.75 L828.75,690.3125 L725.953125,587.75Z"/><rect x="646.0" y="576.81" width="365.5" height="21.88000000000011"/></g>
<rect x="646.0" y="451.0" width="365.5" height="273.5" filter="url(#noise)"/>
<g transform="rotate(38 828.75 587.75)" opacity="0.55"><rect x="600" y="360" width="460" height="460" filter="url(#str1)"/></g>
<g transform="rotate(-38 828.75 587.75)" opacity="0.55"><rect x="600" y="360" width="460" height="460" filter="url(#str1)"/></g>
<g transform="rotate(70 828.75 587.75)" opacity="0.35"><rect x="600" y="360" width="460" height="460" filter="url(#str1)"/></g>
<g transform="rotate(-70 828.75 587.75)" opacity="0.35"><rect x="600" y="360" width="460" height="460" filter="url(#str1)"/></g>
<g fill="none" stroke="#30c0ff" stroke-width="0.9"><path d="M882.5,724.5 865.2,705.0 846.1,685.4 826.1,665.9 806.2,646.4 787.5,626.8 770.8,607.3 757.0,587.8 746.9,568.2 740.8,548.7 739.2,529.1 742.0,509.6 749.2,490.1 760.4,470.5 775.0,451.0" opacity="0.07"/><path d="M626.7,724.5 650.2,705.0 682.7,685.4 722.6,665.9 767.7,646.4 816.0,626.8 864.8,607.3 911.9,587.8 954.8,568.2 991.3,548.7 1019.8,529.1 1038.6,509.6 1046.9,490.1 1044.3,470.5 1030.8,451.0" opacity="0.09"/><path d="M784.2,724.5 815.1,705.0 846.8,685.4 877.5,665.9 905.7,646.4 930.1,626.8 949.5,607.3 962.7,587.8 969.3,568.2 968.8,548.7 961.3,529.1 947.1,509.6 927.0,490.1 902.0,470.5 873.3,451.0" opacity="0.08"/><path d="M705.0,724.5 704.9,705.0 711.1,685.4 723.1,665.9 740.4,646.4 762.1,626.8 787.2,607.3 814.4,587.8 842.3,568.2 869.5,548.7 894.7,529.1 916.5,509.6 934.0,490.1 946.2,470.5 952.5,451.0" opacity="0.11"/><path d="M839.9,724.5 864.7,705.0 887.7,685.4 907.7,665.9 923.7,646.4 935.0,626.8 941.0,607.3 941.3,587.8 936.0,568.2 925.3,548.7 909.8,529.1 890.2,509.6 867.5,490.1 842.9,470.5 817.6,451.0" opacity="0.14"/><path d="M673.1,724.5 704.1,705.0 741.4,685.4 783.0,665.9 826.9,646.4 871.0,626.8 912.9,607.3 950.6,587.8 982.1,568.2 1006.0,548.7 1021.0,529.1 1026.4,509.6 1021.8,490.1 1007.6,470.5 984.4,451.0" opacity="0.06"/><path d="M820.8,724.5 841.5,705.0 861.5,685.4 879.8,665.9 895.6,646.4 908.0,626.8 916.5,607.3 920.6,587.8 920.0,568.2 914.9,548.7 905.5,529.1 892.2,509.6 875.7,490.1 856.9,470.5 836.7,451.0" opacity="0.08"/><path d="M677.8,724.5 679.0,705.0 687.7,685.4 703.4,665.9 725.4,646.4 752.6,626.8 783.7,607.3 817.0,587.8 850.8,568.2 883.6,548.7 913.6,529.1 939.4,509.6 959.6,490.1 973.3,470.5 979.7,451.0" opacity="0.05"/><path d="M739.5,724.5 740.5,705.0 746.0,685.4 755.6,665.9 768.9,646.4 785.2,626.8 803.7,607.3 823.4,587.8 843.4,568.2 862.7,548.7 880.2,529.1 895.2,509.6 906.9,490.1 914.6,470.5 918.0,451.0" opacity="0.05"/><path d="M795.0,724.5 797.0,705.0 800.6,685.4 805.6,665.9 811.7,646.4 818.7,626.8 826.3,607.3 833.9,587.8 841.3,568.2 848.1,548.7 853.8,529.1 858.4,509.6 861.4,490.1 862.8,470.5 862.5,451.0" opacity="0.10"/><path d="M1027.1,724.5 1011.1,705.0 985.9,685.4 952.9,665.9 913.7,646.4 870.1,626.8 824.6,607.3 779.2,587.8 736.3,568.2 698.0,548.7 666.3,529.1 642.8,509.6 628.5,490.1 624.3,470.5 630.4,451.0" opacity="0.14"/><path d="M940.5,724.5 952.0,705.0 957.3,685.4 956.1,665.9 948.6,646.4 935.0,626.8 916.2,607.3 892.9,587.8 866.4,568.2 838.1,548.7 809.2,529.1 781.4,509.6 755.9,490.1 734.1,470.5 717.0,451.0" opacity="0.07"/><path d="M714.6,724.5 735.5,705.0 761.1,685.4 790.1,665.9 821.0,646.4 852.2,626.8 882.4,607.3 909.8,587.8 933.1,568.2 951.3,548.7 963.3,529.1 968.5,509.6 966.7,490.1 958.0,470.5 942.9,451.0" opacity="0.12"/><path d="M604.5,724.5 638.6,705.0 682.2,685.4 733.1,665.9 788.9,646.4 846.6,626.8 903.5,607.3 956.6,587.8 1003.3,568.2 1041.2,548.7 1068.5,529.1 1083.8,509.6 1086.2,490.1 1075.8,470.5 1053.0,451.0" opacity="0.12"/><path d="M735.3,724.5 693.6,705.0 658.6,685.4 632.2,665.9 615.6,646.4 609.7,626.8 614.8,607.3 630.6,587.8 656.4,568.2 690.8,548.7 732.1,529.1 778.2,509.6 826.9,490.1 875.7,470.5 922.2,451.0" opacity="0.06"/><path d="M821.1,724.5 810.8,705.0 801.4,685.4 793.4,665.9 787.1,646.4 783.0,626.8 781.1,607.3 781.7,587.8 784.6,568.2 789.7,548.7 796.7,529.1 805.4,509.6 815.2,490.1 825.8,470.5 836.4,451.0" opacity="0.09"/><path d="M678.6,724.5 702.1,705.0 731.9,685.4 766.6,665.9 804.4,646.4 843.4,626.8 881.7,607.3 917.4,587.8 948.6,568.2 973.8,548.7 991.7,529.1 1001.4,509.6 1002.5,490.1 994.9,470.5 978.9,451.0" opacity="0.15"/><path d="M864.5,724.5 881.2,705.0 895.3,685.4 906.0,665.9 912.8,646.4 915.5,626.8 913.8,607.3 907.8,587.8 897.8,568.2 884.4,548.7 868.2,529.1 850.1,509.6 830.8,490.1 811.5,470.5 793.0,451.0" opacity="0.15"/><path d="M1046.8,724.5 1039.3,705.0 1021.3,685.4 993.6,665.9 957.7,646.4 915.3,626.8 868.5,607.3 819.8,587.8 771.5,568.2 726.1,548.7 685.8,529.1 652.7,509.6 628.4,490.1 614.2,470.5 610.7,451.0" opacity="0.06"/><path d="M708.4,724.5 718.3,705.0 733.9,685.4 754.2,665.9 778.2,646.4 804.7,626.8 832.5,607.3 860.1,587.8 886.1,568.2 909.2,548.7 928.3,529.1 942.4,509.6 950.8,490.1 953.1,470.5 949.1,451.0" opacity="0.12"/><path d="M733.3,724.5 734.8,705.0 741.0,685.4 751.6,665.9 766.0,646.4 783.7,626.8 803.5,607.3 824.7,587.8 846.0,568.2 866.5,548.7 885.1,529.1 900.8,509.6 913.0,490.1 920.9,470.5 924.2,451.0" opacity="0.13"/><path d="M1289.2,724.5 1263.3,705.0 1215.7,685.4 1148.7,665.9 1065.7,646.4 970.7,626.8 868.7,607.3 764.6,587.8 663.8,568.2 571.2,548.7 491.5,529.1 428.8,509.6 386.1,490.1 365.6,470.5 368.3,451.0" opacity="0.15"/><path d="M879.8,724.5 876.0,705.0 869.8,685.4 861.5,665.9 851.6,646.4 840.5,626.8 828.9,607.3 817.2,587.8 806.1,568.2 796.2,548.7 787.9,529.1 781.6,509.6 777.7,490.1 776.4,470.5 777.7,451.0" opacity="0.13"/><path d="M873.8,724.5 871.8,705.0 867.6,685.4 861.5,665.9 853.7,646.4 844.7,626.8 834.9,607.3 824.8,587.8 814.8,568.2 805.6,548.7 797.6,529.1 791.1,509.6 786.4,490.1 784.0,470.5 783.7,451.0" opacity="0.08"/><path d="M781.7,724.5 772.1,705.0 765.3,685.4 761.8,665.9 761.5,646.4 764.7,626.8 771.1,607.3 780.3,587.8 792.0,568.2 805.5,548.7 820.2,529.1 835.3,509.6 850.1,490.1 863.8,470.5 875.8,451.0" opacity="0.14"/><path d="M813.9,724.5 841.2,705.0 867.9,685.4 892.7,665.9 914.2,646.4 931.4,626.8 943.5,607.3 949.9,587.8 950.1,568.2 944.3,548.7 932.7,529.1 915.9,509.6 894.7,490.1 870.2,470.5 843.6,451.0" opacity="0.08"/><path d="M821.8,724.5 813.6,705.0 806.2,685.4 799.9,665.9 795.1,646.4 791.9,626.8 790.6,607.3 791.3,587.8 793.7,568.2 798.0,548.7 803.8,529.1 810.8,509.6 818.8,490.1 827.2,470.5 835.7,451.0" opacity="0.12"/><path d="M819.9,724.5 826.0,705.0 832.2,685.4 838.3,665.9 843.9,646.4 848.7,626.8 852.5,607.3 855.2,587.8 856.5,568.2 856.4,548.7 854.9,529.1 852.2,509.6 848.2,490.1 843.3,470.5 837.6,451.0" opacity="0.09"/><path d="M845.5,724.5 881.3,705.0 914.4,685.4 943.2,665.9 966.3,646.4 982.5,626.8 991.0,607.3 991.3,587.8 983.5,568.2 968.0,548.7 945.4,529.1 917.0,509.6 884.2,490.1 848.6,470.5 812.0,451.0" opacity="0.14"/><path d="M691.5,724.5 671.2,705.0 658.7,685.4 654.8,665.9 659.6,646.4 672.9,626.8 694.0,607.3 721.9,587.8 755.1,568.2 792.0,548.7 830.7,529.1 869.4,509.6 906.0,490.1 938.8,470.5 966.0,451.0" opacity="0.05"/><path d="M790.7,724.5 811.3,705.0 832.7,685.4 854.0,665.9 873.9,646.4 891.6,626.8 906.2,607.3 916.9,587.8 923.1,568.2 924.6,548.7 921.3,529.1 913.4,509.6 901.2,490.1 885.4,470.5 866.8,451.0" opacity="0.05"/><path d="M990.7,724.5 954.6,705.0 912.1,685.4 865.4,665.9 816.9,646.4 769.0,626.8 724.0,607.3 684.4,587.8 651.9,568.2 628.4,548.7 614.9,529.1 612.1,509.6 620.2,490.1 638.7,470.5 666.8,451.0" opacity="0.09"/><path d="M670.5,724.5 668.7,705.0 675.0,685.4 688.9,665.9 709.9,646.4 736.8,626.8 768.4,607.3 803.0,587.8 838.8,568.2 874.2,548.7 907.2,529.1 936.4,509.6 960.1,490.1 977.3,470.5 987.0,451.0" opacity="0.06"/><path d="M833.3,724.5 865.8,705.0 896.5,685.4 923.9,665.9 946.4,646.4 963.0,626.8 972.9,607.3 975.6,587.8 970.9,568.2 959.1,548.7 940.8,529.1 916.8,509.6 888.4,490.1 857.0,470.5 824.2,451.0" opacity="0.16"/><path d="M763.6,724.5 738.0,705.0 717.0,685.4 701.5,665.9 692.5,646.4 690.2,626.8 694.9,607.3 706.4,587.8 723.9,568.2 746.7,548.7 773.6,529.1 803.3,509.6 834.3,490.1 865.0,470.5 893.9,451.0" opacity="0.08"/><path d="M639.8,724.5 636.9,705.0 643.6,685.4 659.6,665.9 684.1,646.4 715.9,626.8 753.3,607.3 794.5,587.8 837.4,568.2 879.9,548.7 919.8,529.1 955.2,509.6 984.2,490.1 1005.4,470.5 1017.7,451.0" opacity="0.05"/><path d="M495.6,724.5 485.8,705.0 493.2,685.4 517.5,665.9 557.3,646.4 610.8,626.8 675.2,607.3 747.2,587.8 823.4,568.2 899.9,548.7 972.8,529.1 1038.4,509.6 1093.6,490.1 1135.4,470.5 1161.9,451.0" opacity="0.13"/><path d="M861.8,724.5 824.9,705.0 788.1,685.4 753.4,665.9 722.4,646.4 696.8,626.8 677.8,607.3 666.4,587.8 663.1,568.2 668.1,548.7 681.2,529.1 701.7,509.6 728.5,490.1 760.4,470.5 795.7,451.0" opacity="0.12"/><path d="M929.5,724.5 932.6,705.0 930.5,685.4 923.3,665.9 911.4,646.4 895.3,626.8 875.9,607.3 854.1,587.8 831.1,568.2 807.9,548.7 785.8,529.1 765.8,509.6 749.0,490.1 736.2,470.5 728.0,451.0" opacity="0.05"/><path d="M969.0,724.5 973.7,705.0 971.2,685.4 961.5,665.9 945.1,646.4 923.0,626.8 896.1,607.3 865.8,587.8 833.6,568.2 801.3,548.7 770.3,529.1 742.2,509.6 718.5,490.1 700.3,470.5 688.5,451.0" opacity="0.06"/><path d="M827.6,724.5 836.2,705.0 844.4,685.4 851.9,665.9 858.1,646.4 862.9,626.8 866.0,607.3 867.2,587.8 866.5,568.2 863.9,548.7 859.5,529.1 853.6,509.6 846.4,490.1 838.4,470.5 829.9,451.0" opacity="0.16"/><path d="M692.1,724.5 691.6,705.0 698.0,685.4 710.9,665.9 729.8,646.4 753.6,626.8 781.2,607.3 811.1,587.8 842.0,568.2 872.2,548.7 900.2,529.1 924.6,509.6 944.2,490.1 958.0,470.5 965.4,451.0" opacity="0.13"/><path d="M576.2,724.5 563.5,705.0 564.2,685.4 578.2,665.9 604.7,646.4 642.4,626.8 689.5,607.3 743.6,587.8 801.9,568.2 861.6,548.7 919.6,529.1 973.1,509.6 1019.3,490.1 1056.0,470.5 1081.3,451.0" opacity="0.14"/><path d="M841.5,724.5 835.5,705.0 829.1,685.4 822.7,665.9 816.6,646.4 811.1,626.8 806.5,607.3 803.0,587.8 800.8,568.2 800.0,548.7 800.7,529.1 802.7,509.6 806.1,490.1 810.6,470.5 816.0,451.0" opacity="0.13"/><path d="M859.9,724.5 813.7,705.0 768.3,685.4 725.9,665.9 688.7,646.4 658.5,626.8 636.8,607.3 624.8,587.8 623.0,568.2 631.5,548.7 649.9,529.1 677.2,509.6 712.2,490.1 753.0,470.5 797.6,451.0" opacity="0.07"/><path d="M883.1,724.5 907.4,705.0 927.8,685.4 943.2,665.9 952.9,646.4 956.3,626.8 953.4,607.3 944.2,587.8 929.2,568.2 909.2,548.7 885.1,529.1 858.2,509.6 829.9,490.1 801.5,470.5 774.4,451.0" opacity="0.12"/><path d="M751.7,724.5 759.8,705.0 771.4,685.4 785.9,665.9 802.6,646.4 820.5,626.8 838.9,607.3 856.7,587.8 873.2,568.2 887.4,548.7 898.7,529.1 906.4,509.6 910.3,490.1 910.1,470.5 905.8,451.0" opacity="0.05"/><path d="M856.3,724.5 807.9,705.0 760.6,685.4 716.8,665.9 678.5,646.4 647.8,626.8 626.1,607.3 614.6,587.8 613.8,568.2 623.9,548.7 644.1,529.1 673.7,509.6 711.0,490.1 754.2,470.5 801.2,451.0" opacity="0.07"/><path d="M832.2,724.5 832.1,705.0 831.9,685.4 831.5,665.9 831.0,646.4 830.3,626.8 829.6,607.3 828.8,587.8 828.1,568.2 827.3,548.7 826.7,529.1 826.1,509.6 825.7,490.1 825.4,470.5 825.3,451.0" opacity="0.14"/><path d="M831.8,724.5 834.1,705.0 836.1,685.4 837.8,665.9 839.0,646.4 839.7,626.8 839.8,607.3 839.4,587.8 838.4,568.2 837.0,548.7 835.1,529.1 833.0,509.6 830.6,490.1 828.1,470.5 825.7,451.0" opacity="0.11"/><path d="M927.5,724.5 916.4,705.0 900.9,685.4 881.8,665.9 860.1,646.4 836.8,626.8 813.0,607.3 790.1,587.8 769.1,568.2 751.1,548.7 737.0,529.1 727.5,509.6 723.0,490.1 723.9,470.5 730.0,451.0" opacity="0.10"/><path d="M777.8,724.5 818.4,705.0 859.4,685.4 899.0,665.9 935.0,646.4 965.7,626.8 989.5,607.3 1005.3,587.8 1012.2,568.2 1009.9,548.7 998.6,529.1 978.7,509.6 951.3,490.1 917.7,470.5 879.7,451.0" opacity="0.04"/><path d="M1011.7,724.5 998.0,705.0 975.9,685.4 946.4,665.9 911.0,646.4 871.5,626.8 829.9,607.3 788.1,587.8 748.5,568.2 712.8,548.7 683.0,529.1 660.4,509.6 646.3,490.1 641.4,470.5 645.8,451.0" opacity="0.13"/><path d="M790.2,724.5 822.1,705.0 854.4,685.4 885.3,665.9 913.4,646.4 937.3,626.8 955.7,607.3 967.8,587.8 972.9,568.2 970.7,548.7 961.5,529.1 945.6,509.6 923.8,490.1 897.2,470.5 867.3,451.0" opacity="0.12"/><path d="M719.1,724.5 756.8,705.0 798.1,685.4 841.0,665.9 883.2,646.4 922.8,626.8 957.6,607.3 985.9,587.8 1006.4,568.2 1017.9,548.7 1020.0,529.1 1012.5,509.6 995.8,490.1 970.6,470.5 938.4,451.0" opacity="0.07"/><path d="M813.7,724.5 816.6,705.0 820.1,685.4 824.0,665.9 828.2,646.4 832.3,626.8 836.4,607.3 840.0,587.8 843.1,568.2 845.4,548.7 846.9,529.1 847.5,509.6 847.2,490.1 845.9,470.5 843.8,451.0" opacity="0.14"/><path d="M590.6,724.5 554.7,705.0 532.5,685.4 525.2,665.9 533.1,646.4 555.9,626.8 592.3,607.3 640.6,587.8 698.3,568.2 762.6,548.7 830.2,529.1 897.7,509.6 961.7,490.1 1019.1,470.5 1066.9,451.0" opacity="0.07"/><path d="M698.9,724.5 644.5,705.0 599.2,685.4 565.5,665.9 545.0,646.4 538.7,626.8 547.0,607.3 569.3,587.8 604.7,568.2 651.4,548.7 706.9,529.1 768.5,509.6 833.2,490.1 897.6,470.5 958.6,451.0" opacity="0.09"/><path d="M676.0,724.5 659.1,705.0 650.6,685.4 651.1,665.9 660.5,646.4 678.4,626.8 703.7,607.3 735.4,587.8 771.7,568.2 810.9,548.7 851.0,529.1 889.9,509.6 925.8,490.1 956.9,470.5 981.5,451.0" opacity="0.13"/><path d="M882.5,724.5 864.2,705.0 844.2,685.4 823.4,665.9 802.9,646.4 783.7,626.8 766.7,607.3 752.8,587.8 742.8,568.2 737.1,548.7 735.9,529.1 739.4,509.6 747.4,490.1 759.5,470.5 775.0,451.0" opacity="0.08"/><path d="M901.3,724.5 931.5,705.0 956.6,685.4 975.2,665.9 986.6,646.4 990.0,626.8 985.3,607.3 972.8,587.8 953.0,568.2 927.0,548.7 896.1,529.1 861.8,509.6 825.9,490.1 790.1,470.5 756.2,451.0" opacity="0.12"/><path d="M855.9,724.5 853.7,705.0 850.3,685.4 845.7,665.9 840.4,646.4 834.4,626.8 828.2,607.3 821.9,587.8 816.1,568.2 810.8,548.7 806.5,529.1 803.3,509.6 801.3,490.1 800.8,470.5 801.6,451.0" opacity="0.13"/><path d="M768.9,724.5 792.5,705.0 817.9,685.4 843.8,665.9 869.0,646.4 892.1,626.8 912.1,607.3 927.9,587.8 938.7,568.2 944.0,548.7 943.6,529.1 937.3,509.6 925.7,490.1 909.1,470.5 888.6,451.0" opacity="0.11"/><path d="M625.1,724.5 609.0,705.0 603.9,685.4 610.1,665.9 627.3,646.4 654.6,626.8 690.6,607.3 733.5,587.8 781.2,568.2 831.3,548.7 881.3,529.1 928.6,509.6 970.9,490.1 1006.1,470.5 1032.4,451.0" opacity="0.14"/><path d="M924.6,724.5 927.8,705.0 926.0,685.4 919.3,665.9 908.1,646.4 893.0,626.8 874.6,607.3 853.9,587.8 831.9,568.2 809.8,548.7 788.7,529.1 769.5,509.6 753.3,490.1 740.9,470.5 732.9,451.0" opacity="0.06"/><path d="M800.0,724.5 785.1,705.0 772.4,685.4 762.5,665.9 756.0,646.4 753.1,626.8 753.9,607.3 758.6,587.8 766.7,568.2 778.0,548.7 791.8,529.1 807.5,509.6 824.2,490.1 841.2,470.5 857.5,451.0" opacity="0.09"/><path d="M993.7,724.5 970.2,705.0 939.7,685.4 903.6,665.9 863.7,646.4 822.1,626.8 780.8,607.3 741.9,587.8 707.4,568.2 678.9,548.7 658.0,529.1 645.6,509.6 642.5,490.1 648.6,470.5 663.8,451.0" opacity="0.07"/><path d="M734.6,724.5 733.0,705.0 736.3,685.4 744.3,665.9 756.4,646.4 772.2,626.8 790.8,607.3 811.4,587.8 832.8,568.2 854.0,548.7 873.9,529.1 891.6,509.6 906.1,490.1 916.7,470.5 922.9,451.0" opacity="0.07"/><path d="M824.9,724.5 819.2,705.0 813.8,685.4 809.3,665.9 805.7,646.4 803.3,626.8 802.1,607.3 802.3,587.8 803.8,568.2 806.6,548.7 810.4,529.1 815.2,509.6 820.7,490.1 826.6,470.5 832.6,451.0" opacity="0.06"/><path d="M673.7,724.5 669.0,705.0 672.4,685.4 683.6,665.9 702.0,646.4 726.9,626.8 756.8,607.3 790.3,587.8 825.8,568.2 861.4,548.7 895.4,529.1 926.0,509.6 951.8,490.1 971.4,470.5 983.8,451.0" opacity="0.13"/><path d="M855.0,724.5 837.1,705.0 818.8,685.4 801.0,665.9 784.6,646.4 770.5,626.8 759.2,607.3 751.4,587.8 747.5,568.2 747.7,548.7 752.0,529.1 760.1,509.6 771.6,490.1 786.0,470.5 802.5,451.0" opacity="0.11"/><path d="M745.3,724.5 747.3,705.0 753.5,685.4 763.3,665.9 776.5,646.4 792.3,626.8 809.9,607.3 828.5,587.8 847.1,568.2 864.7,548.7 880.6,529.1 893.8,509.6 903.8,490.1 910.0,470.5 912.2,451.0" opacity="0.15"/><path d="M720.3,724.5 748.3,705.0 780.3,685.4 814.8,665.9 849.9,646.4 884.0,626.8 915.3,607.3 942.3,587.8 963.6,568.2 978.1,548.7 985.1,529.1 984.3,509.6 975.7,490.1 959.7,470.5 937.2,451.0" opacity="0.11"/><path d="M663.6,724.5 670.2,705.0 684.9,685.4 706.7,665.9 734.6,646.4 767.3,626.8 803.1,607.3 840.1,587.8 876.6,568.2 910.7,548.7 940.6,529.1 965.0,509.6 982.5,490.1 992.3,470.5 993.9,451.0" opacity="0.06"/><path d="M848.4,724.5 820.8,705.0 793.6,685.4 768.1,665.9 745.7,646.4 727.5,626.8 714.3,607.3 706.9,587.8 705.6,568.2 710.4,548.7 721.2,529.1 737.4,509.6 758.2,490.1 782.5,470.5 809.1,451.0" opacity="0.16"/><path d="M997.8,724.5 955.6,705.0 907.1,685.4 854.6,665.9 800.8,646.4 748.4,626.8 700.1,607.3 658.2,587.8 624.9,568.2 601.7,548.7 590.0,529.1 590.2,509.6 602.4,490.1 626.0,470.5 659.7,451.0" opacity="0.05"/><path d="M955.6,724.5 967.5,705.0 972.5,685.4 970.3,665.9 961.0,646.4 945.0,626.8 923.2,607.3 896.7,587.8 866.8,568.2 835.0,548.7 802.8,529.1 772.0,509.6 744.0,490.1 720.2,470.5 701.9,451.0" opacity="0.12"/><path d="M872.4,724.5 867.4,705.0 860.6,685.4 852.1,665.9 842.4,646.4 832.1,626.8 821.6,607.3 811.5,587.8 802.2,568.2 794.2,548.7 788.0,529.1 783.9,509.6 781.9,490.1 782.4,470.5 785.1,451.0" opacity="0.08"/><path d="M833.0,724.5 837.6,705.0 841.7,685.4 845.2,665.9 847.9,646.4 849.6,626.8 850.2,607.3 849.8,587.8 848.3,568.2 845.9,548.7 842.5,529.1 838.5,509.6 834.0,490.1 829.3,470.5 824.5,451.0" opacity="0.10"/><path d="M893.1,724.5 871.5,705.0 847.8,685.4 823.1,665.9 798.6,646.4 775.7,626.8 755.5,607.3 738.9,587.8 726.8,568.2 719.9,548.7 718.3,529.1 722.4,509.6 731.7,490.1 746.0,470.5 764.4,451.0" opacity="0.04"/><path d="M605.7,724.5 598.4,705.0 602.5,685.4 618.1,665.9 644.1,646.4 679.5,626.8 722.3,607.3 770.5,587.8 821.6,568.2 873.0,548.7 922.3,529.1 966.8,509.6 1004.4,490.1 1033.2,470.5 1051.8,451.0" opacity="0.14"/><path d="M810.2,724.5 794.2,705.0 779.9,685.4 768.0,665.9 759.3,646.4 754.0,626.8 752.4,607.3 754.7,587.8 760.7,568.2 770.1,548.7 782.4,529.1 797.1,509.6 813.3,490.1 830.4,470.5 847.3,451.0" opacity="0.09"/><path d="M912.7,724.5 887.7,705.0 859.7,685.4 830.2,665.9 800.6,646.4 772.4,626.8 747.1,607.3 725.8,587.8 709.7,568.2 699.6,548.7 695.9,529.1 698.9,509.6 708.4,490.1 724.0,470.5 744.8,451.0" opacity="0.13"/><path d="M833.0,724.5 843.2,705.0 852.7,685.4 860.9,665.9 867.5,646.4 872.2,626.8 874.7,607.3 875.0,587.8 872.8,568.2 868.5,548.7 862.2,529.1 854.2,509.6 844.9,490.1 834.8,470.5 824.5,451.0" opacity="0.10"/><path d="M1081.0,724.5 1059.8,705.0 1027.0,685.4 984.2,665.9 933.7,646.4 877.9,626.8 819.6,607.3 761.8,587.8 707.4,568.2 659.0,548.7 619.2,529.1 589.8,509.6 572.5,490.1 568.0,470.5 576.5,451.0" opacity="0.05"/><path d="M786.0,724.5 791.4,705.0 798.7,685.4 807.6,665.9 817.4,646.4 827.9,626.8 838.4,607.3 848.4,587.8 857.4,568.2 865.0,548.7 870.8,529.1 874.5,509.6 875.8,490.1 874.8,470.5 871.5,451.0" opacity="0.06"/><path d="M729.2,724.5 731.9,705.0 739.5,685.4 751.5,665.9 767.4,646.4 786.3,626.8 807.4,607.3 829.6,587.8 851.7,568.2 872.7,548.7 891.5,529.1 907.1,509.6 918.8,490.1 926.0,470.5 928.3,451.0" opacity="0.16"/><path d="M810.8,724.5 850.8,705.0 889.7,685.4 925.5,665.9 956.5,646.4 981.0,626.8 998.0,607.3 1006.4,587.8 1005.9,568.2 996.6,548.7 978.8,529.1 953.5,509.6 922.0,490.1 885.7,470.5 846.7,451.0" opacity="0.05"/><path d="M536.7,724.5 549.2,705.0 575.8,685.4 615.1,665.9 665.1,646.4 723.3,626.8 786.7,607.3 852.3,587.8 916.7,568.2 976.7,548.7 1029.3,529.1 1071.8,509.6 1102.2,490.1 1118.8,470.5 1120.8,451.0" opacity="0.13"/><path d="M847.0,724.5 853.0,705.0 857.9,685.4 861.2,665.9 863.0,646.4 863.0,626.8 861.3,607.3 858.0,587.8 853.2,568.2 847.2,548.7 840.2,529.1 832.7,509.6 825.0,490.1 817.5,470.5 810.5,451.0" opacity="0.09"/><path d="M886.0,724.5 878.1,705.0 867.6,685.4 855.2,665.9 841.5,646.4 827.1,626.8 812.9,607.3 799.4,587.8 787.4,568.2 777.4,548.7 770.1,529.1 765.6,509.6 764.4,490.1 766.4,470.5 771.5,451.0" opacity="0.05"/><path d="M956.9,724.5 886.5,705.0 813.2,685.4 740.7,665.9 672.6,646.4 612.3,626.8 562.9,607.3 526.8,587.8 505.9,568.2 501.1,548.7 512.8,529.1 540.3,509.6 582.3,490.1 636.6,470.5 700.6,451.0" opacity="0.05"/><path d="M838.5,724.5 804.5,705.0 771.7,685.4 741.7,665.9 716.2,646.4 696.2,626.8 682.9,607.3 677.0,587.8 678.6,568.2 687.8,548.7 704.0,529.1 726.5,509.6 754.1,490.1 785.5,470.5 819.0,451.0" opacity="0.04"/><path d="M873.5,724.5 903.7,705.0 930.0,685.4 951.4,665.9 966.5,646.4 974.8,626.8 975.7,607.3 969.3,587.8 955.8,568.2 936.0,548.7 910.7,529.1 881.4,509.6 849.4,490.1 816.4,470.5 784.0,451.0" opacity="0.08"/><path d="M777.0,724.5 772.6,705.0 771.0,685.4 772.3,665.9 776.5,646.4 783.2,626.8 792.3,607.3 803.2,587.8 815.3,568.2 828.1,548.7 841.0,529.1 853.3,509.6 864.3,490.1 873.5,470.5 880.5,451.0" opacity="0.08"/><path d="M839.8,724.5 828.4,705.0 817.1,685.4 806.3,665.9 796.7,646.4 788.7,626.8 782.7,607.3 779.0,587.8 777.8,568.2 779.1,548.7 783.0,529.1 789.1,509.6 797.2,490.1 806.9,470.5 817.7,451.0" opacity="0.07"/><path d="M900.2,724.5 907.5,705.0 910.7,685.4 909.9,665.9 905.0,646.4 896.3,626.8 884.2,607.3 869.3,587.8 852.4,568.2 834.3,548.7 815.9,529.1 798.1,509.6 781.9,490.1 768.1,470.5 757.3,451.0" opacity="0.08"/><path d="M709.2,724.5 711.0,705.0 718.7,685.4 731.9,665.9 750.0,646.4 772.0,626.8 796.8,607.3 823.3,587.8 850.0,568.2 875.7,548.7 899.0,529.1 918.8,509.6 934.1,490.1 944.1,470.5 948.3,451.0" opacity="0.16"/><path d="M888.0,724.5 924.7,705.0 956.6,685.4 982.1,665.9 999.9,646.4 1009.1,626.8 1009.3,607.3 1000.4,587.8 983.0,568.2 957.7,548.7 926.0,529.1 889.5,509.6 849.9,490.1 809.2,470.5 769.5,451.0" opacity="0.05"/><path d="M711.4,724.5 693.2,705.0 681.8,685.4 677.8,665.9 681.3,646.4 692.2,626.8 710.0,607.3 733.7,587.8 762.2,568.2 794.0,548.7 827.6,529.1 861.2,509.6 893.2,490.1 922.0,470.5 946.1,451.0" opacity="0.09"/><path d="M769.3,724.5 783.8,705.0 800.5,685.4 818.6,665.9 837.3,646.4 855.5,626.8 872.3,607.3 887.0,587.8 898.8,568.2 907.0,548.7 911.4,529.1 911.5,509.6 907.6,490.1 899.6,470.5 888.2,451.0" opacity="0.11"/><path d="M726.0,724.5 714.1,705.0 707.9,685.4 707.8,665.9 713.7,646.4 725.5,626.8 742.4,607.3 763.6,587.8 788.1,568.2 814.6,548.7 841.9,529.1 868.5,509.6 893.1,490.1 914.4,470.5 931.5,451.0" opacity="0.15"/><path d="M1128.2,724.5 1087.8,705.0 1034.4,685.4 970.7,665.9 899.9,646.4 825.5,626.8 751.3,607.3 680.9,587.8 618.0,568.2 565.6,548.7 526.5,529.1 502.5,509.6 494.8,490.1 503.9,470.5 529.3,451.0" opacity="0.12"/><path d="M864.0,724.5 873.9,705.0 881.5,685.4 886.4,665.9 888.5,646.4 887.6,626.8 883.7,607.3 877.1,587.8 868.0,568.2 857.0,548.7 844.5,529.1 831.3,509.6 817.9,490.1 805.1,470.5 793.5,451.0" opacity="0.09"/><path d="M732.5,724.5 761.6,705.0 794.2,685.4 828.4,665.9 862.7,646.4 895.3,626.8 924.5,607.3 949.0,587.8 967.4,568.2 978.8,548.7 982.8,529.1 979.0,509.6 967.6,490.1 949.4,470.5 925.0,451.0" opacity="0.08"/><path d="M786.0,724.5 821.0,705.0 856.4,685.4 890.5,665.9 921.4,646.4 947.7,626.8 968.1,607.3 981.4,587.8 987.1,568.2 984.9,548.7 974.8,529.1 957.4,509.6 933.5,490.1 904.4,470.5 871.5,451.0" opacity="0.12"/><path d="M670.2,724.5 653.7,705.0 646.0,685.4 647.5,665.9 658.0,646.4 677.1,626.8 703.8,607.3 736.8,587.8 774.4,568.2 814.7,548.7 855.7,529.1 895.4,509.6 931.7,490.1 962.9,470.5 987.3,451.0" opacity="0.08"/><path d="M1049.1,724.5 1042.7,705.0 1025.6,685.4 998.6,665.9 963.1,646.4 920.8,626.8 874.0,607.3 824.8,587.8 775.9,568.2 729.6,548.7 688.3,529.1 654.0,509.6 628.5,490.1 613.0,470.5 608.4,451.0" opacity="0.13"/><path d="M910.3,724.5 939.9,705.0 963.9,685.4 981.2,665.9 990.8,646.4 992.2,626.8 985.5,607.3 970.9,587.8 949.2,568.2 921.4,548.7 889.0,529.1 853.6,509.6 816.9,490.1 780.9,470.5 747.2,451.0" opacity="0.04"/><path d="M855.0,724.5 825.6,705.0 796.2,685.4 768.6,665.9 743.9,646.4 723.5,626.8 708.4,607.3 699.3,587.8 696.7,568.2 700.7,548.7 711.1,529.1 727.5,509.6 748.9,490.1 774.3,470.5 802.5,451.0" opacity="0.12"/><path d="M592.5,724.5 610.0,705.0 638.5,685.4 676.5,665.9 722.2,646.4 773.2,626.8 827.0,607.3 880.9,587.8 932.1,568.2 978.2,548.7 1016.8,529.1 1046.0,509.6 1064.2,490.1 1070.7,470.5 1065.0,451.0" opacity="0.14"/><path d="M702.2,724.5 689.1,705.0 683.0,685.4 684.3,665.9 692.7,646.4 708.0,626.8 729.4,607.3 755.7,587.8 785.7,568.2 817.9,548.7 850.6,529.1 882.2,509.6 911.1,490.1 935.9,470.5 955.3,451.0" opacity="0.14"/><path d="M629.6,724.5 660.5,705.0 699.8,685.4 745.6,665.9 795.5,646.4 847.1,626.8 897.8,607.3 945.0,587.8 986.4,568.2 1019.9,548.7 1043.8,529.1 1057.0,509.6 1058.6,490.1 1048.8,470.5 1027.9,451.0" opacity="0.05"/><path d="M646.8,724.5 636.7,705.0 636.3,685.4 645.6,665.9 664.0,646.4 690.7,626.8 724.3,607.3 763.1,587.8 805.3,568.2 848.6,548.7 890.9,529.1 930.1,509.6 964.2,490.1 991.6,470.5 1010.7,451.0" opacity="0.06"/><path d="M744.4,724.5 755.4,705.0 770.1,685.4 787.8,665.9 807.4,646.4 828.2,626.8 849.0,607.3 868.8,587.8 886.5,568.2 901.4,548.7 912.6,529.1 919.6,509.6 922.1,490.1 919.9,470.5 913.1,451.0" opacity="0.10"/><path d="M811.6,724.5 814.2,705.0 817.5,685.4 821.4,665.9 825.7,646.4 830.1,626.8 834.5,607.3 838.6,587.8 842.1,568.2 845.0,548.7 847.1,529.1 848.3,509.6 848.5,490.1 847.7,470.5 845.9,451.0" opacity="0.07"/><path d="M983.8,724.5 1004.2,705.0 1015.8,685.4 1018.0,665.9 1010.7,646.4 994.2,626.8 969.5,607.3 937.7,587.8 900.5,568.2 859.7,548.7 817.3,529.1 775.4,509.6 736.3,490.1 701.8,470.5 673.7,451.0" opacity="0.12"/><path d="M771.1,724.5 748.7,705.0 730.3,685.4 716.8,665.9 708.9,646.4 707.0,626.8 711.2,607.3 721.4,587.8 736.9,568.2 757.0,548.7 780.7,529.1 806.8,509.6 834.1,490.1 861.0,470.5 886.4,451.0" opacity="0.09"/><path d="M956.7,724.5 949.1,705.0 935.5,685.4 916.5,665.9 893.2,646.4 866.6,626.8 838.1,607.3 809.1,587.8 781.1,568.2 755.6,548.7 733.6,529.1 716.5,509.6 705.0,490.1 699.7,470.5 700.8,451.0" opacity="0.14"/><path d="M872.7,724.5 915.8,705.0 954.6,685.4 987.1,665.9 1011.7,646.4 1027.1,626.8 1032.5,607.3 1027.7,587.8 1012.9,568.2 989.0,548.7 956.9,529.1 918.5,509.6 875.5,490.1 830.2,470.5 784.8,451.0" opacity="0.08"/><path d="M549.2,724.5 586.6,705.0 636.1,685.4 695.3,665.9 761.1,646.4 830.4,626.8 899.6,607.3 965.2,587.8 1024.0,568.2 1072.9,548.7 1109.7,529.1 1132.4,509.6 1139.8,490.1 1131.6,470.5 1108.3,451.0" opacity="0.06"/><path d="M831.3,724.5 800.7,705.0 771.5,685.4 745.2,665.9 723.1,646.4 706.2,626.8 695.5,607.3 691.5,587.8 694.4,568.2 704.0,548.7 719.9,529.1 741.2,509.6 766.9,490.1 795.7,470.5 826.2,451.0" opacity="0.07"/><path d="M775.9,724.5 793.8,705.0 813.3,685.4 833.7,665.9 853.8,646.4 872.7,626.8 889.3,607.3 903.0,587.8 912.9,568.2 918.5,548.7 919.7,529.1 916.3,509.6 908.6,490.1 896.8,470.5 881.6,451.0" opacity="0.05"/><path d="M615.1,724.5 616.6,705.0 628.6,685.4 650.8,665.9 681.8,646.4 720.2,626.8 764.0,607.3 811.1,587.8 859.1,568.2 905.6,548.7 948.2,529.1 984.8,509.6 1013.6,490.1 1033.1,470.5 1042.4,451.0" opacity="0.08"/><path d="M762.4,724.5 772.6,705.0 785.7,685.4 800.9,665.9 817.5,646.4 834.7,626.8 851.6,607.3 867.3,587.8 881.1,568.2 892.3,548.7 900.3,529.1 904.7,509.6 905.3,490.1 902.0,470.5 895.1,451.0" opacity="0.08"/><path d="M581.9,724.5 591.4,705.0 612.9,685.4 645.2,665.9 686.8,646.4 735.4,626.8 788.7,607.3 844.0,587.8 898.6,568.2 949.6,548.7 994.6,529.1 1031.3,509.6 1057.8,490.1 1072.9,470.5 1075.6,451.0" opacity="0.15"/><path d="M946.1,724.5 949.6,705.0 947.0,685.4 938.4,665.9 924.4,646.4 905.6,626.8 882.9,607.3 857.5,587.8 830.7,568.2 803.7,548.7 778.1,529.1 754.9,509.6 735.5,490.1 720.7,470.5 711.4,451.0" opacity="0.08"/><path d="M752.1,724.5 801.3,705.0 851.9,685.4 901.4,665.9 947.2,646.4 987.1,626.8 1019.1,607.3 1041.5,587.8 1053.2,568.2 1053.7,548.7 1042.9,529.1 1021.3,509.6 990.1,490.1 950.9,470.5 905.4,451.0" opacity="0.14"/><path d="M862.7,724.5 860.2,705.0 856.1,685.4 850.6,665.9 844.0,646.4 836.6,626.8 828.9,607.3 821.1,587.8 813.7,568.2 807.1,548.7 801.6,529.1 797.4,509.6 794.8,490.1 793.9,470.5 794.8,451.0" opacity="0.15"/><path d="M858.4,724.5 841.1,705.0 823.2,685.4 805.6,665.9 789.1,646.4 774.7,626.8 762.9,607.3 754.5,587.8 749.7,568.2 749.0,548.7 752.2,529.1 759.3,509.6 769.8,490.1 783.3,470.5 799.1,451.0" opacity="0.14"/><path d="M988.5,724.5 1003.3,705.0 1009.3,685.4 1006.2,665.9 994.3,646.4 974.1,626.8 946.5,607.3 913.1,587.8 875.5,568.2 835.4,548.7 795.1,529.1 756.5,509.6 721.4,490.1 691.8,470.5 669.0,451.0" opacity="0.05"/><path d="M654.4,724.5 695.7,705.0 743.7,685.4 796.0,665.9 849.9,646.4 902.7,626.8 951.9,607.3 994.8,587.8 1029.5,568.2 1054.0,548.7 1067.3,529.1 1068.6,509.6 1057.9,490.1 1035.7,470.5 1003.1,451.0" opacity="0.05"/><path d="M1006.5,724.5 1067.8,705.0 1117.0,685.4 1151.9,665.9 1170.5,646.4 1172.0,626.8 1156.2,607.3 1124.1,587.8 1077.1,568.2 1017.7,548.7 948.8,529.1 873.9,509.6 796.8,490.1 721.2,470.5 651.0,451.0" opacity="0.10"/><path d="M844.8,724.5 818.4,705.0 792.6,685.4 768.5,665.9 747.5,646.4 730.5,626.8 718.5,607.3 712.0,587.8 711.3,568.2 716.6,548.7 727.4,529.1 743.4,509.6 763.6,490.1 787.1,470.5 812.7,451.0" opacity="0.16"/><path d="M650.7,724.5 640.9,705.0 640.6,685.4 649.7,665.9 667.8,646.4 693.9,626.8 726.8,607.3 764.9,587.8 806.1,568.2 848.5,548.7 889.8,529.1 928.1,509.6 961.5,490.1 988.1,470.5 1006.8,451.0" opacity="0.06"/><path d="M601.8,724.5 584.8,705.0 580.1,685.4 587.8,665.9 607.6,646.4 638.5,626.8 679.0,607.3 727.0,587.8 780.0,568.2 835.5,548.7 890.7,529.1 942.7,509.6 989.1,490.1 1027.4,470.5 1055.7,451.0" opacity="0.05"/><path d="M993.6,724.5 1019.9,705.0 1036.7,685.4 1043.0,665.9 1038.6,646.4 1023.7,626.8 999.0,607.3 965.7,587.8 925.6,568.2 880.6,548.7 833.1,529.1 785.3,509.6 739.7,490.1 698.5,470.5 663.9,451.0" opacity="0.13"/><path d="M945.1,724.5 937.8,705.0 925.1,685.4 907.5,665.9 886.1,646.4 861.7,626.8 835.7,607.3 809.3,587.8 783.9,568.2 760.8,548.7 741.0,529.1 725.7,509.6 715.5,490.1 711.0,470.5 712.4,451.0" opacity="0.06"/><path d="M760.8,724.5 738.3,705.0 720.4,685.4 708.0,665.9 701.6,646.4 701.5,626.8 707.9,607.3 720.3,587.8 738.1,568.2 760.5,548.7 786.3,529.1 814.3,509.6 842.9,490.1 870.9,470.5 896.7,451.0" opacity="0.12"/><path d="M947.9,724.5 996.6,705.0 1036.8,685.4 1066.6,665.9 1084.4,646.4 1089.5,626.8 1081.4,607.3 1060.7,587.8 1028.4,568.2 986.0,548.7 935.8,529.1 880.2,509.6 822.0,490.1 764.2,470.5 709.6,451.0" opacity="0.05"/><path d="M536.1,724.5 554.7,705.0 587.2,685.4 631.7,665.9 686.1,646.4 747.7,626.8 813.3,607.3 879.7,587.8 943.6,568.2 1001.7,548.7 1051.1,529.1 1089.4,509.6 1114.6,490.1 1125.4,470.5 1121.4,451.0" opacity="0.14"/><path d="M769.5,724.5 773.3,705.0 779.8,685.4 788.7,665.9 799.7,646.4 812.1,626.8 825.4,607.3 838.8,587.8 851.8,568.2 863.5,548.7 873.6,529.1 881.3,509.6 886.5,490.1 888.7,470.5 888.0,451.0" opacity="0.15"/><path d="M922.9,724.5 940.7,705.0 952.9,685.4 958.8,665.9 958.2,646.4 951.2,626.8 938.0,607.3 919.3,587.8 896.1,568.2 869.5,548.7 840.9,529.1 811.6,509.6 783.2,490.1 757.1,470.5 734.6,451.0" opacity="0.04"/><path d="M759.8,724.5 809.6,705.0 860.5,685.4 909.7,665.9 954.9,646.4 993.7,626.8 1024.3,607.3 1045.1,587.8 1055.0,568.2 1053.6,548.7 1040.9,529.1 1017.6,509.6 984.8,490.1 944.2,470.5 897.7,451.0" opacity="0.04"/><path d="M664.8,724.5 687.4,705.0 717.1,685.4 752.4,665.9 791.5,646.4 832.5,626.8 873.3,607.3 911.8,587.8 946.2,568.2 974.7,548.7 995.9,529.1 1008.7,509.6 1012.5,490.1 1007.0,470.5 992.7,451.0" opacity="0.13"/><path d="M974.9,724.5 1025.6,705.0 1066.3,685.4 1095.1,665.9 1110.6,646.4 1111.9,626.8 1099.1,607.3 1072.7,587.8 1034.0,568.2 985.1,548.7 928.3,529.1 866.5,509.6 802.9,490.1 740.5,470.5 682.6,451.0" opacity="0.05"/><path d="M837.3,724.5 906.0,705.0 970.7,685.4 1028.4,665.9 1076.0,646.4 1111.3,626.8 1132.4,607.3 1138.2,587.8 1128.5,568.2 1103.8,548.7 1065.4,529.1 1015.0,509.6 955.3,490.1 889.3,470.5 820.2,451.0" opacity="0.06"/><path d="M609.8,724.5 657.1,705.0 713.0,685.4 774.7,665.9 839.1,646.4 903.0,626.8 963.1,607.3 1016.6,587.8 1060.6,568.2 1093.0,548.7 1112.1,529.1 1117.0,509.6 1107.5,490.1 1084.0,470.5 1047.7,451.0" opacity="0.06"/><path d="M1075.2,724.5 1108.7,705.0 1128.2,685.4 1132.7,665.9 1121.9,646.4 1096.4,626.8 1057.5,607.3 1007.2,587.8 947.9,568.2 882.6,548.7 814.6,529.1 747.3,509.6 684.1,490.1 628.2,470.5 582.3,451.0" opacity="0.14"/><path d="M620.7,724.5 637.6,705.0 664.1,685.4 698.8,665.9 740.0,646.4 785.7,626.8 833.6,607.3 881.2,587.8 926.1,568.2 966.2,548.7 999.4,529.1 1024.1,509.6 1038.9,490.1 1043.2,470.5 1036.8,451.0" opacity="0.09"/><path d="M882.2,724.5 919.6,705.0 952.4,685.4 979.0,665.9 998.1,646.4 1008.7,626.8 1010.3,607.3 1002.7,587.8 986.5,568.2 962.3,548.7 931.5,529.1 895.4,509.6 856.1,490.1 815.3,470.5 775.3,451.0" opacity="0.14"/><path d="M932.9,724.5 956.8,705.0 974.2,685.4 984.4,665.9 986.8,646.4 981.2,626.8 968.0,607.3 947.8,587.8 921.6,568.2 890.8,548.7 856.9,529.1 821.5,509.6 786.6,490.1 753.7,470.5 724.6,451.0" opacity="0.14"/><path d="M860.8,724.5 851.2,705.0 840.4,685.4 829.0,665.9 817.6,646.4 806.8,626.8 797.0,607.3 788.9,587.8 782.8,568.2 778.9,548.7 777.6,529.1 778.8,509.6 782.6,490.1 788.6,470.5 796.7,451.0" opacity="0.10"/><path d="M918.9,724.5 908.1,705.0 893.3,685.4 875.2,665.9 854.8,646.4 833.2,626.8 811.2,607.3 790.2,587.8 771.1,568.2 754.9,548.7 742.4,529.1 734.2,509.6 730.8,490.1 732.2,470.5 738.6,451.0" opacity="0.12"/><path d="M840.8,724.5 859.6,705.0 877.0,685.4 891.9,665.9 903.6,646.4 911.6,626.8 915.5,607.3 915.0,587.8 910.1,568.2 901.2,548.7 888.7,529.1 873.1,509.6 855.3,490.1 836.2,470.5 816.7,451.0" opacity="0.07"/><path d="M782.6,724.5 729.2,705.0 680.8,685.4 639.8,665.9 608.3,646.4 587.8,626.8 579.4,607.3 583.5,587.8 599.9,568.2 627.8,548.7 665.8,529.1 711.9,509.6 763.9,490.1 819.2,470.5 874.9,451.0" opacity="0.10"/><path d="M562.6,724.5 646.8,705.0 740.2,685.4 838.0,665.9 935.3,646.4 1027.3,626.8 1109.3,607.3 1177.3,587.8 1227.8,568.2 1258.2,548.7 1267.2,529.1 1254.1,509.6 1219.8,490.1 1165.8,470.5 1094.9,451.0" opacity="0.10"/><path d="M727.0,724.5 710.0,705.0 699.0,685.4 694.4,665.9 696.6,646.4 705.4,626.8 720.4,607.3 740.8,587.8 765.7,568.2 793.7,548.7 823.4,529.1 853.5,509.6 882.2,490.1 908.3,470.5 930.5,451.0" opacity="0.14"/><path d="M794.8,724.5 792.2,705.0 791.5,685.4 792.7,665.9 795.6,646.4 800.2,626.8 806.3,607.3 813.5,587.8 821.4,568.2 829.7,548.7 838.0,529.1 845.8,509.6 852.7,490.1 858.4,470.5 862.7,451.0" opacity="0.14"/><path d="M763.4,724.5 758.7,705.0 757.5,685.4 759.8,665.9 765.6,646.4 774.6,626.8 786.2,607.3 800.1,587.8 815.3,568.2 831.2,548.7 847.0,529.1 861.9,509.6 875.2,490.1 886.0,470.5 894.1,451.0" opacity="0.07"/><path d="M991.1,724.5 1019.5,705.0 1038.3,685.4 1046.5,665.9 1043.9,646.4 1030.5,626.8 1007.0,607.3 974.5,587.8 934.7,568.2 889.6,548.7 841.5,529.1 792.7,509.6 745.7,490.1 702.9,470.5 666.4,451.0" opacity="0.09"/><path d="M949.1,724.5 929.1,705.0 904.1,685.4 875.4,665.9 844.3,646.4 812.4,626.8 781.3,607.3 752.6,587.8 727.8,568.2 708.0,548.7 694.2,529.1 687.2,509.6 687.3,490.1 694.5,470.5 708.4,451.0" opacity="0.05"/><path d="M869.6,724.5 886.3,705.0 900.1,685.4 910.3,665.9 916.5,646.4 918.2,626.8 915.5,607.3 908.4,587.8 897.3,568.2 882.8,548.7 865.6,529.1 846.5,509.6 826.5,490.1 806.7,470.5 787.9,451.0" opacity="0.07"/><path d="M821.1,724.5 795.8,705.0 772.3,685.4 751.5,665.9 734.6,646.4 722.5,626.8 715.6,607.3 714.5,587.8 719.0,568.2 729.1,548.7 744.2,529.1 763.5,509.6 786.1,490.1 810.8,470.5 836.4,451.0" opacity="0.04"/><path d="M841.8,724.5 875.5,705.0 906.9,685.4 934.3,665.9 956.5,646.4 972.2,626.8 980.8,607.3 981.7,587.8 975.0,568.2 960.9,548.7 940.2,529.1 913.9,509.6 883.4,490.1 850.1,470.5 815.7,451.0" opacity="0.06"/><path d="M908.6,724.5 915.0,705.0 917.1,685.4 914.8,665.9 908.2,646.4 897.6,626.8 883.5,607.3 866.7,587.8 848.0,568.2 828.3,548.7 808.6,529.1 790.0,509.6 773.3,490.1 759.4,470.5 748.9,451.0" opacity="0.13"/><path d="M749.0,724.5 760.1,705.0 774.7,685.4 792.0,665.9 811.1,646.4 831.1,626.8 851.0,607.3 869.8,587.8 886.5,568.2 900.3,548.7 910.6,529.1 916.7,509.6 918.4,490.1 915.6,470.5 908.5,451.0" opacity="0.13"/><path d="M1032.5,724.5 1000.4,705.0 959.8,685.4 912.6,665.9 861.2,646.4 808.1,626.8 756.1,607.3 707.7,587.8 665.4,568.2 631.3,548.7 607.1,529.1 594.0,509.6 592.7,490.1 603.2,470.5 625.0,451.0" opacity="0.05"/><path d="M527.8,724.5 564.0,705.0 613.4,685.4 673.6,665.9 741.6,646.4 814.0,626.8 887.1,607.3 957.3,587.8 1021.0,568.2 1075.1,548.7 1116.9,529.1 1144.1,509.6 1155.6,490.1 1150.7,470.5 1129.7,451.0" opacity="0.13"/><path d="M863.3,724.5 883.7,705.0 901.4,685.4 915.4,665.9 925.0,646.4 929.9,626.8 929.6,607.3 924.3,587.8 914.2,568.2 899.9,548.7 881.9,529.1 861.3,509.6 839.1,490.1 816.3,470.5 794.2,451.0" opacity="0.10"/><path d="M703.5,724.5 651.2,705.0 607.9,685.4 575.6,665.9 556.1,646.4 550.2,626.8 558.3,607.3 579.9,587.8 614.0,568.2 658.9,548.7 712.3,529.1 771.6,509.6 833.7,490.1 895.5,470.5 954.0,451.0" opacity="0.11"/><path d="M730.2,724.5 762.1,705.0 797.4,685.4 834.3,665.9 870.9,646.4 905.4,626.8 936.0,607.3 961.3,587.8 979.9,568.2 990.9,548.7 993.8,529.1 988.4,509.6 975.1,490.1 954.3,470.5 927.3,451.0" opacity="0.06"/><path d="M788.4,724.5 765.6,705.0 746.1,685.4 730.6,665.9 720.1,646.4 715.1,626.8 715.7,607.3 722.0,587.8 733.6,568.2 750.1,548.7 770.4,529.1 793.7,509.6 818.8,490.1 844.3,470.5 869.1,451.0" opacity="0.06"/><path d="M855.6,724.5 885.1,705.0 911.9,685.4 934.4,665.9 951.7,646.4 962.8,626.8 967.2,607.3 964.6,587.8 955.2,568.2 939.5,548.7 918.2,529.1 892.5,509.6 863.5,490.1 832.8,470.5 801.9,451.0" opacity="0.06"/><path d="M687.0,724.5 656.5,705.0 634.7,685.4 622.6,665.9 620.9,646.4 629.5,626.8 648.2,607.3 675.9,587.8 711.3,568.2 752.6,548.7 797.7,529.1 844.3,509.6 890.2,490.1 933.0,470.5 970.5,451.0" opacity="0.10"/><path d="M925.3,724.5 954.0,705.0 976.3,685.4 991.3,665.9 998.1,646.4 996.4,626.8 986.3,607.3 968.3,587.8 943.3,568.2 912.6,548.7 877.6,529.1 840.3,509.6 802.3,490.1 765.7,470.5 732.2,451.0" opacity="0.11"/><path d="M757.6,724.5 721.0,705.0 689.8,685.4 665.6,665.9 649.6,646.4 642.5,626.8 644.8,607.3 656.3,587.8 676.5,568.2 704.3,548.7 738.3,529.1 776.9,509.6 818.1,490.1 859.8,470.5 899.9,451.0" opacity="0.09"/><path d="M798.3,724.5 833.1,705.0 867.6,685.4 900.2,665.9 929.3,646.4 953.3,626.8 971.0,607.3 981.6,587.8 984.5,568.2 979.7,548.7 967.2,529.1 947.9,509.6 922.5,490.1 892.4,470.5 859.2,451.0" opacity="0.14"/><path d="M731.4,724.5 735.5,705.0 744.3,685.4 757.3,665.9 773.9,646.4 793.2,626.8 814.4,607.3 836.2,587.8 857.7,568.2 877.7,548.7 895.3,529.1 909.5,509.6 919.7,490.1 925.3,470.5 926.1,451.0" opacity="0.14"/><path d="M932.3,724.5 936.7,705.0 935.7,685.4 929.3,665.9 917.8,646.4 901.9,626.8 882.3,607.3 860.1,587.8 836.2,568.2 812.0,548.7 788.7,529.1 767.3,509.6 749.0,490.1 734.7,470.5 725.2,451.0" opacity="0.12"/><path d="M844.8,724.5 851.4,705.0 856.9,685.4 861.0,665.9 863.4,646.4 864.2,626.8 863.1,607.3 860.4,587.8 856.0,568.2 850.3,548.7 843.5,529.1 835.9,509.6 828.0,490.1 820.2,470.5 812.7,451.0" opacity="0.13"/><path d="M884.0,724.5 910.0,705.0 931.9,685.4 948.6,665.9 959.3,646.4 963.4,626.8 960.8,607.3 951.6,587.8 936.2,568.2 915.5,548.7 890.4,529.1 862.1,509.6 832.3,490.1 802.2,470.5 773.5,451.0" opacity="0.13"/><path d="M808.1,724.5 800.3,705.0 793.9,685.4 789.2,665.9 786.6,646.4 786.0,626.8 787.6,607.3 791.3,587.8 796.8,568.2 803.9,548.7 812.3,529.1 821.5,509.6 831.1,490.1 840.6,470.5 849.4,451.0" opacity="0.11"/><path d="M764.8,724.5 763.6,705.0 765.6,685.4 770.8,665.9 778.9,646.4 789.5,626.8 802.1,607.3 816.0,587.8 830.5,568.2 845.0,548.7 858.6,529.1 870.8,509.6 880.8,490.1 888.2,470.5 892.7,451.0" opacity="0.06"/><path d="M892.3,724.5 956.8,705.0 1015.0,685.4 1063.8,665.9 1100.8,646.4 1124.2,626.8 1132.8,607.3 1126.1,587.8 1104.5,568.2 1069.1,548.7 1021.7,529.1 964.5,509.6 900.6,490.1 833.0,470.5 765.2,451.0" opacity="0.15"/><path d="M604.2,724.5 605.5,705.0 618.1,685.4 641.2,665.9 673.8,646.4 714.1,626.8 760.1,607.3 809.6,587.8 860.0,568.2 908.9,548.7 953.8,529.1 992.4,509.6 1022.8,490.1 1043.4,470.5 1053.3,451.0" opacity="0.11"/><path d="M991.9,724.5 1012.5,705.0 1023.9,685.4 1025.6,665.9 1017.3,646.4 999.7,626.8 973.4,607.3 939.9,587.8 900.8,568.2 858.1,548.7 813.9,529.1 770.5,509.6 730.0,490.1 694.5,470.5 665.6,451.0" opacity="0.16"/><path d="M933.4,724.5 921.2,705.0 904.4,685.4 883.8,665.9 860.4,646.4 835.5,626.8 810.2,607.3 785.8,587.8 763.6,568.2 744.7,548.7 730.0,529.1 720.2,509.6 715.9,490.1 717.2,470.5 724.1,451.0" opacity="0.07"/><path d="M872.1,724.5 817.6,705.0 763.7,685.4 713.0,665.9 668.2,646.4 631.4,626.8 604.5,607.3 588.8,587.8 585.2,568.2 593.8,548.7 614.1,529.1 645.3,509.6 685.6,490.1 733.1,470.5 785.4,451.0" opacity="0.05"/><path d="M792.1,724.5 798.7,705.0 806.8,685.4 816.0,665.9 825.9,646.4 835.9,626.8 845.5,607.3 854.3,587.8 861.8,568.2 867.6,548.7 871.5,529.1 873.3,509.6 872.8,490.1 870.1,470.5 865.4,451.0" opacity="0.09"/><path d="M791.3,724.5 799.9,705.0 809.9,685.4 820.9,665.9 832.3,646.4 843.5,626.8 854.0,607.3 863.2,587.8 870.6,568.2 876.0,548.7 879.0,529.1 879.5,509.6 877.5,490.1 873.0,470.5 866.2,451.0" opacity="0.10"/><path d="M980.9,724.5 958.2,705.0 929.1,685.4 894.8,665.9 857.3,646.4 818.3,626.8 779.9,607.3 743.9,587.8 712.2,568.2 686.3,548.7 667.5,529.1 656.9,509.6 654.8,490.1 661.5,470.5 676.6,451.0" opacity="0.09"/><path d="M756.2,724.5 766.6,705.0 780.1,685.4 796.1,665.9 813.7,646.4 832.0,626.8 850.2,607.3 867.3,587.8 882.5,568.2 895.0,548.7 904.2,529.1 909.5,509.6 910.9,490.1 908.1,470.5 901.3,451.0" opacity="0.14"/><path d="M601.8,724.5 595.3,705.0 600.6,685.4 617.3,665.9 644.6,646.4 681.1,626.8 725.1,607.3 774.2,587.8 826.1,568.2 878.1,548.7 927.6,529.1 972.2,509.6 1009.6,490.1 1037.9,470.5 1055.7,451.0" opacity="0.11"/><path d="M881.7,724.5 906.4,705.0 927.2,685.4 943.1,665.9 953.2,646.4 957.1,626.8 954.5,607.3 945.7,587.8 931.0,568.2 911.1,548.7 887.2,529.1 860.3,509.6 831.8,490.1 803.1,470.5 775.8,451.0" opacity="0.12"/><path d="M869.0,724.5 874.5,705.0 877.7,685.4 878.4,665.9 876.6,646.4 872.4,626.8 866.1,607.3 857.9,587.8 848.2,568.2 837.5,548.7 826.4,529.1 815.4,509.6 805.1,490.1 796.0,470.5 788.5,451.0" opacity="0.12"/><path d="M943.1,724.5 893.1,705.0 839.8,685.4 786.0,665.9 734.3,646.4 687.4,626.8 647.5,607.3 616.8,587.8 596.6,568.2 588.1,548.7 591.7,529.1 607.1,509.6 633.7,490.1 670.1,470.5 714.4,451.0" opacity="0.10"/><path d="M1025.6,724.5 1003.2,705.0 972.1,685.4 933.7,665.9 890.2,646.4 843.5,626.8 796.1,607.3 750.3,587.8 708.5,568.2 672.7,548.7 644.7,529.1 626.0,509.6 617.4,490.1 619.4,470.5 631.9,451.0" opacity="0.14"/><path d="M704.7,724.5 708.7,705.0 718.8,685.4 734.4,665.9 754.7,646.4 778.8,626.8 805.3,607.3 833.0,587.8 860.5,568.2 886.4,548.7 909.4,529.1 928.4,509.6 942.4,490.1 950.7,470.5 952.8,451.0" opacity="0.13"/><path d="M1055.7,724.5 1083.2,705.0 1097.9,685.4 1099.1,665.9 1086.8,646.4 1061.5,626.8 1024.5,607.3 977.8,587.8 923.5,568.2 864.5,548.7 803.8,529.1 744.2,509.6 688.9,490.1 640.6,470.5 601.8,451.0" opacity="0.06"/><path d="M828.6,724.5 830.1,705.0 831.6,685.4 832.9,665.9 834.0,646.4 834.8,626.8 835.3,607.3 835.5,587.8 835.4,568.2 834.9,548.7 834.1,529.1 833.1,509.6 831.8,490.1 830.4,470.5 828.9,451.0" opacity="0.10"/><path d="M837.9,724.5 852.1,705.0 865.2,685.4 876.4,665.9 885.2,646.4 891.2,626.8 894.0,607.3 893.6,587.8 890.0,568.2 883.2,548.7 873.8,529.1 862.0,509.6 848.6,490.1 834.2,470.5 819.6,451.0" opacity="0.07"/><path d="M815.0,724.5 830.3,705.0 845.5,685.4 860.0,665.9 872.8,646.4 883.5,626.8 891.4,607.3 896.1,587.8 897.5,568.2 895.4,548.7 890.0,529.1 881.5,509.6 870.4,490.1 857.2,470.5 842.5,451.0" opacity="0.04"/><path d="M684.6,724.5 746.1,705.0 811.8,685.4 878.3,665.9 942.4,646.4 1000.7,626.8 1050.4,607.3 1089.0,587.8 1114.6,568.2 1125.8,548.7 1122.1,529.1 1103.8,509.6 1071.6,490.1 1027.2,470.5 972.9,451.0" opacity="0.09"/><path d="M827.7,724.5 818.2,705.0 809.2,685.4 801.1,665.9 794.5,646.4 789.5,626.8 786.6,607.3 785.7,587.8 787.0,568.2 790.4,548.7 795.8,529.1 802.7,509.6 811.0,490.1 820.2,470.5 829.8,451.0" opacity="0.11"/><path d="M754.2,724.5 796.9,705.0 841.2,685.4 884.9,665.9 925.8,646.4 961.8,626.8 991.1,607.3 1012.3,587.8 1024.3,568.2 1026.4,548.7 1018.7,529.1 1001.5,509.6 975.5,490.1 942.3,470.5 903.3,451.0" opacity="0.10"/><path d="M859.6,724.5 894.2,705.0 925.5,685.4 952.0,665.9 972.3,646.4 985.4,626.8 990.6,607.3 987.8,587.8 976.9,568.2 958.6,548.7 933.8,529.1 903.8,509.6 869.9,490.1 834.0,470.5 797.9,451.0" opacity="0.07"/><path d="M830.4,724.5 845.9,705.0 860.6,685.4 873.7,665.9 884.5,646.4 892.5,626.8 897.4,607.3 898.7,587.8 896.6,568.2 891.1,548.7 882.5,529.1 871.1,509.6 857.6,490.1 842.7,470.5 827.1,451.0" opacity="0.12"/><path d="M749.2,724.5 733.0,705.0 721.6,685.4 715.6,665.9 715.2,646.4 720.6,626.8 731.3,607.3 747.0,587.8 766.8,568.2 789.6,548.7 814.5,529.1 840.0,509.6 865.0,490.1 888.2,470.5 908.3,451.0" opacity="0.05"/><path d="M1061.8,724.5 1061.9,705.0 1050.3,685.4 1027.6,665.9 995.0,646.4 954.0,626.8 906.7,607.3 855.5,587.8 803.0,568.2 751.7,548.7 704.4,529.1 663.2,509.6 630.4,490.1 607.5,470.5 595.7,451.0" opacity="0.08"/><path d="M934.4,724.5 930.9,705.0 922.2,685.4 908.8,665.9 891.4,646.4 870.9,626.8 848.3,607.3 824.7,587.8 801.3,568.2 779.2,548.7 759.7,529.1 743.6,509.6 731.8,490.1 724.8,470.5 723.1,451.0" opacity="0.06"/><path d="M604.2,724.5 665.7,705.0 735.4,685.4 809.8,665.9 885.2,646.4 957.7,626.8 1023.7,607.3 1080.0,587.8 1123.7,568.2 1152.6,548.7 1165.2,529.1 1161.0,509.6 1140.1,490.1 1103.6,470.5 1053.3,451.0" opacity="0.14"/><path d="M674.8,724.5 619.8,705.0 575.4,685.4 543.6,665.9 526.1,646.4 523.8,626.8 536.8,607.3 564.5,587.8 605.3,568.2 657.4,548.7 718.1,529.1 784.3,509.6 852.8,490.1 920.0,470.5 982.7,451.0" opacity="0.08"/><path d="M732.5,724.5 702.5,705.0 678.8,685.4 662.7,665.9 654.8,646.4 655.7,626.8 665.3,607.3 683.1,587.8 708.1,568.2 739.3,548.7 774.9,529.1 813.2,509.6 852.3,490.1 890.2,470.5 925.0,451.0" opacity="0.10"/><path d="M717.7,724.5 726.9,705.0 741.3,685.4 760.0,665.9 782.1,646.4 806.6,626.8 832.2,607.3 857.6,587.8 881.6,568.2 902.9,548.7 920.6,529.1 933.6,509.6 941.3,490.1 943.4,470.5 939.8,451.0" opacity="0.16"/><path d="M896.1,724.5 906.8,705.0 913.7,685.4 916.3,665.9 914.5,646.4 908.4,626.8 898.3,607.3 884.7,587.8 868.4,568.2 850.0,548.7 830.6,529.1 811.0,509.6 792.4,490.1 775.6,470.5 761.4,451.0" opacity="0.12"/><path d="M866.9,724.5 854.8,705.0 841.5,685.4 827.5,665.9 813.6,646.4 800.4,626.8 788.7,607.3 779.0,587.8 771.7,568.2 767.3,548.7 766.1,529.1 767.9,509.6 772.8,490.1 780.5,470.5 790.6,451.0" opacity="0.06"/><path d="M764.3,724.5 782.6,705.0 803.2,685.4 825.1,665.9 847.2,646.4 868.4,626.8 887.5,607.3 903.7,587.8 916.2,568.2 924.2,548.7 927.5,529.1 925.9,509.6 919.3,490.1 908.2,470.5 893.2,451.0" opacity="0.09"/><path d="M942.8,724.5 944.6,705.0 940.6,685.4 930.9,665.9 916.2,646.4 897.0,626.8 874.4,607.3 849.6,587.8 823.7,568.2 798.0,548.7 773.9,529.1 752.5,509.6 735.0,490.1 722.2,470.5 714.7,451.0" opacity="0.09"/><path d="M909.5,724.5 916.5,705.0 919.2,685.4 917.3,665.9 911.0,646.4 900.5,626.8 886.5,607.3 869.5,587.8 850.6,568.2 830.5,548.7 810.3,529.1 791.1,509.6 773.7,490.1 759.1,470.5 748.0,451.0" opacity="0.08"/><path d="M904.8,724.5 884.3,705.0 860.9,685.4 836.0,665.9 810.7,646.4 786.3,626.8 764.0,607.3 744.9,587.8 730.1,568.2 720.2,548.7 715.8,529.1 717.0,509.6 723.8,490.1 735.9,470.5 752.7,451.0" opacity="0.13"/><path d="M850.6,724.5 817.5,705.0 784.9,685.4 754.4,665.9 727.8,646.4 706.2,626.8 690.7,607.3 682.1,587.8 681.0,568.2 687.2,548.7 700.5,529.1 720.2,509.6 745.4,490.1 774.8,470.5 806.9,451.0" opacity="0.13"/><path d="M838.9,724.5 848.5,705.0 857.1,685.4 864.3,665.9 869.7,646.4 873.0,626.8 874.1,607.3 873.0,587.8 869.6,568.2 864.2,548.7 857.0,529.1 848.4,509.6 838.8,490.1 828.7,470.5 818.6,451.0" opacity="0.10"/><path d="M856.5,724.5 868.8,705.0 879.1,685.4 886.9,665.9 891.8,646.4 893.5,626.8 891.9,607.3 887.2,587.8 879.6,568.2 869.4,548.7 857.2,529.1 843.5,509.6 829.1,490.1 814.7,470.5 801.0,451.0" opacity="0.16"/><path d="M935.7,724.5 881.8,705.0 825.2,685.4 768.8,665.9 715.4,646.4 667.7,626.8 628.0,607.3 598.4,587.8 580.4,568.2 574.8,548.7 582.0,529.1 601.5,509.6 632.4,490.1 673.2,470.5 721.8,451.0" opacity="0.05"/><path d="M970.8,724.5 969.9,705.0 962.0,685.4 947.4,665.9 926.8,646.4 901.3,626.8 872.2,607.3 840.9,587.8 809.0,568.2 778.1,548.7 749.7,529.1 725.3,509.6 706.1,490.1 693.0,470.5 686.7,451.0" opacity="0.09"/><path d="M738.7,724.5 699.5,705.0 666.9,685.4 642.3,665.9 627.1,646.4 622.0,626.8 627.2,607.3 642.6,587.8 667.3,568.2 700.1,548.7 739.4,529.1 783.1,509.6 829.1,490.1 875.1,470.5 918.8,451.0" opacity="0.11"/><path d="M1030.3,724.5 1009.2,705.0 979.0,685.4 941.4,665.9 898.0,646.4 851.2,626.8 803.3,607.3 756.7,587.8 713.6,568.2 676.4,548.7 646.7,529.1 626.3,509.6 615.9,490.1 616.2,470.5 627.2,451.0" opacity="0.12"/><path d="M465.1,724.5 452.3,705.0 458.4,685.4 483.0,665.9 525.0,646.4 582.2,626.8 651.8,607.3 730.2,587.8 813.6,568.2 897.8,548.7 978.4,529.1 1051.6,509.6 1113.6,490.1 1161.3,470.5 1192.4,451.0" opacity="0.06"/><path d="M711.7,724.5 739.7,705.0 772.1,685.4 807.4,665.9 843.8,646.4 879.4,626.8 912.5,607.3 941.4,587.8 964.6,568.2 981.0,548.7 989.8,529.1 990.5,509.6 983.1,490.1 968.0,470.5 945.8,451.0" opacity="0.13"/><path d="M649.6,724.5 695.4,705.0 747.8,685.4 804.2,665.9 861.9,646.4 918.0,626.8 969.5,607.3 1014.0,587.8 1049.2,568.2 1073.4,548.7 1085.3,529.1 1084.3,509.6 1070.5,490.1 1044.6,470.5 1007.9,451.0" opacity="0.10"/><path d="M1008.9,724.5 1034.5,705.0 1049.8,685.4 1054.0,665.9 1046.9,646.4 1028.9,626.8 1000.8,607.3 964.1,587.8 920.6,568.2 872.5,548.7 822.2,529.1 772.3,509.6 725.1,490.1 683.2,470.5 648.6,451.0" opacity="0.06"/><path d="M1025.5,724.5 987.5,705.0 941.6,685.4 890.0,665.9 835.4,646.4 780.4,626.8 727.8,607.3 680.3,587.8 640.3,568.2 609.7,548.7 590.0,529.1 582.4,509.6 587.1,490.1 603.9,470.5 632.0,451.0" opacity="0.09"/><path d="M922.0,724.5 930.7,705.0 934.4,685.4 932.7,665.9 925.9,646.4 914.1,626.8 898.1,607.3 878.6,587.8 856.6,568.2 833.2,548.7 809.6,529.1 787.0,509.6 766.4,490.1 749.0,470.5 735.5,451.0" opacity="0.08"/><path d="M922.0,724.5 899.2,705.0 872.7,685.4 844.1,665.9 814.7,646.4 786.0,626.8 759.5,607.3 736.4,587.8 717.9,568.2 705.1,548.7 698.4,529.1 698.2,509.6 704.6,490.1 717.2,470.5 735.5,451.0" opacity="0.14"/><path d="M931.1,724.5 907.1,705.0 879.1,685.4 848.7,665.9 817.2,646.4 786.4,626.8 757.6,607.3 732.4,587.8 712.1,568.2 697.6,548.7 689.6,529.1 688.7,509.6 694.8,490.1 707.6,470.5 726.4,451.0" opacity="0.06"/><path d="M789.6,724.5 760.7,705.0 735.1,685.4 714.3,665.9 699.2,646.4 690.5,626.8 688.9,607.3 694.2,587.8 706.3,568.2 724.5,548.7 748.0,529.1 775.5,509.6 805.6,490.1 837.0,470.5 867.9,451.0" opacity="0.08"/><path d="M903.1,724.5 856.3,705.0 808.2,685.4 761.1,665.9 717.4,646.4 679.3,626.8 648.6,607.3 627.0,587.8 615.6,568.2 614.8,548.7 624.7,529.1 644.9,509.6 674.3,490.1 711.4,470.5 754.4,451.0" opacity="0.14"/><path d="M793.4,724.5 787.3,705.0 783.2,685.4 781.5,665.9 782.1,646.4 785.0,626.8 790.1,607.3 797.2,587.8 805.9,568.2 815.7,548.7 826.1,529.1 836.7,509.6 846.9,490.1 856.2,470.5 864.1,451.0" opacity="0.05"/><path d="M807.9,724.5 781.6,705.0 757.7,685.4 737.4,665.9 721.7,646.4 711.3,626.8 706.8,607.3 708.4,587.8 716.1,568.2 729.4,548.7 747.7,529.1 770.1,509.6 795.4,490.1 822.3,470.5 849.6,451.0" opacity="0.16"/><path d="M727.1,724.5 670.6,705.0 622.0,685.4 583.7,665.9 557.8,646.4 545.4,626.8 547.2,607.3 563.2,587.8 592.5,568.2 633.6,548.7 684.5,529.1 742.6,509.6 805.1,490.1 868.7,470.5 930.4,451.0" opacity="0.09"/><path d="M839.7,724.5 860.4,705.0 879.5,685.4 896.0,665.9 909.2,646.4 918.3,626.8 923.0,607.3 922.9,587.8 918.1,568.2 908.8,548.7 895.5,529.1 878.9,509.6 859.7,490.1 839.0,470.5 817.8,451.0" opacity="0.12"/><path d="M859.1,724.5 848.8,705.0 837.6,685.4 825.9,665.9 814.4,646.4 803.5,626.8 794.0,607.3 786.2,587.8 780.5,568.2 777.2,548.7 776.6,529.1 778.5,509.6 783.0,490.1 789.7,470.5 798.4,451.0" opacity="0.05"/><path d="M812.3,724.5 819.3,705.0 826.7,685.4 834.2,665.9 841.5,646.4 848.1,626.8 853.8,607.3 858.1,587.8 861.1,568.2 862.4,548.7 862.0,529.1 859.9,509.6 856.3,490.1 851.3,470.5 845.2,451.0" opacity="0.11"/><path d="M713.6,724.5 629.6,705.0 555.6,685.4 495.3,665.9 451.7,646.4 427.1,626.8 422.5,607.3 438.4,587.8 473.8,568.2 527.0,548.7 595.4,529.1 675.4,509.6 763.2,490.1 854.2,470.5 943.9,451.0" opacity="0.11"/><path d="M593.3,724.5 578.4,705.0 576.1,685.4 586.4,665.9 608.9,646.4 642.4,626.8 685.3,607.3 735.3,587.8 790.1,568.2 846.7,548.7 902.5,529.1 954.6,509.6 1000.4,490.1 1037.5,470.5 1064.2,451.0" opacity="0.14"/><path d="M957.0,724.5 953.7,705.0 944.1,685.4 928.7,665.9 908.4,646.4 884.0,626.8 856.9,607.3 828.3,587.8 799.8,568.2 772.7,548.7 748.5,529.1 728.2,509.6 713.0,490.1 703.7,470.5 700.5,451.0" opacity="0.10"/><path d="M834.7,724.5 789.4,705.0 746.0,685.4 706.8,665.9 673.7,646.4 648.4,626.8 632.2,607.3 625.8,587.8 629.5,568.2 643.3,548.7 666.4,529.1 697.6,509.6 735.3,490.1 777.8,470.5 822.8,451.0" opacity="0.07"/><path d="M984.7,724.5 1014.8,705.0 1035.6,685.4 1046.0,665.9 1045.5,646.4 1034.1,626.8 1012.5,607.3 981.6,587.8 943.1,568.2 898.8,548.7 851.0,529.1 802.1,509.6 754.5,490.1 710.7,470.5 672.8,451.0" opacity="0.07"/><path d="M703.2,724.5 676.5,705.0 657.5,685.4 647.0,665.9 645.7,646.4 653.5,626.8 670.2,607.3 694.8,587.8 726.1,568.2 762.5,548.7 802.3,529.1 843.4,509.6 883.7,490.1 921.4,470.5 954.3,451.0" opacity="0.05"/><path d="M967.6,724.5 969.9,705.0 965.2,685.4 953.6,665.9 935.7,646.4 912.5,626.8 885.1,607.3 854.9,587.8 823.3,568.2 792.0,548.7 762.6,529.1 736.5,509.6 715.0,490.1 699.2,470.5 689.9,451.0" opacity="0.09"/><path d="M869.2,724.5 881.6,705.0 891.4,685.4 898.0,665.9 901.2,646.4 900.7,626.8 896.6,607.3 889.1,587.8 878.6,568.2 865.6,548.7 850.7,529.1 834.8,509.6 818.5,490.1 802.7,470.5 788.3,451.0" opacity="0.12"/><path d="M754.8,724.5 741.1,705.0 731.7,685.4 727.3,665.9 727.9,646.4 733.6,626.8 744.0,607.3 758.7,587.8 776.9,568.2 797.8,548.7 820.1,529.1 842.9,509.6 865.0,490.1 885.3,470.5 902.7,451.0" opacity="0.15"/><path d="M642.3,724.5 609.9,705.0 588.4,685.4 579.0,665.9 582.1,646.4 597.6,626.8 624.7,607.3 662.0,587.8 707.6,568.2 759.4,548.7 814.6,529.1 870.5,509.6 924.4,490.1 973.4,470.5 1015.2,451.0" opacity="0.13"/><path d="M967.0,724.5 966.9,705.0 959.8,685.4 946.2,665.9 926.7,646.4 902.3,626.8 874.2,607.3 843.8,587.8 812.7,568.2 782.3,548.7 754.3,529.1 730.1,509.6 710.7,490.1 697.3,470.5 690.5,451.0" opacity="0.15"/><path d="M740.4,724.5 703.7,705.0 673.4,685.4 650.8,665.9 637.1,646.4 633.0,626.8 638.8,607.3 654.0,587.8 678.1,568.2 709.7,548.7 747.2,529.1 788.9,509.6 832.5,490.1 876.0,470.5 917.1,451.0" opacity="0.06"/><path d="M703.4,724.5 728.3,705.0 758.3,685.4 791.8,665.9 827.1,646.4 862.6,626.8 896.3,607.3 926.7,587.8 952.1,568.2 971.3,548.7 983.4,529.1 987.8,509.6 984.2,490.1 972.7,470.5 954.1,451.0" opacity="0.11"/><path d="M824.0,724.5 814.9,705.0 806.5,685.4 799.2,665.9 793.4,646.4 789.4,626.8 787.3,607.3 787.3,587.8 789.4,568.2 793.5,548.7 799.3,529.1 806.6,509.6 815.0,490.1 824.1,470.5 833.5,451.0" opacity="0.13"/><path d="M850.0,724.5 854.4,705.0 857.5,685.4 859.3,665.9 859.4,646.4 858.1,626.8 855.2,607.3 851.1,587.8 845.8,568.2 839.7,548.7 833.0,529.1 826.1,509.6 819.3,490.1 813.0,470.5 807.5,451.0" opacity="0.07"/><path d="M780.4,724.5 822.4,705.0 864.6,685.4 905.0,665.9 941.7,646.4 972.6,626.8 996.4,607.3 1011.7,587.8 1017.9,568.2 1014.6,548.7 1001.9,529.1 980.6,509.6 951.7,490.1 916.6,470.5 877.1,451.0" opacity="0.08"/><path d="M808.5,724.5 813.3,705.0 819.0,685.4 825.1,665.9 831.4,646.4 837.6,626.8 843.3,607.3 848.3,587.8 852.3,568.2 855.2,548.7 856.7,529.1 856.8,509.6 855.5,490.1 852.9,470.5 849.0,451.0" opacity="0.15"/><path d="M741.6,724.5 743.7,705.0 750.2,685.4 760.5,665.9 774.3,646.4 790.8,626.8 809.2,607.3 828.6,587.8 848.0,568.2 866.5,548.7 883.0,529.1 896.8,509.6 907.2,490.1 913.7,470.5 915.9,451.0" opacity="0.13"/><path d="M1158.2,724.5 1144.7,705.0 1115.3,685.4 1071.6,665.9 1015.7,646.4 950.4,626.8 879.0,607.3 805.1,587.8 732.4,568.2 664.6,548.7 604.9,529.1 556.5,509.6 521.7,490.1 502.3,470.5 499.3,451.0" opacity="0.08"/><path d="M864.2,724.5 921.1,705.0 973.4,685.4 1018.4,665.9 1054.0,646.4 1078.2,626.8 1089.9,607.3 1088.6,587.8 1074.2,568.2 1047.5,548.7 1009.8,529.1 963.0,509.6 909.6,490.1 852.0,470.5 793.3,451.0" opacity="0.05"/><path d="M858.8,724.5 821.5,705.0 784.5,685.4 749.7,665.9 718.9,646.4 693.6,626.8 675.1,607.3 664.3,587.8 661.7,568.2 667.5,548.7 681.4,529.1 702.7,509.6 730.3,490.1 762.9,470.5 798.7,451.0" opacity="0.07"/><path d="M934.5,724.5 967.7,705.0 994.1,685.4 1012.1,665.9 1020.9,646.4 1020.1,626.8 1009.7,607.3 990.2,587.8 962.6,568.2 928.4,548.7 889.1,529.1 846.8,509.6 803.6,490.1 761.6,470.5 723.0,451.0" opacity="0.06"/><path d="M1014.5,724.5 1047.3,705.0 1069.2,685.4 1079.1,665.9 1076.4,646.4 1061.3,626.8 1034.5,607.3 997.4,587.8 951.9,568.2 900.1,548.7 844.8,529.1 788.7,509.6 734.6,490.1 685.2,470.5 643.0,451.0" opacity="0.11"/><path d="M891.5,724.5 871.8,705.0 849.9,685.4 826.9,665.9 804.0,646.4 782.4,626.8 763.1,607.3 747.1,587.8 735.1,568.2 727.9,548.7 725.7,529.1 728.7,509.6 736.7,490.1 749.3,470.5 766.0,451.0" opacity="0.10"/><path d="M751.5,724.5 734.3,705.0 721.8,685.4 714.7,665.9 713.3,646.4 717.7,626.8 727.6,607.3 742.7,587.8 762.0,568.2 784.7,548.7 809.6,529.1 835.5,509.6 861.0,490.1 884.9,470.5 906.0,451.0" opacity="0.10"/><path d="M997.2,724.5 963.9,705.0 923.8,685.4 878.9,665.9 831.5,646.4 784.0,626.8 738.7,607.3 698.0,587.8 663.7,568.2 637.8,548.7 621.4,529.1 615.5,509.6 620.2,490.1 635.4,470.5 660.3,451.0" opacity="0.09"/><path d="M749.0,724.5 800.1,705.0 852.7,685.4 904.0,665.9 951.6,646.4 993.1,626.8 1026.3,607.3 1049.5,587.8 1061.8,568.2 1062.3,548.7 1051.1,529.1 1028.8,509.6 996.4,490.1 955.7,470.5 908.5,451.0" opacity="0.09"/><path d="M844.7,724.5 839.4,705.0 833.6,685.4 827.5,665.9 821.5,646.4 815.9,626.8 810.9,607.3 806.8,587.8 803.8,568.2 802.0,548.7 801.6,529.1 802.6,509.6 804.8,490.1 808.3,470.5 812.8,451.0" opacity="0.05"/><path d="M721.8,724.5 756.2,705.0 794.4,685.4 834.2,665.9 873.7,646.4 911.0,626.8 944.2,607.3 971.6,587.8 991.8,568.2 1003.8,548.7 1007.1,529.1 1001.4,509.6 987.1,490.1 964.8,470.5 935.7,451.0" opacity="0.08"/><path d="M735.5,724.5 759.5,705.0 786.9,685.4 816.5,665.9 846.7,646.4 876.0,626.8 902.9,607.3 926.1,587.8 944.4,568.2 956.9,548.7 963.0,529.1 962.4,509.6 955.0,490.1 941.4,470.5 922.0,451.0" opacity="0.11"/><path d="M747.1,724.5 783.0,705.0 821.2,685.4 859.7,665.9 896.7,646.4 930.3,626.8 958.8,607.3 980.7,587.8 995.1,568.2 1001.1,548.7 998.5,529.1 987.3,509.6 968.2,490.1 942.1,470.5 910.4,451.0" opacity="0.10"/><path d="M677.4,724.5 671.8,705.0 674.1,685.4 684.1,665.9 701.4,646.4 725.0,626.8 753.9,607.3 786.5,587.8 821.2,568.2 856.3,548.7 890.1,529.1 920.7,509.6 946.8,490.1 966.9,470.5 980.1,451.0" opacity="0.12"/><path d="M710.1,724.5 726.2,705.0 747.5,685.4 772.8,665.9 801.0,646.4 830.5,626.8 859.9,607.3 887.8,587.8 912.7,568.2 933.5,548.7 948.9,529.1 958.3,509.6 961.3,490.1 957.6,470.5 947.4,451.0" opacity="0.08"/><path d="M715.4,724.5 715.7,705.0 721.6,685.4 733.0,665.9 749.1,646.4 769.2,626.8 792.3,607.3 817.2,587.8 842.7,568.2 867.5,548.7 890.4,529.1 910.2,509.6 925.9,490.1 936.7,470.5 942.1,451.0" opacity="0.11"/><path d="M779.8,724.5 782.9,705.0 788.4,685.4 795.8,665.9 804.9,646.4 815.3,626.8 826.3,607.3 837.4,587.8 848.1,568.2 857.8,548.7 866.0,529.1 872.4,509.6 876.6,490.1 878.4,470.5 877.7,451.0" opacity="0.06"/><path d="M782.2,724.5 770.4,705.0 761.4,685.4 755.9,665.9 754.0,646.4 755.9,626.8 761.4,607.3 770.3,587.8 782.1,568.2 796.3,548.7 812.1,529.1 828.7,509.6 845.3,490.1 861.1,470.5 875.3,451.0" opacity="0.12"/><path d="M657.4,724.5 663.5,705.0 677.9,685.4 699.9,665.9 728.4,646.4 761.9,626.8 798.7,607.3 837.0,587.8 875.0,568.2 910.6,548.7 942.1,529.1 967.9,509.6 986.8,490.1 997.7,470.5 1000.1,451.0" opacity="0.14"/><path d="M909.3,724.5 903.2,705.0 893.4,685.4 880.3,665.9 864.7,646.4 847.3,626.8 828.9,607.3 810.5,587.8 793.1,568.2 777.4,548.7 764.3,529.1 754.4,509.6 748.3,490.1 746.2,470.5 748.2,451.0" opacity="0.05"/><path d="M874.8,724.5 894.4,705.0 910.7,685.4 922.9,665.9 930.3,646.4 932.7,626.8 929.8,607.3 921.9,587.8 909.3,568.2 892.7,548.7 872.9,529.1 850.8,509.6 827.7,490.1 804.6,470.5 782.7,451.0" opacity="0.13"/><path d="M671.3,724.5 631.2,705.0 601.1,685.4 582.3,665.9 575.9,646.4 582.2,626.8 600.8,607.3 630.9,587.8 670.9,568.2 718.8,548.7 772.2,529.1 828.5,509.6 884.8,490.1 938.2,470.5 986.2,451.0" opacity="0.12"/><path d="M777.9,724.5 736.0,705.0 698.6,685.4 667.8,665.9 645.1,646.4 631.5,626.8 627.9,607.3 634.3,587.8 650.5,568.2 675.6,548.7 708.4,529.1 747.2,509.6 790.2,490.1 835.0,470.5 879.6,451.0" opacity="0.06"/><path d="M824.9,724.5 794.7,705.0 766.2,685.4 740.9,665.9 720.0,646.4 704.5,626.8 695.2,607.3 692.7,587.8 697.0,568.2 707.8,548.7 724.8,529.1 746.9,509.6 773.2,490.1 802.2,470.5 832.6,451.0" opacity="0.08"/><path d="M859.9,724.5 867.1,705.0 872.4,685.4 875.5,665.9 876.2,646.4 874.6,626.8 870.6,607.3 864.6,587.8 856.8,568.2 847.5,548.7 837.4,529.1 826.7,509.6 816.2,490.1 806.3,470.5 797.6,451.0" opacity="0.08"/><path d="M881.3,724.5 847.0,705.0 811.7,685.4 777.3,665.9 745.5,646.4 717.8,626.8 695.8,607.3 680.3,587.8 672.4,568.2 672.2,548.7 679.9,529.1 695.1,509.6 717.0,490.1 744.5,470.5 776.2,451.0" opacity="0.12"/><path d="M697.8,724.5 711.6,705.0 731.3,685.4 755.9,665.9 784.2,646.4 814.6,626.8 845.8,607.3 876.2,587.8 904.1,568.2 928.3,548.7 947.5,529.1 960.7,509.6 967.3,490.1 967.0,470.5 959.7,451.0" opacity="0.13"/><path d="M978.7,724.5 957.4,705.0 929.7,685.4 896.9,665.9 860.7,646.4 822.9,626.8 785.4,607.3 750.1,587.8 718.7,568.2 692.8,548.7 673.8,529.1 662.5,509.6 659.5,490.1 665.1,470.5 678.8,451.0" opacity="0.10"/><path d="M721.8,724.5 729.2,705.0 741.6,685.4 758.4,665.9 778.7,646.4 801.5,626.8 825.7,607.3 850.0,587.8 873.3,568.2 894.3,548.7 912.1,529.1 925.7,509.6 934.4,490.1 937.8,470.5 935.7,451.0" opacity="0.14"/><path d="M979.1,724.5 937.8,705.0 890.9,685.4 841.0,665.9 790.5,646.4 741.8,626.8 697.6,607.3 659.9,587.8 630.6,568.2 611.4,548.7 603.0,529.1 605.9,509.6 620.0,490.1 644.6,470.5 678.4,451.0" opacity="0.04"/><path d="M709.3,724.5 708.4,705.0 713.6,685.4 724.5,665.9 740.7,646.4 761.3,626.8 785.2,607.3 811.4,587.8 838.4,568.2 864.9,548.7 889.7,529.1 911.3,509.6 928.9,490.1 941.4,470.5 948.2,451.0" opacity="0.06"/><path d="M806.3,724.5 808.6,705.0 811.8,685.4 816.0,665.9 820.7,646.4 825.9,626.8 831.2,607.3 836.4,587.8 841.2,568.2 845.4,548.7 848.7,529.1 851.1,509.6 852.3,490.1 852.3,470.5 851.2,451.0" opacity="0.05"/><path d="M978.5,724.5 987.6,705.0 988.7,685.4 981.8,665.9 967.3,646.4 945.7,626.8 918.4,607.3 886.5,587.8 851.7,568.2 815.8,548.7 780.5,529.1 747.7,509.6 718.9,490.1 695.6,470.5 679.0,451.0" opacity="0.07"/><path d="M794.8,724.5 816.9,705.0 839.6,685.4 861.7,665.9 882.2,646.4 900.0,626.8 914.2,607.3 924.2,587.8 929.3,568.2 929.4,548.7 924.5,529.1 914.8,509.6 900.7,490.1 883.1,470.5 862.7,451.0" opacity="0.09"/><path d="M990.7,724.5 994.4,705.0 989.9,685.4 977.3,665.9 957.2,646.4 930.7,626.8 899.0,607.3 863.9,587.8 827.0,568.2 790.1,548.7 755.2,529.1 724.0,509.6 698.1,490.1 678.7,470.5 666.8,451.0" opacity="0.12"/><path d="M987.4,724.5 938.9,705.0 885.0,685.4 828.3,665.9 771.5,646.4 717.7,626.8 669.4,607.3 629.1,587.8 598.8,568.2 580.0,548.7 573.8,529.1 580.3,509.6 599.2,490.1 629.7,470.5 670.1,451.0" opacity="0.08"/><path d="M995.2,724.5 982.3,705.0 961.8,685.4 934.5,665.9 901.9,646.4 865.7,626.8 827.6,607.3 789.6,587.8 753.6,568.2 721.3,548.7 694.4,529.1 674.2,509.6 661.8,490.1 657.7,470.5 662.3,451.0" opacity="0.06"/><path d="M856.8,724.5 872.5,705.0 886.1,685.4 896.8,665.9 904.1,646.4 907.6,626.8 907.2,607.3 902.8,587.8 894.7,568.2 883.3,548.7 869.2,529.1 853.0,509.6 835.7,490.1 817.9,470.5 800.7,451.0" opacity="0.09"/><path d="M862.1,724.5 874.2,705.0 884.0,685.4 891.1,665.9 895.0,646.4 895.7,626.8 892.9,607.3 887.0,587.8 878.1,568.2 866.8,548.7 853.5,529.1 839.0,509.6 824.0,490.1 809.2,470.5 795.4,451.0" opacity="0.06"/><path d="M739.6,724.5 762.5,705.0 788.7,685.4 816.9,665.9 845.7,646.4 873.6,626.8 899.3,607.3 921.5,587.8 939.0,568.2 951.0,548.7 956.8,529.1 956.3,509.6 949.3,490.1 936.3,470.5 917.9,451.0" opacity="0.16"/><path d="M899.0,724.5 872.9,705.0 844.5,685.4 815.3,665.9 786.9,646.4 760.5,626.8 737.5,607.3 719.1,587.8 706.2,568.2 699.5,548.7 699.2,529.1 705.4,509.6 717.9,490.1 735.8,470.5 758.5,451.0" opacity="0.09"/><path d="M699.0,724.5 680.7,705.0 669.8,685.4 667.0,665.9 672.2,646.4 685.3,626.8 705.5,607.3 732.0,587.8 763.3,568.2 797.9,548.7 834.0,529.1 869.9,509.6 903.7,490.1 933.8,470.5 958.5,451.0" opacity="0.07"/><path d="M819.9,724.5 801.0,705.0 783.4,685.4 768.1,665.9 755.9,646.4 747.3,626.8 742.8,607.3 742.6,587.8 746.7,568.2 755.0,548.7 766.9,529.1 781.9,509.6 799.3,490.1 818.2,470.5 837.6,451.0" opacity="0.05"/><path d="M857.9,724.5 859.7,705.0 860.0,685.4 858.7,665.9 855.8,646.4 851.7,626.8 846.3,607.3 840.1,587.8 833.4,568.2 826.4,548.7 819.5,529.1 813.0,509.6 807.4,490.1 802.8,470.5 799.6,451.0" opacity="0.14"/><path d="M783.3,724.5 818.9,705.0 854.9,685.4 889.7,665.9 921.4,646.4 948.4,626.8 969.5,607.3 983.5,587.8 989.7,568.2 987.9,548.7 978.1,529.1 960.8,509.6 936.8,490.1 907.5,470.5 874.2,451.0" opacity="0.07"/><path d="M896.0,724.5 869.4,705.0 840.7,685.4 811.4,665.9 783.0,646.4 756.8,626.8 734.3,607.3 716.5,587.8 704.4,568.2 698.4,548.7 699.1,529.1 706.2,509.6 719.4,490.1 738.2,470.5 761.5,451.0" opacity="0.16"/><path d="M1077.1,724.5 1117.6,705.0 1143.6,685.4 1153.8,665.9 1147.8,646.4 1125.7,626.8 1088.7,607.3 1038.7,587.8 978.2,568.2 910.2,548.7 838.1,529.1 765.5,509.6 696.1,490.1 633.3,470.5 580.4,451.0" opacity="0.14"/><path d="M923.6,724.5 876.2,705.0 826.4,685.4 776.7,665.9 729.6,646.4 687.5,626.8 652.5,607.3 626.3,587.8 610.3,568.2 605.2,548.7 611.4,529.1 628.4,509.6 655.5,490.1 691.3,470.5 733.9,451.0" opacity="0.14"/><path d="M1001.5,724.5 1003.8,705.0 997.3,685.4 982.4,665.9 959.8,646.4 930.6,626.8 896.3,607.3 858.6,587.8 819.4,568.2 780.7,548.7 744.4,529.1 712.3,509.6 686.1,490.1 667.0,470.5 656.0,451.0" opacity="0.16"/><path d="M1008.8,724.5 994.9,705.0 972.6,685.4 943.1,665.9 907.9,646.4 868.7,626.8 827.5,607.3 786.3,587.8 747.3,568.2 712.4,548.7 683.3,529.1 661.5,509.6 648.1,490.1 643.7,470.5 648.7,451.0" opacity="0.10"/><path d="M811.8,724.5 824.4,705.0 837.3,685.4 849.7,665.9 861.1,646.4 870.9,626.8 878.5,607.3 883.7,587.8 886.1,568.2 885.6,548.7 882.3,529.1 876.3,509.6 867.9,490.1 857.5,470.5 845.7,451.0" opacity="0.14"/><path d="M950.0,724.5 961.6,705.0 966.6,685.4 964.7,665.9 955.9,646.4 940.8,626.8 920.0,607.3 894.7,587.8 866.1,568.2 835.6,548.7 804.7,529.1 775.1,509.6 748.1,490.1 725.2,470.5 707.5,451.0" opacity="0.05"/><path d="M885.4,724.5 856.3,705.0 825.9,685.4 795.5,665.9 766.9,646.4 741.3,626.8 720.2,607.3 704.4,587.8 695.0,568.2 692.2,548.7 696.2,529.1 707.0,509.6 723.8,490.1 745.9,470.5 772.1,451.0" opacity="0.06"/><path d="M906.3,724.5 905.0,705.0 899.9,685.4 891.2,665.9 879.3,646.4 865.0,626.8 848.8,607.3 831.6,587.8 814.3,568.2 797.7,548.7 782.6,529.1 769.9,509.6 760.1,490.1 753.8,470.5 751.2,451.0" opacity="0.05"/><path d="M602.7,724.5 624.3,705.0 656.1,685.4 696.6,665.9 743.7,646.4 795.1,626.8 848.2,607.3 900.3,587.8 948.8,568.2 991.3,548.7 1025.6,529.1 1050.1,509.6 1063.5,490.1 1065.1,470.5 1054.8,451.0" opacity="0.13"/><path d="M812.1,724.5 779.7,705.0 749.7,685.4 723.7,665.9 702.9,646.4 688.5,626.8 681.1,607.3 681.1,587.8 688.5,568.2 702.9,548.7 723.6,529.1 749.7,509.6 779.7,490.1 812.1,470.5 845.4,451.0" opacity="0.14"/><path d="M917.5,724.5 975.5,705.0 1026.2,685.4 1067.0,665.9 1095.8,646.4 1111.2,626.8 1112.4,607.3 1099.5,587.8 1072.9,568.2 1034.1,548.7 985.1,529.1 928.1,509.6 866.2,490.1 802.4,470.5 740.0,451.0" opacity="0.08"/><path d="M673.2,724.5 645.9,705.0 627.8,685.4 619.7,665.9 622.1,646.4 634.9,626.8 657.4,607.3 688.5,587.8 726.6,568.2 769.9,548.7 816.1,529.1 862.9,509.6 908.0,490.1 949.2,470.5 984.3,451.0" opacity="0.09"/><path d="M768.5,724.5 734.0,705.0 704.3,685.4 680.9,665.9 664.8,646.4 657.0,626.8 657.8,607.3 667.1,587.8 684.6,568.2 709.3,548.7 740.0,529.1 775.1,509.6 812.9,490.1 851.5,470.5 889.0,451.0" opacity="0.08"/><path d="M1013.3,724.5 1055.2,705.0 1085.7,685.4 1103.3,665.9 1107.1,646.4 1097.0,626.8 1073.5,607.3 1037.6,587.8 991.3,568.2 936.9,548.7 877.0,529.1 814.7,509.6 753.1,490.1 695.3,470.5 644.2,451.0" opacity="0.07"/><path d="M923.2,724.5 937.6,705.0 946.4,685.4 949.4,665.9 946.3,646.4 937.3,626.8 922.9,607.3 903.8,587.8 880.8,568.2 855.3,548.7 828.5,529.1 801.6,509.6 776.2,490.1 753.3,470.5 734.3,451.0" opacity="0.09"/><path d="M744.8,724.5 711.8,705.0 684.7,685.4 664.8,665.9 653.1,646.4 650.2,626.8 656.3,607.3 671.0,587.8 693.7,568.2 723.1,548.7 757.8,529.1 796.0,509.6 835.9,490.1 875.5,470.5 912.7,451.0" opacity="0.10"/><path d="M938.4,724.5 911.9,705.0 881.2,685.4 847.9,665.9 813.6,646.4 780.0,626.8 748.9,607.3 721.8,587.8 700.1,568.2 684.8,548.7 676.8,529.1 676.3,509.6 683.5,490.1 698.0,470.5 719.1,451.0" opacity="0.05"/><path d="M945.0,724.5 984.6,705.0 1016.4,685.4 1038.7,665.9 1050.6,646.4 1051.3,626.8 1040.8,607.3 1019.7,587.8 989.1,568.2 950.4,548.7 905.6,529.1 856.9,509.6 806.8,490.1 757.9,470.5 712.5,451.0" opacity="0.11"/><path d="M790.8,724.5 809.3,705.0 828.8,685.4 848.3,665.9 866.9,646.4 883.5,626.8 897.4,607.3 907.8,587.8 914.2,568.2 916.4,548.7 914.2,529.1 907.7,509.6 897.2,490.1 883.3,470.5 866.7,451.0" opacity="0.13"/><path d="M1123.9,724.5 1145.6,705.0 1151.4,685.4 1141.1,665.9 1115.0,646.4 1074.7,626.8 1021.9,607.3 959.6,587.8 890.6,568.2 818.5,548.7 747.0,529.1 679.5,509.6 619.6,490.1 570.1,470.5 533.6,451.0" opacity="0.11"/><path d="M840.3,724.5 863.8,705.0 885.6,685.4 904.4,665.9 919.5,646.4 930.1,626.8 935.5,607.3 935.6,587.8 930.4,568.2 920.0,548.7 905.1,529.1 886.3,509.6 864.7,490.1 841.2,470.5 817.2,451.0" opacity="0.07"/><path d="M819.5,724.5 776.8,705.0 736.6,685.4 701.0,665.9 671.9,646.4 650.6,626.8 638.2,607.3 635.4,587.8 642.3,568.2 658.6,548.7 683.3,529.1 715.4,509.6 753.2,490.1 794.7,470.5 838.0,451.0" opacity="0.10"/><path d="M743.0,724.5 750.7,705.0 762.4,685.4 777.3,665.9 794.9,646.4 814.2,626.8 834.2,607.3 853.9,587.8 872.3,568.2 888.6,548.7 901.9,529.1 911.5,509.6 916.9,490.1 918.0,470.5 914.5,451.0" opacity="0.09"/><path d="M794.1,724.5 819.6,705.0 845.5,685.4 870.6,665.9 893.6,646.4 913.3,626.8 928.8,607.3 939.3,587.8 944.2,568.2 943.4,548.7 936.8,529.1 924.7,509.6 907.9,490.1 887.1,470.5 863.4,451.0" opacity="0.13"/><path d="M933.3,724.5 962.2,705.0 984.4,685.4 998.8,665.9 1004.6,646.4 1001.7,626.8 990.0,607.3 970.3,587.8 943.5,568.2 911.0,548.7 874.3,529.1 835.3,509.6 796.0,490.1 758.3,470.5 724.2,451.0" opacity="0.15"/><path d="M703.5,724.5 628.0,705.0 562.5,685.4 510.4,665.9 474.3,646.4 455.9,626.8 456.2,607.3 475.2,587.8 512.0,568.2 564.6,548.7 630.5,529.1 706.3,509.6 788.2,490.1 872.2,470.5 954.0,451.0" opacity="0.09"/><path d="M900.8,724.5 864.5,705.0 826.5,685.4 788.6,665.9 752.7,646.4 720.6,626.8 693.9,607.3 674.0,587.8 661.9,568.2 658.1,548.7 662.9,529.1 676.0,509.6 696.7,490.1 724.1,470.5 756.7,451.0" opacity="0.15"/><path d="M846.0,724.5 808.7,705.0 772.5,685.4 739.0,665.9 710.1,646.4 687.1,626.8 671.3,607.3 663.3,587.8 663.6,568.2 672.2,548.7 688.6,529.1 712.1,509.6 741.4,490.1 775.1,470.5 811.5,451.0" opacity="0.13"/><path d="M950.8,724.5 931.5,705.0 907.0,685.4 878.6,665.9 847.7,646.4 815.9,626.8 784.7,607.3 755.7,587.8 730.4,568.2 710.0,548.7 695.5,529.1 687.8,509.6 687.1,490.1 693.5,470.5 706.7,451.0" opacity="0.13"/><path d="M838.4,724.5 841.4,705.0 843.7,685.4 845.3,665.9 846.0,646.4 845.9,626.8 844.9,607.3 843.1,587.8 840.6,568.2 837.5,548.7 833.9,529.1 830.1,509.6 826.2,490.1 822.5,470.5 819.1,451.0" opacity="0.09"/><path d="M1003.0,724.5 1031.9,705.0 1050.6,685.4 1058.2,665.9 1054.3,646.4 1039.0,626.8 1013.3,607.3 978.2,587.8 935.7,568.2 887.8,548.7 837.0,529.1 785.7,509.6 736.6,490.1 692.2,470.5 654.5,451.0" opacity="0.10"/><path d="M877.4,724.5 855.8,705.0 832.9,685.4 809.8,665.9 787.7,646.4 767.6,626.8 750.5,607.3 737.4,587.8 728.9,568.2 725.4,548.7 727.1,529.1 733.8,509.6 745.3,490.1 761.0,470.5 780.1,451.0" opacity="0.09"/><path d="M906.0,724.5 901.8,705.0 894.0,685.4 882.9,665.9 869.1,646.4 853.3,626.8 836.2,607.3 818.8,587.8 801.9,568.2 786.3,548.7 772.8,529.1 762.2,509.6 754.8,490.1 751.2,470.5 751.5,451.0" opacity="0.16"/><path d="M800.4,724.5 795.8,705.0 792.7,685.4 791.5,665.9 792.1,646.4 794.6,626.8 798.8,607.3 804.5,587.8 811.4,568.2 819.2,548.7 827.4,529.1 835.7,509.6 843.7,490.1 850.9,470.5 857.1,451.0" opacity="0.08"/><path d="M999.7,724.5 1008.7,705.0 1008.7,685.4 999.6,665.9 982.0,646.4 956.7,626.8 925.0,607.3 888.4,587.8 848.9,568.2 808.3,548.7 768.8,529.1 732.3,509.6 700.6,490.1 675.4,470.5 657.8,451.0" opacity="0.10"/><path d="M945.2,724.5 956.8,705.0 962.0,685.4 960.4,665.9 952.3,646.4 938.0,626.8 918.1,607.3 893.9,587.8 866.3,568.2 836.9,548.7 807.0,529.1 778.3,509.6 752.0,490.1 729.7,470.5 712.3,451.0" opacity="0.05"/><path d="M611.6,724.5 621.3,705.0 641.5,685.4 671.0,665.9 708.5,646.4 752.0,626.8 799.3,607.3 848.1,587.8 895.9,568.2 940.4,548.7 979.3,529.1 1010.6,509.6 1032.8,490.1 1044.8,470.5 1045.9,451.0" opacity="0.11"/><path d="M885.4,724.5 845.9,705.0 805.6,685.4 766.3,665.9 730.3,646.4 699.1,626.8 674.5,607.3 657.6,587.8 649.3,568.2 649.9,548.7 659.6,529.1 677.7,509.6 703.4,490.1 735.4,470.5 772.1,451.0" opacity="0.12"/><path d="M786.3,724.5 756.4,705.0 730.2,685.4 708.9,665.9 693.6,646.4 685.1,626.8 683.8,607.3 689.8,587.8 702.7,568.2 722.0,548.7 746.6,529.1 775.3,509.6 806.7,490.1 839.3,470.5 871.2,451.0" opacity="0.05"/><path d="M764.2,724.5 717.0,705.0 675.3,685.4 641.3,665.9 616.7,646.4 602.8,626.8 600.2,607.3 609.0,587.8 628.9,568.2 658.8,548.7 697.2,529.1 742.2,509.6 791.5,490.1 842.7,470.5 893.3,451.0" opacity="0.06"/><path d="M1012.4,724.5 1022.8,705.0 1023.5,685.4 1014.4,665.9 996.0,646.4 969.2,626.8 935.4,607.3 896.2,587.8 853.7,568.2 809.9,548.7 767.0,529.1 727.2,509.6 692.6,490.1 664.7,470.5 645.1,451.0" opacity="0.15"/><path d="M725.3,724.5 752.4,705.0 783.4,685.4 816.6,665.9 850.5,646.4 883.3,626.8 913.3,607.3 939.1,587.8 959.3,568.2 973.1,548.7 979.5,529.1 978.5,509.6 969.9,490.1 954.2,470.5 932.2,451.0" opacity="0.15"/><path d="M927.9,724.5 945.2,705.0 956.8,685.4 961.9,665.9 960.3,646.4 952.2,626.8 937.8,607.3 918.0,587.8 893.7,568.2 866.2,548.7 836.8,529.1 806.9,509.6 778.2,490.1 752.0,470.5 729.6,451.0" opacity="0.16"/><path d="M721.3,724.5 708.1,705.0 701.0,685.4 700.2,665.9 705.9,646.4 717.8,626.8 735.2,607.3 757.3,587.8 783.0,568.2 811.0,548.7 839.9,529.1 868.2,509.6 894.6,490.1 917.6,470.5 936.2,451.0" opacity="0.14"/><path d="M657.8,724.5 693.0,705.0 735.0,685.4 781.7,665.9 830.8,646.4 879.7,626.8 926.1,607.3 967.7,587.8 1002.2,568.2 1028.1,548.7 1043.9,529.1 1049.0,509.6 1043.0,490.1 1026.3,470.5 999.7,451.0" opacity="0.16"/><path d="M927.1,724.5 885.8,705.0 841.6,685.4 796.8,665.9 753.6,646.4 714.1,626.8 680.4,607.3 654.1,587.8 636.6,568.2 628.7,548.7 630.9,529.1 642.9,509.6 664.3,490.1 694.0,470.5 730.4,451.0" opacity="0.14"/><path d="M925.2,724.5 922.2,705.0 914.5,685.4 902.5,665.9 886.9,646.4 868.3,626.8 847.7,607.3 826.2,587.8 804.8,568.2 784.6,548.7 766.6,529.1 751.7,509.6 740.7,490.1 734.2,470.5 732.3,451.0" opacity="0.08"/><path d="M954.1,724.5 930.0,705.0 900.9,685.4 868.2,665.9 833.5,646.4 798.6,626.8 765.1,607.3 734.9,587.8 709.4,568.2 689.8,548.7 677.3,529.1 672.3,509.6 675.1,490.1 685.7,470.5 703.4,451.0" opacity="0.14"/><path d="M710.9,724.5 783.1,705.0 857.6,685.4 930.7,665.9 998.7,646.4 1058.1,626.8 1106.0,607.3 1140.1,587.8 1158.5,568.2 1160.4,548.7 1145.6,529.1 1115.0,509.6 1070.0,490.1 1012.9,470.5 946.6,451.0" opacity="0.12"/><path d="M934.4,724.5 950.3,705.0 960.1,685.4 963.3,665.9 959.8,646.4 949.7,626.8 933.6,607.3 912.2,587.8 886.6,568.2 858.1,548.7 828.1,529.1 798.2,509.6 769.8,490.1 744.4,470.5 723.1,451.0" opacity="0.11"/><path d="M958.8,724.5 951.8,705.0 938.6,685.4 919.9,665.9 896.6,646.4 869.9,626.8 841.2,607.3 811.8,587.8 783.3,568.2 757.0,548.7 734.4,529.1 716.5,509.6 704.2,490.1 698.2,470.5 698.7,451.0" opacity="0.11"/><path d="M991.1,724.5 961.8,705.0 925.8,685.4 885.0,665.9 841.3,646.4 797.0,626.8 754.3,607.3 715.3,587.8 682.0,568.2 656.1,548.7 638.8,529.1 631.1,509.6 633.2,490.1 645.2,470.5 666.4,451.0" opacity="0.05"/><path d="M723.0,724.5 732.3,705.0 746.5,685.4 764.8,665.9 786.3,646.4 809.9,626.8 834.5,607.3 858.8,587.8 881.6,568.2 901.7,548.7 918.2,529.1 930.2,509.6 937.1,490.1 938.6,470.5 934.5,451.0" opacity="0.14"/><path d="M800.4,724.5 854.7,705.0 907.7,685.4 956.8,665.9 999.4,646.4 1033.5,626.8 1057.3,607.3 1069.6,587.8 1069.9,568.2 1058.1,548.7 1034.8,529.1 1001.1,509.6 958.8,490.1 910.0,470.5 857.1,451.0" opacity="0.07"/><path d="M847.5,724.5 870.9,705.0 892.2,685.4 910.4,665.9 924.4,646.4 933.6,626.8 937.6,607.3 936.1,587.8 929.3,568.2 917.4,548.7 901.0,529.1 881.0,509.6 858.4,490.1 834.4,470.5 810.0,451.0" opacity="0.09"/><path d="M1039.3,724.5 1070.9,705.0 1090.5,685.4 1096.9,665.9 1089.8,646.4 1069.7,626.8 1037.5,607.3 994.8,587.8 943.8,568.2 887.0,548.7 827.3,529.1 767.7,509.6 711.1,490.1 660.5,470.5 618.2,451.0" opacity="0.09"/><path d="M885.5,724.5 812.6,705.0 740.4,685.4 672.7,665.9 612.8,646.4 563.7,626.8 527.9,607.3 507.2,587.8 502.6,568.2 514.4,548.7 542.0,529.1 583.9,509.6 638.1,490.1 701.8,470.5 772.0,451.0" opacity="0.11"/><path d="M970.2,724.5 964.9,705.0 952.9,685.4 934.6,665.9 911.1,646.4 883.4,626.8 852.9,607.3 821.3,587.8 790.0,568.2 760.7,548.7 734.7,529.1 713.5,509.6 698.1,490.1 689.2,470.5 687.3,451.0" opacity="0.12"/><path d="M994.1,724.5 968.0,705.0 935.0,685.4 896.7,665.9 854.9,646.4 811.9,626.8 769.6,607.3 730.4,587.8 696.1,568.2 668.4,548.7 648.8,529.1 638.2,509.6 637.1,490.1 645.7,470.5 663.4,451.0" opacity="0.07"/><path d="M638.4,724.5 672.3,705.0 714.1,685.4 761.6,665.9 812.4,646.4 864.1,626.8 914.0,607.3 959.7,587.8 998.7,568.2 1029.3,548.7 1049.8,529.1 1059.2,509.6 1057.0,490.1 1043.4,470.5 1019.1,451.0" opacity="0.07"/><path d="M689.1,724.5 653.9,705.0 627.4,685.4 611.0,665.9 605.5,646.4 611.2,626.8 627.9,607.3 654.6,587.8 690.0,568.2 732.4,548.7 779.6,529.1 829.3,509.6 879.0,490.1 926.1,470.5 968.4,451.0" opacity="0.15"/><path d="M845.0,724.5 879.0,705.0 910.5,685.4 937.8,665.9 959.8,646.4 975.1,626.8 983.1,607.3 983.4,587.8 975.9,568.2 961.0,548.7 939.5,529.1 912.5,509.6 881.2,490.1 847.3,470.5 812.5,451.0" opacity="0.06"/><path d="M738.7,724.5 746.7,705.0 758.9,685.4 774.6,665.9 793.0,646.4 813.2,626.8 834.2,607.3 854.9,587.8 874.2,568.2 891.4,548.7 905.3,529.1 915.5,509.6 921.2,490.1 922.4,470.5 918.8,451.0" opacity="0.08"/><path d="M830.2,724.5 855.8,705.0 880.0,685.4 901.7,665.9 919.7,646.4 933.1,626.8 941.3,607.3 943.9,587.8 940.7,568.2 931.9,548.7 917.9,529.1 899.4,509.6 877.4,490.1 853.0,470.5 827.3,451.0" opacity="0.11"/><path d="M749.4,724.5 785.7,705.0 824.2,685.4 863.0,665.9 900.0,646.4 933.5,626.8 961.7,607.3 983.2,587.8 997.0,568.2 1002.4,548.7 999.0,529.1 987.1,509.6 967.3,490.1 940.5,470.5 908.1,451.0" opacity="0.13"/><path d="M945.6,724.5 971.4,705.0 990.0,685.4 1000.6,665.9 1002.6,646.4 995.8,626.8 980.6,607.3 957.9,587.8 928.7,568.2 894.4,548.7 856.9,529.1 817.9,509.6 779.5,490.1 743.6,470.5 711.9,451.0" opacity="0.15"/><path d="M847.5,724.5 857.5,705.0 866.0,685.4 872.7,665.9 877.2,646.4 879.2,626.8 878.7,607.3 875.7,587.8 870.4,568.2 862.9,548.7 853.8,529.1 843.4,509.6 832.2,490.1 820.9,470.5 810.0,451.0" opacity="0.08"/><path d="M1020.2,724.5 1037.2,705.0 1043.8,685.4 1039.6,665.9 1024.8,646.4 1000.1,626.8 966.9,607.3 926.8,587.8 881.7,568.2 834.0,548.7 786.0,529.1 740.2,509.6 698.8,490.1 663.9,470.5 637.3,451.0" opacity="0.13"/><path d="M846.9,724.5 815.1,705.0 784.0,685.4 755.1,665.9 729.9,646.4 709.7,626.8 695.5,607.3 687.9,587.8 687.4,568.2 693.9,548.7 707.3,529.1 726.7,509.6 751.2,490.1 779.7,470.5 810.6,451.0" opacity="0.08"/><path d="M748.9,724.5 740.2,705.0 736.0,685.4 736.4,665.9 741.5,646.4 750.9,626.8 764.2,607.3 780.8,587.8 799.8,568.2 820.2,548.7 841.0,529.1 861.3,509.6 879.9,490.1 895.9,470.5 908.6,451.0" opacity="0.13"/><path d="M857.3,724.5 852.4,705.0 846.2,685.4 839.2,665.9 831.6,646.4 824.0,626.8 816.5,607.3 809.7,587.8 803.8,568.2 799.2,548.7 796.0,529.1 794.5,509.6 794.7,490.1 796.6,470.5 800.2,451.0" opacity="0.08"/><path d="M967.1,724.5 953.8,705.0 934.2,685.4 909.4,665.9 880.4,646.4 848.9,626.8 816.4,607.3 784.5,587.8 754.8,568.2 728.8,548.7 707.9,529.1 693.0,509.6 684.9,490.1 684.0,470.5 690.4,451.0" opacity="0.10"/></g>
<g fill="none" stroke="#0878ff" stroke-width="16" filter="url(#bl4)" opacity="0.45"><path d="M1011.5,724.5 1010.5,715.4 1007.5,706.3 1002.6,697.1 995.7,688.0 987.0,678.9 976.6,669.8 964.6,660.7 951.0,651.6 936.2,642.5 920.1,633.3 903.1,624.2 885.2,615.1 866.7,606.0 847.9,596.9 828.8,587.8 809.6,578.6 790.8,569.5 772.3,560.4 754.4,551.3 737.4,542.2 721.3,533.0 706.5,523.9 692.9,514.8 680.9,505.7 670.5,496.6 661.8,487.5 654.9,478.4 650.0,469.2 647.0,460.1 646.0,451.0"/><path d="M646.0,724.5 647.0,715.4 650.0,706.3 654.9,697.1 661.8,688.0 670.5,678.9 680.9,669.8 692.9,660.7 706.5,651.6 721.3,642.5 737.4,633.3 754.4,624.2 772.3,615.1 790.8,606.0 809.6,596.9 828.8,587.8 847.9,578.6 866.7,569.5 885.2,560.4 903.1,551.3 920.1,542.2 936.2,533.0 951.0,523.9 964.6,514.8 976.6,505.7 987.0,496.6 995.7,487.5 1002.6,478.4 1007.5,469.2 1010.5,460.1 1011.5,451.0"/><path d="M828.8,724.5 847.9,715.4 866.7,706.3 885.2,697.1 903.1,688.0 920.1,678.9 936.2,669.8 951.0,660.7 964.6,651.6 976.6,642.5 987.0,633.3 995.7,624.2 1002.6,615.1 1007.5,606.0 1010.5,596.9 1011.5,587.8 1010.5,578.6 1007.5,569.5 1002.6,560.4 995.7,551.3 987.0,542.2 976.6,533.0 964.6,523.9 951.0,514.8 936.2,505.7 920.1,496.6 903.1,487.5 885.2,478.4 866.7,469.2 847.9,460.1 828.8,451.0"/><path d="M828.8,724.5 809.6,715.4 790.8,706.3 772.3,697.1 754.4,688.0 737.4,678.9 721.3,669.8 706.5,660.7 692.9,651.6 680.9,642.5 670.5,633.3 661.8,624.2 654.9,615.1 650.0,606.0 647.0,596.9 646.0,587.8 647.0,578.6 650.0,569.5 654.9,560.4 661.8,551.3 670.5,542.2 680.9,533.0 692.9,523.9 706.5,514.8 721.3,505.7 737.4,496.6 754.4,487.5 772.3,478.4 790.8,469.2 809.6,460.1 828.8,451.0"/></g>
<g filter="url(#bl4)" fill="#0010d4" opacity="0.7"><ellipse cx="664" cy="520" rx="30" ry="48"/><ellipse cx="668" cy="657" rx="32" ry="50"/><ellipse cx="990" cy="516" rx="32" ry="55"/><ellipse cx="990" cy="654" rx="32" ry="52"/></g>
<g filter="url(#bl4)" fill="#0010d4" opacity="0.4"><ellipse cx="835.603125" cy="464.675" rx="32" ry="18"/><ellipse cx="828.75" cy="713.56" rx="30" ry="16"/></g>
<g fill="none" stroke="#20d0ff" stroke-width="6" filter="url(#bl2)" opacity="0.38"><path d="M952.1,724.5 951.7,717.7 950.6,710.8 948.7,704.0 946.1,697.1 942.7,690.3 938.7,683.5 933.9,676.6 928.5,669.8 922.6,663.0 916.0,656.1 908.9,649.3 901.3,642.5 893.2,635.6 884.8,628.8 876.0,621.9 866.9,615.1 857.5,608.3 848.0,601.4 838.4,594.6 828.8,587.8 819.1,580.9 809.5,574.1 800.0,567.2 790.6,560.4 781.5,553.6 772.7,546.7 764.3,539.9 756.2,533.0 748.6,526.2 741.5,519.4 734.9,512.5 729.0,505.7 723.6,498.9 718.8,492.0 714.8,485.2 711.4,478.4 708.8,471.5 706.9,464.7 705.8,457.8 705.4,451.0"/><path d="M882.4,724.5 882.3,717.7 881.8,710.8 880.9,704.0 879.8,697.1 878.3,690.3 876.6,683.5 874.5,676.6 872.2,669.8 869.6,663.0 866.7,656.1 863.6,649.3 860.3,642.5 856.8,635.6 853.1,628.8 849.3,621.9 845.3,615.1 841.3,608.3 837.1,601.4 833.0,594.6 828.8,587.8 824.5,580.9 820.4,574.1 816.2,567.2 812.2,560.4 808.2,553.6 804.4,546.7 800.7,539.9 797.2,533.0 793.9,526.2 790.8,519.4 787.9,512.5 785.3,505.7 783.0,498.9 780.9,492.0 779.2,485.2 777.7,478.4 776.6,471.5 775.7,464.7 775.2,457.8 775.1,451.0"/><path d="M765.9,724.5 766.1,717.7 766.7,710.8 767.7,704.0 769.0,697.1 770.7,690.3 772.8,683.5 775.2,676.6 777.9,669.8 781.0,663.0 784.3,656.1 788.0,649.3 791.8,642.5 795.9,635.6 800.2,628.8 804.7,621.9 809.3,615.1 814.1,608.3 818.9,601.4 823.8,594.6 828.8,587.8 833.7,580.9 838.6,574.1 843.4,567.2 848.2,560.4 852.8,553.6 857.3,546.7 861.6,539.9 865.7,533.0 869.5,526.2 873.2,519.4 876.5,512.5 879.6,505.7 882.3,498.9 884.7,492.0 886.8,485.2 888.5,478.4 889.8,471.5 890.8,464.7 891.4,457.8 891.6,451.0"/></g>
<g fill="none" stroke="#30e8ff" stroke-width="2.2" filter="url(#bl1)" opacity="0.6"><path d="M952.1,724.5 951.7,717.7 950.6,710.8 948.7,704.0 946.1,697.1 942.7,690.3 938.7,683.5 933.9,676.6 928.5,669.8 922.6,663.0 916.0,656.1 908.9,649.3 901.3,642.5 893.2,635.6 884.8,628.8 876.0,621.9 866.9,615.1 857.5,608.3 848.0,601.4 838.4,594.6 828.8,587.8 819.1,580.9 809.5,574.1 800.0,567.2 790.6,560.4 781.5,553.6 772.7,546.7 764.3,539.9 756.2,533.0 748.6,526.2 741.5,519.4 734.9,512.5 729.0,505.7 723.6,498.9 718.8,492.0 714.8,485.2 711.4,478.4 708.8,471.5 706.9,464.7 705.8,457.8 705.4,451.0"/><path d="M882.4,724.5 882.3,717.7 881.8,710.8 880.9,704.0 879.8,697.1 878.3,690.3 876.6,683.5 874.5,676.6 872.2,669.8 869.6,663.0 866.7,656.1 863.6,649.3 860.3,642.5 856.8,635.6 853.1,628.8 849.3,621.9 845.3,615.1 841.3,608.3 837.1,601.4 833.0,594.6 828.8,587.8 824.5,580.9 820.4,574.1 816.2,567.2 812.2,560.4 808.2,553.6 804.4,546.7 800.7,539.9 797.2,533.0 793.9,526.2 790.8,519.4 787.9,512.5 785.3,505.7 783.0,498.9 780.9,492.0 779.2,485.2 777.7,478.4 776.6,471.5 775.7,464.7 775.2,457.8 775.1,451.0"/><path d="M765.9,724.5 766.1,717.7 766.7,710.8 767.7,704.0 769.0,697.1 770.7,690.3 772.8,683.5 775.2,676.6 777.9,669.8 781.0,663.0 784.3,656.1 788.0,649.3 791.8,642.5 795.9,635.6 800.2,628.8 804.7,621.9 809.3,615.1 814.1,608.3 818.9,601.4 823.8,594.6 828.8,587.8 833.7,580.9 838.6,574.1 843.4,567.2 848.2,560.4 852.8,553.6 857.3,546.7 861.6,539.9 865.7,533.0 869.5,526.2 873.2,519.4 876.5,512.5 879.6,505.7 882.3,498.9 884.7,492.0 886.8,485.2 888.5,478.4 889.8,471.5 890.8,464.7 891.4,457.8 891.6,451.0"/></g>
<g fill="none" stroke="#40f0f0" stroke-width="2.0" filter="url(#bl05)" opacity="0.9" mask="url(#rmask)"><path d="M938.7,683.5 935.4,678.7 931.9,673.9 928.0,669.1 923.8,664.3 919.3,659.5 914.6,654.8 909.6,650.0 904.4,645.2 898.9,640.4 893.2,635.6 887.3,630.8 881.3,626.0 875.1,621.3 868.7,616.5 862.2,611.7 855.7,606.9 849.0,602.1 842.3,597.3 835.5,592.5 828.8,587.8 822.0,583.0 815.2,578.2 808.5,573.4 801.8,568.6 795.3,563.8 788.8,559.0 782.4,554.2 776.2,549.5 770.2,544.7 764.3,539.9 758.6,535.1 753.1,530.3 747.9,525.5 742.9,520.7 738.2,516.0 733.7,511.2 729.5,506.4 725.6,501.6 722.1,496.8 718.8,492.0"/><path d="M876.6,683.5 875.2,678.7 873.6,673.9 871.9,669.1 870.1,664.3 868.2,659.5 866.1,654.8 863.9,650.0 861.7,645.2 859.3,640.4 856.8,635.6 854.2,630.8 851.6,626.0 848.9,621.3 846.1,616.5 843.3,611.7 840.5,606.9 837.6,602.1 834.6,597.3 831.7,592.5 828.8,587.8 825.8,583.0 822.9,578.2 819.9,573.4 817.0,568.6 814.2,563.8 811.4,559.0 808.6,554.2 805.9,549.5 803.3,544.7 800.7,539.9 798.2,535.1 795.8,530.3 793.6,525.5 791.4,520.7 789.3,516.0 787.4,511.2 785.6,506.4 783.9,501.6 782.3,496.8 780.9,492.0"/><path d="M772.8,683.5 774.4,678.7 776.2,673.9 778.2,669.1 780.3,664.3 782.6,659.5 785.0,654.8 787.6,650.0 790.2,645.2 793.0,640.4 795.9,635.6 798.9,630.8 802.0,626.0 805.2,621.3 808.4,616.5 811.7,611.7 815.0,606.9 818.4,602.1 821.9,597.3 825.3,592.5 828.8,587.8 832.2,583.0 835.6,578.2 839.1,573.4 842.5,568.6 845.8,563.8 849.1,559.0 852.3,554.2 855.5,549.5 858.6,544.7 861.6,539.9 864.5,535.1 867.3,530.3 869.9,525.5 872.5,520.7 874.9,516.0 877.2,511.2 879.3,506.4 881.3,501.6 883.1,496.8 884.7,492.0"/></g>
<circle cx="828.8" cy="587.8" r="2.0" fill="#c8e040" filter="url(#bl05)"/>
<circle cx="828.8" cy="587.8" r="1.1" fill="#f08000"/>
</g>
<text transform="translate(623.90,457.50) scale(1.0834,1)" font-size="30.5" fill="#262626">2</text>
<text transform="translate(602.17,525.88) scale(0.9873,1)" font-size="30.5" fill="#262626">1.5</text>
<text transform="translate(624.99,594.25) scale(1.0138,1)" font-size="30.5" fill="#262626">1</text>
<text transform="translate(603.00,662.62) scale(0.9647,1)" font-size="30.5" fill="#262626">0.5</text>
<text transform="translate(624.45,731.00) scale(1.0029,1)" font-size="30.5" fill="#262626">0</text>
<text transform="translate(638.65,757.40) scale(1.0029,1)" font-size="30.5" fill="#262626">0</text>
<text transform="translate(724.12,757.40) scale(0.9045,1)" font-size="30.5" fill="#262626">40</text>
<text transform="translate(814.73,757.40) scale(0.9393,1)" font-size="30.5" fill="#262626">80</text>
<text transform="translate(898.11,757.40) scale(0.9443,1)" font-size="30.5" fill="#262626">120</text>
<text transform="translate(990.21,757.40) scale(0.9133,1)" font-size="30.5" fill="#262626">160</text>
<text transform="translate(710.10,794.30) scale(1.0597,1)" font-size="31" fill="#262626">FRFT samples - u</text>
<text transform="translate(592.80,690.21) rotate(-90) scale(1.0358,1)" font-size="32" fill="#262626">FRFT order - p</text>
<text transform="translate(809.50,836.00) scale(1.0957,1)" font-size="30" fill="#111">(d)</text>
</svg></body></html>
